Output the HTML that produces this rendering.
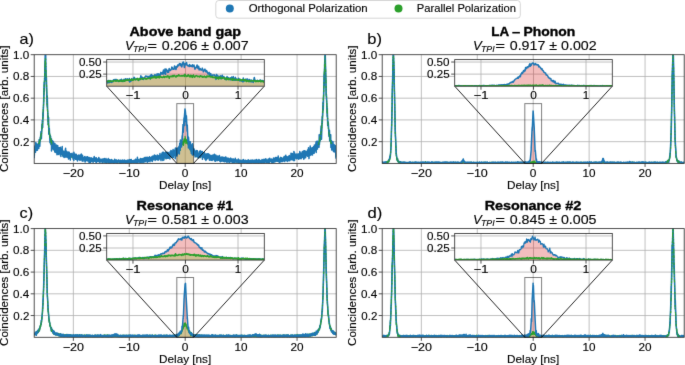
<!DOCTYPE html>
<html><head><meta charset="utf-8"><style>
html,body{margin:0;padding:0;background:#fff;}
svg{display:block;will-change:transform;font-family:"Liberation Sans", sans-serif;}
text{fill:#000;stroke:#000;stroke-width:0.12px;}
text[font-weight=bold]{stroke-width:0.35px;}
</style></head><body>
<svg width="685" height="365" viewBox="0 0 685 365">
<defs><filter id="bl" x="0" y="0" width="685" height="365" filterUnits="userSpaceOnUse" color-interpolation-filters="sRGB"><feConvolveMatrix order="3" kernelMatrix="0.0064 0.0672 0.0064 0.0672 0.7056 0.0672 0.0064 0.0672 0.0064" edgeMode="duplicate"/></filter></defs><g filter="url(#bl)"><rect width="685" height="365" fill="#fff"/>
<clipPath id="clipa"><rect x="34.2" y="54.7" width="302.0" height="108.7"/></clipPath>
<path d="M73.35,54.7V163.4M129.27,54.7V163.4M185.2,54.7V163.4M241.13,54.7V163.4M297.05,54.7V163.4M34.2,141.66H336.2M34.2,119.92H336.2M34.2,98.18H336.2M34.2,76.44H336.2" stroke="#b0b0b0" stroke-width="0.8" fill="none"/>
<g clip-path="url(#clipa)">
<path d="M176.81,150.88 L176.87,156.06 L176.92,154.57 L176.98,150.52 L177.03,155.43 L177.09,152.26 L177.15,154.81 L177.2,150.88 L177.26,151.74 L177.31,154.78 L177.37,152.05 L177.43,153.67 L177.48,152.56 L177.54,148.75 L177.59,150.7 L177.65,150.51 L177.71,147.94 L177.76,150.85 L177.82,148.25 L177.87,150.1 L177.93,150.29 L177.99,151.55 L178.04,152.47 L178.1,152.82 L178.15,152.53 L178.21,149.35 L178.27,149.51 L178.32,152.1 L178.38,147.57 L178.43,151.51 L178.49,150.89 L178.54,152.94 L178.6,151.69 L178.66,147.87 L178.71,148.72 L178.77,150.98 L178.82,146.77 L178.88,149.54 L178.94,149.13 L178.99,146.85 L179.05,148.07 L179.1,149.74 L179.16,151.27 L179.22,145.89 L179.27,154.02 L179.33,150 L179.38,152.46 L179.44,149.71 L179.5,146.32 L179.55,148.92 L179.61,149.02 L179.66,148.04 L179.72,143.25 L179.78,144.48 L179.83,147.04 L179.89,148.96 L179.94,148.27 L180,146.4 L180.05,147.64 L180.11,147.24 L180.17,149.31 L180.22,149.96 L180.28,149.2 L180.33,145.84 L180.39,148.51 L180.45,139.93 L180.5,144.6 L180.56,144.2 L180.61,143.18 L180.67,148.07 L180.73,148.24 L180.78,145.72 L180.84,143.48 L180.89,143.4 L180.95,140.43 L181.01,140.84 L181.06,141.51 L181.12,141.07 L181.17,143.07 L181.23,141.32 L181.29,144.04 L181.34,144.18 L181.4,140.37 L181.45,146.97 L181.51,138.62 L181.56,137.11 L181.62,143.11 L181.68,139.49 L181.73,140.77 L181.79,143.62 L181.84,139.62 L181.9,138.85 L181.96,137.16 L182.01,140.59 L182.07,138.92 L182.12,140.71 L182.18,135.71 L182.24,138.52 L182.29,135.32 L182.35,139.43 L182.4,136.67 L182.46,139.29 L182.52,138.4 L182.57,132.34 L182.63,135.82 L182.68,135.04 L182.74,132.01 L182.8,136.33 L182.85,127.12 L182.91,135.22 L182.96,133.47 L183.02,124.58 L183.07,136.73 L183.13,124.7 L183.19,128.66 L183.24,127.64 L183.3,132.35 L183.35,127.6 L183.41,131.95 L183.47,123.51 L183.52,127.25 L183.58,128.08 L183.63,126.91 L183.69,125.13 L183.75,120.44 L183.8,122.04 L183.86,125.6 L183.91,125.43 L183.97,125.47 L184.03,118.08 L184.08,118.7 L184.14,124.2 L184.19,125.67 L184.25,119.18 L184.31,120.7 L184.36,115.97 L184.42,118.04 L184.47,115.69 L184.53,113.58 L184.58,112.27 L184.64,116.91 L184.7,112.9 L184.75,117.75 L184.81,120.05 L184.86,114.1 L184.92,109.99 L184.98,108.96 L185.03,114.81 L185.09,121.41 L185.14,113.12 L185.2,115.28 L185.26,111.93 L185.31,110.17 L185.37,116.35 L185.42,117.58 L185.48,116.44 L185.54,117.81 L185.59,119.28 L185.65,114.71 L185.7,118.78 L185.76,117.3 L185.82,117.84 L185.87,119.31 L185.93,114.96 L185.98,119.55 L186.04,118.53 L186.09,115.61 L186.15,119.73 L186.21,125.22 L186.26,122.01 L186.32,122.55 L186.37,118.98 L186.43,115.76 L186.49,121.75 L186.54,123.56 L186.6,118.39 L186.65,126.77 L186.71,123.82 L186.77,123.81 L186.82,126.28 L186.88,127.36 L186.93,126.71 L186.99,122.76 L187.05,126.6 L187.1,131.12 L187.16,128.76 L187.21,127.13 L187.27,125.07 L187.33,128.84 L187.38,131.38 L187.44,128.15 L187.49,130.29 L187.55,133.15 L187.6,136.17 L187.66,134.36 L187.72,132.22 L187.77,138.81 L187.83,140.82 L187.88,134.97 L187.94,141.44 L188,141.15 L188.05,138.37 L188.11,138.86 L188.16,138.4 L188.22,138.47 L188.28,137.81 L188.33,139.93 L188.39,142.28 L188.44,148.08 L188.5,137.24 L188.56,138.81 L188.61,139.55 L188.67,141.58 L188.72,144.14 L188.78,140.79 L188.84,142.5 L188.89,146.11 L188.95,140.13 L189,146.71 L189.06,144.37 L189.11,138.97 L189.17,145.74 L189.23,143.43 L189.28,141.42 L189.34,144.26 L189.39,147.97 L189.45,145.86 L189.51,144.94 L189.56,148.68 L189.62,141.65 L189.67,144.55 L189.73,143.76 L189.79,144.99 L189.84,144.88 L189.9,146.8 L189.95,149.61 L190.01,144.64 L190.07,146.29 L190.12,142.81 L190.18,149.38 L190.23,146.4 L190.29,141.84 L190.35,150.16 L190.4,149.92 L190.46,146.78 L190.51,143.53 L190.57,150.27 L190.62,147.53 L190.68,148.2 L190.74,149.17 L190.79,148.59 L190.85,145.39 L190.9,147.94 L190.96,151.3 L191.02,149.85 L191.07,148.37 L191.13,151.79 L191.18,150.33 L191.24,149.79 L191.3,153.61 L191.35,145.07 L191.41,152.73 L191.46,149.18 L191.52,149.79 L191.58,150.81 L191.63,147 L191.69,149.56 L191.74,151.57 L191.8,147.39 L191.86,148.8 L191.91,152.24 L191.97,153.35 L192.02,148.37 L192.08,150.59 L192.13,153.44 L192.19,149.33 L192.25,153.53 L192.3,152.06 L192.36,152.4 L192.41,154.86 L192.47,149.45 L192.53,143.77 L192.58,149.69 L192.64,150.24 L192.69,151.66 L192.75,151.35 L192.81,150.71 L192.86,150.08 L192.92,152.41 L192.97,151.38 L193.03,151.94 L193.09,150.46 L193.14,149.76 L193.2,149.5 L193.25,152.61 L193.31,152.73 L193.37,150.47 L193.42,152.38 L193.48,152.34 L193.53,151.07 L193.59,151.27 L193.59,163.4 L176.81,163.4 Z" fill="#d62728" fill-opacity="0.3"/>
<path d="M176.81,153.13 L176.87,152.66 L176.92,153.42 L176.98,152.05 L177.03,152.13 L177.09,152.99 L177.15,150.87 L177.2,152.46 L177.26,152.56 L177.31,152.62 L177.37,151.87 L177.43,152 L177.48,152.6 L177.54,151.58 L177.59,151.03 L177.65,150.6 L177.71,151.29 L177.76,151.95 L177.82,152.25 L177.87,151.05 L177.93,150.35 L177.99,149.43 L178.04,151.55 L178.1,152.15 L178.15,151.99 L178.21,150.74 L178.27,150.39 L178.32,151.55 L178.38,151.87 L178.43,152.47 L178.49,150.03 L178.54,152 L178.6,150.03 L178.66,150.63 L178.71,152.18 L178.77,151.37 L178.82,149.33 L178.88,150.15 L178.94,150.28 L178.99,148.84 L179.05,149.92 L179.1,149.69 L179.16,149.58 L179.22,149.51 L179.27,148.47 L179.33,149.89 L179.38,148.25 L179.44,147.73 L179.5,149.57 L179.55,148.52 L179.61,149.99 L179.66,148.69 L179.72,147.46 L179.78,147.63 L179.83,148.83 L179.89,147.76 L179.94,147.72 L180,147.98 L180.05,147.83 L180.11,145.92 L180.17,150.37 L180.22,148.24 L180.28,146.63 L180.33,147.52 L180.39,146.94 L180.45,146.86 L180.5,147.28 L180.56,146.91 L180.61,147.59 L180.67,146.7 L180.73,145.78 L180.78,145.4 L180.84,145.78 L180.89,146.47 L180.95,146.49 L181.01,147.75 L181.06,146.04 L181.12,146.73 L181.17,146.34 L181.23,145.85 L181.29,145.29 L181.34,145.09 L181.4,145.1 L181.45,146.2 L181.51,145.36 L181.56,144.01 L181.62,144.75 L181.68,144.06 L181.73,144.32 L181.79,142.61 L181.84,142.3 L181.9,141.16 L181.96,144.29 L182.01,142.86 L182.07,145.08 L182.12,142.71 L182.18,142.87 L182.24,143.71 L182.29,141.51 L182.35,142.86 L182.4,144.68 L182.46,141.12 L182.52,142.59 L182.57,141.67 L182.63,143.22 L182.68,143.25 L182.74,143.67 L182.8,143.41 L182.85,141.23 L182.91,141.33 L182.96,143.78 L183.02,141.78 L183.07,141.66 L183.13,142.5 L183.19,141.18 L183.24,142.37 L183.3,140.22 L183.35,141.63 L183.41,141.02 L183.47,145.26 L183.52,141.66 L183.58,141.02 L183.63,141.74 L183.69,141.19 L183.75,141.99 L183.8,139.77 L183.86,141.98 L183.91,141.07 L183.97,138.92 L184.03,139.19 L184.08,140.57 L184.14,142.02 L184.19,142.75 L184.25,139.89 L184.31,140.09 L184.36,140.67 L184.42,140.63 L184.47,137.67 L184.53,139.11 L184.58,140.14 L184.64,140.37 L184.7,140.51 L184.75,139.66 L184.81,140.35 L184.86,139.89 L184.92,140.53 L184.98,139.07 L185.03,139.67 L185.09,141.35 L185.14,136.41 L185.2,139.6 L185.26,140.51 L185.31,141.44 L185.37,139.85 L185.42,140.71 L185.48,137.89 L185.54,139.34 L185.59,140.73 L185.65,142.18 L185.7,139.06 L185.76,142.11 L185.82,139.5 L185.87,139.97 L185.93,143.52 L185.98,140.52 L186.04,138.24 L186.09,141.38 L186.15,143.08 L186.21,142.47 L186.26,140.55 L186.32,140.15 L186.37,139.55 L186.43,140.29 L186.49,141.83 L186.54,141.28 L186.6,141.09 L186.65,141.07 L186.71,142.46 L186.77,140.25 L186.82,139.79 L186.88,141.33 L186.93,141.07 L186.99,142.84 L187.05,141.16 L187.1,142.45 L187.16,142.64 L187.21,140.72 L187.27,141.6 L187.33,142.41 L187.38,143.9 L187.44,142.02 L187.49,140.2 L187.55,141.85 L187.6,142.05 L187.66,141 L187.72,140.05 L187.77,141.94 L187.83,141.52 L187.88,142.57 L187.94,142.34 L188,142.5 L188.05,141.85 L188.11,143.77 L188.16,142.97 L188.22,143.1 L188.28,143.66 L188.33,144.36 L188.39,142.87 L188.44,144.34 L188.5,145.77 L188.56,143.34 L188.61,145.87 L188.67,143.51 L188.72,147.3 L188.78,144.61 L188.84,142.75 L188.89,145.09 L188.95,143.7 L189,145.53 L189.06,146.06 L189.11,145.65 L189.17,144.43 L189.23,144.2 L189.28,144.18 L189.34,144.88 L189.39,145.99 L189.45,148.22 L189.51,147.01 L189.56,144.74 L189.62,148.16 L189.67,146.08 L189.73,146.26 L189.79,148.59 L189.84,146.6 L189.9,147.49 L189.95,147 L190.01,147.44 L190.07,147.67 L190.12,148.52 L190.18,149.73 L190.23,146.01 L190.29,148.8 L190.35,148.31 L190.4,148.54 L190.46,148.57 L190.51,149.13 L190.57,147.94 L190.62,148.61 L190.68,149.19 L190.74,149.41 L190.79,148.43 L190.85,149.93 L190.9,148.61 L190.96,147.94 L191.02,148.3 L191.07,148.89 L191.13,151.13 L191.18,148.92 L191.24,149.46 L191.3,148.5 L191.35,150.42 L191.41,150.42 L191.46,148.71 L191.52,150.92 L191.58,149.18 L191.63,150.03 L191.69,152.73 L191.74,150.95 L191.8,151.05 L191.86,151.94 L191.91,152.54 L191.97,150.82 L192.02,151.91 L192.08,151.67 L192.13,152 L192.19,151.44 L192.25,150.85 L192.3,150.65 L192.36,150.99 L192.41,151.85 L192.47,151.75 L192.53,151.16 L192.58,150.64 L192.64,151.89 L192.69,153.01 L192.75,151.69 L192.81,151.46 L192.86,152.48 L192.92,151.11 L192.97,152.62 L193.03,152.26 L193.09,152 L193.14,151 L193.2,153.46 L193.25,152.04 L193.31,151.88 L193.37,152.71 L193.42,151.79 L193.48,153.27 L193.53,153.76 L193.59,153.87 L193.59,163.4 L176.81,163.4 Z" fill="#7dc832" fill-opacity="0.3"/>
<path d="M34.2,155.8 L34.9,147.3 L35.2,147.5 L35.2,148.7 L35.6,150.5 L36.1,147.4 L36.2,147.7 L36.2,146.4 L36.5,145.9 L36.7,149.3 L37.2,146.8 L37.2,146.9 L37.4,148.6 L38.2,145.1 L38.2,145.2 L38.6,147.0 L39.1,143.0 L39.2,143.3 L39.2,142.7 L39.4,143.6 L40.1,139.7 L40.2,139.7 L40.2,140.2 L40.3,140.3 L41.2,134.6 L41.2,136.4 L42.2,125.5 L42.3,124.8 L42.4,125.7 L43.1,112.2 L43.2,111.2 L43.3,111.5 L44.1,90.7 L44.2,92.0 L44.2,87.7 L45.1,62.6 L45.2,66.9 L45.2,61.1 L45.3,60.3 L46.2,76.9 L46.2,77.2 L47.1,104.1 L47.2,103.5 L47.2,106.0 L48.2,120.8 L48.2,124.4 L48.3,122.2 L49.2,133.1 L49.2,131.7 L50.1,137.9 L50.2,137.7 L50.3,138.0 L50.8,142.5 L51.1,141.6 L51.2,142.5 L51.3,141.9 L51.7,145.6 L52.2,145.4 L52.2,144.5 L53.1,147.5 L53.2,146.3 L53.2,146.3 L53.8,149.1 L54.2,148.2 L54.2,150.0 L54.3,146.1 L55.2,148.1 L55.2,148.3 L55.3,151.9 L55.8,147.7 L56.2,148.2 L56.2,150.0 L56.7,151.2 L57.0,148.0 L57.2,148.5 L57.2,149.9 L57.6,149.1 L58.1,151.6 L58.2,150.5 L58.2,150.7 L58.8,149.4 L58.9,153.1 L59.2,152.8 L59.3,151.2 L60.0,153.0 L60.1,150.5 L60.1,152.4 L60.2,151.9 L60.5,150.3 L60.9,154.1 L61.2,153.2 L61.2,152.2 L61.3,151.3 L61.4,154.1 L62.2,153.7 L62.2,152.7 L62.8,155.6 L62.9,151.2 L63.2,153.7 L63.2,152.9 L63.8,154.8 L64.0,151.9 L64.2,154.1 L64.2,154.7 L64.5,152.5 L64.7,155.4 L65.2,154.5 L65.2,152.7 L65.7,152.0 L66.1,155.1 L66.2,152.3 L66.2,153.5 L66.4,152.5 L66.9,156.1 L67.2,153.9 L67.3,155.1 L67.5,154.1 L67.6,155.5 L68.1,155.2 L68.2,155.1 L68.3,153.1 L69.2,156.8 L69.2,155.3 L69.9,156.8 L70.0,154.4 L70.2,155.8 L70.2,155.2 L70.3,154.3 L71.2,157.1 L71.2,155.6 L71.7,154.9 L72.1,156.7 L72.2,156.0 L72.2,157.4 L72.3,157.6 L72.8,154.7 L73.2,155.4 L73.2,156.1 L73.5,157.8 L73.9,155.2 L74.2,156.1 L74.2,156.9 L74.8,158.5 L75.1,155.7 L75.2,158.0 L75.2,156.4 L75.6,157.4 L76.1,155.7 L76.1,157.3 L76.2,157.8 L76.8,155.8 L77.2,156.4 L77.2,157.4 L77.5,156.2 L78.0,158.5 L78.2,157.4 L78.2,157.5 L78.3,155.8 L78.4,159.0 L79.2,157.2 L79.2,158.0 L79.3,156.1 L79.7,158.6 L80.2,158.3 L80.2,157.8 L80.9,157.4 L81.0,159.2 L81.2,158.7 L81.2,158.8 L81.3,159.4 L81.8,156.6 L82.2,157.9 L82.2,158.2 L82.3,157.6 L83.1,159.1 L83.2,158.6 L83.2,159.5 L83.7,157.7 L84.2,158.3 L84.3,158.6 L84.5,157.4 L84.6,159.5 L85.1,158.4 L85.2,158.0 L86.0,159.6 L86.2,158.8 L86.2,159.4 L86.9,160.4 L87.1,158.2 L87.2,159.1 L87.2,158.6 L87.8,158.0 L88.2,160.4 L88.2,159.8 L89.1,158.8 L89.2,160.1 L89.2,158.9 L89.9,160.5 L90.2,158.5 L90.2,159.2 L90.7,160.3 L91.1,159.0 L91.2,160.2 L91.2,159.7 L91.4,158.8 L91.6,161.3 L92.2,160.1 L92.3,159.8 L92.5,161.0 L92.9,158.6 L93.1,159.6 L93.2,160.3 L93.7,160.7 L94.0,159.2 L94.2,160.5 L94.2,160.5 L94.5,159.2 L95.1,160.9 L95.2,160.7 L95.2,161.2 L95.7,159.4 L96.0,161.2 L96.2,160.1 L96.2,160.8 L96.4,159.9 L97.1,161.0 L97.2,160.8 L97.2,160.4 L97.7,161.3 L98.1,159.4 L98.2,161.2 L98.2,161.0 L98.6,161.2 L98.6,160.0 L99.2,160.7 L99.2,160.3 L99.7,160.1 L99.9,161.7 L100.2,160.8 L100.2,160.5 L100.3,161.1 L100.4,159.9 L101.2,161.0 L101.3,160.2 L101.5,159.8 L102.2,161.5 L102.2,160.6 L102.7,161.6 L103.0,160.5 L103.2,161.1 L103.2,161.1 L103.4,161.7 L103.9,160.1 L104.2,161.6 L104.2,160.2 L104.6,162.0 L105.2,160.5 L105.2,160.8 L106.1,161.7 L106.1,160.7 L106.2,161.1 L106.2,162.1 L106.3,160.7 L106.8,162.2 L107.2,160.9 L107.2,160.7 L107.4,160.4 L108.2,162.2 L108.2,161.6 L108.5,160.6 L108.9,161.9 L109.2,160.9 L109.3,161.2 L109.9,160.7 L110.0,161.9 L110.1,161.7 L110.2,161.9 L110.8,160.6 L110.9,162.0 L111.2,160.9 L111.2,161.1 L111.3,160.7 L111.4,162.1 L112.2,161.2 L112.2,161.7 L112.3,160.4 L112.8,162.2 L113.2,161.8 L113.2,161.3 L113.8,162.0 L114.1,161.1 L114.2,161.8 L114.2,161.6 L114.7,161.8 L114.8,160.9 L115.2,161.5 L115.2,160.9 L116.1,162.2 L116.2,161.5 L116.2,161.4 L116.5,160.4 L117.0,161.9 L117.2,161.1 L117.3,161.7 L117.3,160.7 L118.0,162.0 L118.1,161.4 L118.2,161.6 L118.9,161.0 L119.1,162.2 L119.2,161.7 L119.2,161.6 L119.7,162.3 L119.8,160.9 L120.2,161.5 L120.2,161.4 L120.3,160.8 L120.9,162.1 L121.2,162.1 L121.2,162.0 L121.6,161.1 L122.1,162.2 L122.2,161.7 L122.2,161.7 L123.1,161.1 L123.2,162.2 L123.2,161.7 L123.6,160.7 L123.8,162.0 L124.2,162.0 L124.2,161.7 L124.6,161.9 L124.7,161.3 L125.2,161.7 L125.2,161.6 L125.5,161.0 L126.2,162.1 L126.3,161.1 L127.0,161.7 L127.1,160.8 L127.1,161.2 L127.2,161.4 L127.3,161.9 L127.4,160.9 L128.2,161.7 L128.2,161.6 L129.0,160.9 L129.1,162.1 L129.2,161.3 L129.2,161.4 L129.4,160.5 L129.6,162.0 L130.2,161.5 L130.2,162.1 L131.0,160.6 L131.2,161.0 L131.2,160.0 L131.6,162.0 L132.2,161.3 L132.2,161.2 L132.9,160.7 L133.1,161.6 L133.2,161.3 L133.2,161.1 L133.9,161.9 L134.0,160.6 L134.2,161.3 L134.3,160.8 L134.4,160.5 L134.7,161.4 L135.1,160.7 L135.2,161.1 L135.5,161.5 L135.8,160.2 L136.2,160.6 L136.2,160.9 L136.4,161.6 L136.8,160.2 L137.2,160.9 L137.2,160.5 L137.4,161.5 L137.8,159.8 L138.2,160.0 L138.2,160.6 L138.3,159.9 L138.5,161.4 L139.2,160.9 L139.2,160.5 L139.5,159.9 L140.0,161.6 L140.2,160.5 L140.2,159.6 L140.6,161.9 L141.2,160.1 L141.2,160.3 L141.4,161.1 L141.5,159.6 L142.2,160.4 L142.2,159.4 L143.0,158.9 L143.1,161.0 L143.2,159.7 L143.3,160.1 L143.3,160.5 L143.6,158.3 L144.2,159.8 L144.2,160.1 L144.8,159.2 L145.0,160.7 L145.2,160.0 L145.2,159.2 L145.3,160.8 L145.6,158.9 L146.2,160.4 L146.2,160.3 L146.5,159.0 L146.6,160.5 L147.2,160.0 L147.2,159.1 L147.3,158.6 L147.5,160.4 L148.2,159.1 L148.2,159.0 L148.5,159.8 L148.6,158.7 L149.2,158.9 L149.2,159.1 L149.5,160.4 L149.9,158.4 L150.2,159.3 L150.2,158.7 L150.6,159.8 L150.9,158.1 L151.2,158.9 L151.3,158.7 L151.4,159.4 L151.9,157.6 L152.1,158.5 L152.2,158.1 L152.3,157.9 L153.1,159.2 L153.2,158.2 L153.2,157.8 L153.8,159.3 L153.9,157.1 L154.2,158.5 L154.2,157.9 L154.7,157.5 L155.1,159.0 L155.2,158.0 L155.2,158.7 L155.4,158.9 L156.0,156.9 L156.2,157.1 L156.2,157.8 L156.8,156.7 L156.9,159.1 L157.2,157.2 L157.2,159.2 L157.3,156.3 L158.2,157.2 L158.2,158.2 L158.7,156.0 L158.7,159.1 L159.2,157.8 L159.3,157.2 L159.4,158.7 L160.0,155.7 L160.1,157.6 L160.2,157.2 L160.6,158.8 L161.0,155.3 L161.2,156.3 L161.2,157.9 L161.5,158.4 L162.2,155.0 L162.2,155.9 L162.6,157.6 L162.7,154.8 L163.2,156.4 L163.2,155.7 L163.7,157.5 L163.8,155.5 L164.2,156.1 L164.2,156.0 L164.7,154.5 L165.1,158.5 L165.2,156.6 L165.2,156.2 L165.7,157.3 L166.1,155.0 L166.2,155.9 L166.2,156.9 L166.6,157.9 L166.9,154.1 L167.2,155.5 L167.2,155.5 L168.1,156.6 L168.2,154.0 L168.3,155.2 L168.5,157.2 L168.9,154.0 L169.1,155.1 L169.2,155.9 L169.4,156.4 L169.7,153.7 L170.2,155.4 L170.2,155.0 L170.8,156.2 L171.0,154.2 L171.2,154.3 L171.2,154.8 L171.7,156.9 L171.8,154.0 L172.2,155.6 L172.2,154.8 L172.9,156.4 L173.2,153.2 L173.2,153.8 L173.6,153.4 L173.7,155.9 L174.2,154.4 L174.2,154.4 L174.9,155.7 L175.0,152.7 L175.2,153.7 L175.2,154.9 L175.5,155.2 L176.1,152.5 L176.2,154.2 L176.3,154.1 L177.1,150.9 L177.2,152.5 L177.3,152.6 L178.0,149.4 L178.2,152.0 L178.2,150.7 L178.4,152.5 L179.0,148.8 L179.2,149.6 L179.2,149.5 L180.1,145.9 L180.2,150.4 L180.2,148.2 L180.8,145.4 L181.2,146.3 L181.2,145.8 L181.5,146.2 L181.9,141.2 L182.2,142.9 L182.2,143.7 L182.4,144.7 L182.5,141.1 L183.2,141.2 L183.2,142.4 L183.5,145.3 L184.0,138.9 L184.2,142.7 L184.2,139.9 L185.1,141.3 L185.1,136.4 L185.2,139.6 L185.5,137.9 L185.9,143.5 L186.2,143.1 L186.2,142.5 L186.4,139.5 L187.0,142.8 L187.2,142.6 L187.2,140.7 L187.4,143.9 L187.7,140.1 L188.2,143.0 L188.2,143.1 L188.7,147.3 L188.8,142.7 L189.2,144.4 L189.2,144.2 L189.3,144.2 L190.2,149.7 L190.2,146.0 L191.1,151.1 L191.2,148.9 L191.2,149.5 L191.3,148.5 L191.7,152.7 L192.2,151.4 L192.2,150.9 L192.6,150.6 L193.2,153.5 L193.3,152.0 L193.9,151.8 L194.1,154.8 L194.1,153.2 L194.2,152.2 L194.4,152.1 L194.5,154.6 L195.2,153.6 L195.2,154.8 L195.5,155.3 L195.9,152.1 L196.2,153.4 L196.2,154.3 L196.3,152.2 L196.8,156.8 L197.2,154.5 L197.2,155.4 L197.6,152.6 L197.8,155.4 L198.2,155.4 L198.2,154.8 L198.5,156.0 L198.8,153.6 L199.2,155.7 L199.2,154.5 L199.5,153.6 L200.2,157.1 L200.2,155.2 L200.5,154.2 L200.6,157.4 L201.2,155.1 L201.3,156.6 L202.0,153.8 L202.1,155.7 L202.2,155.6 L202.3,154.1 L203.1,156.8 L203.2,155.7 L203.2,155.5 L203.8,154.1 L204.0,156.9 L204.2,156.1 L204.2,155.4 L204.6,157.2 L205.2,154.8 L205.2,156.3 L205.5,157.0 L205.9,154.4 L206.2,156.2 L206.2,156.8 L207.0,155.7 L207.1,158.1 L207.2,156.0 L207.2,155.8 L207.5,158.3 L208.0,154.9 L208.2,156.8 L208.2,155.8 L208.7,157.7 L209.2,157.2 L209.2,157.6 L209.3,156.0 L209.5,157.9 L210.2,156.7 L210.3,157.2 L210.7,156.4 L210.8,158.1 L211.1,156.5 L211.2,157.8 L211.8,156.3 L212.1,158.8 L212.2,157.5 L212.2,157.9 L212.4,158.4 L212.6,156.5 L213.2,157.9 L213.2,157.8 L213.7,158.8 L214.2,156.6 L214.2,158.5 L214.3,156.6 L215.2,158.5 L215.2,158.4 L215.9,157.1 L216.2,160.1 L216.2,158.1 L216.6,159.2 L217.0,157.2 L217.2,157.8 L217.2,157.7 L217.4,159.7 L217.6,157.3 L218.2,158.2 L218.3,160.1 L218.6,157.7 L219.1,158.3 L219.2,159.0 L219.4,159.6 L220.0,158.1 L220.2,158.3 L220.2,159.4 L220.9,158.3 L221.1,160.0 L221.2,159.2 L221.2,158.1 L221.6,160.4 L222.2,159.3 L222.2,159.1 L223.1,158.4 L223.2,160.4 L223.2,160.0 L224.0,160.6 L224.1,159.0 L224.2,160.1 L224.2,159.1 L224.3,160.8 L225.2,159.9 L225.2,160.7 L225.4,160.8 L225.5,159.1 L226.2,159.9 L226.2,160.1 L227.0,159.4 L227.1,160.6 L227.1,160.0 L227.2,160.9 L227.5,159.6 L228.0,160.9 L228.2,160.6 L228.2,160.0 L228.7,161.1 L229.1,159.0 L229.2,160.1 L229.2,160.2 L229.4,161.3 L229.4,159.7 L230.2,160.5 L230.2,161.3 L230.3,159.8 L230.6,161.5 L231.2,160.9 L231.2,160.6 L231.7,161.2 L231.9,159.9 L232.2,160.5 L232.2,160.4 L232.6,160.0 L232.9,161.6 L233.2,160.3 L233.2,160.4 L233.4,161.9 L234.2,160.4 L234.2,160.4 L235.0,161.7 L235.2,160.1 L235.3,160.5 L235.5,160.3 L235.8,161.9 L236.1,160.7 L236.2,161.8 L236.3,160.4 L237.2,161.2 L237.2,161.1 L237.8,160.8 L237.9,162.1 L238.2,162.0 L238.2,160.4 L238.3,160.3 L238.8,162.0 L239.2,161.0 L239.2,161.7 L239.3,160.5 L239.9,161.7 L240.2,161.1 L240.2,161.4 L240.6,160.4 L240.8,161.8 L241.2,161.3 L241.2,161.4 L242.0,161.8 L242.1,161.0 L242.2,161.3 L242.2,161.2 L243.0,161.1 L243.2,162.3 L243.3,161.6 L243.3,162.1 L243.6,160.7 L244.1,161.8 L244.2,161.4 L244.4,160.9 L244.8,162.3 L245.2,162.2 L245.2,161.5 L245.7,161.0 L245.9,162.1 L246.2,161.4 L246.2,161.8 L246.8,162.0 L246.9,160.6 L247.2,161.5 L247.2,161.2 L248.0,162.4 L248.2,161.1 L248.2,162.0 L248.3,162.0 L248.7,160.7 L249.2,161.0 L249.2,161.3 L249.7,161.1 L249.8,162.3 L250.2,161.5 L250.2,161.2 L250.4,161.2 L251.1,162.2 L251.2,161.7 L251.2,161.1 L251.4,160.9 L252.2,162.4 L252.3,162.0 L252.5,160.9 L253.2,161.2 L253.2,162.2 L253.4,160.7 L253.7,162.3 L254.2,161.9 L254.2,161.1 L254.7,161.9 L255.1,160.9 L255.2,161.3 L255.2,161.6 L255.4,162.1 L255.9,160.8 L256.2,161.6 L256.2,161.5 L256.7,162.0 L256.7,160.8 L257.2,161.4 L257.2,161.6 L257.7,162.1 L258.0,160.7 L258.2,161.1 L258.2,161.8 L258.4,160.4 L258.9,161.9 L259.2,161.4 L259.2,161.1 L259.4,160.7 L260.2,162.2 L260.3,160.6 L260.6,162.0 L261.1,161.3 L261.2,160.7 L261.7,162.0 L261.8,160.5 L262.2,161.0 L262.2,161.8 L262.7,160.6 L263.2,161.0 L263.2,160.8 L263.4,160.5 L263.8,162.2 L264.2,161.5 L264.2,160.9 L264.8,160.3 L265.1,161.5 L265.2,161.2 L265.2,161.2 L265.8,161.5 L266.1,160.3 L266.2,160.7 L266.2,160.7 L266.4,160.3 L266.6,161.8 L267.2,161.5 L267.2,160.9 L267.6,161.5 L267.8,160.2 L268.2,160.2 L268.3,160.8 L268.5,161.4 L268.5,159.9 L269.1,161.2 L269.2,160.4 L269.3,159.8 L269.7,161.7 L270.2,159.8 L270.2,159.6 L270.9,161.5 L271.2,160.5 L271.2,160.5 L271.4,159.7 L271.9,161.5 L272.2,160.6 L272.2,160.2 L272.6,161.2 L272.9,159.5 L273.2,160.9 L273.2,159.6 L273.3,161.0 L274.1,159.5 L274.2,159.7 L274.2,160.3 L274.3,161.7 L274.7,159.4 L275.2,159.6 L275.2,160.4 L275.4,161.3 L276.1,159.5 L276.2,159.9 L276.2,161.1 L276.3,159.1 L277.2,159.6 L277.3,159.7 L277.4,160.6 L277.4,158.8 L278.1,159.9 L278.2,159.2 L278.4,159.1 L278.7,160.8 L279.2,159.8 L279.2,159.9 L279.4,160.7 L279.8,158.6 L280.2,159.8 L280.2,158.6 L280.4,160.9 L281.2,158.1 L281.2,158.2 L281.3,157.9 L282.1,159.9 L282.2,159.0 L282.2,158.6 L282.7,160.4 L283.1,158.0 L283.2,158.9 L283.2,159.1 L283.6,159.5 L283.9,157.9 L284.2,159.5 L284.2,158.2 L284.6,157.5 L284.9,159.4 L285.2,158.9 L285.3,158.5 L285.3,159.0 L286.0,157.7 L286.1,159.0 L286.2,158.7 L286.6,158.0 L287.0,159.9 L287.2,158.4 L287.2,158.7 L287.3,159.9 L287.4,157.6 L288.2,158.0 L288.2,159.0 L288.4,157.4 L289.0,159.3 L289.2,157.5 L289.2,158.3 L289.3,159.0 L290.1,157.1 L290.2,158.6 L290.2,157.7 L290.3,157.0 L291.1,158.7 L291.2,157.2 L291.2,157.6 L292.0,156.0 L292.1,158.3 L292.2,157.8 L292.2,157.2 L292.6,158.7 L292.7,156.2 L293.2,157.6 L293.2,157.0 L293.8,157.8 L293.9,155.8 L294.2,156.0 L294.3,157.1 L294.3,157.6 L294.4,154.4 L295.2,156.6 L295.2,157.6 L295.8,157.7 L296.2,155.5 L296.2,156.0 L296.4,158.1 L296.5,155.1 L297.2,156.3 L297.2,156.5 L297.3,155.1 L298.0,157.3 L298.2,156.4 L298.2,156.1 L298.5,156.8 L299.2,154.9 L299.2,155.4 L299.6,154.1 L300.2,157.0 L300.2,155.9 L300.6,154.5 L300.7,156.9 L301.2,154.8 L301.2,155.9 L301.4,156.7 L301.9,153.6 L302.2,156.2 L302.3,155.2 L302.5,153.3 L302.7,156.1 L303.1,153.6 L303.2,153.9 L303.8,153.1 L304.2,155.7 L304.2,154.1 L304.8,152.3 L304.9,155.4 L305.2,153.9 L305.2,153.1 L305.5,155.5 L306.2,152.0 L306.2,153.6 L307.0,151.3 L307.1,154.5 L307.2,152.4 L307.2,153.4 L307.9,154.2 L308.1,151.8 L308.2,153.5 L308.2,153.1 L308.6,150.8 L308.7,153.4 L309.2,152.4 L309.2,151.8 L309.7,150.6 L309.9,153.5 L310.2,152.5 L310.3,152.3 L310.7,152.7 L311.0,150.1 L311.1,151.1 L311.2,153.6 L311.4,150.0 L312.2,150.5 L312.2,150.9 L312.3,151.5 L312.9,149.1 L313.2,149.5 L313.2,149.5 L313.7,151.6 L314.2,147.6 L314.2,150.0 L314.4,150.7 L314.8,147.0 L315.2,147.6 L315.2,148.7 L315.9,146.3 L316.0,150.8 L316.2,148.4 L316.2,148.3 L316.3,146.0 L316.5,149.3 L317.2,148.4 L317.2,146.7 L318.2,144.4 L318.2,144.3 L318.3,145.1 L319.2,141.8 L319.3,141.6 L319.5,142.3 L320.1,138.0 L320.2,137.7 L320.3,138.7 L321.2,131.7 L321.2,131.7 L321.3,133.4 L322.1,122.2 L322.2,124.1 L322.2,120.8 L322.3,121.9 L323.2,104.7 L323.2,103.9 L324.2,78.5 L324.2,75.5 L325.0,60.2 L325.2,61.5 L325.2,63.0 L325.3,62.6 L326.2,88.8 L326.2,91.7 L327.1,112.6 L327.2,111.2 L327.3,112.2 L327.9,125.5 L328.1,124.8 L328.2,125.5 L329.0,133.9 L329.2,133.7 L329.2,135.2 L329.3,134.9 L330.0,140.5 L330.2,139.2 L330.2,139.7 L331.1,143.9 L331.2,143.3 L331.2,143.5 L331.3,143.0 L332.2,146.5 L332.2,145.7 L332.3,145.2 L332.7,147.6 L333.2,147.1 L333.2,146.7 L333.6,145.5 L333.7,149.5 L334.2,147.1 L334.2,148.1 L334.3,145.9 L335.0,151.2 L335.2,148.4 L335.2,148.7 L335.5,147.5 L336.1,156.7 L336.2,156.1" fill="none" stroke="#2ca02c" stroke-width="1.2" stroke-linejoin="round"/>
<path d="M34.2,158.2 L34.8,146.0 L35.2,151.9 L35.2,147.8 L35.5,152.2 L35.8,142.4 L36.2,146.7 L36.2,146.2 L36.3,150.5 L36.8,144.1 L37.2,145.5 L37.2,145.2 L37.4,150.2 L38.0,143.9 L38.2,147.8 L38.2,145.0 L38.8,148.4 L39.1,139.8 L39.2,140.3 L39.2,143.0 L39.8,146.2 L40.2,137.2 L40.2,138.6 L40.3,140.2 L41.0,131.6 L41.2,133.3 L41.2,133.6 L41.4,138.8 L41.9,124.5 L42.2,127.8 L42.3,120.4 L42.7,127.5 L42.9,113.1 L43.1,117.2 L43.2,114.9 L44.2,82.2 L44.2,86.0 L44.4,91.4 L45.2,54.7 L45.2,59.8 L45.7,54.5 L46.1,80.3 L46.2,77.8 L46.2,81.1 L46.4,77.3 L47.1,104.9 L47.2,95.9 L47.2,106.2 L47.3,96.9 L48.0,122.0 L48.2,116.6 L48.2,125.0 L48.6,117.4 L48.8,134.3 L49.2,130.6 L49.2,130.1 L49.3,128.2 L50.0,142.7 L50.2,135.3 L50.3,139.5 L50.6,136.3 L50.9,144.6 L51.1,144.5 L51.2,141.1 L51.5,139.1 L51.5,150.9 L52.2,143.4 L52.2,143.6 L52.3,149.1 L52.4,140.8 L53.2,141.5 L53.2,147.5 L53.6,142.3 L53.7,149.8 L54.2,149.4 L54.2,144.9 L54.8,151.9 L54.9,143.4 L55.2,146.4 L55.2,149.6 L55.8,152.4 L55.9,145.4 L56.2,148.2 L56.2,148.3 L56.3,144.9 L57.0,154.7 L57.2,148.6 L57.2,148.2 L57.5,153.6 L57.7,145.5 L58.2,150.7 L58.2,149.7 L58.5,154.5 L58.7,147.9 L59.2,153.4 L59.3,149.4 L59.4,147.7 L60.0,154.0 L60.1,149.5 L60.2,155.0 L60.4,147.3 L60.9,156.4 L61.2,152.9 L61.2,150.5 L61.3,154.5 L62.2,146.6 L62.2,148.6 L63.0,156.5 L63.2,155.1 L63.2,153.4 L63.6,151.2 L64.1,157.4 L64.2,154.8 L64.2,153.6 L64.6,151.8 L65.0,156.9 L65.2,154.6 L65.2,150.5 L65.6,148.3 L65.7,157.1 L66.2,156.1 L66.2,154.9 L66.6,151.3 L66.9,156.9 L67.2,153.6 L67.3,154.3 L67.8,157.5 L68.1,151.9 L68.2,152.0 L68.5,159.0 L69.2,156.0 L69.2,155.1 L69.3,152.3 L70.2,159.0 L70.2,154.9 L70.3,160.1 L70.7,153.7 L71.2,154.5 L71.2,154.2 L72.1,153.3 L72.2,156.7 L72.2,157.0 L72.8,154.6 L73.1,159.1 L73.2,156.8 L73.2,156.9 L73.8,160.4 L73.9,152.3 L74.2,155.8 L74.2,155.4 L74.3,158.8 L74.7,153.9 L75.2,156.3 L75.2,155.6 L75.7,159.3 L75.8,154.2 L76.1,156.5 L76.2,156.2 L76.5,154.6 L77.0,160.0 L77.2,157.4 L77.2,155.5 L77.5,160.9 L78.2,157.8 L78.2,157.7 L78.4,159.5 L78.8,154.9 L79.2,158.1 L79.2,158.1 L79.9,160.4 L80.1,156.0 L80.2,158.0 L80.2,159.4 L80.3,154.9 L80.7,159.8 L81.2,158.3 L81.2,157.6 L81.3,154.0 L82.0,160.6 L82.2,159.2 L82.2,161.0 L82.5,155.2 L83.0,161.2 L83.2,158.7 L83.2,160.3 L84.2,157.2 L84.3,157.1 L85.0,161.8 L85.0,156.6 L85.1,157.3 L85.2,162.0 L85.4,157.6 L86.2,159.6 L86.2,159.6 L86.7,160.7 L86.9,156.8 L87.2,160.2 L87.2,158.7 L87.7,156.8 L87.8,161.1 L88.2,158.9 L88.2,158.7 L88.5,157.8 L89.1,162.6 L89.2,158.7 L89.2,162.3 L89.5,162.4 L89.8,157.6 L90.2,158.2 L90.2,158.7 L90.3,162.6 L91.1,158.0 L91.2,160.2 L91.2,159.5 L91.4,158.0 L91.5,161.5 L92.2,159.3 L92.3,160.0 L92.7,158.6 L93.1,162.4 L93.1,160.8 L93.2,158.3 L93.3,158.2 L93.7,160.8 L94.2,159.1 L94.2,156.4 L94.5,161.2 L95.2,159.2 L95.2,160.0 L95.5,157.9 L95.7,162.0 L96.2,159.0 L96.2,160.4 L96.3,157.7 L96.4,162.6 L97.2,159.3 L97.2,161.0 L97.6,159.1 L98.0,161.5 L98.2,159.6 L98.2,160.5 L98.8,157.4 L99.2,161.3 L99.2,160.5 L99.4,162.2 L99.5,158.8 L100.2,160.6 L100.2,160.3 L100.4,159.3 L100.5,162.1 L101.2,160.0 L101.3,161.0 L101.5,161.6 L102.0,159.1 L102.2,161.5 L102.2,162.2 L102.3,163.0 L103.2,158.9 L103.2,161.2 L103.5,159.6 L103.6,162.1 L104.2,160.8 L104.2,160.8 L104.4,158.4 L105.1,162.5 L105.2,160.9 L105.2,162.3 L105.5,162.5 L106.0,158.5 L106.2,160.8 L106.2,160.6 L106.6,163.4 L106.9,159.7 L107.2,162.1 L107.2,160.3 L107.4,161.9 L108.2,158.6 L108.2,161.9 L108.7,159.7 L108.9,163.3 L109.2,161.9 L109.3,160.7 L109.6,159.5 L110.1,163.2 L110.2,161.6 L110.4,159.9 L110.7,162.6 L111.2,161.0 L111.2,160.0 L111.5,162.7 L111.7,159.6 L112.2,160.8 L112.2,160.5 L112.8,162.6 L113.2,161.6 L113.2,161.1 L113.6,163.4 L114.0,160.3 L114.2,162.3 L114.2,163.1 L114.7,159.2 L115.2,161.8 L115.2,161.6 L115.5,162.6 L116.0,160.0 L116.2,162.1 L116.2,161.4 L116.6,162.8 L116.8,160.0 L117.2,161.0 L117.3,163.4 L117.3,160.5 L118.1,161.3 L118.2,161.3 L118.8,159.9 L119.2,163.4 L119.2,160.7 L119.3,160.6 L120.0,163.4 L120.2,160.9 L120.2,161.6 L120.9,160.1 L121.0,163.4 L121.2,162.2 L121.2,161.4 L121.4,160.4 L122.2,162.7 L122.2,161.8 L122.6,162.6 L122.7,160.1 L123.2,161.5 L123.2,160.6 L123.3,163.0 L124.2,161.6 L124.2,162.1 L124.4,159.9 L124.9,162.5 L125.2,161.4 L125.2,160.8 L125.4,163.4 L125.6,160.5 L126.2,161.6 L126.3,162.3 L126.4,162.8 L127.1,160.3 L127.2,162.9 L127.4,163.2 L127.4,160.3 L128.2,161.2 L128.2,161.9 L128.7,160.0 L129.2,163.1 L129.2,161.1 L129.8,163.0 L129.8,159.4 L130.2,160.4 L130.2,160.3 L130.9,162.8 L131.2,159.8 L131.2,161.3 L131.3,159.5 L131.7,162.7 L132.2,161.4 L132.2,161.0 L132.4,160.7 L132.7,162.3 L133.2,160.8 L133.2,161.9 L133.6,162.7 L134.2,160.1 L134.3,160.3 L134.4,160.1 L134.8,162.6 L135.1,161.3 L135.2,161.3 L135.8,159.1 L136.2,162.6 L136.2,162.2 L136.3,163.0 L136.7,159.9 L137.2,161.8 L137.2,162.3 L137.4,157.3 L137.6,162.9 L138.2,160.6 L138.2,160.4 L138.3,159.4 L138.9,161.9 L139.2,160.6 L139.2,160.8 L140.0,162.6 L140.2,158.8 L140.2,160.0 L140.7,158.5 L141.1,162.6 L141.2,160.3 L141.2,160.5 L141.3,158.7 L142.1,162.1 L142.2,159.0 L142.2,159.8 L142.9,158.8 L143.0,162.7 L143.2,158.8 L143.3,158.4 L143.3,158.3 L144.2,162.1 L144.2,160.9 L144.8,157.5 L144.9,161.1 L145.2,159.8 L145.2,159.6 L145.3,161.7 L146.0,157.3 L146.2,159.3 L146.2,161.0 L147.0,157.6 L147.1,161.2 L147.2,159.0 L147.2,162.4 L147.6,157.3 L148.2,158.3 L148.2,160.1 L148.4,161.6 L149.1,157.2 L149.2,159.6 L149.2,159.3 L149.6,156.7 L150.0,161.7 L150.2,159.5 L150.2,160.7 L151.1,157.4 L151.2,159.3 L151.3,158.8 L151.8,160.9 L152.0,156.4 L152.1,158.0 L152.2,157.3 L152.3,161.4 L153.0,155.9 L153.2,159.7 L153.2,159.3 L153.3,159.8 L154.0,156.3 L154.2,158.6 L154.2,158.7 L154.4,155.1 L155.1,160.4 L155.2,158.7 L155.2,158.2 L155.3,159.9 L155.5,155.4 L156.2,159.4 L156.2,156.0 L157.1,159.6 L157.2,157.5 L157.2,159.4 L157.3,154.9 L157.9,160.1 L158.2,156.8 L158.2,158.7 L158.6,160.0 L158.9,155.6 L159.2,156.1 L159.3,158.2 L159.5,158.9 L160.0,153.4 L160.1,157.8 L160.2,156.6 L160.5,154.9 L161.0,160.6 L161.2,155.5 L161.2,158.1 L162.0,153.0 L162.2,157.4 L162.2,157.8 L162.8,160.4 L162.8,152.3 L163.2,156.1 L163.2,156.2 L163.6,152.3 L163.9,160.0 L164.2,155.8 L164.2,155.0 L164.6,157.4 L165.2,152.5 L165.2,155.4 L165.7,152.1 L166.0,158.8 L166.2,158.6 L166.2,158.0 L166.5,152.8 L167.2,156.6 L167.2,155.1 L167.5,158.2 L167.8,152.3 L168.2,155.8 L168.3,155.1 L168.4,158.3 L168.6,152.8 L169.1,155.1 L169.2,154.5 L169.9,159.0 L170.2,151.4 L170.2,152.9 L170.8,155.8 L170.9,150.6 L171.2,151.9 L171.2,156.2 L171.8,151.0 L172.2,156.3 L172.2,157.2 L173.1,149.6 L173.2,155.3 L173.2,151.7 L173.3,157.6 L173.8,150.4 L174.2,153.7 L174.2,150.4 L174.6,155.3 L175.2,148.8 L175.2,158.7 L175.5,148.0 L176.2,155.1 L176.3,154.0 L176.4,148.3 L176.9,156.1 L177.1,154.8 L177.2,150.9 L177.3,154.8 L177.7,147.9 L178.2,152.5 L178.2,149.4 L178.5,152.9 L178.8,146.8 L179.2,151.3 L179.2,145.9 L179.3,154.0 L179.7,143.2 L180.2,149.3 L180.2,150.0 L180.4,139.9 L181.2,143.1 L181.2,141.3 L181.5,147.0 L182.2,135.7 L182.2,138.5 L182.3,139.4 L183.0,124.6 L183.2,128.7 L183.2,127.6 L183.3,132.3 L184.0,118.1 L184.2,125.7 L184.2,119.2 L185.0,109.0 L185.1,121.4 L185.1,113.1 L185.2,115.3 L185.3,110.2 L186.2,119.7 L186.2,125.2 L186.4,115.8 L187.1,131.1 L187.2,128.8 L187.2,127.1 L187.3,125.1 L187.9,141.4 L188.2,138.4 L188.2,138.5 L188.4,148.1 L188.5,137.2 L189.2,145.7 L189.2,143.4 L189.3,141.4 L190.0,149.6 L190.2,149.4 L190.2,146.4 L190.3,141.8 L191.1,151.8 L191.2,150.3 L191.2,149.8 L191.3,153.6 L191.4,145.1 L192.2,149.3 L192.2,153.5 L192.4,154.9 L192.5,143.8 L193.2,149.5 L193.3,152.6 L193.9,154.8 L194.1,149.0 L194.1,154.3 L194.2,150.3 L194.7,150.2 L195.1,157.0 L195.2,151.7 L195.2,152.0 L195.5,151.2 L195.9,155.3 L196.2,154.3 L196.2,153.2 L196.3,156.3 L196.7,150.5 L197.2,151.5 L197.2,153.9 L197.3,150.7 L197.5,157.0 L198.2,154.9 L198.2,155.0 L198.3,157.9 L199.2,151.9 L199.2,152.1 L199.5,151.2 L200.0,157.7 L200.2,154.5 L200.2,151.5 L200.6,150.9 L201.0,156.5 L201.2,151.5 L201.3,153.5 L201.4,151.9 L201.9,156.5 L202.1,155.4 L202.2,155.1 L202.3,151.6 L202.4,159.3 L203.2,154.4 L203.2,155.8 L203.9,157.5 L204.0,152.4 L204.2,155.2 L204.2,155.0 L204.5,152.8 L204.9,159.1 L205.2,155.4 L205.2,157.0 L205.4,154.4 L205.9,160.5 L206.2,156.2 L206.2,154.0 L206.8,159.3 L207.2,154.9 L207.2,153.8 L207.5,158.2 L208.2,153.7 L208.2,156.1 L208.9,154.3 L209.1,159.3 L209.2,155.8 L209.2,155.1 L209.5,160.2 L209.7,154.9 L210.2,156.5 L210.3,157.0 L210.5,155.4 L210.9,160.2 L211.1,155.9 L211.2,156.6 L212.0,155.4 L212.1,160.6 L212.2,157.5 L212.2,155.8 L212.9,159.2 L213.1,155.1 L213.2,158.3 L213.2,156.7 L213.4,159.7 L213.9,155.7 L214.2,158.4 L214.2,155.4 L214.4,154.2 L214.8,161.0 L215.2,158.0 L215.2,158.3 L215.4,161.2 L215.8,155.1 L216.2,157.3 L216.2,158.4 L216.5,156.1 L217.0,160.7 L217.2,159.1 L217.2,157.7 L217.3,160.6 L217.6,156.0 L218.2,158.7 L218.3,157.3 L218.6,160.3 L218.6,156.5 L219.1,160.1 L219.2,157.6 L219.4,155.6 L219.6,161.0 L220.2,159.7 L220.2,159.4 L220.4,161.8 L220.6,157.4 L221.2,159.5 L221.2,158.6 L221.3,157.1 L221.8,161.2 L222.2,160.9 L222.2,159.8 L222.6,161.1 L222.7,156.9 L223.2,158.5 L223.2,161.2 L223.7,157.5 L224.2,158.5 L224.2,161.8 L225.1,157.2 L225.2,158.3 L225.2,159.1 L225.4,161.6 L225.8,156.9 L226.2,159.9 L226.2,160.5 L226.3,157.8 L226.9,162.3 L227.1,160.4 L227.2,159.9 L227.7,158.1 L227.8,161.8 L228.2,160.5 L228.2,160.7 L228.4,161.8 L228.7,158.3 L229.2,159.9 L229.2,160.6 L229.3,162.6 L229.7,159.4 L230.2,159.8 L230.2,159.6 L230.7,158.1 L230.9,162.0 L231.2,161.3 L231.2,160.2 L231.3,161.9 L231.3,158.8 L232.2,159.8 L232.2,161.7 L232.6,158.9 L232.7,162.8 L233.2,160.8 L233.2,160.0 L233.5,159.0 L234.2,162.6 L234.2,161.0 L234.5,162.2 L235.0,159.5 L235.2,160.9 L235.3,158.2 L235.6,162.0 L236.1,160.1 L236.2,162.1 L236.4,160.0 L236.9,162.4 L237.2,161.5 L237.2,161.7 L237.8,159.7 L238.0,161.9 L238.2,160.6 L238.2,160.9 L238.3,159.0 L238.6,163.4 L239.2,161.0 L239.2,163.4 L239.6,160.1 L240.2,160.3 L240.2,161.6 L240.3,160.2 L241.1,163.1 L241.2,162.1 L241.2,161.5 L241.9,162.2 L241.9,160.2 L242.2,160.9 L242.2,162.2 L242.4,162.4 L242.9,160.0 L243.2,161.1 L243.3,162.6 L243.3,159.5 L244.1,162.8 L244.2,160.4 L244.9,162.7 L245.2,160.3 L245.2,161.2 L245.8,160.6 L246.0,162.3 L246.2,161.8 L246.2,160.9 L246.8,160.6 L247.0,163.4 L247.2,163.2 L247.2,160.7 L247.3,163.0 L248.2,159.7 L248.2,162.9 L248.3,161.1 L249.2,163.4 L249.2,161.2 L249.5,163.0 L249.7,160.4 L250.2,161.9 L250.2,161.5 L250.5,160.2 L251.0,163.4 L251.2,162.9 L251.2,162.4 L251.4,160.3 L251.8,162.6 L252.2,161.5 L252.3,162.1 L252.3,160.1 L252.6,162.6 L253.2,160.3 L253.2,161.1 L253.7,163.0 L253.8,160.7 L254.2,161.2 L254.2,160.6 L254.7,162.9 L254.9,159.9 L255.2,161.2 L255.2,161.9 L255.3,163.1 L255.4,160.1 L256.2,162.9 L256.2,162.5 L256.7,159.6 L256.9,162.7 L257.2,161.9 L257.2,162.9 L257.6,160.6 L258.2,160.8 L258.2,162.7 L258.7,163.4 L258.9,159.4 L259.2,161.5 L259.2,161.2 L259.8,160.4 L259.9,162.6 L260.2,160.5 L260.3,161.5 L261.0,163.1 L261.1,160.7 L261.1,161.0 L261.2,162.9 L261.9,163.0 L262.0,159.4 L262.2,161.6 L262.2,162.0 L262.4,162.6 L263.0,160.0 L263.2,161.9 L263.2,161.7 L263.6,162.9 L263.9,159.2 L264.2,160.8 L264.2,162.1 L264.4,162.8 L264.8,159.6 L265.2,161.2 L265.2,160.5 L265.8,158.8 L266.1,162.6 L266.2,160.6 L266.2,160.7 L266.4,162.6 L266.5,159.9 L267.2,160.5 L267.2,161.0 L267.7,162.6 L268.2,159.4 L268.3,159.0 L269.1,163.4 L269.2,161.3 L269.3,163.3 L269.7,158.2 L270.2,160.9 L270.2,161.7 L270.5,159.2 L271.2,160.8 L271.2,160.5 L271.7,159.0 L271.9,163.2 L272.2,160.9 L272.2,159.5 L272.9,161.7 L273.0,159.4 L273.2,161.2 L273.2,162.8 L273.5,158.0 L274.2,160.0 L274.2,160.0 L274.6,161.9 L275.1,157.8 L275.2,159.2 L275.2,159.0 L275.5,157.5 L275.6,161.4 L276.2,160.7 L276.2,160.0 L276.6,157.4 L277.0,161.1 L277.2,158.6 L277.3,159.1 L277.4,161.3 L278.0,157.2 L278.1,159.4 L278.2,156.1 L278.5,161.7 L279.2,161.1 L279.2,160.6 L279.8,162.5 L280.2,157.8 L280.2,158.8 L280.8,157.4 L280.9,161.4 L281.2,159.4 L281.2,159.0 L281.3,161.4 L281.6,158.1 L282.2,158.6 L282.2,160.6 L282.3,161.6 L283.2,158.1 L283.2,158.8 L283.6,161.0 L284.1,156.5 L284.2,160.1 L284.2,159.6 L284.8,161.5 L285.0,156.2 L285.2,158.0 L285.3,157.5 L285.8,155.2 L285.9,160.2 L286.1,157.6 L286.2,157.2 L286.5,156.6 L287.2,161.4 L287.2,159.3 L287.4,161.2 L287.4,156.9 L288.2,157.4 L288.2,158.0 L288.3,156.4 L288.4,160.7 L289.2,157.0 L289.2,157.0 L289.3,155.6 L289.6,160.8 L290.2,157.5 L290.2,159.3 L290.6,159.7 L291.0,153.3 L291.2,158.0 L291.2,156.9 L291.5,153.5 L291.9,159.7 L292.2,156.7 L292.2,160.1 L292.3,153.6 L293.2,156.4 L293.2,159.3 L293.9,160.8 L293.9,151.4 L294.2,155.8 L294.3,155.6 L294.6,160.3 L294.8,153.2 L295.2,156.2 L295.2,157.4 L295.4,158.1 L295.8,154.9 L296.2,155.6 L296.2,157.1 L296.7,158.7 L297.0,153.8 L297.2,155.1 L297.2,154.8 L297.4,158.4 L297.6,154.7 L298.2,155.5 L298.2,154.6 L298.7,159.2 L298.8,153.7 L299.2,155.8 L299.2,158.4 L299.5,158.5 L299.8,151.5 L300.2,156.5 L300.2,156.1 L300.3,152.8 L300.7,158.6 L301.2,155.2 L301.2,158.7 L302.0,152.3 L302.2,154.2 L302.3,157.2 L302.4,151.4 L303.0,157.7 L303.1,155.6 L303.2,156.0 L303.6,150.9 L303.8,159.2 L304.2,152.8 L304.2,154.1 L304.3,158.3 L304.3,150.8 L305.2,150.9 L305.2,153.8 L305.6,157.7 L305.9,152.1 L306.2,153.8 L306.2,151.8 L306.5,155.5 L307.2,151.0 L307.2,153.1 L307.5,156.2 L307.6,149.9 L308.2,154.7 L308.2,153.6 L308.5,147.8 L309.0,158.6 L309.2,151.0 L309.2,152.3 L309.9,155.6 L310.2,146.1 L310.3,152.9 L310.9,155.0 L311.0,148.7 L311.1,150.4 L311.2,153.9 L311.3,154.6 L311.5,147.9 L312.2,149.0 L312.2,152.0 L312.5,154.9 L312.6,147.4 L313.2,153.0 L313.2,153.4 L313.7,146.6 L314.2,148.7 L314.2,153.3 L314.4,144.9 L315.2,150.7 L315.2,149.0 L316.1,141.8 L316.2,152.4 L316.2,146.7 L316.3,149.9 L317.1,141.0 L317.2,146.4 L317.2,144.6 L317.5,148.9 L317.6,141.4 L318.2,143.4 L318.2,143.3 L319.0,147.3 L319.2,134.7 L319.3,144.1 L319.4,144.7 L320.0,137.2 L320.1,137.2 L320.2,140.8 L321.1,126.1 L321.2,132.9 L321.2,127.9 L321.5,139.2 L322.2,116.2 L322.2,116.3 L322.3,123.0 L323.0,102.2 L323.2,106.3 L323.2,104.1 L323.3,109.5 L324.1,74.5 L324.2,85.6 L324.2,75.9 L324.3,76.9 L325.0,52.2 L325.2,69.6 L325.2,66.5 L325.3,55.2 L326.2,95.9 L326.2,96.1 L326.4,94.4 L327.2,116.7 L327.3,110.2 L327.3,107.9 L327.7,125.5 L328.1,121.8 L328.2,124.7 L328.3,122.7 L329.0,136.4 L329.2,134.6 L329.2,135.6 L329.5,130.4 L329.7,141.0 L330.2,139.5 L330.2,139.9 L330.7,134.7 L330.9,147.5 L331.2,142.3 L331.2,141.2 L331.6,140.9 L331.7,150.0 L332.2,144.8 L332.2,147.8 L333.0,141.8 L333.1,150.5 L333.2,144.4 L333.2,150.9 L333.7,144.3 L333.8,151.7 L334.2,148.6 L334.2,148.6 L334.5,144.9 L334.7,151.6 L335.2,149.0 L335.2,152.4 L335.3,145.8 L336.0,158.1 L336.1,153.6 L336.2,156.9" fill="none" stroke="#1f77b4" stroke-width="1.5" stroke-linejoin="round"/>
<path d="M38.67,143.78 L38.73,143.36 L38.79,144.94 L38.84,143.39 L38.9,142.7 L38.95,144.16 L39.01,143.4 L39.07,142.71 L39.12,142.28 L39.18,143.29 L39.23,142.63 L39.29,140.33 L39.35,140.12 L39.4,143.63 L39.46,139.58 L39.51,142.49 L39.57,140.57 L39.62,143.18 L39.68,141.73 L39.74,142.11 L39.79,140.1 L39.85,140.66 L39.9,140.17 L39.96,140.01 L40.02,140.04 L40.07,138.91 L40.13,139.7 L40.18,139.73 L40.24,140.2 L40.3,140.31 L40.35,139.59 L40.41,138.17 L40.46,137.05 L40.52,138.28 L40.58,135.21 L40.63,135.91 L40.69,137.22 L40.74,136.5 L40.8,136.7 L40.86,138.85 L40.91,134.92 L40.97,135.41 L41.02,137.69 L41.08,133.8 L41.13,135.45 L41.19,134.63 L41.25,136.36 L41.3,133.6 L41.36,132.53 L41.41,133.35 L41.47,132.34 L41.53,134.67 L41.58,130.68 L41.64,131.08 L41.69,130.61 L41.75,129.05 L41.81,128 L41.86,129.19 L41.92,127.15 L41.97,125.16 L42.03,129.17 L42.09,126.76 L42.14,128.91 L42.2,125.17 L42.25,122.89 L42.31,124.71 L42.37,125.72 L42.42,124.06 L42.48,121.79 L42.53,124.31 L42.59,123.45 L42.64,119.51 L42.7,121.89 L42.76,118.62 L42.81,119.81 L42.87,119.94 L42.92,114.77 L42.98,113.29 L43.04,115.86 L43.09,109.21 L43.15,112.21 L43.2,110.5 L43.26,110.12 L43.32,111.49 L43.37,106.3 L43.43,106.9 L43.48,105.02 L43.54,104.54 L43.6,104.41 L43.65,97.54 L43.71,100.15 L43.76,100.21 L43.82,96.96 L43.88,99.56 L43.93,94.73 L43.99,88.13 L44.04,94.02 L44.1,89.87 L44.15,92.04 L44.21,87.68 L44.27,83.52 L44.32,86.78 L44.38,84.9 L44.43,78.2 L44.49,78.6 L44.55,75.88 L44.6,74.46 L44.66,77.26 L44.71,76.67 L44.77,75.54 L44.83,67.94 L44.88,71.37 L44.94,70.94 L44.99,66.52 L45.05,64.32 L45.11,62.24 L45.16,66.91 L45.22,57.92 L45.27,63.47 L45.33,60.28 L45.39,60.69 L45.44,63.32 L45.5,59.89 L45.55,60.53 L45.61,59.1 L45.66,57.86 L45.72,58.29 L45.78,62.57 L45.83,64.55 L45.89,68.63 L45.94,73.03 L46,69.67 L46.06,73.83 L46.11,74.71 L46.17,76.94 L46.22,76.45 L46.28,80.2 L46.34,75.23 L46.39,80.6 L46.45,85.57 L46.5,85.2 L46.56,84.48 L46.62,92.05 L46.67,90.44 L46.73,93.66 L46.78,93.86 L46.84,96.54 L46.9,96.52 L46.95,97.33 L47.01,98.34 L47.06,104.1 L47.12,100.82 L47.17,103.47 L47.23,106.03 L47.29,106.04 L47.34,103.88 L47.4,108.5 L47.45,110.97 L47.51,108.96 L47.57,111.73 L47.62,111 L47.68,112.79 L47.73,111.69 L47.79,116.26 L47.85,116.72 L47.9,114.92 L47.96,114.68 L48.01,118.16 L48.07,117.2 L48.13,119.27 L48.18,120.83 L48.24,124.42 L48.29,118.71 L48.35,121 L48.41,127.44 L48.46,122.99 L48.52,125.91 L48.57,127.21 L48.63,127.08 L48.68,125.56 L48.74,127.4 L48.8,128.2 L48.85,128.67 L48.91,129.53 L48.96,128.62 L49.02,133.07 L49.08,132.44 L49.13,131.14 L49.19,133.11 L49.24,131.55 L49.3,132.78 L49.36,132.07 L49.41,133.3 L49.47,132.57 L49.52,133.83 L49.58,133.15 L49.64,135.06 L49.69,137.4 L49.75,135.24 L49.8,135.55 L49.86,136.6 L49.92,134.84 L49.97,135.81 L50.03,134.72 L50.08,137.63 L50.14,137.93 L50.19,137 L50.25,135.96 L50.31,139.14 L50.36,137.83 L50.42,138.77 L50.47,139.37 L50.53,138.03 L50.59,138.32 L50.64,138.77 L50.7,140.74 L50.75,140.13 L50.81,142.46 L50.87,139.87 L50.92,142.37 L50.98,141.29 L51.03,140.09 L51.09,141.63 L51.15,141.34 L51.2,142.52 L51.26,138.69 L51.31,143.53 L51.37,142.92 L51.43,142.54 L51.48,139.37 L51.54,143.36 L51.59,142.76 L51.65,142.02 L51.7,145.63 L51.76,142.19 L51.82,142.96 L51.87,141.73 L51.93,141.85 L51.98,143.18 L52.04,142.6" fill="none" stroke="#2ca02c" stroke-width="1.1" stroke-dasharray="1.4,1.8,0.8,2.6,2,1.5,1,3" stroke-opacity="0.9"/>
<path d="M318.3,145.07 L318.36,144.45 L318.42,144.87 L318.47,142.55 L318.53,143.51 L318.58,143.26 L318.64,143.74 L318.7,143.2 L318.75,144.24 L318.81,142.62 L318.86,143.87 L318.92,142.13 L318.97,142.59 L319.03,141.6 L319.09,140.68 L319.14,141.23 L319.2,141.41 L319.25,140.39 L319.31,141.87 L319.37,141.08 L319.42,140.33 L319.48,142.34 L319.53,141.23 L319.59,137.67 L319.65,139.71 L319.7,139.52 L319.76,138.81 L319.81,139.51 L319.87,139.59 L319.93,139.18 L319.98,137.24 L320.04,136.23 L320.09,138.74 L320.15,137.91 L320.21,136.9 L320.26,138.67 L320.32,136.8 L320.37,135.21 L320.43,134.79 L320.48,132.75 L320.54,136.06 L320.6,135.27 L320.65,133.74 L320.71,134.15 L320.76,132.65 L320.82,133.82 L320.88,135.84 L320.93,134.22 L320.99,135.05 L321.04,132.06 L321.1,130.05 L321.16,130.62 L321.21,131.68 L321.27,133.45 L321.32,130.1 L321.38,130.6 L321.44,130.08 L321.49,128.6 L321.55,124.54 L321.6,128.22 L321.66,128.15 L321.72,128.69 L321.77,124.44 L321.83,126.78 L321.88,127.66 L321.94,124.84 L321.99,122.95 L322.05,124.77 L322.11,122.17 L322.16,124.11 L322.22,118.59 L322.27,121.9 L322.33,119.23 L322.39,119.98 L322.44,118.47 L322.5,116.13 L322.55,116.85 L322.61,115.1 L322.67,111.86 L322.72,108.39 L322.78,110.54 L322.83,110.99 L322.89,109.61 L322.95,111.33 L323,109.96 L323.06,108.89 L323.11,104.79 L323.17,104.66 L323.23,103.91 L323.28,97.21 L323.34,100.69 L323.39,97.62 L323.45,97.01 L323.5,96.47 L323.56,94.06 L323.62,96.87 L323.67,91.88 L323.73,88.31 L323.78,85.26 L323.84,87.8 L323.9,82.47 L323.95,82.07 L324.01,83.1 L324.06,84.23 L324.12,78.04 L324.18,78.55 L324.23,72.48 L324.29,72.61 L324.34,75.48 L324.4,71.39 L324.46,67.73 L324.51,63.94 L324.57,72.26 L324.62,63.24 L324.68,66.73 L324.74,63.01 L324.79,63.84 L324.85,58.48 L324.9,59.53 L324.96,55.51 L325.01,56.65 L325.07,62.01 L325.13,66.18 L325.18,61.54 L325.24,63 L325.29,62.13 L325.35,65.3 L325.41,66.22 L325.46,63.92 L325.52,66.62 L325.57,70.45 L325.63,69.27 L325.69,74.12 L325.74,73.55 L325.8,73.02 L325.85,78.23 L325.91,82 L325.97,80.2 L326.02,83.2 L326.08,79.93 L326.13,85.97 L326.19,88.81 L326.25,91.66 L326.3,95.58 L326.36,94.01 L326.41,93.6 L326.47,97.17 L326.52,95.58 L326.58,96.16 L326.64,97.99 L326.69,102.09 L326.75,103.62 L326.8,101.61 L326.86,105.79 L326.92,106.91 L326.97,107.92 L327.03,105.39 L327.08,112.62 L327.14,108 L327.2,109.46 L327.25,109.19 L327.31,112.24 L327.36,109.96 L327.42,113.57 L327.48,117.39 L327.53,119.22 L327.59,117.48 L327.64,117.56 L327.7,118.63 L327.76,118.22 L327.81,118.76 L327.87,125.52 L327.92,122.17 L327.98,122.84 L328.03,122.53 L328.09,125.45 L328.15,122.91 L328.2,125.3 L328.26,123.91 L328.31,127.58 L328.37,127.35 L328.43,129.74 L328.48,129.7 L328.54,129.25 L328.59,130.12 L328.65,129.31 L328.71,129.61 L328.76,130.74 L328.82,131.17 L328.87,133.26 L328.93,132.69 L328.99,132.82 L329.04,133.95 L329.1,132.23 L329.15,132.91 L329.21,135.22 L329.27,135.09 L329.32,134.91 L329.38,135.05 L329.43,133.49 L329.49,136.13 L329.54,137 L329.6,136.03 L329.66,135.97 L329.71,135.52 L329.77,138.69 L329.82,138.04 L329.88,137.71 L329.94,138.03 L329.99,140.5 L330.05,138.26 L330.1,137.19 L330.16,138.49 L330.22,139.69 L330.27,141.04 L330.33,141.2 L330.38,140.23 L330.44,141.34 L330.5,141.54 L330.55,142.83 L330.61,140.49 L330.66,140.21 L330.72,141.51 L330.78,140.88 L330.83,141.65 L330.89,140.01 L330.94,142.25 L331,142.33 L331.05,143.89 L331.11,142.7 L331.17,143.27 L331.22,143.52 L331.28,141.36 L331.33,142.36 L331.39,142.22 L331.45,143.17 L331.5,144.72 L331.56,143.76 L331.61,142.76 L331.67,145.02" fill="none" stroke="#2ca02c" stroke-width="1.1" stroke-dasharray="1.4,1.8,0.8,2.6,2,1.5,1,3" stroke-opacity="0.9"/>
</g>
<rect x="34.2" y="54.7" width="302.0" height="108.7" fill="none" stroke="#333" stroke-width="0.85"/>
<path d="M73.35,163.4v3.5M129.27,163.4v3.5M185.2,163.4v3.5M241.13,163.4v3.5M297.05,163.4v3.5M34.2,141.66h-3.5M34.2,119.92h-3.5M34.2,98.18h-3.5M34.2,76.44h-3.5M34.2,54.7h-3.5" stroke="#333" stroke-width="0.85" fill="none"/>
<text x="62.65" y="176.80" font-size="10.4" font-weight="normal" font-style="normal" textLength="21.28" lengthAdjust="spacingAndGlyphs" >−20</text>
<text x="118.57" y="176.80" font-size="10.4" font-weight="normal" font-style="normal" textLength="21.28" lengthAdjust="spacingAndGlyphs" >−10</text>
<text x="181.89" y="176.80" font-size="10.4" font-weight="normal" font-style="normal" textLength="6.62" lengthAdjust="spacingAndGlyphs" >0</text>
<text x="234.40" y="176.80" font-size="10.4" font-weight="normal" font-style="normal" textLength="13.02" lengthAdjust="spacingAndGlyphs" >10</text>
<text x="290.44" y="176.80" font-size="10.4" font-weight="normal" font-style="normal" textLength="13.09" lengthAdjust="spacingAndGlyphs" >20</text>
<text x="13.37" y="145.71" font-size="10.4" font-weight="normal" font-style="normal" textLength="16.01" lengthAdjust="spacingAndGlyphs" >0.2</text>
<text x="12.92" y="123.97" font-size="10.4" font-weight="normal" font-style="normal" textLength="16.22" lengthAdjust="spacingAndGlyphs" >0.4</text>
<text x="12.99" y="102.23" font-size="10.4" font-weight="normal" font-style="normal" textLength="16.33" lengthAdjust="spacingAndGlyphs" >0.6</text>
<text x="13.04" y="80.49" font-size="10.4" font-weight="normal" font-style="normal" textLength="16.27" lengthAdjust="spacingAndGlyphs" >0.8</text>
<text x="13.03" y="58.75" font-size="10.4" font-weight="normal" font-style="normal" textLength="16.23" lengthAdjust="spacingAndGlyphs" >1.0</text>
<text x="159.01" y="188.90" font-size="10.4" font-weight="normal" font-style="normal" textLength="52.26" lengthAdjust="spacingAndGlyphs" >Delay [ns]</text>
<g transform="translate(7.9,0) rotate(-90)">
<text x="-172.08" y="0.00" font-size="10.4" font-weight="normal" font-style="normal" textLength="126.53" lengthAdjust="spacingAndGlyphs" >Coincidences [arb. units]</text>
</g>
<text x="129.53" y="35.80" font-size="12.4" font-weight="bold" font-style="normal" textLength="111.56" lengthAdjust="spacingAndGlyphs" >Above band gap</text>
<text x="124.95" y="49.90" font-size="12.4" font-weight="normal" font-style="italic" textLength="8.78" lengthAdjust="spacingAndGlyphs" >V</text>
<text x="132.91" y="51.70" font-size="8.7" font-weight="normal" font-style="italic" textLength="13.69" lengthAdjust="spacingAndGlyphs" >TPI</text>
<text x="147.17" y="49.90" font-size="12.4" font-weight="normal" font-style="normal" textLength="9.84" lengthAdjust="spacingAndGlyphs" >=</text>
<text x="161.75" y="49.90" font-size="12.4" font-weight="normal" font-style="normal" textLength="86.87" lengthAdjust="spacingAndGlyphs" >0.206 ± 0.007</text>
<text x="19.62" y="43.60" font-size="14.5" font-weight="normal" font-style="normal" textLength="14.41" lengthAdjust="spacingAndGlyphs" >a)</text>
<rect x="176.81" y="103.62" width="16.78" height="59.78" fill="none" stroke="#000" stroke-opacity="0.5" stroke-width="1"/>
<path d="M176.81,163.4L106.7,86.2M193.59,163.4L264.3,86.2" stroke="#000" stroke-opacity="0.85" stroke-width="1" fill="none"/>
<clipPath id="iclipa"><rect x="106.7" y="59.6" width="157.6" height="26.6"/></clipPath>
<rect x="106.7" y="59.6" width="157.6" height="26.6" fill="#fff"/>
<path d="M132.97,59.6V86.2M185.5,59.6V86.2M238.03,59.6V86.2M106.7,74.11H264.3M106.7,62.02H264.3" stroke="#b0b0b0" stroke-width="0.8" fill="none"/>
<g clip-path="url(#iclipa)">
<path d="M106.7,80.63 L107.23,82.93 L107.75,82.27 L108.28,80.47 L108.8,82.65 L109.33,81.24 L109.85,82.38 L110.38,80.63 L110.9,81.01 L111.43,82.36 L111.95,81.15 L112.48,81.87 L113,81.38 L113.53,79.68 L114.05,80.55 L114.58,80.47 L115.11,79.32 L115.63,80.62 L116.16,79.46 L116.68,80.28 L117.21,80.37 L117.73,80.93 L118.26,81.34 L118.78,81.49 L119.31,81.36 L119.83,79.95 L120.36,80.02 L120.88,81.17 L121.41,79.16 L121.93,80.91 L122.46,80.63 L122.99,81.55 L123.51,80.99 L124.04,79.29 L124.56,79.67 L125.09,80.67 L125.61,78.8 L126.14,80.03 L126.66,79.85 L127.19,78.84 L127.71,79.38 L128.24,80.12 L128.76,80.8 L129.29,78.41 L129.81,82.03 L130.34,80.24 L130.87,81.33 L131.39,80.11 L131.92,78.6 L132.44,79.76 L132.97,79.8 L133.49,79.37 L134.02,77.23 L134.54,77.78 L135.07,78.92 L135.59,79.78 L136.12,79.47 L136.64,78.63 L137.17,79.19 L137.69,79.01 L138.22,79.93 L138.75,80.22 L139.27,79.88 L139.8,78.39 L140.32,79.58 L140.85,75.76 L141.37,77.83 L141.9,77.66 L142.42,77.2 L142.95,79.38 L143.47,79.45 L144,78.33 L144.52,77.34 L145.05,77.3 L145.57,75.98 L146.1,76.16 L146.63,76.46 L147.15,76.27 L147.68,77.16 L148.2,76.38 L148.73,77.59 L149.25,77.65 L149.78,75.95 L150.3,78.89 L150.83,75.18 L151.35,74.5 L151.88,77.17 L152.4,75.56 L152.93,76.13 L153.45,77.4 L153.98,75.62 L154.51,75.27 L155.03,74.53 L155.56,76.05 L156.08,75.31 L156.61,76.1 L157.13,73.88 L157.66,75.13 L158.18,73.71 L158.71,75.53 L159.23,74.31 L159.76,75.47 L160.28,75.08 L160.81,72.38 L161.33,73.93 L161.86,73.58 L162.39,72.23 L162.91,74.15 L163.44,70.06 L163.96,73.66 L164.49,72.88 L165.01,68.93 L165.54,74.33 L166.06,68.98 L166.59,70.74 L167.11,70.29 L167.64,72.38 L168.16,70.27 L168.69,72.21 L169.21,68.45 L169.74,70.11 L170.27,70.49 L170.79,69.96 L171.32,69.17 L171.84,67.08 L172.37,67.8 L172.89,69.38 L173.42,69.31 L173.94,69.32 L174.47,66.04 L174.99,66.31 L175.52,68.76 L176.04,69.41 L176.57,66.53 L177.09,67.2 L177.62,65.1 L178.15,66.02 L178.67,64.97 L179.2,64.04 L179.72,63.45 L180.25,65.52 L180.77,63.73 L181.3,65.89 L181.82,66.91 L182.35,64.26 L182.87,62.44 L183.4,61.98 L183.92,64.58 L184.45,67.52 L184.97,63.83 L185.5,64.79 L186.03,63.3 L186.55,62.52 L187.08,65.26 L187.6,65.81 L188.13,65.31 L188.65,65.91 L189.18,66.57 L189.7,64.54 L190.23,66.35 L190.75,65.69 L191.28,65.93 L191.8,66.58 L192.33,64.65 L192.85,66.69 L193.38,66.23 L193.91,64.94 L194.43,66.77 L194.96,69.21 L195.48,67.78 L196.01,68.02 L196.53,66.44 L197.06,65 L197.58,67.67 L198.11,68.47 L198.63,66.17 L199.16,69.9 L199.68,68.59 L200.21,68.59 L200.73,69.69 L201.26,70.17 L201.79,69.88 L202.31,68.12 L202.84,69.83 L203.36,71.84 L203.89,70.79 L204.41,70.06 L204.94,69.14 L205.46,70.82 L205.99,71.95 L206.51,70.52 L207.04,71.47 L207.56,72.74 L208.09,74.09 L208.61,73.28 L209.14,72.33 L209.67,75.26 L210.19,76.15 L210.72,73.55 L211.24,76.43 L211.77,76.3 L212.29,75.06 L212.82,75.28 L213.34,75.08 L213.87,75.11 L214.39,74.82 L214.92,75.76 L215.44,76.8 L215.97,79.39 L216.49,74.56 L217.02,75.26 L217.55,75.59 L218.07,76.49 L218.6,77.63 L219.12,76.14 L219.65,76.9 L220.17,78.51 L220.7,75.85 L221.22,78.77 L221.75,77.73 L222.27,75.33 L222.8,78.34 L223.32,77.31 L223.85,76.42 L224.37,77.68 L224.9,79.34 L225.43,78.4 L225.95,77.99 L226.48,79.65 L227,76.52 L227.53,77.81 L228.05,77.46 L228.58,78.01 L229.1,77.96 L229.63,78.82 L230.15,80.06 L230.68,77.85 L231.2,78.59 L231.73,77.04 L232.25,79.96 L232.78,78.64 L233.31,76.61 L233.83,80.31 L234.36,80.2 L234.88,78.8 L235.41,77.36 L235.93,80.36 L236.46,79.14 L236.98,79.44 L237.51,79.87 L238.03,79.61 L238.56,78.19 L239.08,79.32 L239.61,80.82 L240.13,80.17 L240.66,79.51 L241.19,81.04 L241.71,80.38 L242.24,80.15 L242.76,81.84 L243.29,78.04 L243.81,81.45 L244.34,79.87 L244.86,80.14 L245.39,80.6 L245.91,78.9 L246.44,80.04 L246.96,80.93 L247.49,79.08 L248.01,79.7 L248.54,81.23 L249.07,81.73 L249.59,79.51 L250.12,80.5 L250.64,81.77 L251.17,79.94 L251.69,81.81 L252.22,81.15 L252.74,81.3 L253.27,82.4 L253.79,79.99 L254.32,77.46 L254.84,80.1 L255.37,80.35 L255.89,80.98 L256.42,80.84 L256.95,80.56 L257.47,80.28 L258,81.31 L258.52,80.85 L259.05,81.1 L259.57,80.44 L260.1,80.13 L260.62,80.02 L261.15,81.4 L261.67,81.45 L262.2,80.45 L262.72,81.3 L263.25,81.28 L263.77,80.71 L264.3,80.8 L264.3,86.2 L106.7,86.2 Z" fill="#d62728" fill-opacity="0.3"/>
<path d="M106.7,81.63 L107.23,81.42 L107.75,81.76 L108.28,81.15 L108.8,81.19 L109.33,81.57 L109.85,80.62 L110.38,81.33 L110.9,81.38 L111.43,81.4 L111.95,81.07 L112.48,81.13 L113,81.39 L113.53,80.94 L114.05,80.7 L114.58,80.5 L115.11,80.81 L115.63,81.1 L116.16,81.24 L116.68,80.71 L117.21,80.39 L117.73,79.98 L118.26,80.93 L118.78,81.2 L119.31,81.12 L119.83,80.57 L120.36,80.41 L120.88,80.93 L121.41,81.07 L121.93,81.34 L122.46,80.25 L122.99,81.13 L123.51,80.25 L124.04,80.52 L124.56,81.21 L125.09,80.85 L125.61,79.94 L126.14,80.31 L126.66,80.36 L127.19,79.72 L127.71,80.2 L128.24,80.1 L128.76,80.05 L129.29,80.02 L129.81,79.56 L130.34,80.19 L130.87,79.46 L131.39,79.23 L131.92,80.05 L132.44,79.58 L132.97,80.23 L133.49,79.65 L134.02,79.11 L134.54,79.18 L135.07,79.72 L135.59,79.24 L136.12,79.22 L136.64,79.34 L137.17,79.27 L137.69,78.42 L138.22,80.4 L138.75,79.45 L139.27,78.74 L139.8,79.14 L140.32,78.88 L140.85,78.84 L141.37,79.03 L141.9,78.86 L142.42,79.16 L142.95,78.77 L143.47,78.36 L144,78.19 L144.52,78.36 L145.05,78.67 L145.57,78.68 L146.1,79.24 L146.63,78.48 L147.15,78.78 L147.68,78.61 L148.2,78.39 L148.73,78.14 L149.25,78.05 L149.78,78.06 L150.3,78.55 L150.83,78.17 L151.35,77.57 L151.88,77.9 L152.4,77.6 L152.93,77.71 L153.45,76.95 L153.98,76.81 L154.51,76.3 L155.03,77.7 L155.56,77.06 L156.08,78.05 L156.61,76.99 L157.13,77.07 L157.66,77.44 L158.18,76.46 L158.71,77.06 L159.23,77.87 L159.76,76.29 L160.28,76.94 L160.81,76.53 L161.33,77.22 L161.86,77.23 L162.39,77.42 L162.91,77.3 L163.44,76.34 L163.96,76.38 L164.49,77.47 L165.01,76.58 L165.54,76.53 L166.06,76.9 L166.59,76.31 L167.11,76.84 L167.64,75.89 L168.16,76.51 L168.69,76.24 L169.21,78.13 L169.74,76.53 L170.27,76.24 L170.79,76.56 L171.32,76.32 L171.84,76.67 L172.37,75.69 L172.89,76.67 L173.42,76.27 L173.94,75.31 L174.47,75.43 L174.99,76.04 L175.52,76.69 L176.04,77.01 L176.57,75.74 L177.09,75.83 L177.62,76.09 L178.15,76.07 L178.67,74.75 L179.2,75.39 L179.72,75.85 L180.25,75.96 L180.77,76.01 L181.3,75.64 L181.82,75.95 L182.35,75.74 L182.87,76.03 L183.4,75.37 L183.92,75.64 L184.45,76.39 L184.97,74.19 L185.5,75.61 L186.03,76.01 L186.55,76.43 L187.08,75.72 L187.6,76.1 L188.13,74.85 L188.65,75.5 L189.18,76.11 L189.7,76.76 L190.23,75.37 L190.75,76.73 L191.28,75.57 L191.8,75.77 L192.33,77.36 L192.85,76.02 L193.38,75 L193.91,76.4 L194.43,77.16 L194.96,76.89 L195.48,76.03 L196.01,75.86 L196.53,75.59 L197.06,75.92 L197.58,76.6 L198.11,76.36 L198.63,76.27 L199.16,76.27 L199.68,76.88 L200.21,75.9 L200.73,75.69 L201.26,76.38 L201.79,76.26 L202.31,77.05 L202.84,76.31 L203.36,76.88 L203.89,76.96 L204.41,76.11 L204.94,76.5 L205.46,76.86 L205.99,77.52 L206.51,76.69 L207.04,75.88 L207.56,76.61 L208.09,76.7 L208.61,76.23 L209.14,75.81 L209.67,76.65 L210.19,76.46 L210.72,76.93 L211.24,76.83 L211.77,76.9 L212.29,76.61 L212.82,77.47 L213.34,77.11 L213.87,77.17 L214.39,77.42 L214.92,77.73 L215.44,77.07 L215.97,77.72 L216.49,78.36 L217.02,77.27 L217.55,78.4 L218.07,77.35 L218.6,79.04 L219.12,77.84 L219.65,77.01 L220.17,78.05 L220.7,77.43 L221.22,78.25 L221.75,78.48 L222.27,78.3 L222.8,77.76 L223.32,77.66 L223.85,77.65 L224.37,77.96 L224.9,78.45 L225.43,79.45 L225.95,78.91 L226.48,77.9 L227,79.42 L227.53,78.49 L228.05,78.57 L228.58,79.61 L229.1,78.73 L229.63,79.12 L230.15,78.9 L230.68,79.1 L231.2,79.2 L231.73,79.58 L232.25,80.12 L232.78,78.46 L233.31,79.71 L233.83,79.48 L234.36,79.59 L234.88,79.6 L235.41,79.85 L235.93,79.32 L236.46,79.62 L236.98,79.88 L237.51,79.97 L238.03,79.54 L238.56,80.21 L239.08,79.62 L239.61,79.32 L240.13,79.48 L240.66,79.74 L241.19,80.74 L241.71,79.76 L242.24,80 L242.76,79.57 L243.29,80.43 L243.81,80.42 L244.34,79.66 L244.86,80.65 L245.39,79.87 L245.91,80.25 L246.44,81.45 L246.96,80.66 L247.49,80.71 L248.01,81.1 L248.54,81.37 L249.07,80.6 L249.59,81.09 L250.12,80.98 L250.64,81.13 L251.17,80.88 L251.69,80.62 L252.22,80.53 L252.74,80.68 L253.27,81.06 L253.79,81.02 L254.32,80.75 L254.84,80.52 L255.37,81.08 L255.89,81.58 L256.42,80.99 L256.95,80.89 L257.47,81.34 L258,80.73 L258.52,81.4 L259.05,81.24 L259.57,81.13 L260.1,80.68 L260.62,81.78 L261.15,81.14 L261.67,81.08 L262.2,81.44 L262.72,81.03 L263.25,81.69 L263.77,81.91 L264.3,81.96 L264.3,86.2 L106.7,86.2 Z" fill="#7dc832" fill-opacity="0.3"/>
<path d="M106.7,80.63 L107.23,82.93 L107.75,82.27 L108.28,80.47 L108.8,82.65 L109.33,81.24 L109.85,82.38 L110.38,80.63 L110.9,81.01 L111.43,82.36 L111.95,81.15 L112.48,81.87 L113,81.38 L113.53,79.68 L114.05,80.55 L114.58,80.47 L115.11,79.32 L115.63,80.62 L116.16,79.46 L116.68,80.28 L117.21,80.37 L117.73,80.93 L118.26,81.34 L118.78,81.49 L119.31,81.36 L119.83,79.95 L120.36,80.02 L120.88,81.17 L121.41,79.16 L121.93,80.91 L122.46,80.63 L122.99,81.55 L123.51,80.99 L124.04,79.29 L124.56,79.67 L125.09,80.67 L125.61,78.8 L126.14,80.03 L126.66,79.85 L127.19,78.84 L127.71,79.38 L128.24,80.12 L128.76,80.8 L129.29,78.41 L129.81,82.03 L130.34,80.24 L130.87,81.33 L131.39,80.11 L131.92,78.6 L132.44,79.76 L132.97,79.8 L133.49,79.37 L134.02,77.23 L134.54,77.78 L135.07,78.92 L135.59,79.78 L136.12,79.47 L136.64,78.63 L137.17,79.19 L137.69,79.01 L138.22,79.93 L138.75,80.22 L139.27,79.88 L139.8,78.39 L140.32,79.58 L140.85,75.76 L141.37,77.83 L141.9,77.66 L142.42,77.2 L142.95,79.38 L143.47,79.45 L144,78.33 L144.52,77.34 L145.05,77.3 L145.57,75.98 L146.1,76.16 L146.63,76.46 L147.15,76.27 L147.68,77.16 L148.2,76.38 L148.73,77.59 L149.25,77.65 L149.78,75.95 L150.3,78.89 L150.83,75.18 L151.35,74.5 L151.88,77.17 L152.4,75.56 L152.93,76.13 L153.45,77.4 L153.98,75.62 L154.51,75.27 L155.03,74.53 L155.56,76.05 L156.08,75.31 L156.61,76.1 L157.13,73.88 L157.66,75.13 L158.18,73.71 L158.71,75.53 L159.23,74.31 L159.76,75.47 L160.28,75.08 L160.81,72.38 L161.33,73.93 L161.86,73.58 L162.39,72.23 L162.91,74.15 L163.44,70.06 L163.96,73.66 L164.49,72.88 L165.01,68.93 L165.54,74.33 L166.06,68.98 L166.59,70.74 L167.11,70.29 L167.64,72.38 L168.16,70.27 L168.69,72.21 L169.21,68.45 L169.74,70.11 L170.27,70.49 L170.79,69.96 L171.32,69.17 L171.84,67.08 L172.37,67.8 L172.89,69.38 L173.42,69.31 L173.94,69.32 L174.47,66.04 L174.99,66.31 L175.52,68.76 L176.04,69.41 L176.57,66.53 L177.09,67.2 L177.62,65.1 L178.15,66.02 L178.67,64.97 L179.2,64.04 L179.72,63.45 L180.25,65.52 L180.77,63.73 L181.3,65.89 L181.82,66.91 L182.35,64.26 L182.87,62.44 L183.4,61.98 L183.92,64.58 L184.45,67.52 L184.97,63.83 L185.5,64.79 L186.03,63.3 L186.55,62.52 L187.08,65.26 L187.6,65.81 L188.13,65.31 L188.65,65.91 L189.18,66.57 L189.7,64.54 L190.23,66.35 L190.75,65.69 L191.28,65.93 L191.8,66.58 L192.33,64.65 L192.85,66.69 L193.38,66.23 L193.91,64.94 L194.43,66.77 L194.96,69.21 L195.48,67.78 L196.01,68.02 L196.53,66.44 L197.06,65 L197.58,67.67 L198.11,68.47 L198.63,66.17 L199.16,69.9 L199.68,68.59 L200.21,68.59 L200.73,69.69 L201.26,70.17 L201.79,69.88 L202.31,68.12 L202.84,69.83 L203.36,71.84 L203.89,70.79 L204.41,70.06 L204.94,69.14 L205.46,70.82 L205.99,71.95 L206.51,70.52 L207.04,71.47 L207.56,72.74 L208.09,74.09 L208.61,73.28 L209.14,72.33 L209.67,75.26 L210.19,76.15 L210.72,73.55 L211.24,76.43 L211.77,76.3 L212.29,75.06 L212.82,75.28 L213.34,75.08 L213.87,75.11 L214.39,74.82 L214.92,75.76 L215.44,76.8 L215.97,79.39 L216.49,74.56 L217.02,75.26 L217.55,75.59 L218.07,76.49 L218.6,77.63 L219.12,76.14 L219.65,76.9 L220.17,78.51 L220.7,75.85 L221.22,78.77 L221.75,77.73 L222.27,75.33 L222.8,78.34 L223.32,77.31 L223.85,76.42 L224.37,77.68 L224.9,79.34 L225.43,78.4 L225.95,77.99 L226.48,79.65 L227,76.52 L227.53,77.81 L228.05,77.46 L228.58,78.01 L229.1,77.96 L229.63,78.82 L230.15,80.06 L230.68,77.85 L231.2,78.59 L231.73,77.04 L232.25,79.96 L232.78,78.64 L233.31,76.61 L233.83,80.31 L234.36,80.2 L234.88,78.8 L235.41,77.36 L235.93,80.36 L236.46,79.14 L236.98,79.44 L237.51,79.87 L238.03,79.61 L238.56,78.19 L239.08,79.32 L239.61,80.82 L240.13,80.17 L240.66,79.51 L241.19,81.04 L241.71,80.38 L242.24,80.15 L242.76,81.84 L243.29,78.04 L243.81,81.45 L244.34,79.87 L244.86,80.14 L245.39,80.6 L245.91,78.9 L246.44,80.04 L246.96,80.93 L247.49,79.08 L248.01,79.7 L248.54,81.23 L249.07,81.73 L249.59,79.51 L250.12,80.5 L250.64,81.77 L251.17,79.94 L251.69,81.81 L252.22,81.15 L252.74,81.3 L253.27,82.4 L253.79,79.99 L254.32,77.46 L254.84,80.1 L255.37,80.35 L255.89,80.98 L256.42,80.84 L256.95,80.56 L257.47,80.28 L258,81.31 L258.52,80.85 L259.05,81.1 L259.57,80.44 L260.1,80.13 L260.62,80.02 L261.15,81.4 L261.67,81.45 L262.2,80.45 L262.72,81.3 L263.25,81.28 L263.77,80.71 L264.3,80.8" fill="none" stroke="#1f77b4" stroke-width="1.5" stroke-linejoin="round"/>
<path d="M106.7,81.63 L107.23,81.42 L107.75,81.76 L108.28,81.15 L108.8,81.19 L109.33,81.57 L109.85,80.62 L110.38,81.33 L110.9,81.38 L111.43,81.4 L111.95,81.07 L112.48,81.13 L113,81.39 L113.53,80.94 L114.05,80.7 L114.58,80.5 L115.11,80.81 L115.63,81.1 L116.16,81.24 L116.68,80.71 L117.21,80.39 L117.73,79.98 L118.26,80.93 L118.78,81.2 L119.31,81.12 L119.83,80.57 L120.36,80.41 L120.88,80.93 L121.41,81.07 L121.93,81.34 L122.46,80.25 L122.99,81.13 L123.51,80.25 L124.04,80.52 L124.56,81.21 L125.09,80.85 L125.61,79.94 L126.14,80.31 L126.66,80.36 L127.19,79.72 L127.71,80.2 L128.24,80.1 L128.76,80.05 L129.29,80.02 L129.81,79.56 L130.34,80.19 L130.87,79.46 L131.39,79.23 L131.92,80.05 L132.44,79.58 L132.97,80.23 L133.49,79.65 L134.02,79.11 L134.54,79.18 L135.07,79.72 L135.59,79.24 L136.12,79.22 L136.64,79.34 L137.17,79.27 L137.69,78.42 L138.22,80.4 L138.75,79.45 L139.27,78.74 L139.8,79.14 L140.32,78.88 L140.85,78.84 L141.37,79.03 L141.9,78.86 L142.42,79.16 L142.95,78.77 L143.47,78.36 L144,78.19 L144.52,78.36 L145.05,78.67 L145.57,78.68 L146.1,79.24 L146.63,78.48 L147.15,78.78 L147.68,78.61 L148.2,78.39 L148.73,78.14 L149.25,78.05 L149.78,78.06 L150.3,78.55 L150.83,78.17 L151.35,77.57 L151.88,77.9 L152.4,77.6 L152.93,77.71 L153.45,76.95 L153.98,76.81 L154.51,76.3 L155.03,77.7 L155.56,77.06 L156.08,78.05 L156.61,76.99 L157.13,77.07 L157.66,77.44 L158.18,76.46 L158.71,77.06 L159.23,77.87 L159.76,76.29 L160.28,76.94 L160.81,76.53 L161.33,77.22 L161.86,77.23 L162.39,77.42 L162.91,77.3 L163.44,76.34 L163.96,76.38 L164.49,77.47 L165.01,76.58 L165.54,76.53 L166.06,76.9 L166.59,76.31 L167.11,76.84 L167.64,75.89 L168.16,76.51 L168.69,76.24 L169.21,78.13 L169.74,76.53 L170.27,76.24 L170.79,76.56 L171.32,76.32 L171.84,76.67 L172.37,75.69 L172.89,76.67 L173.42,76.27 L173.94,75.31 L174.47,75.43 L174.99,76.04 L175.52,76.69 L176.04,77.01 L176.57,75.74 L177.09,75.83 L177.62,76.09 L178.15,76.07 L178.67,74.75 L179.2,75.39 L179.72,75.85 L180.25,75.96 L180.77,76.01 L181.3,75.64 L181.82,75.95 L182.35,75.74 L182.87,76.03 L183.4,75.37 L183.92,75.64 L184.45,76.39 L184.97,74.19 L185.5,75.61 L186.03,76.01 L186.55,76.43 L187.08,75.72 L187.6,76.1 L188.13,74.85 L188.65,75.5 L189.18,76.11 L189.7,76.76 L190.23,75.37 L190.75,76.73 L191.28,75.57 L191.8,75.77 L192.33,77.36 L192.85,76.02 L193.38,75 L193.91,76.4 L194.43,77.16 L194.96,76.89 L195.48,76.03 L196.01,75.86 L196.53,75.59 L197.06,75.92 L197.58,76.6 L198.11,76.36 L198.63,76.27 L199.16,76.27 L199.68,76.88 L200.21,75.9 L200.73,75.69 L201.26,76.38 L201.79,76.26 L202.31,77.05 L202.84,76.31 L203.36,76.88 L203.89,76.96 L204.41,76.11 L204.94,76.5 L205.46,76.86 L205.99,77.52 L206.51,76.69 L207.04,75.88 L207.56,76.61 L208.09,76.7 L208.61,76.23 L209.14,75.81 L209.67,76.65 L210.19,76.46 L210.72,76.93 L211.24,76.83 L211.77,76.9 L212.29,76.61 L212.82,77.47 L213.34,77.11 L213.87,77.17 L214.39,77.42 L214.92,77.73 L215.44,77.07 L215.97,77.72 L216.49,78.36 L217.02,77.27 L217.55,78.4 L218.07,77.35 L218.6,79.04 L219.12,77.84 L219.65,77.01 L220.17,78.05 L220.7,77.43 L221.22,78.25 L221.75,78.48 L222.27,78.3 L222.8,77.76 L223.32,77.66 L223.85,77.65 L224.37,77.96 L224.9,78.45 L225.43,79.45 L225.95,78.91 L226.48,77.9 L227,79.42 L227.53,78.49 L228.05,78.57 L228.58,79.61 L229.1,78.73 L229.63,79.12 L230.15,78.9 L230.68,79.1 L231.2,79.2 L231.73,79.58 L232.25,80.12 L232.78,78.46 L233.31,79.71 L233.83,79.48 L234.36,79.59 L234.88,79.6 L235.41,79.85 L235.93,79.32 L236.46,79.62 L236.98,79.88 L237.51,79.97 L238.03,79.54 L238.56,80.21 L239.08,79.62 L239.61,79.32 L240.13,79.48 L240.66,79.74 L241.19,80.74 L241.71,79.76 L242.24,80 L242.76,79.57 L243.29,80.43 L243.81,80.42 L244.34,79.66 L244.86,80.65 L245.39,79.87 L245.91,80.25 L246.44,81.45 L246.96,80.66 L247.49,80.71 L248.01,81.1 L248.54,81.37 L249.07,80.6 L249.59,81.09 L250.12,80.98 L250.64,81.13 L251.17,80.88 L251.69,80.62 L252.22,80.53 L252.74,80.68 L253.27,81.06 L253.79,81.02 L254.32,80.75 L254.84,80.52 L255.37,81.08 L255.89,81.58 L256.42,80.99 L256.95,80.89 L257.47,81.34 L258,80.73 L258.52,81.4 L259.05,81.24 L259.57,81.13 L260.1,80.68 L260.62,81.78 L261.15,81.14 L261.67,81.08 L262.2,81.44 L262.72,81.03 L263.25,81.69 L263.77,81.91 L264.3,81.96" fill="none" stroke="#2ca02c" stroke-width="1.6" stroke-linejoin="round"/>
</g>
<rect x="106.7" y="59.6" width="157.6" height="26.6" fill="none" stroke="#333" stroke-width="0.85"/>
<path d="M132.97,86.2v3.5M185.5,86.2v3.5M238.03,86.2v3.5M106.7,74.11h-3.5M106.7,62.02h-3.5" stroke="#333" stroke-width="0.85" fill="none"/>
<text x="125.59" y="98.80" font-size="10.4" font-weight="normal" font-style="normal" textLength="14.76" lengthAdjust="spacingAndGlyphs" >−1</text>
<text x="182.19" y="98.80" font-size="10.4" font-weight="normal" font-style="normal" textLength="6.62" lengthAdjust="spacingAndGlyphs" >0</text>
<text x="234.66" y="98.80" font-size="10.4" font-weight="normal" font-style="normal" textLength="6.43" lengthAdjust="spacingAndGlyphs" >1</text>
<text x="79.11" y="78.16" font-size="10.4" font-weight="normal" font-style="normal" textLength="22.48" lengthAdjust="spacingAndGlyphs" >0.25</text>
<text x="78.90" y="66.07" font-size="10.4" font-weight="normal" font-style="normal" textLength="22.66" lengthAdjust="spacingAndGlyphs" >0.50</text>
<clipPath id="clipb"><rect x="382.2" y="54.7" width="302.0" height="108.7"/></clipPath>
<path d="M421.35,54.7V163.4M477.27,54.7V163.4M533.2,54.7V163.4M589.13,54.7V163.4M645.05,54.7V163.4M382.2,141.66H684.2M382.2,119.92H684.2M382.2,98.18H684.2M382.2,76.44H684.2" stroke="#b0b0b0" stroke-width="0.8" fill="none"/>
<g clip-path="url(#clipb)">
<path d="M524.81,163.1 L524.87,162.65 L524.92,162.61 L524.98,162.4 L525.03,163.23 L525.09,162.77 L525.15,162.97 L525.2,162.6 L525.26,161.67 L525.31,162.51 L525.37,162.18 L525.43,162.54 L525.48,162.91 L525.54,162.66 L525.59,162.77 L525.65,162.81 L525.71,162.44 L525.76,162.54 L525.82,163.08 L525.87,163.4 L525.93,162.95 L525.99,162.58 L526.04,162.19 L526.1,162.65 L526.15,162.51 L526.21,162.31 L526.27,162.25 L526.32,162.99 L526.38,162.77 L526.43,162.42 L526.49,162.89 L526.54,163.02 L526.6,162.76 L526.66,162.64 L526.71,162.21 L526.77,162.82 L526.82,162.95 L526.88,162.76 L526.94,162.25 L526.99,163.3 L527.05,162.43 L527.1,162.14 L527.16,162.7 L527.22,162.76 L527.27,162.99 L527.33,162.87 L527.38,162.55 L527.44,161.95 L527.5,162.23 L527.55,162.61 L527.61,163.04 L527.66,162.92 L527.72,161.94 L527.78,162.99 L527.83,161.94 L527.89,162.29 L527.94,161.9 L528,162.15 L528.05,162.54 L528.11,162.29 L528.17,162.44 L528.22,162.79 L528.28,162.32 L528.33,162.24 L528.39,162.68 L528.45,162.29 L528.5,161.81 L528.56,162.11 L528.61,162.6 L528.67,161.35 L528.73,162.36 L528.78,161.46 L528.84,161.8 L528.89,161.41 L528.95,161.77 L529.01,162.39 L529.06,161.23 L529.12,162.12 L529.17,162.44 L529.23,162.42 L529.29,161.44 L529.34,161.84 L529.4,161.77 L529.45,162.22 L529.51,160.43 L529.56,160.96 L529.62,160.7 L529.68,161.05 L529.73,160.42 L529.79,161.22 L529.84,160.09 L529.9,160.73 L529.96,160.82 L530.01,159.96 L530.07,159.99 L530.12,159.84 L530.18,160.82 L530.24,160.23 L530.29,160.22 L530.35,159.64 L530.4,158.77 L530.46,159.19 L530.52,158.17 L530.57,158.54 L530.63,157.62 L530.68,156.51 L530.74,155.56 L530.8,154.42 L530.85,155.15 L530.91,154.45 L530.96,152.76 L531.02,154.72 L531.07,153.53 L531.13,150.9 L531.19,149.9 L531.24,148.12 L531.3,147.24 L531.35,146.33 L531.41,146.03 L531.47,145.73 L531.52,143.28 L531.58,145.53 L531.63,142.39 L531.69,142.72 L531.75,139.86 L531.8,141.81 L531.86,136.28 L531.91,135.52 L531.97,132.54 L532.03,134.77 L532.08,131.64 L532.14,128.43 L532.19,130.81 L532.25,127.14 L532.31,128.77 L532.36,121.24 L532.42,124.29 L532.47,121.49 L532.53,119.84 L532.58,122.13 L532.64,119.1 L532.7,119.87 L532.75,115.32 L532.81,112.98 L532.86,118.54 L532.92,114.15 L532.98,115.99 L533.03,112.49 L533.09,111.86 L533.14,111.07 L533.2,111.51 L533.26,115.45 L533.31,115.09 L533.37,113.28 L533.42,112.41 L533.48,115.44 L533.54,115.4 L533.59,114.67 L533.65,116.04 L533.7,115.41 L533.76,119.99 L533.82,118.45 L533.87,120.24 L533.93,121.47 L533.98,123.16 L534.04,125.05 L534.09,123.56 L534.15,127.9 L534.21,127.81 L534.26,129.68 L534.32,132.21 L534.37,132.33 L534.43,133.72 L534.49,133.49 L534.54,137.99 L534.6,137.61 L534.65,139.06 L534.71,139.92 L534.77,143.15 L534.82,143.26 L534.88,146.2 L534.93,145.61 L534.99,145.88 L535.05,146.57 L535.1,151.36 L535.16,150.49 L535.21,150.64 L535.27,153.52 L535.33,150.41 L535.38,153.13 L535.44,155.58 L535.49,152.18 L535.55,155.02 L535.6,157.49 L535.66,157.17 L535.72,157.52 L535.77,157.49 L535.83,156.65 L535.88,158.68 L535.94,158.91 L536,158.86 L536.05,158.8 L536.11,159.25 L536.16,160.5 L536.22,159.37 L536.28,160.61 L536.33,160.75 L536.39,159.03 L536.44,161.6 L536.5,160.75 L536.56,161.43 L536.61,160.58 L536.67,160.85 L536.72,161.65 L536.78,161.49 L536.84,161.6 L536.89,161.13 L536.95,162.34 L537,161.36 L537.06,161.44 L537.11,161.63 L537.17,161.9 L537.23,161.39 L537.28,161.49 L537.34,161.7 L537.39,161.81 L537.45,161.56 L537.51,161.6 L537.56,162.47 L537.62,162.56 L537.67,162.2 L537.73,162.38 L537.79,162.34 L537.84,162.19 L537.9,161.5 L537.95,162.11 L538.01,162.08 L538.07,161.82 L538.12,162.5 L538.18,162.38 L538.23,163.08 L538.29,162.66 L538.35,162.04 L538.4,162.5 L538.46,162.49 L538.51,161.7 L538.57,161.65 L538.62,162.33 L538.68,162.77 L538.74,162.96 L538.79,162.45 L538.85,162.93 L538.9,162.5 L538.96,162.72 L539.02,162.58 L539.07,162.69 L539.13,162.05 L539.18,162.63 L539.24,161.9 L539.3,162.75 L539.35,161.94 L539.41,163 L539.46,162.5 L539.52,162.76 L539.58,163.05 L539.63,161.82 L539.69,162.59 L539.74,163.04 L539.8,163.28 L539.86,162.46 L539.91,162.42 L539.97,162.64 L540.02,162.96 L540.08,162.9 L540.13,163.22 L540.19,162.95 L540.25,162.89 L540.3,162.5 L540.36,162.45 L540.41,163.19 L540.47,163.4 L540.53,162.08 L540.58,162.75 L540.64,163.09 L540.69,162.71 L540.75,163.12 L540.81,163 L540.86,163.4 L540.92,162.99 L540.97,162.23 L541.03,162.54 L541.09,162.94 L541.14,162.82 L541.2,162.59 L541.25,162.46 L541.31,163.17 L541.37,162.96 L541.42,162.8 L541.48,162.53 L541.53,163 L541.59,162.69 L541.59,163.4 L524.81,163.4 Z" fill="#d62728" fill-opacity="0.3"/>
<path d="M524.81,162.89 L524.87,163.04 L524.92,162.9 L524.98,163.4 L525.03,162.84 L525.09,163.36 L525.15,162.67 L525.2,163 L525.26,163.4 L525.31,163.12 L525.37,162.76 L525.43,163.23 L525.48,163.4 L525.54,163.05 L525.59,162.98 L525.65,163.01 L525.71,162.91 L525.76,162.61 L525.82,162.67 L525.87,162.62 L525.93,163.03 L525.99,162.43 L526.04,163.4 L526.1,163.39 L526.15,163.3 L526.21,163.03 L526.27,162.91 L526.32,163.27 L526.38,162.97 L526.43,162.7 L526.49,162.83 L526.54,162.85 L526.6,162.65 L526.66,162.54 L526.71,163.2 L526.77,163.02 L526.82,163.4 L526.88,163.21 L526.94,163.22 L526.99,163.09 L527.05,163.4 L527.1,163.03 L527.16,162.95 L527.22,163.31 L527.27,163.12 L527.33,162.72 L527.38,162.75 L527.44,163.22 L527.5,163.1 L527.55,163 L527.61,162.76 L527.66,162.65 L527.72,163.07 L527.78,163.05 L527.83,162.85 L527.89,163.09 L527.94,162.81 L528,163.34 L528.05,163.14 L528.11,162.39 L528.17,162.87 L528.22,163.21 L528.28,162.58 L528.33,162.86 L528.39,162.88 L528.45,162.83 L528.5,162.23 L528.56,162.99 L528.61,163.14 L528.67,162.65 L528.73,162.61 L528.78,163.12 L528.84,162.94 L528.89,162.3 L528.95,162.57 L529.01,162.33 L529.06,162.87 L529.12,162.76 L529.17,163.12 L529.23,163.4 L529.29,162.46 L529.34,163.11 L529.4,162.76 L529.45,163.01 L529.51,162.75 L529.56,162.92 L529.62,162.13 L529.68,162.69 L529.73,162.89 L529.79,162.69 L529.84,163.4 L529.9,162.48 L529.96,162.91 L530.01,162.28 L530.07,163.02 L530.12,162.16 L530.18,163.4 L530.24,162.84 L530.29,162.23 L530.35,162.36 L530.4,162.72 L530.46,162.23 L530.52,162.82 L530.57,162.17 L530.63,161.97 L530.68,161.91 L530.74,162.8 L530.8,161.93 L530.85,161.93 L530.91,162.3 L530.96,162.27 L531.02,162.2 L531.07,162.5 L531.13,162.42 L531.19,162.11 L531.24,161.96 L531.3,162.26 L531.35,162.87 L531.41,162.02 L531.47,162.93 L531.52,161.74 L531.58,161.91 L531.63,162.5 L531.69,161.81 L531.75,161.8 L531.8,162.26 L531.86,162.62 L531.91,161.65 L531.97,161.97 L532.03,162.19 L532.08,161.68 L532.14,162.23 L532.19,161.55 L532.25,161.32 L532.31,162.17 L532.36,162.11 L532.42,161.59 L532.47,161.84 L532.53,162.55 L532.58,161.41 L532.64,161.99 L532.7,161.34 L532.75,162.3 L532.81,161.63 L532.86,161.57 L532.92,161.53 L532.98,162.07 L533.03,162.3 L533.09,161.44 L533.14,161.29 L533.2,161.63 L533.26,161.5 L533.31,161.97 L533.37,162.11 L533.42,161.24 L533.48,161.13 L533.54,161 L533.59,161.59 L533.65,162.11 L533.7,162.8 L533.76,161.66 L533.82,161.37 L533.87,161.56 L533.93,161.57 L533.98,162.27 L534.04,161.41 L534.09,161.34 L534.15,160.91 L534.21,161.41 L534.26,161.32 L534.32,162.63 L534.37,162.5 L534.43,162.49 L534.49,161.68 L534.54,162.01 L534.6,162.42 L534.65,162.4 L534.71,161.87 L534.77,162.71 L534.82,161.96 L534.88,161.97 L534.93,161.39 L534.99,162.15 L535.05,162.85 L535.1,161.7 L535.16,162.15 L535.21,162.27 L535.27,162.5 L535.33,162.19 L535.38,162.55 L535.44,162.47 L535.49,162.51 L535.55,161.93 L535.6,162.1 L535.66,162.82 L535.72,162.38 L535.77,162.59 L535.83,162.35 L535.88,162.26 L535.94,162.54 L536,162.04 L536.05,162.07 L536.11,162.83 L536.16,162.51 L536.22,162.89 L536.28,163.07 L536.33,163.03 L536.39,162.97 L536.44,162.95 L536.5,162.45 L536.56,162.51 L536.61,162.86 L536.67,162.96 L536.72,162.58 L536.78,162.49 L536.84,162.23 L536.89,162.61 L536.95,162.54 L537,163.21 L537.06,162.83 L537.11,162.57 L537.17,162.97 L537.23,163 L537.28,162.02 L537.34,162.44 L537.39,162.77 L537.45,162.46 L537.51,162.69 L537.56,163 L537.62,162.84 L537.67,162.87 L537.73,162.5 L537.79,162.89 L537.84,162.85 L537.9,163.22 L537.95,163.21 L538.01,162.91 L538.07,162.9 L538.12,162.68 L538.18,162.69 L538.23,162.8 L538.29,163.2 L538.35,162.72 L538.4,163.35 L538.46,162.83 L538.51,162.72 L538.57,162.44 L538.62,163.03 L538.68,162.85 L538.74,162.9 L538.79,163.38 L538.85,162.63 L538.9,163.06 L538.96,162.7 L539.02,163.3 L539.07,162.77 L539.13,162.71 L539.18,162.92 L539.24,162.27 L539.3,162.84 L539.35,162.67 L539.41,163.4 L539.46,162.68 L539.52,163.4 L539.58,163.28 L539.63,163.21 L539.69,163.09 L539.74,162.4 L539.8,163.02 L539.86,162.93 L539.91,163.15 L539.97,162.99 L540.02,163.4 L540.08,162.87 L540.13,162.88 L540.19,163.4 L540.25,163.4 L540.3,163.21 L540.36,162.95 L540.41,163.29 L540.47,163.4 L540.53,162.86 L540.58,163.4 L540.64,162.77 L540.69,162.62 L540.75,163.4 L540.81,162.8 L540.86,162.8 L540.92,162.8 L540.97,162.53 L541.03,162.46 L541.09,162.86 L541.14,162.85 L541.2,162.96 L541.25,163.02 L541.31,162.57 L541.37,162.67 L541.42,162.88 L541.48,162.42 L541.53,162.45 L541.59,162.53 L541.59,163.4 L524.81,163.4 Z" fill="#7dc832" fill-opacity="0.3"/>
<path d="M382.2,163.1 L382.5,163.4 L382.9,162.3 L383.2,163.4 L383.2,163.1 L383.4,163.4 L384.2,162.4 L384.2,163.1 L384.4,162.5 L384.7,163.4 L385.2,162.8 L385.2,162.8 L385.3,163.4 L386.1,162.6 L386.2,162.6 L386.2,162.7 L386.6,163.0 L387.1,162.3 L387.2,162.5 L387.2,162.2 L387.6,162.5 L388.2,161.7 L388.2,161.6 L388.4,161.9 L389.0,160.5 L389.2,160.6 L389.2,160.2 L389.3,160.4 L390.2,157.2 L390.3,157.0 L391.1,144.7 L391.2,142.3 L392.2,100.4 L392.2,97.3 L393.2,57.2 L393.2,56.0 L393.4,55.1 L394.2,76.2 L394.2,79.1 L395.2,128.9 L395.2,130.5 L396.2,153.7 L396.2,155.0 L397.1,160.2 L397.2,159.5 L397.2,160.2 L397.4,160.1 L397.9,161.7 L398.2,161.5 L398.3,161.6 L398.4,161.3 L399.1,162.4 L399.2,162.0 L399.9,163.2 L400.2,162.8 L400.2,162.5 L400.6,163.4 L401.2,162.8 L401.2,163.0 L401.7,163.4 L401.8,162.1 L402.2,163.4 L402.2,163.3 L402.3,163.4 L403.2,162.0 L403.2,163.3 L403.3,162.7 L404.2,163.4 L404.2,163.0 L404.8,162.4 L404.9,163.3 L405.2,163.2 L405.2,162.5 L406.1,163.2 L406.2,163.1 L406.2,162.7 L406.6,163.2 L407.2,162.3 L407.3,162.7 L407.5,163.4 L407.9,162.6 L408.1,163.0 L408.2,162.5 L408.5,162.5 L408.8,163.4 L409.2,162.7 L409.2,162.9 L409.7,162.4 L410.2,163.4 L410.2,163.2 L410.6,162.4 L411.2,162.6 L411.2,163.0 L411.3,163.4 L411.7,162.5 L412.2,162.9 L412.2,162.7 L412.4,162.1 L412.7,163.4 L413.2,163.0 L413.2,162.5 L413.3,163.2 L414.0,162.5 L414.2,163.1 L414.2,162.9 L414.4,163.4 L415.1,162.8 L415.2,163.2 L415.3,162.1 L415.3,163.4 L416.1,163.2 L416.2,163.3 L416.9,162.6 L417.2,162.9 L417.2,163.2 L417.5,163.4 L417.7,162.6 L418.2,163.0 L418.2,162.8 L418.3,162.4 L419.2,163.1 L419.2,162.7 L419.8,163.4 L420.0,162.4 L420.2,163.1 L420.2,162.9 L420.5,163.4 L420.7,162.5 L421.2,162.8 L421.2,162.8 L421.4,163.4 L421.5,162.4 L422.2,162.8 L422.2,162.5 L422.3,162.4 L423.2,163.2 L423.2,162.8 L423.7,163.4 L424.0,162.5 L424.1,162.9 L424.2,162.9 L424.8,163.1 L424.9,162.4 L425.2,163.0 L425.2,162.8 L425.5,161.6 L426.0,163.3 L426.2,162.9 L426.2,162.9 L426.8,162.5 L426.9,163.4 L427.2,163.0 L427.2,162.9 L427.5,163.4 L427.8,162.6 L428.2,162.7 L428.2,162.5 L428.8,163.4 L429.2,163.3 L429.2,163.2 L429.5,163.3 L429.8,162.6 L430.2,163.2 L430.2,163.2 L431.0,163.4 L431.0,162.6 L431.2,162.9 L431.2,163.4 L431.3,162.7 L432.2,162.8 L432.3,163.0 L432.4,163.2 L432.7,162.3 L433.1,163.0 L433.2,162.5 L433.5,162.3 L433.6,163.4 L434.2,162.6 L434.2,163.0 L434.5,162.3 L434.5,163.4 L435.2,163.2 L435.2,163.1 L436.0,163.4 L436.1,162.5 L436.2,162.9 L436.2,163.2 L436.3,162.3 L436.6,163.4 L437.2,162.4 L437.2,163.0 L437.4,162.5 L438.2,163.4 L438.2,162.9 L438.5,163.4 L438.7,162.8 L439.2,163.2 L439.2,163.0 L439.5,162.4 L439.9,163.4 L440.2,163.2 L440.3,162.9 L440.8,163.4 L441.1,162.4 L441.1,162.9 L441.2,162.8 L441.4,163.4 L442.0,162.6 L442.2,163.0 L442.2,162.9 L442.7,162.5 L442.8,163.4 L443.2,162.9 L443.2,162.8 L443.3,163.4 L443.9,162.5 L444.2,163.0 L444.2,163.0 L444.5,162.6 L444.7,163.4 L445.2,163.1 L445.2,163.4 L446.1,162.5 L446.2,163.1 L446.2,162.6 L446.5,163.4 L446.7,162.4 L447.2,162.7 L447.2,163.2 L447.6,162.1 L447.8,163.4 L448.2,163.2 L448.2,162.7 L448.6,163.4 L448.8,162.5 L449.2,162.8 L449.3,162.8 L449.4,163.4 L450.1,162.4 L450.2,162.5 L450.2,162.7 L450.7,162.4 L451.1,163.3 L451.2,163.1 L451.2,163.4 L452.1,162.6 L452.2,163.2 L452.2,162.8 L452.8,163.3 L453.0,162.5 L453.2,162.8 L453.2,163.0 L453.8,162.2 L454.2,163.3 L454.2,163.4 L454.7,162.3 L455.2,162.7 L455.2,162.8 L455.9,163.4 L456.1,162.3 L456.2,163.3 L456.2,163.2 L456.6,163.4 L456.7,162.6 L457.2,162.9 L457.3,162.7 L457.4,163.4 L457.4,162.4 L458.1,162.8 L458.2,162.9 L458.4,162.5 L458.5,163.4 L459.2,163.4 L459.2,163.2 L459.7,163.4 L459.8,162.5 L460.2,163.3 L460.2,162.9 L460.4,163.2 L460.8,162.3 L461.2,162.6 L461.2,162.9 L461.7,162.2 L462.2,163.4 L462.2,162.0 L462.3,162.9 L462.7,161.6 L463.2,162.0 L463.2,161.6 L463.3,161.2 L463.6,162.4 L464.2,162.3 L464.2,161.9 L464.8,163.4 L465.2,163.0 L465.3,162.6 L465.5,163.4 L466.1,162.8 L466.2,163.1 L466.6,162.3 L467.0,163.4 L467.2,163.2 L467.2,163.4 L467.9,162.6 L468.2,163.0 L468.2,163.2 L468.9,163.4 L469.1,162.6 L469.2,163.0 L469.2,163.2 L469.4,162.4 L469.7,163.4 L470.2,162.9 L470.2,162.9 L470.8,162.1 L471.2,163.4 L471.2,162.4 L471.4,162.4 L472.1,163.4 L472.2,162.9 L472.2,163.4 L473.0,162.4 L473.2,162.6 L473.2,163.2 L473.6,162.4 L474.0,163.4 L474.2,162.9 L474.3,163.2 L474.9,162.4 L475.1,163.4 L475.2,163.1 L476.0,162.4 L476.2,163.2 L476.2,162.8 L476.5,163.4 L477.2,162.5 L477.2,162.7 L477.3,162.5 L477.4,163.4 L478.2,163.1 L478.2,162.9 L478.4,162.4 L479.0,163.4 L479.2,162.8 L479.2,163.2 L479.6,162.2 L480.1,163.4 L480.2,163.4 L480.2,163.4 L481.2,162.4 L481.2,162.7 L481.3,163.4 L482.0,162.6 L482.2,163.2 L482.3,162.7 L482.7,162.3 L483.0,163.3 L483.1,162.6 L483.2,162.3 L483.9,163.4 L484.2,162.9 L484.2,163.1 L484.4,162.1 L484.7,163.4 L485.2,162.6 L485.2,162.8 L485.7,162.3 L485.9,163.4 L486.2,162.4 L486.2,163.3 L486.4,162.3 L486.7,163.4 L487.2,162.9 L487.2,163.4 L487.8,162.7 L488.2,163.1 L488.2,163.2 L488.5,162.6 L489.0,163.3 L489.2,163.2 L489.2,163.2 L489.4,162.4 L489.7,163.4 L490.2,162.8 L490.2,162.9 L490.4,163.4 L491.2,162.2 L491.3,162.8 L491.6,162.4 L491.7,163.4 L492.2,162.8 L492.2,163.3 L492.3,163.4 L492.8,162.5 L493.2,163.4 L493.2,162.7 L493.3,163.3 L493.6,162.4 L494.2,162.9 L494.2,163.1 L494.8,163.3 L495.1,162.6 L495.2,163.2 L495.2,163.0 L495.5,163.3 L495.9,162.3 L496.2,162.9 L496.2,163.4 L497.0,162.3 L497.2,162.8 L497.2,162.9 L497.5,162.7 L497.6,163.4 L498.2,163.0 L498.2,162.8 L498.6,163.4 L498.7,162.7 L499.2,163.4 L499.3,162.9 L499.3,163.4 L500.1,162.5 L500.1,163.2 L500.2,162.6 L500.4,162.4 L500.9,163.4 L501.2,163.0 L501.2,162.8 L501.4,163.4 L501.7,162.3 L502.2,162.5 L502.2,163.0 L502.3,162.3 L503.1,163.2 L503.2,163.0 L503.2,162.9 L503.7,163.4 L504.2,162.7 L504.2,163.2 L504.6,163.4 L505.2,162.5 L505.2,163.0 L505.7,163.4 L506.2,162.4 L506.2,162.8 L506.4,162.6 L506.5,163.4 L507.2,162.9 L507.3,162.8 L507.7,163.4 L507.8,162.5 L508.1,162.8 L508.2,162.8 L508.3,162.5 L509.0,163.4 L509.2,163.0 L509.2,162.9 L509.3,163.4 L509.9,162.4 L510.2,163.0 L510.2,162.6 L510.4,163.4 L510.9,162.3 L511.2,163.0 L511.2,162.6 L511.6,163.4 L511.8,162.6 L512.2,162.8 L512.2,163.4 L512.6,162.5 L513.2,162.9 L513.2,163.4 L513.5,162.3 L514.2,162.7 L514.2,162.8 L514.3,163.4 L514.5,162.6 L515.2,163.2 L515.2,163.3 L515.6,162.4 L516.0,163.3 L516.2,162.8 L516.3,162.9 L516.4,162.6 L516.7,163.3 L517.1,162.9 L517.2,162.6 L517.4,163.4 L517.5,162.4 L518.2,163.0 L518.2,163.1 L518.3,163.4 L518.4,162.2 L519.2,163.0 L519.2,163.4 L519.3,163.4 L520.0,162.4 L520.2,163.0 L520.2,163.0 L520.7,163.4 L521.2,162.2 L521.2,163.1 L521.8,162.6 L522.2,163.4 L522.2,163.4 L523.1,162.4 L523.2,162.6 L523.2,162.7 L524.0,163.4 L524.2,162.5 L524.3,163.2 L524.3,163.4 L524.6,162.4 L525.1,162.7 L525.2,163.0 L525.3,163.4 L526.0,162.4 L526.2,163.3 L526.2,163.0 L526.7,162.5 L526.8,163.4 L527.2,163.0 L527.2,163.3 L528.0,163.3 L528.1,162.4 L528.2,162.9 L528.2,163.2 L528.5,162.2 L529.2,163.1 L529.2,163.4 L529.6,162.1 L530.2,163.4 L530.2,162.8 L530.7,161.9 L531.2,162.1 L531.2,162.0 L531.5,162.9 L532.2,161.5 L532.2,161.3 L532.5,162.5 L533.1,161.3 L533.2,161.6 L533.7,162.8 L534.2,160.9 L534.2,161.4 L534.3,161.3 L535.0,162.8 L535.2,162.2 L535.2,162.3 L535.5,161.9 L536.1,162.8 L536.2,162.5 L536.2,162.9 L536.8,162.2 L537.0,163.2 L537.2,163.0 L537.2,163.0 L537.3,162.0 L537.9,163.2 L538.2,162.7 L538.2,162.8 L538.6,162.4 L538.8,163.4 L539.2,162.9 L539.2,162.3 L539.4,163.4 L540.2,163.4 L540.2,163.4 L541.0,162.5 L541.2,163.0 L541.3,163.0 L541.8,162.3 L541.9,163.1 L542.1,162.6 L542.2,162.6 L542.3,163.4 L542.7,162.5 L543.2,162.6 L543.2,163.3 L543.6,163.4 L543.8,162.8 L544.2,162.8 L544.2,163.0 L544.3,163.4 L544.4,162.5 L545.2,163.1 L545.2,163.4 L545.4,162.4 L545.4,163.4 L546.2,162.5 L546.2,163.4 L546.7,162.4 L547.2,163.3 L547.2,162.7 L547.5,163.4 L547.9,162.6 L548.2,162.7 L548.2,163.0 L548.7,163.4 L549.1,162.5 L549.2,163.2 L549.3,163.1 L549.5,163.4 L550.0,162.6 L550.1,163.1 L550.2,163.1 L550.4,162.5 L550.6,163.4 L551.2,163.3 L551.2,162.6 L551.3,163.4 L551.8,162.4 L552.2,163.2 L552.2,162.7 L552.3,162.4 L553.2,163.4 L553.2,163.3 L553.8,162.6 L554.0,163.4 L554.2,163.1 L554.2,163.4 L554.6,162.5 L555.2,163.0 L555.2,162.7 L555.6,162.5 L555.9,163.3 L556.2,163.2 L556.2,163.1 L556.5,163.4 L557.0,162.1 L557.2,163.0 L557.2,163.2 L557.3,163.4 L558.0,162.6 L558.2,162.8 L558.3,163.1 L558.4,163.4 L558.7,162.7 L559.1,162.8 L559.2,162.9 L559.3,162.5 L559.7,163.4 L560.2,162.8 L560.2,163.4 L560.3,162.6 L561.2,163.0 L561.2,162.6 L561.3,163.4 L561.4,162.4 L562.2,162.9 L562.2,162.9 L562.6,162.2 L563.1,163.4 L563.2,162.6 L563.2,163.0 L563.5,162.6 L563.9,163.4 L564.2,162.8 L564.2,163.2 L564.9,162.6 L565.2,163.3 L565.2,162.4 L565.7,162.3 L565.9,163.4 L566.2,163.2 L566.3,162.9 L566.5,163.4 L567.0,162.5 L567.1,162.9 L567.2,163.0 L567.3,162.5 L567.9,163.4 L568.2,163.3 L568.2,162.8 L568.3,163.4 L568.8,162.1 L569.2,162.8 L569.2,162.5 L569.6,162.5 L569.7,163.1 L570.2,163.0 L570.2,163.0 L570.3,163.4 L570.6,162.2 L571.2,163.3 L571.2,163.2 L571.7,163.4 L571.9,162.5 L572.2,162.7 L572.2,163.3 L572.6,162.5 L573.2,163.0 L573.2,163.1 L573.4,163.4 L573.4,162.6 L574.2,163.2 L574.2,162.6 L574.6,162.3 L574.9,163.4 L575.1,162.7 L575.2,163.0 L575.4,163.4 L576.2,162.4 L576.2,162.8 L576.3,162.4 L577.2,163.4 L577.2,163.0 L577.8,162.6 L577.9,163.4 L578.2,162.9 L578.2,163.2 L578.7,163.4 L579.0,162.4 L579.2,162.9 L579.2,162.5 L579.3,163.4 L580.2,162.5 L580.2,163.1 L580.6,163.4 L580.7,162.5 L581.2,162.9 L581.2,163.4 L581.7,162.2 L582.2,163.1 L582.2,163.2 L582.5,162.2 L582.5,163.4 L583.2,162.7 L583.3,163.3 L583.5,162.5 L584.0,163.4 L584.1,162.8 L584.2,162.8 L584.3,162.7 L584.4,163.4 L585.2,162.8 L585.2,162.9 L585.5,162.5 L585.5,163.4 L586.2,163.0 L586.2,163.2 L586.8,163.4 L587.0,162.4 L587.2,162.7 L587.2,162.7 L587.5,163.4 L588.2,163.2 L588.2,163.0 L588.5,163.4 L589.1,162.7 L589.2,162.9 L589.2,162.9 L589.5,162.3 L590.1,163.4 L590.2,162.9 L590.2,162.6 L590.7,163.2 L590.9,162.2 L591.2,162.8 L591.3,163.1 L591.3,163.4 L591.4,162.3 L592.1,162.6 L592.2,163.1 L592.4,163.4 L592.5,162.6 L593.2,162.8 L593.2,162.9 L594.0,162.3 L594.2,163.3 L594.2,162.7 L594.6,163.2 L595.2,162.1 L595.2,162.9 L595.3,163.4 L596.1,162.2 L596.2,163.1 L596.2,163.1 L596.3,162.5 L596.6,163.4 L597.2,163.1 L597.2,163.3 L597.3,163.4 L598.0,162.3 L598.2,163.4 L598.2,162.8 L598.6,163.4 L599.2,162.4 L599.2,163.3 L599.4,163.4 L599.6,162.4 L600.2,162.8 L600.3,163.0 L600.6,163.4 L601.0,162.4 L601.2,162.8 L601.2,162.7 L601.8,162.0 L601.9,163.1 L602.2,162.1 L602.2,162.9 L603.1,160.8 L603.2,161.4 L603.2,162.4 L603.9,161.4 L604.1,162.9 L604.2,162.8 L604.2,162.4 L604.8,163.4 L605.2,163.1 L605.2,163.3 L605.7,162.5 L605.8,163.4 L606.2,162.7 L606.2,162.7 L606.3,162.4 L606.5,163.4 L607.2,162.8 L607.2,163.4 L607.4,162.3 L608.2,162.7 L608.3,162.8 L608.8,163.4 L609.1,162.4 L609.1,162.8 L609.2,162.6 L609.6,163.4 L609.8,162.4 L610.2,162.9 L610.2,163.1 L610.4,162.3 L610.5,163.4 L611.2,163.3 L611.2,163.3 L611.5,163.4 L611.6,162.5 L612.2,162.8 L612.2,162.7 L612.5,162.2 L612.6,163.4 L613.2,163.1 L613.2,162.9 L613.6,162.3 L613.7,163.4 L614.2,162.9 L614.2,163.1 L614.6,162.6 L614.8,163.4 L615.2,162.8 L615.2,163.1 L615.4,163.4 L615.6,162.4 L616.2,162.5 L616.3,163.0 L616.5,163.4 L616.6,162.7 L617.1,163.0 L617.2,163.0 L617.5,163.4 L618.1,162.2 L618.2,162.8 L618.2,163.0 L618.4,163.4 L619.0,162.5 L619.2,163.1 L619.2,163.4 L619.5,162.5 L620.2,162.7 L620.2,163.4 L620.7,162.4 L621.2,163.0 L621.2,163.0 L621.3,162.5 L621.8,163.3 L622.2,163.1 L622.2,162.8 L622.7,163.3 L623.0,162.6 L623.2,162.9 L623.2,162.7 L623.7,162.4 L624.1,163.4 L624.2,162.7 L624.2,162.6 L624.3,163.4 L624.6,162.6 L625.2,163.2 L625.3,163.2 L625.6,163.4 L626.1,162.6 L626.2,162.5 L626.3,163.4 L627.2,163.0 L627.2,162.8 L627.3,163.4 L627.8,162.5 L628.2,163.4 L628.2,163.0 L628.3,163.4 L629.1,162.4 L629.2,163.3 L629.2,162.5 L629.7,163.4 L630.0,162.5 L630.2,162.5 L630.2,163.3 L630.8,163.4 L631.0,162.0 L631.2,162.9 L631.2,162.8 L631.6,163.4 L631.7,162.3 L632.2,163.1 L632.2,163.0 L632.5,162.0 L632.7,163.4 L633.2,163.1 L633.3,163.1 L633.5,162.1 L633.8,163.4 L634.1,162.9 L634.2,163.4 L634.4,163.4 L634.7,162.4 L635.2,163.0 L635.2,163.2 L635.4,163.4 L636.1,162.5 L636.2,163.1 L636.2,163.0 L636.3,162.3 L637.0,163.4 L637.2,163.0 L637.2,162.8 L637.9,162.5 L638.0,163.4 L638.2,163.1 L638.2,163.0 L638.5,163.3 L639.2,162.2 L639.2,162.6 L640.0,163.4 L640.1,162.4 L640.2,163.0 L640.2,163.4 L640.6,162.6 L641.2,163.1 L641.2,163.0 L641.5,162.4 L642.0,163.4 L642.2,162.8 L642.3,163.0 L642.6,163.4 L642.9,162.3 L643.2,163.2 L643.2,163.4 L643.6,162.6 L643.7,163.4 L644.2,163.0 L644.2,163.4 L644.9,162.3 L645.2,162.4 L645.2,162.8 L645.4,162.3 L645.7,163.4 L646.2,163.2 L646.2,163.4 L646.3,162.3 L647.2,162.5 L647.2,162.5 L647.9,163.4 L648.2,162.7 L648.2,163.0 L648.3,162.7 L648.5,163.4 L649.2,162.9 L649.2,163.2 L649.6,163.4 L650.0,162.6 L650.2,163.1 L650.3,163.0 L650.3,163.4 L651.1,162.2 L651.2,162.4 L651.8,163.3 L652.2,163.1 L652.2,162.8 L652.3,162.5 L652.7,163.4 L653.2,163.4 L653.2,162.9 L653.3,162.2 L653.3,163.4 L654.2,162.5 L654.2,163.4 L654.7,162.3 L655.2,163.3 L655.2,163.2 L655.5,163.4 L655.9,162.3 L656.2,162.9 L656.2,163.0 L656.6,163.4 L657.0,162.4 L657.2,163.0 L657.2,162.7 L657.3,163.4 L658.1,162.5 L658.2,163.0 L658.3,163.3 L658.8,163.3 L658.8,162.6 L659.1,163.0 L659.2,162.9 L659.4,162.5 L659.7,163.4 L660.2,163.1 L660.2,162.7 L660.3,162.5 L661.0,163.4 L661.2,163.1 L661.2,163.1 L661.4,163.4 L662.2,162.5 L662.2,162.8 L662.8,163.3 L663.2,162.6 L663.2,163.2 L663.4,163.3 L663.7,162.3 L664.2,162.8 L664.2,163.1 L664.3,162.3 L664.7,163.4 L665.2,162.7 L665.2,162.7 L666.0,163.4 L666.2,162.5 L666.2,162.4 L666.4,162.8 L667.1,162.1 L667.2,162.4 L667.3,162.0 L667.5,162.4 L668.1,161.2 L668.1,161.4 L668.2,161.1 L668.4,161.3 L669.1,159.8 L669.2,160.2 L669.2,159.5 L669.3,160.5 L670.1,155.0 L670.2,155.2 L670.2,153.7 L670.3,154.2 L671.2,130.8 L671.2,129.7 L672.2,79.6 L672.2,77.3 L673.0,54.3 L673.2,55.3 L673.2,59.3 L673.3,57.3 L674.2,97.3 L674.2,101.7 L675.2,141.9 L675.3,143.4 L676.1,156.8 L676.2,157.1 L677.0,160.8 L677.2,160.6 L677.2,160.3 L677.8,161.9 L678.2,161.6 L678.2,161.5 L679.2,162.5 L679.2,162.3 L679.7,162.7 L680.2,162.7 L680.2,162.7 L680.3,162.6 L681.1,163.4 L681.2,163.1 L681.2,162.8 L681.5,163.4 L681.7,162.2 L682.2,162.9 L682.2,163.0 L682.7,162.7 L683.0,163.4 L683.2,163.1 L683.2,162.5 L684.0,163.3 L684.1,162.6 L684.2,163.4" fill="none" stroke="#2ca02c" stroke-width="1.2" stroke-linejoin="round"/>
<path d="M382.2,162.9 L382.4,163.4 L382.6,161.8 L383.2,163.0 L383.2,162.6 L383.5,163.3 L383.5,162.5 L384.2,162.9 L384.2,162.9 L384.4,162.1 L384.8,163.4 L385.2,162.2 L385.2,163.1 L385.3,163.3 L385.7,161.8 L386.2,162.4 L386.2,162.6 L386.5,163.2 L386.6,161.8 L387.2,162.2 L387.2,162.6 L387.6,163.2 L388.0,161.3 L388.2,161.4 L388.2,161.7 L389.0,159.2 L389.2,159.6 L389.2,160.2 L389.3,160.6 L389.9,156.1 L390.2,157.1 L390.3,156.4 L390.3,157.3 L391.1,145.2 L391.2,141.8 L392.2,103.4 L392.2,95.4 L393.2,54.1 L393.2,56.0 L393.4,49.9 L394.2,74.9 L394.2,79.6 L395.2,128.5 L395.2,128.9 L396.2,153.5 L396.2,153.9 L396.3,153.6 L397.1,160.0 L397.2,159.4 L397.2,159.1 L397.5,158.7 L398.1,161.5 L398.2,160.9 L398.3,161.6 L398.3,160.8 L398.7,162.7 L399.1,161.8 L399.2,163.3 L399.5,161.4 L400.2,162.9 L400.2,162.3 L400.6,161.7 L400.7,163.4 L401.2,162.5 L401.2,162.5 L401.4,163.4 L401.9,162.2 L402.2,163.3 L402.2,163.2 L402.5,163.4 L402.7,162.2 L403.2,163.2 L403.2,163.0 L403.8,163.4 L404.0,161.9 L404.2,163.3 L404.2,162.6 L404.9,162.1 L405.0,163.3 L405.2,162.9 L405.2,163.1 L405.5,163.4 L405.9,162.4 L406.2,163.0 L406.2,163.4 L406.5,162.4 L407.2,163.3 L407.3,162.8 L407.5,163.4 L407.9,162.5 L408.1,162.6 L408.2,162.7 L408.4,162.4 L409.2,163.4 L409.2,162.3 L409.3,163.4 L409.7,162.0 L410.2,162.7 L410.2,163.0 L410.7,162.0 L411.1,163.4 L411.2,162.9 L411.2,162.3 L411.4,163.4 L412.2,163.2 L412.2,162.9 L412.3,163.4 L412.4,162.4 L413.2,163.0 L413.2,162.9 L413.5,163.2 L413.5,162.3 L414.2,162.7 L414.2,163.1 L414.7,163.4 L414.9,162.0 L415.2,162.4 L415.3,162.5 L415.6,162.1 L415.8,163.3 L416.1,162.8 L416.2,162.8 L416.5,163.3 L416.8,161.9 L417.2,163.0 L417.2,162.8 L417.4,163.4 L417.6,162.4 L418.2,162.8 L418.2,162.6 L418.3,163.4 L418.4,162.3 L419.2,162.8 L419.2,162.2 L419.5,163.4 L420.2,162.5 L420.2,163.1 L420.6,163.3 L421.0,162.1 L421.2,162.9 L421.2,162.4 L421.6,163.4 L422.2,162.0 L422.2,162.8 L422.6,162.3 L423.0,163.4 L423.2,162.8 L423.2,162.8 L423.5,161.9 L424.1,163.2 L424.1,162.9 L424.2,162.7 L424.4,162.1 L424.9,163.2 L425.2,162.6 L425.2,162.4 L425.5,163.3 L425.6,162.2 L426.2,162.9 L426.2,163.3 L426.5,162.3 L427.2,162.8 L427.2,163.4 L427.4,163.4 L427.6,162.0 L428.2,162.2 L428.2,162.9 L428.8,163.4 L428.9,162.0 L429.2,162.6 L429.2,162.7 L429.3,163.4 L429.6,162.3 L430.2,162.4 L430.2,162.7 L430.5,163.4 L430.7,162.4 L431.2,162.4 L431.2,163.1 L431.7,163.4 L431.8,161.7 L432.2,162.8 L432.3,162.4 L432.4,163.4 L432.6,162.3 L433.1,162.8 L433.2,162.2 L433.7,163.4 L434.2,163.4 L434.2,162.8 L434.7,163.4 L434.9,162.1 L435.2,162.5 L435.2,162.9 L435.4,162.1 L435.6,163.4 L436.2,162.7 L436.2,162.7 L436.4,161.9 L436.6,163.4 L437.2,162.9 L437.2,162.9 L437.5,163.4 L437.6,162.0 L438.2,162.6 L438.2,163.4 L438.3,161.9 L439.2,162.2 L439.2,163.0 L439.4,163.4 L440.0,162.2 L440.2,162.7 L440.3,163.3 L440.5,162.4 L441.1,163.0 L441.2,162.8 L441.4,163.4 L442.0,162.5 L442.2,163.3 L442.2,162.2 L442.3,163.4 L443.2,162.6 L443.2,163.1 L443.3,162.1 L444.2,163.4 L444.2,163.4 L444.9,161.8 L445.2,162.3 L445.2,162.2 L445.4,163.4 L445.9,161.9 L446.2,162.6 L446.2,162.5 L446.9,162.2 L447.1,163.1 L447.2,162.9 L447.2,163.0 L447.3,163.4 L447.6,162.2 L448.2,163.4 L448.2,162.7 L448.5,162.4 L448.8,163.3 L449.2,162.6 L449.3,163.4 L449.9,162.2 L450.2,162.4 L450.2,162.7 L450.5,162.3 L450.9,163.2 L451.2,162.5 L451.2,163.4 L451.3,162.0 L452.2,162.6 L452.2,163.4 L452.9,162.0 L453.2,162.4 L453.2,163.0 L453.3,162.0 L454.2,163.4 L454.2,163.4 L455.0,162.0 L455.2,162.9 L455.2,162.7 L455.6,162.4 L456.2,163.4 L456.2,162.7 L456.5,162.4 L457.0,163.4 L457.2,163.4 L457.3,162.7 L457.8,162.1 L457.9,163.3 L458.1,162.7 L458.2,162.9 L458.7,162.2 L459.0,163.4 L459.2,162.7 L459.2,162.6 L459.4,163.4 L460.1,162.5 L460.2,162.7 L460.2,162.4 L460.8,163.4 L461.2,162.0 L461.2,162.0 L461.5,163.4 L461.7,161.3 L462.2,161.6 L462.2,160.4 L462.3,162.0 L463.2,159.1 L463.2,159.7 L463.3,159.1 L463.9,161.6 L464.2,161.0 L464.2,161.2 L465.1,163.4 L465.2,163.3 L465.3,162.3 L465.5,163.4 L465.9,162.1 L466.1,162.6 L466.2,162.7 L466.3,163.4 L467.1,162.2 L467.2,162.7 L467.2,162.6 L467.8,163.3 L468.0,161.9 L468.2,162.5 L468.2,162.7 L468.4,163.4 L469.2,162.1 L469.2,163.4 L469.8,162.7 L470.2,162.8 L470.2,163.3 L470.6,162.3 L471.1,163.4 L471.2,162.7 L471.2,162.9 L471.5,162.1 L471.6,163.4 L472.2,163.4 L472.2,163.4 L473.2,162.2 L473.2,163.1 L473.6,163.4 L474.2,162.5 L474.3,162.8 L474.5,163.4 L474.7,162.4 L475.1,163.1 L475.2,162.7 L475.3,162.5 L475.3,163.2 L476.2,163.1 L476.2,162.6 L476.9,163.4 L477.1,162.3 L477.2,162.3 L477.2,163.0 L477.8,162.3 L478.0,163.3 L478.2,162.6 L478.2,163.0 L478.3,162.4 L478.7,163.4 L479.2,163.2 L479.2,163.2 L479.6,163.4 L479.7,162.1 L480.2,163.2 L480.2,163.1 L480.3,162.4 L480.6,163.4 L481.2,162.8 L481.2,163.3 L481.4,162.0 L482.2,162.8 L482.3,163.2 L482.5,163.4 L483.0,162.2 L483.1,163.1 L483.2,162.8 L483.3,163.4 L483.8,162.2 L484.2,163.2 L484.2,163.0 L484.7,163.4 L485.2,162.0 L485.2,162.9 L485.6,163.4 L486.2,162.3 L486.2,162.6 L486.3,163.4 L486.4,162.4 L487.2,162.7 L487.2,163.2 L487.4,162.1 L488.1,163.4 L488.2,162.9 L488.2,163.1 L488.8,163.4 L489.2,162.5 L489.2,163.1 L489.5,162.5 L489.7,163.4 L490.2,163.0 L490.2,163.0 L490.3,162.4 L491.1,163.4 L491.2,163.3 L491.3,162.8 L491.4,162.4 L492.2,163.4 L492.2,162.8 L492.3,163.4 L492.8,162.1 L493.2,162.7 L493.2,162.6 L493.4,162.2 L493.9,163.4 L494.2,162.5 L494.2,163.3 L495.0,163.4 L495.1,162.1 L495.2,163.4 L495.2,163.0 L495.5,163.2 L495.6,162.4 L496.2,162.6 L496.2,163.3 L496.3,162.4 L496.7,163.4 L497.2,163.4 L497.2,162.6 L497.8,163.4 L498.0,162.1 L498.2,163.4 L498.2,163.2 L498.5,162.3 L498.7,163.4 L499.2,162.8 L499.3,162.5 L499.9,163.4 L500.1,162.0 L500.2,162.6 L500.4,163.4 L501.0,162.4 L501.2,163.0 L501.2,162.7 L501.6,163.4 L501.9,162.0 L502.2,163.3 L502.2,163.2 L502.6,163.4 L502.7,161.9 L503.2,163.1 L503.2,163.4 L503.6,162.4 L504.2,163.4 L504.2,163.1 L504.9,162.3 L505.1,163.4 L505.2,162.5 L505.2,163.3 L505.6,161.9 L505.7,163.4 L506.2,162.6 L506.2,162.7 L506.4,162.2 L506.9,163.4 L507.2,162.9 L507.3,162.7 L507.4,162.0 L507.6,163.4 L508.1,162.8 L508.2,162.8 L508.3,163.4 L508.6,162.3 L509.2,162.8 L509.2,163.2 L509.5,162.2 L509.6,163.4 L510.2,163.3 L510.2,163.0 L510.3,163.4 L510.6,162.6 L511.2,163.1 L511.2,162.8 L511.6,162.1 L511.8,163.4 L512.2,162.7 L512.2,163.0 L512.3,163.4 L513.0,162.2 L513.2,163.1 L513.2,163.4 L513.9,162.5 L514.2,163.1 L514.2,163.0 L514.4,163.4 L514.4,162.3 L515.2,163.0 L515.2,163.0 L515.3,163.4 L515.4,162.3 L516.2,162.4 L516.3,163.0 L516.5,163.4 L516.8,162.3 L517.1,162.6 L517.2,162.5 L517.7,161.8 L517.9,163.4 L518.2,163.0 L518.2,163.0 L519.1,163.3 L519.1,162.0 L519.2,162.9 L519.2,163.1 L519.6,162.4 L519.9,163.4 L520.2,163.0 L520.2,162.8 L520.6,163.4 L520.8,162.1 L521.2,163.2 L521.2,162.7 L521.6,162.3 L522.0,163.3 L522.2,162.7 L522.2,163.3 L522.4,163.4 L522.6,162.2 L523.2,162.8 L523.2,163.3 L523.4,163.4 L524.0,162.1 L524.2,163.4 L524.3,162.3 L524.8,162.1 L525.0,163.2 L525.1,163.0 L525.2,162.6 L525.3,161.7 L525.9,163.4 L526.2,162.5 L526.2,162.3 L527.0,163.3 L527.1,162.1 L527.2,162.7 L527.2,162.8 L527.6,163.0 L527.9,161.9 L528.2,162.4 L528.2,162.8 L529.1,161.2 L529.2,162.4 L529.2,162.4 L530.1,159.8 L530.2,160.8 L530.2,160.2 L531.2,149.9 L531.2,148.1 L532.1,128.4 L532.2,130.8 L532.2,127.1 L532.3,128.8 L533.1,111.1 L533.2,111.5 L534.2,127.9 L534.2,127.8 L535.1,151.4 L535.2,150.5 L535.2,150.6 L535.3,150.4 L536.2,160.5 L536.2,159.4 L536.4,159.0 L536.9,162.3 L537.2,161.9 L537.2,161.4 L537.6,162.6 L538.2,162.4 L538.2,163.1 L538.6,161.7 L539.2,162.6 L539.2,161.9 L539.6,161.8 L539.8,163.3 L540.2,163.0 L540.2,162.9 L540.5,163.4 L540.5,162.1 L541.2,162.6 L541.3,162.5 L542.0,162.1 L542.1,163.4 L542.1,163.2 L542.2,163.4 L542.6,162.6 L543.2,163.3 L543.2,162.8 L543.6,163.2 L544.2,162.0 L544.2,161.9 L544.7,163.3 L545.2,162.8 L545.2,162.8 L545.4,162.3 L545.4,163.4 L546.2,163.1 L546.2,162.7 L546.3,163.3 L547.2,162.3 L547.2,162.9 L547.3,162.2 L548.2,163.4 L548.2,162.4 L548.5,162.3 L548.9,163.4 L549.2,163.1 L549.3,163.3 L549.8,162.3 L549.9,163.4 L550.1,162.7 L550.2,163.2 L550.3,163.4 L550.4,162.3 L551.2,162.9 L551.2,163.2 L551.9,163.4 L552.2,162.2 L552.2,162.5 L552.8,162.2 L552.8,163.3 L553.2,162.9 L553.2,162.7 L553.7,163.1 L553.8,162.2 L554.2,162.5 L554.2,163.2 L554.5,163.4 L555.1,162.5 L555.2,163.4 L555.2,162.6 L555.5,162.6 L555.6,163.4 L556.2,163.4 L556.2,162.3 L556.6,163.4 L556.6,162.1 L557.2,162.7 L557.2,163.3 L557.4,162.3 L557.8,163.4 L558.2,163.3 L558.3,162.6 L558.4,163.4 L559.1,162.0 L559.1,163.4 L559.2,162.3 L559.9,163.4 L560.2,162.6 L560.2,162.7 L560.4,163.4 L560.7,162.5 L561.2,163.0 L561.2,162.8 L561.6,162.2 L561.7,163.4 L562.2,163.0 L562.2,162.9 L562.4,163.4 L563.0,162.1 L563.2,162.2 L563.2,162.7 L563.3,161.8 L563.5,163.4 L564.2,162.5 L564.2,162.9 L564.3,162.3 L565.0,163.4 L565.2,162.6 L565.2,162.9 L565.3,162.2 L565.9,163.4 L566.2,163.1 L566.3,162.8 L566.7,163.4 L567.1,161.7 L567.1,162.7 L567.2,162.9 L567.6,162.4 L567.7,163.4 L568.2,162.7 L568.2,162.6 L568.8,162.1 L568.9,163.4 L569.2,162.9 L569.2,163.1 L569.4,162.0 L569.8,163.4 L570.2,162.2 L570.2,162.6 L570.8,162.2 L571.0,163.4 L571.2,162.9 L571.2,162.7 L571.5,163.2 L572.0,162.3 L572.2,162.4 L572.2,162.4 L572.6,163.2 L572.7,162.1 L573.2,163.0 L573.2,162.6 L573.3,162.1 L574.1,163.4 L574.2,163.2 L574.2,163.0 L574.7,163.4 L574.8,162.4 L575.1,162.9 L575.2,163.2 L575.9,162.1 L576.2,163.4 L576.2,162.3 L576.8,162.1 L577.1,163.4 L577.2,163.3 L577.2,163.1 L577.4,163.3 L577.6,162.2 L578.2,163.1 L578.2,162.7 L578.6,163.4 L578.8,162.3 L579.2,162.7 L579.2,162.3 L579.7,163.4 L580.2,163.4 L580.2,162.4 L580.8,163.4 L581.0,162.1 L581.2,162.5 L581.2,162.2 L582.0,163.2 L582.2,162.8 L582.2,162.8 L582.4,163.4 L583.2,162.4 L583.3,163.0 L583.5,162.3 L583.9,163.1 L584.1,162.7 L584.2,162.2 L584.3,163.4 L585.2,163.0 L585.2,162.1 L585.8,163.3 L586.2,163.0 L586.2,162.6 L586.3,162.2 L586.5,163.2 L587.2,162.8 L587.2,163.2 L587.3,163.4 L587.4,162.0 L588.2,162.2 L588.2,163.1 L588.8,163.3 L589.0,162.3 L589.2,163.0 L589.2,163.2 L589.5,163.4 L589.7,161.7 L590.2,162.8 L590.2,162.8 L590.4,163.4 L591.0,162.4 L591.2,162.6 L591.3,162.9 L591.4,163.4 L591.5,162.1 L592.1,163.4 L592.2,163.4 L592.7,162.4 L593.2,162.6 L593.2,162.9 L593.3,163.4 L593.7,162.3 L594.2,162.8 L594.2,163.1 L594.8,162.1 L594.9,163.3 L595.2,163.0 L595.2,162.8 L595.3,163.4 L595.4,162.3 L596.2,163.0 L596.2,162.5 L596.3,162.1 L597.0,163.3 L597.2,162.2 L597.2,162.8 L598.0,162.3 L598.0,163.4 L598.2,163.2 L598.2,163.0 L598.5,162.3 L598.6,163.4 L599.2,163.1 L599.2,163.1 L599.4,162.0 L600.1,163.3 L600.2,162.2 L600.3,163.3 L600.9,163.4 L601.1,161.8 L601.2,162.7 L601.2,163.4 L602.1,161.3 L602.2,162.1 L602.2,160.2 L602.5,161.9 L602.8,158.6 L603.2,160.2 L603.2,161.4 L603.3,158.5 L604.1,161.9 L604.2,160.8 L604.2,161.5 L604.3,160.9 L605.0,163.4 L605.2,162.8 L605.2,162.6 L606.1,162.0 L606.2,163.3 L606.2,162.5 L606.5,163.4 L606.6,162.2 L607.2,162.9 L607.2,162.5 L607.5,162.0 L607.7,163.3 L608.2,162.5 L608.3,163.4 L608.7,162.2 L609.1,162.8 L609.2,162.8 L609.6,162.3 L609.7,163.4 L610.2,162.6 L610.2,162.7 L610.3,163.4 L610.5,162.0 L611.2,162.3 L611.2,163.1 L611.6,163.4 L611.9,162.1 L612.2,162.3 L612.2,162.6 L612.3,163.4 L612.8,162.3 L613.2,163.2 L613.2,163.4 L614.0,162.0 L614.2,162.3 L614.2,162.6 L614.5,162.2 L614.7,163.3 L615.2,163.1 L615.2,162.9 L615.5,163.4 L615.8,162.4 L616.2,162.6 L616.3,163.2 L616.6,162.3 L617.0,163.3 L617.1,163.0 L617.2,162.6 L617.6,163.4 L617.7,161.9 L618.2,162.4 L618.2,162.6 L618.3,163.4 L618.4,162.2 L619.2,162.4 L619.2,162.5 L619.5,163.4 L620.2,162.1 L620.2,162.7 L620.8,163.4 L621.0,162.3 L621.2,162.6 L621.2,163.4 L621.3,163.4 L621.3,162.2 L622.2,163.4 L622.2,163.3 L622.5,163.4 L623.2,162.3 L623.2,162.7 L623.9,162.3 L624.0,163.4 L624.2,162.7 L624.2,162.5 L624.7,162.4 L625.1,163.4 L625.2,162.9 L625.3,163.4 L625.7,162.2 L626.1,162.7 L626.2,163.0 L626.5,163.4 L626.9,162.3 L627.2,163.3 L627.2,163.1 L627.4,162.1 L627.8,163.2 L628.2,162.6 L628.2,162.7 L628.7,163.4 L628.9,162.1 L629.2,162.6 L629.2,162.9 L629.6,161.4 L629.8,163.4 L630.2,162.9 L630.2,163.4 L630.5,162.0 L631.2,162.9 L631.2,163.4 L632.0,163.4 L632.2,162.0 L632.2,162.6 L632.4,162.1 L632.6,163.4 L633.2,162.8 L633.3,162.8 L633.3,163.4 L633.8,162.2 L634.1,162.7 L634.2,163.1 L634.4,162.2 L634.8,163.4 L635.2,163.3 L635.2,162.8 L635.4,163.4 L635.7,162.4 L636.2,163.4 L636.2,163.1 L636.4,163.2 L636.8,162.2 L637.2,162.6 L637.2,163.0 L637.6,162.6 L638.1,163.4 L638.2,162.8 L638.2,161.9 L639.0,163.4 L639.2,162.1 L639.2,162.8 L639.6,162.3 L640.0,163.4 L640.2,162.8 L640.2,163.4 L640.3,163.4 L640.7,162.4 L641.2,162.8 L641.2,162.3 L641.9,162.0 L642.0,163.4 L642.2,163.4 L642.3,163.1 L642.8,161.8 L642.9,163.4 L643.2,162.6 L643.2,162.7 L643.5,162.1 L643.9,163.3 L644.2,163.1 L644.2,162.7 L644.3,162.3 L644.4,163.4 L645.2,163.1 L645.2,163.0 L645.3,162.0 L645.9,163.4 L646.2,163.1 L646.2,162.5 L646.6,163.4 L646.7,162.4 L647.2,163.4 L647.2,163.0 L647.8,163.4 L648.1,162.3 L648.2,163.0 L648.2,163.0 L648.6,163.4 L649.0,162.2 L649.2,162.7 L649.2,163.4 L649.4,161.9 L650.2,163.2 L650.3,163.4 L650.6,162.4 L651.1,163.1 L651.2,163.3 L651.5,163.4 L651.5,162.2 L652.2,162.5 L652.2,162.8 L652.3,162.2 L652.8,163.4 L653.2,162.8 L653.2,163.0 L653.8,162.4 L654.1,163.3 L654.2,162.7 L654.2,162.6 L654.7,162.0 L655.0,163.4 L655.2,162.4 L655.2,162.4 L655.3,163.4 L655.5,162.1 L656.2,162.7 L656.2,162.7 L657.1,163.4 L657.2,162.0 L657.2,162.7 L657.3,162.3 L657.5,163.4 L658.2,163.1 L658.3,163.3 L658.8,163.4 L659.0,162.3 L659.1,162.7 L659.2,162.8 L659.3,163.4 L659.8,162.3 L660.2,163.1 L660.2,162.9 L660.3,163.4 L660.8,162.4 L661.2,163.1 L661.2,163.3 L661.4,162.2 L662.2,162.9 L662.2,162.9 L662.5,163.3 L662.8,162.1 L663.2,162.3 L663.2,162.9 L663.6,162.4 L664.0,163.4 L664.2,162.7 L664.2,163.0 L664.7,163.3 L665.1,162.2 L665.2,162.5 L665.2,162.4 L665.3,163.2 L665.5,161.8 L666.2,162.5 L666.2,162.1 L666.8,163.0 L667.0,161.2 L667.2,161.6 L667.3,162.6 L667.3,162.6 L667.5,160.8 L668.1,161.2 L668.2,161.9 L668.8,162.3 L669.0,159.3 L669.2,160.2 L669.2,159.8 L669.3,159.9 L670.2,152.3 L670.2,154.3 L671.2,132.1 L671.2,127.7 L671.3,130.1 L672.2,79.2 L672.2,73.9 L672.3,73.9 L673.1,50.1 L673.2,56.9 L673.2,56.9 L673.4,55.7 L674.2,98.8 L674.2,100.2 L675.1,140.4 L675.2,140.1 L675.3,141.9 L676.1,157.1 L676.2,157.0 L676.3,156.6 L677.2,161.2 L677.2,160.0 L678.2,162.8 L678.2,160.7 L678.7,163.1 L679.2,161.9 L679.2,161.8 L679.5,161.3 L680.1,162.9 L680.2,162.7 L680.2,162.9 L681.0,162.1 L681.1,163.1 L681.2,162.7 L681.2,162.3 L681.3,162.0 L681.5,163.4 L682.2,163.0 L682.2,163.4 L683.1,162.2 L683.2,162.9 L683.2,163.1 L683.4,162.2 L683.6,163.4 L684.1,162.5 L684.2,163.3" fill="none" stroke="#1f77b4" stroke-width="1.5" stroke-linejoin="round"/>
<path d="M386.67,162.78 L386.73,162.82 L386.79,162.8 L386.84,162.67 L386.9,162.8 L386.95,162.43 L387.01,162.38 L387.07,161.39 L387.12,162.96 L387.18,162.47 L387.23,162.04 L387.29,161.77 L387.35,162.24 L387.4,161.89 L387.46,162.32 L387.51,161.87 L387.57,162.3 L387.62,162.54 L387.68,161.99 L387.74,162.09 L387.79,161.97 L387.85,162.1 L387.9,162.43 L387.96,161.99 L388.02,162.02 L388.07,162.21 L388.13,162.03 L388.18,161.7 L388.24,161.61 L388.3,161.91 L388.35,161.94 L388.41,161.73 L388.46,161.71 L388.52,161.44 L388.58,160.63 L388.63,161.37 L388.69,161.92 L388.74,160.5 L388.8,161.05 L388.86,161.14 L388.91,160.69 L388.97,161.02 L389.02,160.04 L389.08,160.67 L389.13,160.58 L389.19,160.65 L389.25,160.21 L389.3,160.4 L389.36,160.36 L389.41,160.15 L389.47,160.34 L389.53,159.48 L389.58,159.1 L389.64,160.03 L389.69,159.6 L389.75,159.03 L389.81,159.67 L389.86,159.23 L389.92,158.42 L389.97,158.38 L390.03,158.03 L390.09,158.87 L390.14,157.02 L390.2,157.2 L390.25,156.97 L390.31,155.5 L390.37,155.54 L390.42,156.44 L390.48,153.98 L390.53,154.84 L390.59,153.95 L390.64,153.9 L390.7,151.46 L390.76,151.6 L390.81,150.33 L390.87,149.03 L390.92,148.61 L390.98,148.94 L391.04,145.1 L391.09,145.19 L391.15,144.68 L391.2,142.29 L391.26,140.64 L391.32,139 L391.37,136.87 L391.43,134.44 L391.48,131.1 L391.54,129.74 L391.6,128.18 L391.65,123.75 L391.71,123.36 L391.76,118.38 L391.82,118.09 L391.88,117.2 L391.93,110.97 L391.99,109.81 L392.04,106.96 L392.1,103.73 L392.15,100.4 L392.21,96.65 L392.27,94.42 L392.32,92.85 L392.38,87.62 L392.43,84.4 L392.49,82.53 L392.55,78.68 L392.6,75.43 L392.66,76.1 L392.71,73.78 L392.77,69.67 L392.83,64.88 L392.88,66.31 L392.94,60.36 L392.99,61.13 L393.05,58.05 L393.11,58.17 L393.16,57.18 L393.22,55.97 L393.27,56.04 L393.33,56.02 L393.39,55.52 L393.44,55.08 L393.5,55.44 L393.55,57.67 L393.61,57.12 L393.66,57.9 L393.72,57.86 L393.78,59.47 L393.83,61.91 L393.89,63.78 L393.94,68 L394,69.29 L394.06,69.94 L394.11,73.09 L394.17,74.28 L394.22,76.28 L394.28,79.64 L394.34,85.93 L394.39,88.99 L394.45,91.69 L394.5,92.66 L394.56,97.03 L394.62,100.9 L394.67,104.97 L394.73,106.74 L394.78,109.94 L394.84,111.14 L394.9,112.67 L394.95,119.66 L395.01,122.47 L395.06,122.58 L395.12,125.23 L395.17,128.88 L395.23,130.27 L395.29,132.41 L395.34,135.8 L395.4,136.13 L395.45,139.06 L395.51,140.15 L395.57,140.89 L395.62,144.26 L395.68,144.24 L395.73,145.64 L395.79,146.29 L395.85,149.17 L395.9,149.37 L395.96,151.63 L396.01,151.51 L396.07,151.43 L396.13,151.87 L396.18,153.34 L396.24,155 L396.29,155.92 L396.35,155.26 L396.41,156.33 L396.46,156.16 L396.52,156.78 L396.57,157.15 L396.63,156.63 L396.68,158.54 L396.74,158.17 L396.8,157.91 L396.85,157.77 L396.91,159.29 L396.96,159.58 L397.02,159.4 L397.08,160.17 L397.13,160.05 L397.19,158.95 L397.24,160.17 L397.3,160.51 L397.36,160.21 L397.41,160.06 L397.47,160.59 L397.52,160.32 L397.58,160.01 L397.64,160.19 L397.69,160.71 L397.75,160.15 L397.8,160.06 L397.86,160.59 L397.92,161.73 L397.97,160.58 L398.03,161.18 L398.08,160.71 L398.14,161.44 L398.19,161.53 L398.25,161.57 L398.31,161.57 L398.36,160.74 L398.42,161.71 L398.47,161.72 L398.53,161.53 L398.59,162.09 L398.64,161.91 L398.7,162.13 L398.75,161.43 L398.81,162.4 L398.87,161.93 L398.92,161.85 L398.98,161.5 L399.03,161.7 L399.09,161.94 L399.15,162.44 L399.2,161.23 L399.26,161.64 L399.31,162.02 L399.37,162.74 L399.43,162.43 L399.48,162.7 L399.54,162.75 L399.59,162.65 L399.65,162.94 L399.7,162.89 L399.76,162.65 L399.82,162.6 L399.87,163.21 L399.93,162.65 L399.98,162.02 L400.04,162.67" fill="none" stroke="#2ca02c" stroke-width="1.1" stroke-dasharray="1.4,1.8,0.8,2.6,2,1.5,1,3" stroke-opacity="0.9"/>
<path d="M666.3,162.68 L666.36,162.25 L666.42,162.76 L666.47,162.52 L666.53,162.29 L666.58,162.39 L666.64,161.98 L666.7,162.4 L666.75,162.5 L666.81,161.96 L666.86,162.14 L666.92,161.99 L666.97,161.27 L667.03,161.85 L667.09,162.11 L667.14,162.08 L667.2,162.41 L667.25,161.98 L667.31,162.3 L667.37,161.61 L667.42,161.96 L667.48,162.35 L667.53,161.71 L667.59,161.33 L667.65,161.47 L667.7,161.5 L667.76,161.04 L667.81,161.84 L667.87,161.42 L667.93,161.54 L667.98,161.21 L668.04,161.83 L668.09,160.9 L668.15,161.41 L668.21,160.87 L668.26,160.64 L668.32,160.95 L668.37,160.14 L668.43,161.28 L668.48,161.12 L668.54,161.1 L668.6,160.84 L668.65,160.31 L668.71,159.99 L668.76,160.4 L668.82,160.58 L668.88,160.47 L668.93,160.91 L668.99,160.04 L669.04,160.67 L669.1,159.38 L669.16,160.23 L669.21,158.7 L669.27,160.5 L669.32,158.9 L669.38,159.96 L669.44,159.13 L669.49,159.03 L669.55,158.31 L669.6,157.55 L669.66,157.48 L669.72,158.58 L669.77,156.89 L669.83,158.04 L669.88,157.19 L669.94,155.6 L669.99,156.69 L670.05,155.89 L670.11,154.97 L670.16,155.17 L670.22,153.46 L670.27,154.15 L670.33,151.62 L670.39,151.34 L670.44,150.67 L670.5,148.8 L670.55,149.39 L670.61,147.11 L670.67,145.96 L670.72,144.97 L670.78,143.35 L670.83,142.36 L670.89,141.52 L670.95,140.28 L671,136.22 L671.06,134.03 L671.11,132.8 L671.17,130.83 L671.23,129.65 L671.28,124.28 L671.34,123.82 L671.39,120.05 L671.45,117.41 L671.5,116.28 L671.56,112.37 L671.62,108.82 L671.67,106.91 L671.73,103.41 L671.78,99.86 L671.84,100.49 L671.9,93.82 L671.95,91.48 L672.01,88.25 L672.06,87.18 L672.12,83.06 L672.18,79.65 L672.23,77.28 L672.29,73.59 L672.34,72.08 L672.4,69.02 L672.46,66.7 L672.51,61.42 L672.57,62.36 L672.62,63.02 L672.68,61.03 L672.74,56.72 L672.79,55.31 L672.85,56.23 L672.9,55.96 L672.96,53.71 L673.01,57.19 L673.07,53.73 L673.13,54.43 L673.18,54.97 L673.24,59.32 L673.29,56.93 L673.35,57.47 L673.41,60.81 L673.46,63.26 L673.52,65.72 L673.57,66.56 L673.63,67.62 L673.69,70.76 L673.74,73.07 L673.8,74.63 L673.85,79.99 L673.91,84.27 L673.97,87.04 L674.02,88.48 L674.08,91.3 L674.13,94.28 L674.19,95.62 L674.25,101.67 L674.3,103.83 L674.36,108.68 L674.41,111.43 L674.47,114.09 L674.52,115.98 L674.58,115.84 L674.64,120.78 L674.69,123.18 L674.75,127.38 L674.8,128.88 L674.86,131.57 L674.92,132.03 L674.97,135.07 L675.03,135.99 L675.08,139.6 L675.14,140.42 L675.2,141.6 L675.25,142.31 L675.31,143.55 L675.36,147 L675.42,146.6 L675.48,148.78 L675.53,149.75 L675.59,150.83 L675.64,151.44 L675.7,153.58 L675.76,152.85 L675.81,154.14 L675.87,154.34 L675.92,156.17 L675.98,155.62 L676.03,156.25 L676.09,156.59 L676.15,156.84 L676.2,156.73 L676.26,157.53 L676.31,157.59 L676.37,158.44 L676.43,158.87 L676.48,158.88 L676.54,159.12 L676.59,158.71 L676.65,158.91 L676.71,158.99 L676.76,159.33 L676.82,159.83 L676.87,160.24 L676.93,159.4 L676.99,159.53 L677.04,160.82 L677.1,159.17 L677.15,160.6 L677.21,159.86 L677.27,160.92 L677.32,160.4 L677.38,160.59 L677.43,160.33 L677.49,160.72 L677.54,161.19 L677.6,160.32 L677.66,161.71 L677.71,161.28 L677.77,161.85 L677.82,160.85 L677.88,161.22 L677.94,161.49 L677.99,160.79 L678.05,161.18 L678.1,161.65 L678.16,161.59 L678.22,161.55 L678.27,161.7 L678.33,161.33 L678.38,161.56 L678.44,161.73 L678.5,161.64 L678.55,162.02 L678.61,161.6 L678.66,161.48 L678.72,161.82 L678.78,162.15 L678.83,162.06 L678.89,162.3 L678.94,161.7 L679,161.75 L679.05,162.34 L679.11,162.14 L679.17,162.46 L679.22,162.25 L679.28,162.51 L679.33,161.87 L679.39,162.62 L679.45,162 L679.5,162.59 L679.56,162.29 L679.61,162.49 L679.67,162.68" fill="none" stroke="#2ca02c" stroke-width="1.1" stroke-dasharray="1.4,1.8,0.8,2.6,2,1.5,1,3" stroke-opacity="0.9"/>
</g>
<rect x="382.2" y="54.7" width="302.0" height="108.7" fill="none" stroke="#333" stroke-width="0.85"/>
<path d="M421.35,163.4v3.5M477.27,163.4v3.5M533.2,163.4v3.5M589.13,163.4v3.5M645.05,163.4v3.5M382.2,141.66h-3.5M382.2,119.92h-3.5M382.2,98.18h-3.5M382.2,76.44h-3.5M382.2,54.7h-3.5" stroke="#333" stroke-width="0.85" fill="none"/>
<text x="410.65" y="176.80" font-size="10.4" font-weight="normal" font-style="normal" textLength="21.28" lengthAdjust="spacingAndGlyphs" >−20</text>
<text x="466.57" y="176.80" font-size="10.4" font-weight="normal" font-style="normal" textLength="21.28" lengthAdjust="spacingAndGlyphs" >−10</text>
<text x="529.89" y="176.80" font-size="10.4" font-weight="normal" font-style="normal" textLength="6.62" lengthAdjust="spacingAndGlyphs" >0</text>
<text x="582.40" y="176.80" font-size="10.4" font-weight="normal" font-style="normal" textLength="13.02" lengthAdjust="spacingAndGlyphs" >10</text>
<text x="638.44" y="176.80" font-size="10.4" font-weight="normal" font-style="normal" textLength="13.09" lengthAdjust="spacingAndGlyphs" >20</text>
<text x="361.37" y="145.71" font-size="10.4" font-weight="normal" font-style="normal" textLength="16.01" lengthAdjust="spacingAndGlyphs" >0.2</text>
<text x="360.92" y="123.97" font-size="10.4" font-weight="normal" font-style="normal" textLength="16.22" lengthAdjust="spacingAndGlyphs" >0.4</text>
<text x="360.99" y="102.23" font-size="10.4" font-weight="normal" font-style="normal" textLength="16.33" lengthAdjust="spacingAndGlyphs" >0.6</text>
<text x="361.04" y="80.49" font-size="10.4" font-weight="normal" font-style="normal" textLength="16.27" lengthAdjust="spacingAndGlyphs" >0.8</text>
<text x="361.03" y="58.75" font-size="10.4" font-weight="normal" font-style="normal" textLength="16.23" lengthAdjust="spacingAndGlyphs" >1.0</text>
<text x="507.01" y="188.90" font-size="10.4" font-weight="normal" font-style="normal" textLength="52.26" lengthAdjust="spacingAndGlyphs" >Delay [ns]</text>
<g transform="translate(355.9,0) rotate(-90)">
<text x="-172.08" y="0.00" font-size="10.4" font-weight="normal" font-style="normal" textLength="126.53" lengthAdjust="spacingAndGlyphs" >Coincidences [arb. units]</text>
</g>
<text x="491.31" y="35.80" font-size="12.4" font-weight="bold" font-style="normal" textLength="17.77" lengthAdjust="spacingAndGlyphs" >LA</text>
<text x="523.50" y="35.80" font-size="12.4" font-weight="bold" font-style="normal" textLength="51.76" lengthAdjust="spacingAndGlyphs" >Phonon</text>
<rect x="512.3" y="31.9" width="7.6" height="1.6" fill="#000"/>
<text x="472.95" y="49.90" font-size="12.4" font-weight="normal" font-style="italic" textLength="8.78" lengthAdjust="spacingAndGlyphs" >V</text>
<text x="480.91" y="51.70" font-size="8.7" font-weight="normal" font-style="italic" textLength="13.69" lengthAdjust="spacingAndGlyphs" >TPI</text>
<text x="495.17" y="49.90" font-size="12.4" font-weight="normal" font-style="normal" textLength="9.84" lengthAdjust="spacingAndGlyphs" >=</text>
<text x="509.75" y="49.90" font-size="12.4" font-weight="normal" font-style="normal" textLength="86.87" lengthAdjust="spacingAndGlyphs" >0.917 ± 0.002</text>
<text x="367.23" y="43.60" font-size="14.5" font-weight="normal" font-style="normal" textLength="14.69" lengthAdjust="spacingAndGlyphs" >b)</text>
<rect x="524.81" y="103.62" width="16.78" height="59.78" fill="none" stroke="#000" stroke-opacity="0.5" stroke-width="1"/>
<path d="M524.81,163.4L454.7,86.2M541.59,163.4L612.3,86.2" stroke="#000" stroke-opacity="0.85" stroke-width="1" fill="none"/>
<clipPath id="iclipb"><rect x="454.7" y="59.6" width="157.6" height="26.6"/></clipPath>
<rect x="454.7" y="59.6" width="157.6" height="26.6" fill="#fff"/>
<path d="M480.97,59.6V86.2M533.5,59.6V86.2M586.03,59.6V86.2M454.7,74.11H612.3M454.7,62.02H612.3" stroke="#b0b0b0" stroke-width="0.8" fill="none"/>
<g clip-path="url(#iclipb)">
<path d="M454.7,86.07 L455.23,85.87 L455.75,85.85 L456.28,85.75 L456.8,86.12 L457.33,85.92 L457.85,86.01 L458.38,85.84 L458.9,85.43 L459.43,85.81 L459.95,85.66 L460.48,85.82 L461,85.98 L461.53,85.87 L462.05,85.92 L462.58,85.94 L463.11,85.77 L463.63,85.82 L464.16,86.06 L464.68,86.2 L465.21,86 L465.73,85.83 L466.26,85.66 L466.78,85.87 L467.31,85.8 L467.83,85.71 L468.36,85.69 L468.88,86.02 L469.41,85.92 L469.93,85.76 L470.46,85.97 L470.99,86.03 L471.51,85.92 L472.04,85.86 L472.56,85.67 L473.09,85.94 L473.61,86 L474.14,85.91 L474.66,85.69 L475.19,86.16 L475.71,85.77 L476.24,85.64 L476.76,85.89 L477.29,85.92 L477.81,86.02 L478.34,85.97 L478.87,85.82 L479.39,85.55 L479.92,85.68 L480.44,85.85 L480.97,86.04 L481.49,85.99 L482.02,85.55 L482.54,86.02 L483.07,85.55 L483.59,85.7 L484.12,85.53 L484.64,85.64 L485.17,85.82 L485.69,85.7 L486.22,85.77 L486.75,85.93 L487.27,85.72 L487.8,85.68 L488.32,85.88 L488.85,85.7 L489.37,85.49 L489.9,85.63 L490.42,85.84 L490.95,85.29 L491.47,85.74 L492,85.34 L492.52,85.49 L493.05,85.31 L493.57,85.48 L494.1,85.75 L494.63,85.24 L495.15,85.63 L495.68,85.77 L496.2,85.76 L496.73,85.33 L497.25,85.51 L497.78,85.47 L498.3,85.68 L498.83,84.88 L499.35,85.12 L499.88,85 L500.4,85.15 L500.93,84.88 L501.45,85.23 L501.98,84.73 L502.51,85.01 L503.03,85.05 L503.56,84.67 L504.08,84.68 L504.61,84.62 L505.13,85.05 L505.66,84.79 L506.18,84.78 L506.71,84.53 L507.23,84.14 L507.76,84.33 L508.28,83.87 L508.81,84.04 L509.33,83.63 L509.86,83.13 L510.39,82.71 L510.91,82.21 L511.44,82.53 L511.96,82.22 L512.49,81.47 L513.01,82.34 L513.54,81.81 L514.06,80.64 L514.59,80.19 L515.11,79.4 L515.64,79.01 L516.16,78.6 L516.69,78.47 L517.21,78.34 L517.74,77.25 L518.27,78.25 L518.79,76.85 L519.32,77 L519.84,75.73 L520.37,76.59 L520.89,74.13 L521.42,73.79 L521.94,72.47 L522.47,73.46 L522.99,72.07 L523.52,70.64 L524.04,71.7 L524.57,70.07 L525.09,70.79 L525.62,67.44 L526.15,68.8 L526.67,67.55 L527.2,66.82 L527.72,67.84 L528.25,66.49 L528.77,66.83 L529.3,64.81 L529.82,63.77 L530.35,66.24 L530.87,64.29 L531.4,65.1 L531.92,63.55 L532.45,63.27 L532.97,62.92 L533.5,63.11 L534.03,64.86 L534.55,64.7 L535.08,63.9 L535.6,63.51 L536.13,64.86 L536.65,64.84 L537.18,64.52 L537.7,65.13 L538.23,64.85 L538.75,66.88 L539.28,66.2 L539.8,67 L540.33,67.54 L540.85,68.3 L541.38,69.14 L541.91,68.47 L542.43,70.41 L542.96,70.37 L543.48,71.2 L544.01,72.32 L544.53,72.38 L545.06,73 L545.58,72.89 L546.11,74.9 L546.63,74.73 L547.16,75.37 L547.68,75.75 L548.21,77.19 L548.73,77.24 L549.26,78.55 L549.79,78.28 L550.31,78.4 L550.84,78.71 L551.36,80.84 L551.89,80.46 L552.41,80.52 L552.94,81.8 L553.46,80.42 L553.99,81.63 L554.51,82.72 L555.04,81.21 L555.56,82.47 L556.09,83.57 L556.61,83.43 L557.14,83.58 L557.67,83.57 L558.19,83.2 L558.72,84.1 L559.24,84.2 L559.77,84.18 L560.29,84.15 L560.82,84.35 L561.34,84.91 L561.87,84.4 L562.39,84.96 L562.92,85.02 L563.44,84.25 L563.97,85.4 L564.49,85.02 L565.02,85.32 L565.55,84.95 L566.07,85.07 L566.6,85.42 L567.12,85.35 L567.65,85.4 L568.17,85.19 L568.7,85.73 L569.22,85.29 L569.75,85.33 L570.27,85.41 L570.8,85.53 L571.32,85.31 L571.85,85.35 L572.37,85.44 L572.9,85.49 L573.43,85.38 L573.95,85.4 L574.48,85.79 L575,85.82 L575.53,85.67 L576.05,85.75 L576.58,85.73 L577.1,85.66 L577.63,85.35 L578.15,85.63 L578.68,85.61 L579.2,85.5 L579.73,85.8 L580.25,85.75 L580.78,86.06 L581.31,85.87 L581.83,85.59 L582.36,85.8 L582.88,85.8 L583.41,85.44 L583.93,85.42 L584.46,85.72 L584.98,85.92 L585.51,86 L586.03,85.78 L586.56,85.99 L587.08,85.8 L587.61,85.9 L588.13,85.84 L588.66,85.88 L589.19,85.6 L589.71,85.86 L590.24,85.53 L590.76,85.91 L591.29,85.55 L591.81,86.02 L592.34,85.8 L592.86,85.91 L593.39,86.04 L593.91,85.5 L594.44,85.84 L594.96,86.04 L595.49,86.15 L596.01,85.78 L596.54,85.76 L597.07,85.86 L597.59,86 L598.12,85.98 L598.64,86.12 L599.17,86 L599.69,85.97 L600.22,85.8 L600.74,85.78 L601.27,86.11 L601.79,86.2 L602.32,85.61 L602.84,85.91 L603.37,86.06 L603.89,85.89 L604.42,86.07 L604.95,86.02 L605.47,86.2 L606,86.02 L606.52,85.68 L607.05,85.82 L607.57,86 L608.1,85.94 L608.62,85.84 L609.15,85.78 L609.67,86.1 L610.2,86 L610.72,85.93 L611.25,85.81 L611.77,86.02 L612.3,85.88 L612.3,86.2 L454.7,86.2 Z" fill="#d62728" fill-opacity="0.3"/>
<path d="M454.7,85.97 L455.23,86.04 L455.75,85.98 L456.28,86.2 L456.8,85.95 L457.33,86.18 L457.85,85.88 L458.38,86.02 L458.9,86.2 L459.43,86.07 L459.95,85.92 L460.48,86.12 L461,86.2 L461.53,86.04 L462.05,86.01 L462.58,86.02 L463.11,85.98 L463.63,85.85 L464.16,85.87 L464.68,85.85 L465.21,86.03 L465.73,85.77 L466.26,86.2 L466.78,86.19 L467.31,86.16 L467.83,86.04 L468.36,85.98 L468.88,86.14 L469.41,86.01 L469.93,85.89 L470.46,85.95 L470.99,85.96 L471.51,85.87 L472.04,85.82 L472.56,86.11 L473.09,86.03 L473.61,86.2 L474.14,86.12 L474.66,86.12 L475.19,86.06 L475.71,86.2 L476.24,86.04 L476.76,86 L477.29,86.16 L477.81,86.08 L478.34,85.9 L478.87,85.91 L479.39,86.12 L479.92,86.07 L480.44,86.02 L480.97,85.92 L481.49,85.87 L482.02,86.05 L482.54,86.05 L483.07,85.96 L483.59,86.06 L484.12,85.94 L484.64,86.17 L485.17,86.09 L485.69,85.75 L486.22,85.96 L486.75,86.12 L487.27,85.83 L487.8,85.96 L488.32,85.97 L488.85,85.94 L489.37,85.68 L489.9,86.02 L490.42,86.09 L490.95,85.87 L491.47,85.85 L492,86.07 L492.52,86 L493.05,85.71 L493.57,85.83 L494.1,85.72 L494.63,85.97 L495.15,85.91 L495.68,86.08 L496.2,86.2 L496.73,85.78 L497.25,86.07 L497.78,85.92 L498.3,86.03 L498.83,85.91 L499.35,85.99 L499.88,85.64 L500.4,85.88 L500.93,85.97 L501.45,85.88 L501.98,86.2 L502.51,85.79 L503.03,85.98 L503.56,85.7 L504.08,86.03 L504.61,85.65 L505.13,86.2 L505.66,85.95 L506.18,85.68 L506.71,85.74 L507.23,85.9 L507.76,85.68 L508.28,85.94 L508.81,85.65 L509.33,85.56 L509.86,85.53 L510.39,85.93 L510.91,85.54 L511.44,85.55 L511.96,85.71 L512.49,85.7 L513.01,85.67 L513.54,85.8 L514.06,85.76 L514.59,85.63 L515.11,85.56 L515.64,85.69 L516.16,85.97 L516.69,85.59 L517.21,85.99 L517.74,85.46 L518.27,85.54 L518.79,85.8 L519.32,85.49 L519.84,85.49 L520.37,85.69 L520.89,85.85 L521.42,85.42 L521.94,85.56 L522.47,85.66 L522.99,85.43 L523.52,85.68 L524.04,85.38 L524.57,85.28 L525.09,85.65 L525.62,85.63 L526.15,85.4 L526.67,85.5 L527.2,85.82 L527.72,85.31 L528.25,85.57 L528.77,85.29 L529.3,85.71 L529.82,85.41 L530.35,85.39 L530.87,85.37 L531.4,85.61 L531.92,85.71 L532.45,85.33 L532.97,85.26 L533.5,85.41 L534.03,85.35 L534.55,85.56 L535.08,85.63 L535.6,85.24 L536.13,85.19 L536.65,85.13 L537.18,85.4 L537.7,85.62 L538.23,85.93 L538.75,85.43 L539.28,85.3 L539.8,85.38 L540.33,85.39 L540.85,85.7 L541.38,85.32 L541.91,85.28 L542.43,85.09 L542.96,85.31 L543.48,85.27 L544.01,85.86 L544.53,85.8 L545.06,85.79 L545.58,85.43 L546.11,85.58 L546.63,85.76 L547.16,85.75 L547.68,85.52 L548.21,85.89 L548.73,85.56 L549.26,85.56 L549.79,85.31 L550.31,85.64 L550.84,85.95 L551.36,85.44 L551.89,85.64 L552.41,85.7 L552.94,85.8 L553.46,85.66 L553.99,85.82 L554.51,85.79 L555.04,85.8 L555.56,85.55 L556.09,85.62 L556.61,85.94 L557.14,85.75 L557.67,85.84 L558.19,85.73 L558.72,85.69 L559.24,85.82 L559.77,85.6 L560.29,85.61 L560.82,85.95 L561.34,85.8 L561.87,85.97 L562.39,86.05 L562.92,86.04 L563.44,86.01 L563.97,86 L564.49,85.78 L565.02,85.8 L565.55,85.96 L566.07,86.01 L566.6,85.84 L567.12,85.8 L567.65,85.68 L568.17,85.85 L568.7,85.82 L569.22,86.11 L569.75,85.95 L570.27,85.83 L570.8,86.01 L571.32,86.02 L571.85,85.59 L572.37,85.77 L572.9,85.92 L573.43,85.78 L573.95,85.88 L574.48,86.02 L575,85.95 L575.53,85.97 L576.05,85.8 L576.58,85.97 L577.1,85.96 L577.63,86.12 L578.15,86.11 L578.68,85.98 L579.2,85.98 L579.73,85.88 L580.25,85.89 L580.78,85.93 L581.31,86.11 L581.83,85.9 L582.36,86.18 L582.88,85.94 L583.41,85.9 L583.93,85.77 L584.46,86.04 L584.98,85.96 L585.51,85.98 L586.03,86.19 L586.56,85.86 L587.08,86.05 L587.61,85.89 L588.13,86.15 L588.66,85.92 L589.19,85.89 L589.71,85.98 L590.24,85.7 L590.76,85.95 L591.29,85.87 L591.81,86.2 L592.34,85.88 L592.86,86.2 L593.39,86.15 L593.91,86.11 L594.44,86.06 L594.96,85.76 L595.49,86.03 L596.01,85.99 L596.54,86.09 L597.07,86.02 L597.59,86.2 L598.12,85.96 L598.64,85.97 L599.17,86.2 L599.69,86.2 L600.22,86.12 L600.74,86 L601.27,86.15 L601.79,86.2 L602.32,85.96 L602.84,86.2 L603.37,85.92 L603.89,85.85 L604.42,86.2 L604.95,85.94 L605.47,85.93 L606,85.93 L606.52,85.81 L607.05,85.78 L607.57,85.96 L608.1,85.96 L608.62,86 L609.15,86.03 L609.67,85.83 L610.2,85.87 L610.72,85.97 L611.25,85.76 L611.77,85.78 L612.3,85.81 L612.3,86.2 L454.7,86.2 Z" fill="#7dc832" fill-opacity="0.3"/>
<path d="M454.7,86.07 L455.23,85.87 L455.75,85.85 L456.28,85.75 L456.8,86.12 L457.33,85.92 L457.85,86.01 L458.38,85.84 L458.9,85.43 L459.43,85.81 L459.95,85.66 L460.48,85.82 L461,85.98 L461.53,85.87 L462.05,85.92 L462.58,85.94 L463.11,85.77 L463.63,85.82 L464.16,86.06 L464.68,86.2 L465.21,86 L465.73,85.83 L466.26,85.66 L466.78,85.87 L467.31,85.8 L467.83,85.71 L468.36,85.69 L468.88,86.02 L469.41,85.92 L469.93,85.76 L470.46,85.97 L470.99,86.03 L471.51,85.92 L472.04,85.86 L472.56,85.67 L473.09,85.94 L473.61,86 L474.14,85.91 L474.66,85.69 L475.19,86.16 L475.71,85.77 L476.24,85.64 L476.76,85.89 L477.29,85.92 L477.81,86.02 L478.34,85.97 L478.87,85.82 L479.39,85.55 L479.92,85.68 L480.44,85.85 L480.97,86.04 L481.49,85.99 L482.02,85.55 L482.54,86.02 L483.07,85.55 L483.59,85.7 L484.12,85.53 L484.64,85.64 L485.17,85.82 L485.69,85.7 L486.22,85.77 L486.75,85.93 L487.27,85.72 L487.8,85.68 L488.32,85.88 L488.85,85.7 L489.37,85.49 L489.9,85.63 L490.42,85.84 L490.95,85.29 L491.47,85.74 L492,85.34 L492.52,85.49 L493.05,85.31 L493.57,85.48 L494.1,85.75 L494.63,85.24 L495.15,85.63 L495.68,85.77 L496.2,85.76 L496.73,85.33 L497.25,85.51 L497.78,85.47 L498.3,85.68 L498.83,84.88 L499.35,85.12 L499.88,85 L500.4,85.15 L500.93,84.88 L501.45,85.23 L501.98,84.73 L502.51,85.01 L503.03,85.05 L503.56,84.67 L504.08,84.68 L504.61,84.62 L505.13,85.05 L505.66,84.79 L506.18,84.78 L506.71,84.53 L507.23,84.14 L507.76,84.33 L508.28,83.87 L508.81,84.04 L509.33,83.63 L509.86,83.13 L510.39,82.71 L510.91,82.21 L511.44,82.53 L511.96,82.22 L512.49,81.47 L513.01,82.34 L513.54,81.81 L514.06,80.64 L514.59,80.19 L515.11,79.4 L515.64,79.01 L516.16,78.6 L516.69,78.47 L517.21,78.34 L517.74,77.25 L518.27,78.25 L518.79,76.85 L519.32,77 L519.84,75.73 L520.37,76.59 L520.89,74.13 L521.42,73.79 L521.94,72.47 L522.47,73.46 L522.99,72.07 L523.52,70.64 L524.04,71.7 L524.57,70.07 L525.09,70.79 L525.62,67.44 L526.15,68.8 L526.67,67.55 L527.2,66.82 L527.72,67.84 L528.25,66.49 L528.77,66.83 L529.3,64.81 L529.82,63.77 L530.35,66.24 L530.87,64.29 L531.4,65.1 L531.92,63.55 L532.45,63.27 L532.97,62.92 L533.5,63.11 L534.03,64.86 L534.55,64.7 L535.08,63.9 L535.6,63.51 L536.13,64.86 L536.65,64.84 L537.18,64.52 L537.7,65.13 L538.23,64.85 L538.75,66.88 L539.28,66.2 L539.8,67 L540.33,67.54 L540.85,68.3 L541.38,69.14 L541.91,68.47 L542.43,70.41 L542.96,70.37 L543.48,71.2 L544.01,72.32 L544.53,72.38 L545.06,73 L545.58,72.89 L546.11,74.9 L546.63,74.73 L547.16,75.37 L547.68,75.75 L548.21,77.19 L548.73,77.24 L549.26,78.55 L549.79,78.28 L550.31,78.4 L550.84,78.71 L551.36,80.84 L551.89,80.46 L552.41,80.52 L552.94,81.8 L553.46,80.42 L553.99,81.63 L554.51,82.72 L555.04,81.21 L555.56,82.47 L556.09,83.57 L556.61,83.43 L557.14,83.58 L557.67,83.57 L558.19,83.2 L558.72,84.1 L559.24,84.2 L559.77,84.18 L560.29,84.15 L560.82,84.35 L561.34,84.91 L561.87,84.4 L562.39,84.96 L562.92,85.02 L563.44,84.25 L563.97,85.4 L564.49,85.02 L565.02,85.32 L565.55,84.95 L566.07,85.07 L566.6,85.42 L567.12,85.35 L567.65,85.4 L568.17,85.19 L568.7,85.73 L569.22,85.29 L569.75,85.33 L570.27,85.41 L570.8,85.53 L571.32,85.31 L571.85,85.35 L572.37,85.44 L572.9,85.49 L573.43,85.38 L573.95,85.4 L574.48,85.79 L575,85.82 L575.53,85.67 L576.05,85.75 L576.58,85.73 L577.1,85.66 L577.63,85.35 L578.15,85.63 L578.68,85.61 L579.2,85.5 L579.73,85.8 L580.25,85.75 L580.78,86.06 L581.31,85.87 L581.83,85.59 L582.36,85.8 L582.88,85.8 L583.41,85.44 L583.93,85.42 L584.46,85.72 L584.98,85.92 L585.51,86 L586.03,85.78 L586.56,85.99 L587.08,85.8 L587.61,85.9 L588.13,85.84 L588.66,85.88 L589.19,85.6 L589.71,85.86 L590.24,85.53 L590.76,85.91 L591.29,85.55 L591.81,86.02 L592.34,85.8 L592.86,85.91 L593.39,86.04 L593.91,85.5 L594.44,85.84 L594.96,86.04 L595.49,86.15 L596.01,85.78 L596.54,85.76 L597.07,85.86 L597.59,86 L598.12,85.98 L598.64,86.12 L599.17,86 L599.69,85.97 L600.22,85.8 L600.74,85.78 L601.27,86.11 L601.79,86.2 L602.32,85.61 L602.84,85.91 L603.37,86.06 L603.89,85.89 L604.42,86.07 L604.95,86.02 L605.47,86.2 L606,86.02 L606.52,85.68 L607.05,85.82 L607.57,86 L608.1,85.94 L608.62,85.84 L609.15,85.78 L609.67,86.1 L610.2,86 L610.72,85.93 L611.25,85.81 L611.77,86.02 L612.3,85.88" fill="none" stroke="#1f77b4" stroke-width="1.5" stroke-linejoin="round"/>
<path d="M454.7,85.97 L455.23,86.04 L455.75,85.98 L456.28,86.2 L456.8,85.95 L457.33,86.18 L457.85,85.88 L458.38,86.02 L458.9,86.2 L459.43,86.07 L459.95,85.92 L460.48,86.12 L461,86.2 L461.53,86.04 L462.05,86.01 L462.58,86.02 L463.11,85.98 L463.63,85.85 L464.16,85.87 L464.68,85.85 L465.21,86.03 L465.73,85.77 L466.26,86.2 L466.78,86.19 L467.31,86.16 L467.83,86.04 L468.36,85.98 L468.88,86.14 L469.41,86.01 L469.93,85.89 L470.46,85.95 L470.99,85.96 L471.51,85.87 L472.04,85.82 L472.56,86.11 L473.09,86.03 L473.61,86.2 L474.14,86.12 L474.66,86.12 L475.19,86.06 L475.71,86.2 L476.24,86.04 L476.76,86 L477.29,86.16 L477.81,86.08 L478.34,85.9 L478.87,85.91 L479.39,86.12 L479.92,86.07 L480.44,86.02 L480.97,85.92 L481.49,85.87 L482.02,86.05 L482.54,86.05 L483.07,85.96 L483.59,86.06 L484.12,85.94 L484.64,86.17 L485.17,86.09 L485.69,85.75 L486.22,85.96 L486.75,86.12 L487.27,85.83 L487.8,85.96 L488.32,85.97 L488.85,85.94 L489.37,85.68 L489.9,86.02 L490.42,86.09 L490.95,85.87 L491.47,85.85 L492,86.07 L492.52,86 L493.05,85.71 L493.57,85.83 L494.1,85.72 L494.63,85.97 L495.15,85.91 L495.68,86.08 L496.2,86.2 L496.73,85.78 L497.25,86.07 L497.78,85.92 L498.3,86.03 L498.83,85.91 L499.35,85.99 L499.88,85.64 L500.4,85.88 L500.93,85.97 L501.45,85.88 L501.98,86.2 L502.51,85.79 L503.03,85.98 L503.56,85.7 L504.08,86.03 L504.61,85.65 L505.13,86.2 L505.66,85.95 L506.18,85.68 L506.71,85.74 L507.23,85.9 L507.76,85.68 L508.28,85.94 L508.81,85.65 L509.33,85.56 L509.86,85.53 L510.39,85.93 L510.91,85.54 L511.44,85.55 L511.96,85.71 L512.49,85.7 L513.01,85.67 L513.54,85.8 L514.06,85.76 L514.59,85.63 L515.11,85.56 L515.64,85.69 L516.16,85.97 L516.69,85.59 L517.21,85.99 L517.74,85.46 L518.27,85.54 L518.79,85.8 L519.32,85.49 L519.84,85.49 L520.37,85.69 L520.89,85.85 L521.42,85.42 L521.94,85.56 L522.47,85.66 L522.99,85.43 L523.52,85.68 L524.04,85.38 L524.57,85.28 L525.09,85.65 L525.62,85.63 L526.15,85.4 L526.67,85.5 L527.2,85.82 L527.72,85.31 L528.25,85.57 L528.77,85.29 L529.3,85.71 L529.82,85.41 L530.35,85.39 L530.87,85.37 L531.4,85.61 L531.92,85.71 L532.45,85.33 L532.97,85.26 L533.5,85.41 L534.03,85.35 L534.55,85.56 L535.08,85.63 L535.6,85.24 L536.13,85.19 L536.65,85.13 L537.18,85.4 L537.7,85.62 L538.23,85.93 L538.75,85.43 L539.28,85.3 L539.8,85.38 L540.33,85.39 L540.85,85.7 L541.38,85.32 L541.91,85.28 L542.43,85.09 L542.96,85.31 L543.48,85.27 L544.01,85.86 L544.53,85.8 L545.06,85.79 L545.58,85.43 L546.11,85.58 L546.63,85.76 L547.16,85.75 L547.68,85.52 L548.21,85.89 L548.73,85.56 L549.26,85.56 L549.79,85.31 L550.31,85.64 L550.84,85.95 L551.36,85.44 L551.89,85.64 L552.41,85.7 L552.94,85.8 L553.46,85.66 L553.99,85.82 L554.51,85.79 L555.04,85.8 L555.56,85.55 L556.09,85.62 L556.61,85.94 L557.14,85.75 L557.67,85.84 L558.19,85.73 L558.72,85.69 L559.24,85.82 L559.77,85.6 L560.29,85.61 L560.82,85.95 L561.34,85.8 L561.87,85.97 L562.39,86.05 L562.92,86.04 L563.44,86.01 L563.97,86 L564.49,85.78 L565.02,85.8 L565.55,85.96 L566.07,86.01 L566.6,85.84 L567.12,85.8 L567.65,85.68 L568.17,85.85 L568.7,85.82 L569.22,86.11 L569.75,85.95 L570.27,85.83 L570.8,86.01 L571.32,86.02 L571.85,85.59 L572.37,85.77 L572.9,85.92 L573.43,85.78 L573.95,85.88 L574.48,86.02 L575,85.95 L575.53,85.97 L576.05,85.8 L576.58,85.97 L577.1,85.96 L577.63,86.12 L578.15,86.11 L578.68,85.98 L579.2,85.98 L579.73,85.88 L580.25,85.89 L580.78,85.93 L581.31,86.11 L581.83,85.9 L582.36,86.18 L582.88,85.94 L583.41,85.9 L583.93,85.77 L584.46,86.04 L584.98,85.96 L585.51,85.98 L586.03,86.19 L586.56,85.86 L587.08,86.05 L587.61,85.89 L588.13,86.15 L588.66,85.92 L589.19,85.89 L589.71,85.98 L590.24,85.7 L590.76,85.95 L591.29,85.87 L591.81,86.2 L592.34,85.88 L592.86,86.2 L593.39,86.15 L593.91,86.11 L594.44,86.06 L594.96,85.76 L595.49,86.03 L596.01,85.99 L596.54,86.09 L597.07,86.02 L597.59,86.2 L598.12,85.96 L598.64,85.97 L599.17,86.2 L599.69,86.2 L600.22,86.12 L600.74,86 L601.27,86.15 L601.79,86.2 L602.32,85.96 L602.84,86.2 L603.37,85.92 L603.89,85.85 L604.42,86.2 L604.95,85.94 L605.47,85.93 L606,85.93 L606.52,85.81 L607.05,85.78 L607.57,85.96 L608.1,85.96 L608.62,86 L609.15,86.03 L609.67,85.83 L610.2,85.87 L610.72,85.97 L611.25,85.76 L611.77,85.78 L612.3,85.81" fill="none" stroke="#2ca02c" stroke-width="1.6" stroke-linejoin="round"/>
</g>
<rect x="454.7" y="59.6" width="157.6" height="26.6" fill="none" stroke="#333" stroke-width="0.85"/>
<path d="M480.97,86.2v3.5M533.5,86.2v3.5M586.03,86.2v3.5M454.7,74.11h-3.5M454.7,62.02h-3.5" stroke="#333" stroke-width="0.85" fill="none"/>
<text x="473.59" y="98.80" font-size="10.4" font-weight="normal" font-style="normal" textLength="14.76" lengthAdjust="spacingAndGlyphs" >−1</text>
<text x="530.19" y="98.80" font-size="10.4" font-weight="normal" font-style="normal" textLength="6.62" lengthAdjust="spacingAndGlyphs" >0</text>
<text x="582.66" y="98.80" font-size="10.4" font-weight="normal" font-style="normal" textLength="6.43" lengthAdjust="spacingAndGlyphs" >1</text>
<text x="427.11" y="78.16" font-size="10.4" font-weight="normal" font-style="normal" textLength="22.48" lengthAdjust="spacingAndGlyphs" >0.25</text>
<text x="426.90" y="66.07" font-size="10.4" font-weight="normal" font-style="normal" textLength="22.66" lengthAdjust="spacingAndGlyphs" >0.50</text>
<clipPath id="clipc"><rect x="34.2" y="228.6" width="302.0" height="108.7"/></clipPath>
<path d="M73.35,228.6V337.3M129.27,228.6V337.3M185.2,228.6V337.3M241.13,228.6V337.3M297.05,228.6V337.3M34.2,315.56H336.2M34.2,293.82H336.2M34.2,272.08H336.2M34.2,250.34H336.2" stroke="#b0b0b0" stroke-width="0.8" fill="none"/>
<g clip-path="url(#clipc)">
<path d="M176.81,335.61 L176.87,335.28 L176.92,336.73 L176.98,334.89 L177.03,335.28 L177.09,335.82 L177.15,334.84 L177.2,335.63 L177.26,336.11 L177.31,336 L177.37,335.43 L177.43,335.54 L177.48,335.31 L177.54,335.53 L177.59,334.95 L177.65,334.76 L177.71,335.7 L177.76,334.43 L177.82,335.61 L177.87,334.63 L177.93,334.51 L177.99,335.02 L178.04,335.25 L178.1,335.55 L178.15,333.72 L178.21,335.77 L178.27,334.9 L178.32,334.83 L178.38,334.08 L178.43,334.26 L178.49,334.79 L178.54,335.05 L178.6,333.32 L178.66,334.68 L178.71,335 L178.77,333.47 L178.82,334.6 L178.88,335.08 L178.94,334 L178.99,334.54 L179.05,335.64 L179.1,334.43 L179.16,333.95 L179.22,335.1 L179.27,334.17 L179.33,333.26 L179.38,334.22 L179.44,334.64 L179.5,334.41 L179.55,333.3 L179.61,334.1 L179.66,333.4 L179.72,333.72 L179.78,334.13 L179.83,332.91 L179.89,332.28 L179.94,334.11 L180,333.11 L180.05,333 L180.11,332.98 L180.17,333 L180.22,331.91 L180.28,331.19 L180.33,332.66 L180.39,332.81 L180.45,332.06 L180.5,333.07 L180.56,332.99 L180.61,332.02 L180.67,331.61 L180.73,332.06 L180.78,331.77 L180.84,333.64 L180.89,332.67 L180.95,331.98 L181.01,331.26 L181.06,332.47 L181.12,331.23 L181.17,331.49 L181.23,330.98 L181.29,331.41 L181.34,330.28 L181.4,331.43 L181.45,329.65 L181.51,330.96 L181.56,330.06 L181.62,331.17 L181.68,330.66 L181.73,329.63 L181.79,331.48 L181.84,329.43 L181.9,329.22 L181.96,326.34 L182.01,328.74 L182.07,326.97 L182.12,328.17 L182.18,328.27 L182.24,326.37 L182.29,326.62 L182.35,325.21 L182.4,327.3 L182.46,327.12 L182.52,324.32 L182.57,323.63 L182.63,323.19 L182.68,323.79 L182.74,322 L182.8,322.44 L182.85,322.36 L182.91,321.17 L182.96,322.16 L183.02,318.7 L183.07,317.92 L183.13,318.82 L183.19,318.74 L183.24,315.73 L183.3,313.89 L183.35,316.83 L183.41,313.55 L183.47,312.89 L183.52,309.36 L183.58,308.11 L183.63,310.57 L183.69,308.62 L183.75,309 L183.8,305.48 L183.86,303.93 L183.91,301.55 L183.97,304.56 L184.03,303.2 L184.08,299.25 L184.14,298.14 L184.19,298.35 L184.25,296.26 L184.31,294.45 L184.36,294.33 L184.42,290.57 L184.47,289.4 L184.53,290.37 L184.58,290.49 L184.64,291.22 L184.7,289.16 L184.75,288.57 L184.81,292.04 L184.86,286.95 L184.92,285.77 L184.98,285.95 L185.03,288.04 L185.09,287.67 L185.14,284.42 L185.2,283.78 L185.26,286.58 L185.31,287.71 L185.37,286.62 L185.42,285.83 L185.48,283.29 L185.54,285.49 L185.59,286.71 L185.65,288.84 L185.7,288.75 L185.76,291.03 L185.82,288.94 L185.87,290.94 L185.93,293.47 L185.98,292.92 L186.04,291.61 L186.09,296.14 L186.15,297.8 L186.21,297.8 L186.26,298.59 L186.32,299.21 L186.37,300.96 L186.43,300.96 L186.49,303.18 L186.54,303.89 L186.6,303.32 L186.65,308.3 L186.71,309.19 L186.77,308.84 L186.82,311.35 L186.88,312.01 L186.93,309.41 L186.99,314.5 L187.05,315.35 L187.1,314.74 L187.16,316.2 L187.21,319.08 L187.27,317.73 L187.33,317.41 L187.38,319.88 L187.44,319.98 L187.49,321.32 L187.55,322.88 L187.6,323.46 L187.66,322.57 L187.72,323.38 L187.77,325.96 L187.83,324.03 L187.88,325.09 L187.94,325.34 L188,325.42 L188.05,328.24 L188.11,327.48 L188.16,328.1 L188.22,328.54 L188.28,328.28 L188.33,328.08 L188.39,328.94 L188.44,327.33 L188.5,330.16 L188.56,327.21 L188.61,329.54 L188.67,328.42 L188.72,329.74 L188.78,330.93 L188.84,330.6 L188.89,331.05 L188.95,330.22 L189,330.72 L189.06,331.98 L189.11,329.44 L189.17,330.56 L189.23,332.69 L189.28,332.21 L189.34,331.99 L189.39,331.71 L189.45,331.78 L189.51,332.31 L189.56,330.86 L189.62,333.27 L189.67,331.92 L189.73,332.26 L189.79,331.54 L189.84,332.82 L189.9,332.69 L189.95,331.31 L190.01,332.59 L190.07,332.88 L190.12,333.06 L190.18,333.27 L190.23,334 L190.29,334.07 L190.35,333.56 L190.4,333.28 L190.46,332.79 L190.51,333.68 L190.57,333.76 L190.62,333.53 L190.68,334 L190.74,333.69 L190.79,332.98 L190.85,334.33 L190.9,334.67 L190.96,334.25 L191.02,333.95 L191.07,334.67 L191.13,333.6 L191.18,332.78 L191.24,333.49 L191.3,333.29 L191.35,333.22 L191.41,333.73 L191.46,334.2 L191.52,334.22 L191.58,335.35 L191.63,335.24 L191.69,334.89 L191.74,335.21 L191.8,335.03 L191.86,334.33 L191.91,334.71 L191.97,334.87 L192.02,333.53 L192.08,335.06 L192.13,334.88 L192.19,334.23 L192.25,335.02 L192.3,334.22 L192.36,335.39 L192.41,334.11 L192.47,334.76 L192.53,336.04 L192.58,335.15 L192.64,334.76 L192.69,335.35 L192.75,334.9 L192.81,335.43 L192.86,334.87 L192.92,335.34 L192.97,334.6 L193.03,334.95 L193.09,334.68 L193.14,334.77 L193.2,335.56 L193.25,335.48 L193.31,335.14 L193.37,334.7 L193.42,335.09 L193.48,336.12 L193.53,334.74 L193.59,335.23 L193.59,337.3 L176.81,337.3 Z" fill="#d62728" fill-opacity="0.3"/>
<path d="M176.81,336.11 L176.87,335.84 L176.92,335.44 L176.98,335.45 L177.03,334.64 L177.09,334.94 L177.15,335.35 L177.2,335.08 L177.26,335.4 L177.31,335.73 L177.37,335.16 L177.43,335.78 L177.48,334.98 L177.54,335.46 L177.59,335.36 L177.65,334.81 L177.71,335.26 L177.76,335.81 L177.82,335.73 L177.87,334.36 L177.93,335.01 L177.99,335 L178.04,335.13 L178.1,335.66 L178.15,335.02 L178.21,334.55 L178.27,335.08 L178.32,334.77 L178.38,335.08 L178.43,334.79 L178.49,333.87 L178.54,334.49 L178.6,333.55 L178.66,335.25 L178.71,335.98 L178.77,334.32 L178.82,334.91 L178.88,334.79 L178.94,334.41 L178.99,334.17 L179.05,334.59 L179.1,334.3 L179.16,333.36 L179.22,332.98 L179.27,334.23 L179.33,335.35 L179.38,335.25 L179.44,334.39 L179.5,333.86 L179.55,334.54 L179.61,333.81 L179.66,333.12 L179.72,333.55 L179.78,332.61 L179.83,333.73 L179.89,333.48 L179.94,334.08 L180,333.22 L180.05,332.87 L180.11,333.52 L180.17,333.46 L180.22,332.85 L180.28,333.16 L180.33,333.79 L180.39,331.72 L180.45,333.11 L180.5,333.06 L180.56,333.08 L180.61,332.8 L180.67,333.42 L180.73,333.39 L180.78,333.27 L180.84,331.55 L180.89,332.01 L180.95,332.01 L181.01,331.67 L181.06,332.15 L181.12,331.2 L181.17,331.66 L181.23,332.52 L181.29,333.72 L181.34,331.68 L181.4,331.53 L181.45,331.5 L181.51,330.64 L181.56,331.68 L181.62,330.99 L181.68,331.09 L181.73,330.48 L181.79,330.59 L181.84,331.25 L181.9,331.03 L181.96,329.96 L182.01,330.6 L182.07,331.39 L182.12,329.92 L182.18,330.8 L182.24,330.88 L182.29,329.88 L182.35,329.83 L182.4,328.91 L182.46,330.46 L182.52,329.99 L182.57,328.56 L182.63,327.43 L182.68,329.02 L182.74,329.03 L182.8,328.88 L182.85,329.22 L182.91,329.13 L182.96,327.84 L183.02,327.99 L183.07,329.33 L183.13,327.28 L183.19,328.2 L183.24,328.9 L183.3,327.97 L183.35,326.18 L183.41,327.68 L183.47,327.12 L183.52,326.33 L183.58,327.25 L183.63,328.1 L183.69,326.62 L183.75,326.5 L183.8,326.91 L183.86,326.59 L183.91,327.56 L183.97,326.96 L184.03,326.24 L184.08,328.08 L184.14,323.14 L184.19,325.7 L184.25,326.47 L184.31,326.68 L184.36,326.37 L184.42,326.14 L184.47,325.1 L184.53,325.17 L184.58,324.67 L184.64,325.05 L184.7,325.57 L184.75,325.35 L184.81,326.67 L184.86,323.86 L184.92,324.81 L184.98,325.79 L185.03,324.39 L185.09,323.13 L185.14,324.91 L185.2,324.06 L185.26,323.81 L185.31,322.88 L185.37,324.04 L185.42,323.73 L185.48,324.83 L185.54,324.01 L185.59,325.15 L185.65,324.82 L185.7,326.45 L185.76,324.99 L185.82,325.75 L185.87,325.67 L185.93,325.66 L185.98,326.1 L186.04,324.98 L186.09,326.56 L186.15,324.24 L186.21,325.11 L186.26,327.19 L186.32,328.25 L186.37,325.67 L186.43,327.05 L186.49,326.93 L186.54,325.22 L186.6,326.13 L186.65,327.96 L186.71,326.67 L186.77,328.09 L186.82,326.14 L186.88,328.79 L186.93,328.86 L186.99,327.51 L187.05,327.22 L187.1,328.96 L187.16,327.51 L187.21,327.38 L187.27,328.01 L187.33,328.48 L187.38,328.02 L187.44,329.19 L187.49,328.17 L187.55,327.56 L187.6,328.4 L187.66,329.77 L187.72,329.58 L187.77,329.81 L187.83,329.81 L187.88,327.37 L187.94,329.07 L188,329.77 L188.05,330.11 L188.11,330.55 L188.16,330.67 L188.22,329.53 L188.28,331.03 L188.33,329.9 L188.39,330.03 L188.44,331.41 L188.5,330.88 L188.56,329.76 L188.61,330.96 L188.67,330.89 L188.72,330.04 L188.78,330.53 L188.84,330.79 L188.89,331.59 L188.95,332.74 L189,331.97 L189.06,331.59 L189.11,332.75 L189.17,330.74 L189.23,332.28 L189.28,332.65 L189.34,332.95 L189.39,331.19 L189.45,331.7 L189.51,332.86 L189.56,331.81 L189.62,332.47 L189.67,332.27 L189.73,332.56 L189.79,332.59 L189.84,333.24 L189.9,332.57 L189.95,332.58 L190.01,333.67 L190.07,332.12 L190.12,332.82 L190.18,332.4 L190.23,332.9 L190.29,333.69 L190.35,333.79 L190.4,333.09 L190.46,333.4 L190.51,333.12 L190.57,333.38 L190.62,333.51 L190.68,333.33 L190.74,333.49 L190.79,335.9 L190.85,332.21 L190.9,334.67 L190.96,334.29 L191.02,334.03 L191.07,334.29 L191.13,335.16 L191.18,334.16 L191.24,333.9 L191.3,333.67 L191.35,334.44 L191.41,333.88 L191.46,333.91 L191.52,334.4 L191.58,334.83 L191.63,332.81 L191.69,334.94 L191.74,333.96 L191.8,333.33 L191.86,334.91 L191.91,335.1 L191.97,334.59 L192.02,334.2 L192.08,335.2 L192.13,334.59 L192.19,335.07 L192.25,335.29 L192.3,334.93 L192.36,335.85 L192.41,334.31 L192.47,335.8 L192.53,334.55 L192.58,335.16 L192.64,335.17 L192.69,334.81 L192.75,336.24 L192.81,335.44 L192.86,335.59 L192.92,335.21 L192.97,335.54 L193.03,334.5 L193.09,335.65 L193.14,335.84 L193.2,335.5 L193.25,336.32 L193.31,335.87 L193.37,335.28 L193.42,334.75 L193.48,335.33 L193.53,336.08 L193.59,336.45 L193.59,337.3 L176.81,337.3 Z" fill="#7dc832" fill-opacity="0.3"/>
<path d="M34.2,334.5 L34.4,335.0 L35.1,333.1 L35.2,334.2 L35.2,334.1 L35.9,332.9 L35.9,334.1 L36.2,333.3 L36.2,333.6 L36.4,331.4 L36.4,333.9 L37.2,333.1 L37.2,333.6 L38.2,331.3 L38.2,331.2 L38.3,332.7 L39.2,329.7 L39.2,329.6 L39.6,330.2 L40.2,327.2 L40.2,327.0 L40.3,327.2 L41.2,322.9 L41.2,323.3 L41.4,323.4 L42.2,315.1 L42.3,314.5 L42.4,314.9 L43.1,301.7 L43.2,299.2 L44.2,271.0 L44.2,268.8 L45.2,229.7 L45.2,230.6 L45.3,227.6 L46.2,250.3 L46.2,252.7 L47.2,291.6 L47.2,290.7 L48.1,311.1 L48.2,310.7 L48.2,311.3 L49.0,320.7 L49.2,320.4 L49.2,322.6 L49.3,321.2 L50.1,326.6 L50.2,325.8 L50.3,326.4 L50.3,326.2 L51.1,328.8 L51.2,329.0 L51.5,331.4 L52.2,331.1 L52.2,331.7 L52.3,330.9 L53.2,333.6 L53.2,332.9 L53.8,331.2 L54.1,334.5 L54.2,332.2 L54.2,332.7 L54.4,331.4 L54.8,334.4 L55.2,333.4 L55.2,334.5 L55.8,335.0 L55.9,333.3 L56.2,334.4 L56.2,333.1 L56.5,335.2 L57.2,334.5 L57.2,334.5 L57.4,333.6 L58.0,335.2 L58.2,334.7 L58.2,334.6 L58.4,333.4 L59.0,336.2 L59.2,334.5 L59.3,335.1 L59.5,333.9 L59.6,336.0 L60.1,335.1 L60.2,335.2 L60.5,336.3 L60.5,333.7 L61.2,336.1 L61.2,335.7 L61.3,334.9 L61.5,336.4 L62.2,336.1 L62.2,335.0 L62.6,334.6 L62.8,336.0 L63.2,335.8 L63.2,335.9 L63.3,336.4 L63.6,334.6 L64.2,335.7 L64.2,336.1 L64.3,334.6 L64.6,336.2 L65.2,334.9 L65.2,335.2 L65.6,334.8 L65.6,336.4 L66.2,336.1 L66.2,336.0 L66.7,334.4 L67.0,336.5 L67.2,335.9 L67.3,335.5 L67.6,334.5 L67.9,337.0 L68.1,336.5 L68.2,335.0 L68.3,334.7 L68.4,336.4 L69.2,335.5 L69.2,336.1 L69.4,336.6 L69.8,334.8 L70.2,336.4 L70.2,335.8 L70.3,334.5 L70.9,336.6 L71.2,336.0 L71.2,336.2 L71.7,337.0 L72.1,335.4 L72.2,335.9 L72.2,335.6 L72.4,335.3 L72.5,336.8 L73.2,336.1 L73.2,335.8 L73.3,335.1 L73.7,336.9 L74.2,336.8 L74.2,336.5 L75.0,336.9 L75.1,334.8 L75.2,336.2 L75.2,336.3 L75.5,336.6 L76.0,335.4 L76.1,336.0 L76.2,335.0 L77.2,336.9 L77.2,336.2 L77.4,335.2 L77.7,336.5 L78.2,335.6 L78.2,335.7 L78.3,337.0 L78.7,334.9 L79.2,335.7 L79.2,336.8 L79.4,334.9 L80.2,335.3 L80.2,336.1 L80.4,336.9 L80.7,335.5 L81.2,335.9 L81.2,335.4 L81.6,334.8 L82.1,337.1 L82.2,336.0 L82.2,335.8 L82.4,335.3 L82.6,336.9 L83.2,336.2 L83.2,336.2 L83.8,336.8 L83.9,335.0 L84.2,336.5 L84.3,336.2 L85.1,334.7 L85.1,336.8 L85.2,336.2 L85.5,337.3 L85.8,335.5 L86.2,335.9 L86.2,336.9 L86.4,337.3 L87.0,335.4 L87.2,336.2 L87.2,335.7 L87.5,335.2 L87.9,337.3 L88.2,336.5 L88.2,336.3 L88.7,337.3 L88.8,334.8 L89.2,336.1 L89.2,335.5 L89.4,335.4 L89.8,337.1 L90.2,336.2 L90.2,336.7 L90.7,336.8 L90.9,335.3 L91.2,336.0 L91.2,335.9 L91.7,337.2 L92.2,335.7 L92.3,336.5 L92.5,336.8 L92.8,335.4 L93.1,336.2 L93.2,336.1 L93.3,337.0 L93.6,335.5 L94.2,335.8 L94.2,336.4 L94.5,335.2 L94.7,337.3 L95.2,336.6 L95.2,336.7 L95.6,337.2 L96.2,335.2 L96.2,336.5 L97.0,335.2 L97.1,337.0 L97.2,336.1 L97.2,336.1 L97.3,337.2 L97.6,335.2 L98.2,335.9 L98.2,335.8 L98.5,335.5 L98.8,337.0 L99.2,336.6 L99.2,335.4 L99.4,335.4 L99.9,336.7 L100.2,336.6 L100.2,336.1 L100.5,335.2 L101.2,336.9 L101.3,335.6 L101.8,335.6 L101.8,337.3 L102.2,336.4 L102.2,336.1 L102.5,335.5 L102.9,337.3 L103.2,336.6 L103.2,336.2 L103.4,336.8 L103.8,335.1 L104.2,336.6 L104.2,336.6 L104.6,336.7 L104.9,334.6 L105.2,336.1 L105.2,336.6 L105.7,336.8 L105.8,335.6 L106.2,336.7 L106.2,336.8 L106.9,335.7 L107.1,337.2 L107.2,335.9 L107.2,334.6 L107.9,336.8 L108.2,336.7 L108.2,335.2 L108.3,337.3 L109.2,336.7 L109.3,337.0 L109.5,335.4 L109.9,337.0 L110.1,336.0 L110.2,336.5 L110.3,337.0 L110.3,335.7 L111.2,336.5 L111.2,336.3 L111.8,337.3 L111.9,335.4 L112.2,336.0 L112.2,336.4 L112.9,337.2 L113.2,335.4 L113.2,335.2 L113.3,337.0 L113.7,334.8 L114.2,336.0 L114.2,335.9 L114.8,336.5 L115.0,334.6 L115.2,334.7 L115.2,336.2 L115.3,334.8 L115.9,336.5 L116.2,335.0 L116.2,336.4 L116.6,335.4 L117.1,336.9 L117.2,336.1 L117.3,335.7 L117.6,336.5 L117.8,335.1 L118.1,336.4 L118.2,337.1 L118.3,335.4 L119.2,335.8 L119.2,336.6 L119.8,337.2 L119.9,335.2 L120.2,336.1 L120.2,336.2 L120.7,335.5 L121.0,337.0 L121.2,335.8 L121.2,336.3 L121.3,335.5 L121.4,337.3 L122.2,336.7 L122.2,336.3 L122.3,337.2 L122.7,335.2 L123.2,336.2 L123.2,337.0 L123.7,335.2 L124.2,337.2 L124.2,337.1 L124.9,335.4 L125.2,336.0 L125.2,335.6 L125.6,337.0 L126.1,335.1 L126.2,336.6 L126.3,336.2 L127.1,337.1 L127.1,335.7 L127.2,336.6 L127.4,335.3 L127.5,336.7 L128.2,336.2 L128.2,335.3 L129.0,337.0 L129.2,336.7 L129.2,335.2 L129.7,337.3 L129.9,335.1 L130.2,336.4 L130.2,336.3 L130.7,336.9 L130.9,335.7 L131.2,336.2 L131.2,336.4 L131.3,335.5 L131.7,337.3 L132.2,336.5 L132.2,336.7 L132.3,335.6 L133.1,336.9 L133.2,336.6 L133.2,335.8 L133.7,337.1 L134.1,335.2 L134.2,336.3 L134.3,336.6 L134.6,335.1 L135.1,337.0 L135.1,336.5 L135.2,336.5 L135.6,336.9 L135.7,335.5 L136.2,336.7 L136.2,337.0 L136.4,335.4 L137.2,336.3 L137.2,336.7 L137.6,335.4 L138.1,337.2 L138.2,336.6 L138.2,337.3 L139.0,335.4 L139.2,336.2 L139.2,336.3 L139.5,337.0 L140.0,335.8 L140.2,336.3 L140.2,336.8 L140.4,335.5 L140.6,337.1 L141.2,336.3 L141.2,336.1 L141.5,337.2 L142.1,335.8 L142.2,336.8 L142.2,336.8 L142.6,337.2 L143.0,335.1 L143.2,335.8 L143.3,336.3 L143.6,337.1 L144.0,335.7 L144.2,336.6 L144.2,335.5 L144.8,337.1 L145.2,336.5 L145.2,336.1 L145.7,337.3 L146.1,335.4 L146.2,335.6 L146.2,336.4 L146.3,336.9 L146.9,335.6 L147.2,336.5 L147.2,336.3 L147.4,335.4 L147.8,336.9 L148.2,336.8 L148.2,336.7 L148.6,337.1 L149.2,335.2 L149.2,336.7 L149.7,335.2 L150.1,337.3 L150.2,336.0 L150.2,336.0 L150.3,335.8 L150.7,337.3 L151.2,336.4 L151.3,336.4 L151.5,336.9 L152.0,334.9 L152.1,336.2 L152.2,336.1 L153.0,335.6 L153.0,337.0 L153.2,335.7 L153.2,335.8 L153.7,335.6 L154.2,337.1 L154.2,335.8 L154.3,336.8 L154.6,335.1 L155.2,335.5 L155.2,334.8 L155.3,337.2 L156.2,336.5 L156.2,336.9 L156.5,337.2 L156.8,335.6 L157.2,335.8 L157.2,336.7 L158.0,335.3 L158.1,336.9 L158.2,336.1 L158.2,336.0 L158.5,337.3 L159.1,335.3 L159.2,336.3 L159.3,336.3 L159.6,335.6 L159.6,337.1 L160.1,336.5 L160.2,336.4 L160.4,337.0 L161.2,335.7 L161.2,336.5 L161.3,335.8 L162.1,337.3 L162.2,336.0 L162.2,335.8 L162.8,335.5 L163.2,337.1 L163.2,336.9 L164.1,335.2 L164.2,336.4 L164.2,335.6 L164.8,337.0 L165.0,335.5 L165.2,335.9 L165.2,336.8 L165.6,337.1 L165.7,335.1 L166.2,336.4 L166.2,336.9 L166.5,337.2 L166.6,335.3 L167.2,336.7 L167.2,335.8 L167.5,337.1 L167.8,335.3 L168.2,336.3 L168.3,336.1 L168.9,335.6 L169.1,336.8 L169.1,336.3 L169.2,336.1 L169.3,336.9 L170.1,335.7 L170.2,335.9 L170.2,336.4 L170.8,335.6 L171.1,336.9 L171.2,336.3 L171.2,336.8 L171.9,335.9 L172.1,336.9 L172.2,336.4 L172.2,336.8 L172.8,337.3 L173.1,335.1 L173.2,335.9 L173.2,336.6 L174.0,335.3 L174.2,335.9 L174.2,336.8 L174.4,335.2 L175.0,337.0 L175.2,335.9 L175.2,335.8 L175.4,336.5 L175.5,335.0 L176.2,336.5 L176.3,336.2 L176.8,336.5 L177.0,334.6 L177.1,335.3 L177.2,335.1 L177.8,335.8 L177.9,334.4 L178.2,335.0 L178.2,334.5 L178.7,336.0 L179.2,333.4 L179.2,333.0 L179.3,335.3 L179.8,332.6 L180.2,333.5 L180.2,332.8 L180.3,333.8 L181.1,331.2 L181.2,331.7 L181.2,332.5 L181.3,333.7 L182.1,329.9 L182.2,330.8 L182.2,330.9 L183.1,327.3 L183.2,328.2 L183.2,328.9 L184.1,323.1 L184.2,325.7 L184.2,326.5 L184.3,326.7 L185.1,323.1 L185.1,324.9 L185.2,324.1 L185.3,322.9 L186.1,326.6 L186.2,324.2 L186.2,325.1 L187.1,329.0 L187.2,327.5 L187.2,327.4 L187.9,327.4 L188.2,330.7 L188.2,329.5 L189.1,332.7 L189.2,330.7 L189.2,332.3 L189.4,331.2 L190.0,333.7 L190.2,332.4 L190.2,332.9 L190.8,335.9 L190.8,332.2 L191.2,334.2 L191.2,333.9 L191.6,332.8 L192.1,335.2 L192.2,335.1 L192.2,335.3 L192.4,334.3 L192.8,336.2 L193.2,335.5 L193.3,336.3 L193.6,336.4 L193.7,334.7 L194.1,335.2 L194.2,334.9 L194.3,336.6 L194.4,334.8 L195.2,335.5 L195.2,336.0 L195.9,336.6 L196.0,334.8 L196.2,336.0 L196.2,336.0 L196.8,335.2 L197.1,336.9 L197.2,336.5 L197.2,335.9 L197.6,334.8 L198.0,337.3 L198.2,336.4 L198.2,335.4 L198.8,337.3 L199.2,336.2 L199.2,336.3 L199.4,335.5 L200.1,337.2 L200.2,335.8 L200.2,336.8 L200.3,335.2 L201.2,337.1 L201.3,336.7 L201.4,336.9 L201.5,335.2 L202.1,335.3 L202.2,336.0 L202.5,335.4 L202.9,336.8 L203.2,336.8 L203.2,336.8 L203.3,335.9 L203.8,337.1 L204.2,336.3 L204.2,335.5 L204.8,336.9 L204.8,335.3 L205.2,336.1 L205.2,336.2 L205.3,335.8 L205.3,336.9 L206.2,336.5 L206.2,336.0 L207.1,335.3 L207.1,337.1 L207.2,335.9 L207.2,336.7 L207.7,335.4 L208.1,337.1 L208.2,336.4 L208.2,336.6 L208.3,337.3 L208.7,335.5 L209.2,335.8 L209.2,335.8 L209.6,337.3 L210.2,336.3 L210.3,336.2 L210.3,336.9 L210.9,335.5 L211.1,336.4 L211.2,336.0 L211.4,335.0 L211.8,336.9 L212.2,336.3 L212.2,336.2 L212.3,337.1 L212.7,335.4 L213.2,335.4 L213.2,336.3 L213.5,335.4 L213.8,337.0 L214.2,336.3 L214.2,337.0 L214.5,335.5 L215.0,337.2 L215.2,336.1 L215.2,336.6 L215.5,335.4 L215.8,337.3 L216.2,337.0 L216.2,336.3 L216.4,336.9 L217.2,335.5 L217.2,336.6 L217.7,337.3 L217.9,335.4 L218.2,337.1 L218.3,336.8 L218.4,335.4 L218.5,337.2 L219.1,336.5 L219.2,336.8 L219.7,335.3 L219.7,337.2 L220.2,336.5 L220.2,336.0 L220.3,336.9 L220.5,335.2 L221.2,335.8 L221.2,336.0 L221.3,335.6 L221.8,336.9 L222.2,336.2 L222.2,336.4 L222.4,335.4 L223.0,336.8 L223.2,335.8 L223.2,336.5 L223.7,337.0 L223.8,335.0 L224.2,336.5 L224.2,336.2 L224.5,335.8 L225.1,337.0 L225.2,336.3 L225.2,336.0 L225.6,337.3 L226.2,335.4 L226.2,336.5 L226.4,335.2 L226.8,337.3 L227.1,336.5 L227.2,335.8 L227.6,337.0 L228.1,335.4 L228.2,336.6 L228.2,337.0 L228.5,335.5 L229.2,336.4 L229.2,336.4 L229.8,337.2 L229.9,335.3 L230.2,336.6 L230.2,337.3 L230.4,335.4 L231.2,335.8 L231.2,336.3 L231.3,335.5 L231.5,336.8 L232.2,336.8 L232.2,336.6 L232.6,337.1 L233.2,335.1 L233.2,336.2 L233.4,336.9 L233.5,335.3 L234.2,336.3 L234.2,336.3 L234.3,335.8 L234.5,337.1 L235.2,336.0 L235.3,336.7 L235.5,337.3 L235.6,335.4 L236.1,337.3 L236.2,336.1 L236.6,336.9 L236.7,334.9 L237.2,335.7 L237.2,336.5 L238.1,337.3 L238.1,335.7 L238.2,336.7 L238.2,336.0 L238.5,335.4 L238.9,337.1 L239.2,336.3 L239.2,336.1 L239.8,335.6 L240.0,337.3 L240.2,336.4 L240.2,336.5 L240.3,335.4 L240.6,337.3 L241.2,336.1 L241.2,337.2 L241.9,337.3 L242.1,335.1 L242.2,336.3 L242.2,336.6 L243.0,335.5 L243.0,337.3 L243.2,336.0 L243.3,336.3 L243.7,337.1 L244.0,335.3 L244.1,335.7 L244.2,336.8 L244.6,336.9 L245.0,335.4 L245.2,336.3 L245.2,337.3 L245.6,335.6 L246.2,336.8 L246.2,337.3 L246.4,335.5 L246.9,337.3 L247.2,335.5 L247.2,336.4 L247.4,337.0 L248.1,335.4 L248.2,336.2 L248.2,335.6 L248.7,335.2 L249.0,337.2 L249.2,336.0 L249.2,335.7 L249.7,337.3 L249.9,335.4 L250.2,336.1 L250.2,336.4 L250.4,335.3 L251.1,337.3 L251.2,336.0 L251.2,335.9 L251.3,335.4 L251.6,336.9 L252.2,336.1 L252.3,336.0 L252.8,335.3 L253.0,336.5 L253.2,336.2 L253.2,335.4 L253.3,334.8 L253.7,336.7 L254.2,335.4 L254.2,335.6 L254.5,334.8 L254.8,336.7 L255.2,336.2 L255.2,335.6 L255.9,336.3 L256.2,335.4 L256.2,336.3 L256.5,336.9 L256.6,335.0 L257.2,336.6 L257.2,336.0 L257.3,335.2 L257.8,337.1 L258.2,336.4 L258.2,337.2 L258.5,337.3 L258.7,335.3 L259.2,336.3 L259.2,335.4 L259.5,336.7 L259.8,334.3 L260.2,336.3 L260.3,335.8 L260.3,337.2 L260.5,335.5 L261.1,336.4 L261.2,336.7 L261.3,335.2 L261.5,337.3 L262.2,336.0 L262.2,336.1 L262.7,336.9 L262.9,335.6 L263.2,336.2 L263.2,335.0 L263.9,336.8 L264.2,336.7 L264.2,336.3 L264.9,336.9 L265.0,335.1 L265.2,336.3 L265.2,335.5 L266.1,336.8 L266.2,335.7 L266.2,335.8 L266.9,335.4 L267.1,336.9 L267.2,336.5 L267.2,336.3 L267.5,336.7 L268.1,335.1 L268.2,336.1 L268.3,336.6 L268.8,337.3 L268.8,335.6 L269.1,336.7 L269.2,335.5 L269.3,337.1 L269.6,335.5 L270.2,336.7 L270.2,335.8 L270.7,335.1 L270.9,337.0 L271.2,336.2 L271.2,337.3 L272.1,335.4 L272.2,336.0 L272.2,335.9 L272.4,335.4 L272.6,337.0 L273.2,336.9 L273.2,336.0 L273.7,335.1 L274.1,337.3 L274.2,336.3 L274.2,335.5 L274.9,337.2 L275.2,336.8 L275.2,335.9 L276.0,335.6 L276.0,337.2 L276.2,336.6 L276.2,336.7 L277.0,335.2 L277.0,337.0 L277.2,336.6 L277.3,336.8 L277.3,335.6 L278.0,337.1 L278.1,336.4 L278.2,337.2 L278.3,334.9 L279.2,336.1 L279.2,335.4 L279.8,337.3 L280.2,335.1 L280.2,336.6 L280.6,336.7 L281.2,335.4 L281.2,335.8 L282.0,337.3 L282.2,335.5 L282.2,336.1 L282.4,335.1 L283.1,336.8 L283.2,336.1 L283.2,337.0 L283.6,335.1 L284.2,336.4 L284.2,336.3 L284.7,335.0 L284.8,337.3 L285.2,335.7 L285.3,336.1 L285.9,335.2 L286.1,336.7 L286.1,335.6 L286.2,335.8 L286.8,337.0 L287.0,334.8 L287.2,335.9 L287.2,335.7 L287.4,337.3 L288.2,334.9 L288.2,336.0 L288.4,335.3 L288.9,336.9 L289.2,336.3 L289.2,336.2 L289.9,337.2 L290.2,335.7 L290.2,335.4 L291.1,335.1 L291.2,336.7 L291.2,336.9 L291.3,335.3 L292.2,336.1 L292.2,335.8 L292.5,335.0 L292.9,337.0 L293.2,336.0 L293.2,335.2 L293.6,336.8 L294.2,336.0 L294.3,335.9 L294.4,336.6 L294.9,335.2 L295.2,335.8 L295.2,336.6 L295.8,335.2 L296.2,335.6 L296.2,336.0 L296.3,336.8 L296.8,334.7 L297.2,335.0 L297.2,334.4 L298.1,336.6 L298.2,336.4 L298.2,335.6 L298.6,337.1 L298.7,334.8 L299.2,335.8 L299.2,335.2 L299.8,335.2 L300.2,337.3 L300.2,335.6 L300.7,337.1 L301.0,334.8 L301.2,335.7 L301.2,335.9 L301.4,335.2 L302.1,336.8 L302.2,336.3 L302.3,335.7 L302.8,335.5 L302.9,336.6 L303.1,336.1 L303.2,335.6 L304.0,336.8 L304.2,335.8 L304.2,335.1 L304.3,336.8 L304.3,334.5 L305.2,335.8 L305.2,335.1 L305.4,336.2 L305.6,334.4 L306.2,335.4 L306.2,335.1 L307.1,334.5 L307.2,336.5 L307.2,335.0 L307.7,334.2 L307.7,336.4 L308.2,335.0 L308.2,335.4 L308.9,336.4 L309.1,333.8 L309.2,334.3 L309.2,334.2 L309.7,336.1 L310.2,334.4 L310.3,334.2 L310.3,333.9 L310.7,336.1 L311.1,334.7 L311.2,335.4 L311.9,334.0 L312.2,334.7 L312.2,335.1 L312.4,333.7 L312.5,335.8 L313.2,334.4 L313.2,334.9 L313.6,335.2 L313.7,333.4 L314.2,333.9 L314.2,334.2 L314.4,335.2 L314.6,332.4 L315.2,333.3 L315.2,333.9 L315.4,332.5 L316.1,334.2 L316.2,332.8 L316.2,332.8 L317.1,334.0 L317.2,332.0 L317.2,332.0 L317.4,332.5 L318.1,330.8 L318.2,332.0 L318.2,330.7 L318.4,331.3 L319.2,329.2 L319.3,329.5 L320.1,326.2 L320.1,326.6 L320.2,325.8 L320.3,326.0 L321.1,321.2 L321.2,321.7 L321.2,320.4 L321.4,320.7 L322.1,311.8 L322.2,311.9 L322.2,310.4 L323.2,290.7 L323.2,290.0 L324.2,251.7 L324.2,249.9 L325.1,227.6 L325.2,230.2 L325.2,231.5 L325.3,230.9 L326.2,266.8 L326.2,271.6 L327.1,299.3 L327.2,299.2 L327.3,301.6 L328.1,314.5 L328.2,315.1 L329.2,322.9 L329.2,323.9 L329.3,323.2 L330.0,327.2 L330.2,327.2 L330.2,327.2 L331.1,330.5 L331.2,329.9 L331.2,329.9 L331.3,329.8 L331.9,332.2 L332.2,331.2 L332.2,331.3 L332.8,333.2 L333.2,333.0 L333.2,332.4 L333.9,334.1 L334.0,332.0 L334.2,332.9 L334.2,332.7 L334.3,331.9 L334.7,334.5 L335.2,334.1 L335.2,333.9 L335.6,332.9 L336.0,334.8 L336.1,333.9 L336.2,334.0" fill="none" stroke="#2ca02c" stroke-width="1.2" stroke-linejoin="round"/>
<path d="M34.2,335.2 L34.6,332.9 L35.2,333.3 L35.2,333.0 L35.5,334.8 L35.9,332.1 L36.2,333.0 L36.2,333.1 L36.3,335.3 L36.8,331.7 L37.2,333.0 L37.2,332.8 L37.8,330.2 L38.2,331.7 L38.2,332.3 L39.1,328.6 L39.2,330.4 L39.2,330.2 L39.3,330.9 L40.1,326.3 L40.2,326.6 L40.2,325.8 L40.4,327.0 L41.1,322.4 L41.2,324.5 L41.2,320.5 L41.3,323.1 L42.2,314.8 L42.3,313.7 L43.1,298.6 L43.2,299.9 L44.2,267.9 L44.2,267.2 L45.2,229.6 L45.2,224.1 L46.2,248.5 L46.2,252.7 L47.2,288.9 L47.2,292.6 L48.2,310.1 L48.2,311.3 L48.3,311.0 L49.2,321.1 L49.2,319.9 L50.2,325.8 L50.3,325.8 L50.3,325.4 L51.1,329.4 L51.2,330.6 L51.3,327.5 L52.2,330.9 L52.2,330.8 L52.4,329.6 L52.9,332.8 L53.2,331.0 L53.2,330.9 L53.5,330.7 L54.2,334.3 L54.2,333.4 L54.4,331.7 L55.0,334.5 L55.2,333.7 L55.2,334.0 L55.7,334.7 L55.8,333.0 L56.2,333.1 L56.2,333.2 L57.0,335.0 L57.2,333.0 L57.2,334.2 L57.4,333.5 L58.0,335.3 L58.2,334.5 L58.2,334.1 L58.3,334.0 L59.2,335.8 L59.3,334.6 L59.9,334.2 L60.1,335.9 L60.2,335.2 L60.5,334.0 L61.0,336.4 L61.2,335.2 L61.2,334.9 L61.3,334.3 L61.4,336.2 L62.2,334.4 L62.2,334.7 L62.8,336.4 L63.2,334.8 L63.2,334.4 L63.4,334.3 L63.8,336.9 L64.2,335.7 L64.2,336.4 L64.6,336.7 L65.2,334.9 L65.2,335.9 L65.5,334.8 L66.0,336.3 L66.2,335.3 L66.2,335.5 L66.8,336.5 L67.1,334.8 L67.2,335.5 L67.3,335.3 L67.7,336.7 L67.9,334.4 L68.1,335.3 L68.2,335.9 L68.7,335.1 L69.2,336.7 L69.2,335.1 L69.3,337.1 L69.5,334.8 L70.2,334.9 L70.2,335.8 L70.8,336.7 L71.1,335.2 L71.2,336.3 L71.2,335.9 L71.9,334.9 L72.0,336.8 L72.2,335.6 L72.2,336.4 L72.6,335.4 L73.0,336.6 L73.2,335.4 L73.2,335.8 L73.6,336.9 L73.6,334.8 L74.2,336.1 L74.2,335.9 L74.5,336.9 L74.9,334.9 L75.2,336.5 L75.2,336.3 L75.7,336.8 L76.0,334.7 L76.1,336.3 L76.2,336.0 L76.6,337.0 L77.0,334.9 L77.2,336.1 L77.2,335.4 L77.3,336.6 L77.5,334.8 L78.2,335.5 L78.2,336.3 L78.8,335.3 L79.0,336.6 L79.2,335.4 L79.2,336.2 L79.7,334.7 L80.1,336.9 L80.2,336.2 L80.2,335.7 L80.6,337.1 L81.0,335.0 L81.2,336.6 L81.2,335.7 L81.3,335.0 L82.1,336.7 L82.2,336.2 L82.2,336.2 L82.7,335.1 L82.9,336.7 L83.2,336.3 L83.2,336.3 L84.0,336.5 L84.2,335.3 L84.3,336.2 L84.4,335.3 L85.1,337.0 L85.2,336.6 L85.4,337.0 L86.0,335.7 L86.2,335.7 L86.2,336.0 L86.7,334.8 L86.8,336.5 L87.2,335.5 L87.2,336.5 L87.7,335.3 L87.8,336.9 L88.2,335.4 L88.2,336.4 L88.4,336.7 L89.0,335.0 L89.2,336.5 L89.2,336.5 L89.3,335.3 L90.1,336.9 L90.2,336.4 L90.2,335.1 L90.5,337.1 L91.2,336.0 L91.2,336.4 L91.4,336.5 L92.1,335.2 L92.2,336.2 L92.3,336.7 L92.8,337.1 L92.9,335.4 L93.1,336.4 L93.2,335.9 L93.7,335.6 L93.9,337.3 L94.2,336.3 L94.2,336.1 L94.5,336.8 L94.9,335.2 L95.2,336.1 L95.2,336.1 L95.6,334.9 L96.0,336.8 L96.2,335.7 L96.2,335.9 L97.0,337.3 L97.2,335.3 L97.2,335.7 L97.8,335.0 L98.2,336.9 L98.2,335.9 L98.6,335.1 L99.1,337.0 L99.2,335.8 L99.2,335.6 L99.4,337.0 L99.5,335.2 L100.2,335.8 L100.2,335.6 L100.5,334.6 L100.6,336.7 L101.2,336.0 L101.3,336.0 L101.4,335.2 L102.0,337.0 L102.2,336.5 L102.2,336.4 L102.6,335.5 L102.8,337.1 L103.2,336.2 L103.2,335.5 L103.5,337.1 L104.2,335.3 L104.2,335.2 L104.9,336.8 L105.2,335.4 L105.2,336.3 L105.7,337.0 L105.8,335.4 L106.2,335.8 L106.2,335.9 L106.5,335.3 L107.0,337.3 L107.2,337.2 L107.2,335.6 L107.6,336.8 L108.1,335.2 L108.2,335.8 L108.2,335.6 L108.6,337.3 L108.8,335.2 L109.2,337.1 L109.3,336.2 L109.8,336.7 L109.9,335.1 L110.1,335.8 L110.2,336.1 L110.4,335.4 L110.8,337.1 L111.2,336.6 L111.2,336.5 L111.5,335.1 L111.7,337.2 L112.2,335.9 L112.2,335.3 L112.7,336.6 L112.7,334.8 L113.2,335.4 L113.2,335.6 L113.8,336.4 L114.2,334.2 L114.2,335.7 L115.0,333.9 L115.2,335.4 L115.2,335.8 L115.7,335.9 L116.1,333.7 L116.2,334.5 L116.2,334.5 L116.4,336.6 L116.5,334.1 L117.2,335.4 L117.3,335.3 L117.7,334.4 L118.1,336.6 L118.2,336.5 L118.3,335.3 L118.8,336.9 L119.2,336.3 L119.2,335.8 L119.8,337.0 L120.2,335.6 L120.2,335.8 L120.5,335.3 L120.9,337.3 L121.2,335.7 L121.2,336.3 L121.3,337.3 L121.9,335.3 L122.2,337.3 L122.2,335.6 L122.5,337.2 L123.1,335.5 L123.2,337.1 L123.2,336.6 L124.0,335.2 L124.2,336.4 L124.2,336.3 L124.8,335.6 L125.0,337.0 L125.2,335.7 L125.2,336.4 L125.8,337.2 L125.9,335.3 L126.2,336.1 L126.3,336.2 L126.7,335.3 L126.8,336.8 L127.1,336.3 L127.2,336.4 L127.6,336.9 L128.1,335.2 L128.2,335.6 L128.2,336.1 L128.3,336.9 L128.4,335.3 L129.2,336.5 L129.2,336.1 L129.6,337.3 L129.7,335.2 L130.2,336.7 L130.2,335.6 L130.6,335.0 L131.1,337.2 L131.2,336.4 L131.2,336.6 L131.5,335.2 L132.1,336.8 L132.2,336.5 L132.2,336.1 L132.7,337.0 L132.8,335.1 L133.2,335.8 L133.2,335.8 L133.8,335.5 L134.1,336.8 L134.2,335.8 L134.3,335.8 L134.5,336.6 L135.0,335.7 L135.1,336.3 L135.2,336.7 L135.5,335.2 L135.8,337.0 L136.2,336.4 L136.2,336.2 L136.8,335.5 L137.1,337.0 L137.2,335.9 L137.2,336.5 L137.3,337.3 L137.8,335.0 L138.2,336.7 L138.2,337.2 L138.4,335.0 L139.2,335.1 L139.2,336.6 L139.7,335.1 L140.0,336.8 L140.2,335.7 L140.2,336.7 L140.5,335.4 L141.2,337.1 L141.2,336.0 L141.4,337.2 L142.1,335.3 L142.2,336.6 L142.2,336.0 L142.5,337.2 L143.0,335.2 L143.2,335.6 L143.3,336.4 L143.8,335.2 L143.9,337.0 L144.2,336.1 L144.2,335.6 L144.4,337.1 L145.0,335.0 L145.2,336.4 L145.2,336.0 L145.4,335.4 L146.2,336.8 L146.2,335.3 L147.1,334.9 L147.2,337.1 L147.2,335.1 L147.9,336.8 L148.2,336.2 L148.2,335.3 L148.7,337.1 L149.2,335.4 L149.2,336.2 L150.1,336.9 L150.2,335.0 L150.2,336.0 L150.4,335.5 L150.7,337.3 L151.2,335.8 L151.3,337.3 L151.6,335.9 L152.1,336.6 L152.2,336.5 L152.3,335.0 L152.5,336.8 L153.2,335.7 L153.2,336.5 L153.4,335.5 L153.7,337.0 L154.2,336.1 L154.2,336.6 L154.8,337.0 L155.1,335.5 L155.2,336.1 L155.2,335.7 L155.4,337.3 L156.1,335.2 L156.2,337.0 L156.2,336.0 L156.3,335.4 L156.5,337.3 L157.2,335.6 L157.2,336.2 L157.7,337.1 L157.8,335.6 L158.2,336.6 L158.2,336.9 L158.8,335.0 L159.1,337.3 L159.2,336.4 L159.3,337.3 L159.6,335.2 L160.1,335.6 L160.2,336.6 L160.4,334.9 L161.0,337.0 L161.2,335.5 L161.2,335.8 L161.3,337.3 L161.5,335.0 L162.2,336.7 L162.2,335.8 L162.7,336.9 L163.1,335.6 L163.2,335.9 L163.2,336.3 L163.3,337.0 L163.7,335.2 L164.2,336.7 L164.2,336.8 L164.5,335.2 L164.9,337.3 L165.2,336.3 L165.2,336.6 L165.3,335.7 L165.7,337.2 L166.2,336.5 L166.2,336.0 L166.4,335.0 L167.0,337.1 L167.2,336.3 L167.2,336.7 L167.5,335.2 L168.0,337.3 L168.2,336.5 L168.3,336.1 L168.4,336.8 L169.1,335.3 L169.1,336.2 L169.2,335.4 L169.3,336.9 L169.8,335.2 L170.2,336.3 L170.2,336.5 L170.8,337.2 L170.9,335.3 L171.2,336.3 L171.2,336.3 L171.3,335.8 L171.6,337.1 L172.2,336.3 L172.2,336.1 L172.3,335.2 L172.6,337.1 L173.2,336.1 L173.2,335.8 L173.3,335.2 L173.4,337.1 L174.2,336.0 L174.2,336.1 L174.7,336.6 L174.7,334.9 L175.2,335.8 L175.2,336.0 L175.5,336.9 L176.1,335.1 L176.2,335.6 L176.3,335.1 L176.5,334.5 L176.9,336.7 L177.1,334.8 L177.2,335.6 L177.3,336.1 L178.2,333.7 L178.2,335.8 L178.6,333.3 L179.2,334.0 L179.2,335.1 L179.9,332.3 L180.2,333.0 L180.2,331.9 L180.3,331.2 L180.8,333.6 L181.2,331.5 L181.2,331.0 L181.8,331.5 L182.0,326.3 L182.2,328.3 L182.2,326.4 L182.4,327.3 L183.1,317.9 L183.2,318.7 L183.2,315.7 L183.4,316.8 L184.1,298.1 L184.2,298.3 L184.2,296.3 L185.1,284.4 L185.2,283.8 L185.5,283.3 L186.2,297.8 L186.2,297.8 L187.2,316.2 L187.2,319.1 L187.3,317.4 L188.1,328.2 L188.2,328.1 L188.2,328.5 L188.6,327.2 L189.1,332.0 L189.2,330.6 L189.2,332.7 L189.6,330.9 L189.6,333.3 L190.2,333.3 L190.2,334.0 L191.1,334.7 L191.2,332.8 L191.2,333.5 L191.4,333.2 L191.6,335.3 L192.2,334.2 L192.2,335.0 L192.4,334.1 L192.5,336.0 L193.2,335.6 L193.3,335.5 L193.4,334.7 L194.1,336.4 L194.1,336.0 L194.2,335.2 L194.3,335.0 L194.5,336.7 L195.2,335.0 L195.2,336.4 L195.6,337.3 L195.8,334.7 L196.2,336.3 L196.2,336.8 L197.1,335.2 L197.1,337.3 L197.2,335.4 L197.2,336.2 L197.5,335.3 L198.0,337.3 L198.2,336.4 L198.2,336.5 L198.3,334.8 L198.7,337.2 L199.2,335.7 L199.2,335.9 L199.6,334.7 L199.7,337.2 L200.2,335.3 L200.2,336.2 L200.9,336.7 L201.2,335.1 L201.3,336.3 L201.5,337.0 L202.1,335.2 L202.1,336.1 L202.2,336.4 L202.4,337.1 L202.5,335.3 L203.2,335.6 L203.2,336.6 L203.3,336.9 L203.7,334.9 L204.2,335.8 L204.2,335.9 L204.6,335.0 L205.0,337.0 L205.2,336.8 L205.2,335.6 L205.4,335.1 L206.0,337.0 L206.2,336.1 L206.2,336.8 L206.8,335.0 L207.2,336.6 L207.2,336.6 L207.4,335.2 L207.9,337.2 L208.2,335.5 L208.2,336.5 L208.5,336.7 L208.7,335.1 L209.2,335.6 L209.2,336.4 L209.8,335.4 L210.0,337.3 L210.2,335.9 L210.3,336.4 L210.9,335.5 L211.1,336.9 L211.2,335.9 L211.4,336.9 L211.5,335.0 L212.2,335.9 L212.2,335.8 L212.5,334.7 L212.5,337.1 L213.2,336.6 L213.2,337.3 L213.6,335.5 L214.2,336.3 L214.2,336.3 L214.4,335.2 L215.1,337.0 L215.2,335.9 L215.2,335.5 L215.5,335.0 L216.0,337.2 L216.2,336.3 L216.2,335.8 L216.9,335.5 L217.0,336.8 L217.2,336.0 L217.2,335.9 L217.7,337.0 L217.9,335.6 L218.2,336.1 L218.3,336.3 L219.0,335.5 L219.1,336.9 L219.2,336.2 L219.7,335.1 L219.9,336.7 L220.2,336.3 L220.2,336.6 L220.8,336.9 L221.1,335.1 L221.2,336.0 L221.2,335.8 L221.7,335.4 L221.8,337.0 L222.2,336.1 L222.2,336.8 L222.4,335.4 L222.7,336.9 L223.2,336.1 L223.2,336.3 L223.5,335.3 L224.1,337.3 L224.2,336.8 L224.2,336.5 L224.3,335.7 L224.7,336.7 L225.2,335.8 L225.2,335.9 L225.3,337.2 L226.0,335.4 L226.2,335.8 L226.2,335.8 L226.8,336.7 L226.9,334.9 L227.1,335.7 L227.2,335.6 L227.4,337.3 L228.2,335.0 L228.2,336.5 L228.6,337.3 L228.9,335.0 L229.2,335.6 L229.2,336.6 L229.4,336.9 L229.8,335.4 L230.2,336.4 L230.2,336.2 L230.8,336.9 L231.1,335.4 L231.2,336.0 L231.2,336.4 L231.8,336.8 L232.0,335.7 L232.2,336.6 L232.2,336.5 L232.3,337.3 L233.0,335.3 L233.2,336.5 L233.2,335.8 L233.4,335.1 L233.6,336.9 L234.2,336.3 L234.2,335.4 L234.3,337.3 L235.0,335.1 L235.2,335.9 L235.3,335.4 L235.6,337.3 L235.7,335.4 L236.1,335.6 L236.2,335.1 L236.8,335.0 L237.0,336.5 L237.2,336.1 L237.2,336.5 L237.8,337.2 L238.0,335.4 L238.2,336.1 L238.2,336.3 L238.4,337.1 L239.0,335.4 L239.2,336.4 L239.2,335.7 L239.4,335.3 L239.6,336.8 L240.2,336.0 L240.2,335.7 L240.7,335.4 L241.2,336.8 L241.2,336.4 L241.3,335.1 L241.9,337.1 L242.2,335.8 L242.2,336.4 L242.5,335.5 L242.7,337.3 L243.2,336.6 L243.3,336.7 L244.1,337.0 L244.1,335.3 L244.2,336.4 L244.3,337.1 L244.9,335.4 L245.2,337.0 L245.2,336.2 L245.3,335.8 L245.7,336.8 L246.2,336.4 L246.2,335.7 L246.6,336.8 L246.9,335.4 L247.2,336.7 L247.2,335.9 L247.7,335.4 L247.9,337.2 L248.2,336.6 L248.2,335.5 L248.9,337.0 L249.1,335.1 L249.2,335.9 L249.2,335.4 L249.3,337.1 L249.6,335.0 L250.2,335.8 L250.2,337.0 L250.5,335.1 L251.2,336.8 L251.2,336.7 L252.2,335.3 L252.3,336.2 L252.6,334.7 L253.2,335.7 L253.2,335.0 L253.8,336.0 L254.2,334.5 L254.2,335.1 L254.7,336.0 L255.0,334.3 L255.2,334.7 L255.2,335.3 L255.8,333.8 L255.9,335.5 L256.2,335.2 L256.2,335.0 L256.6,334.3 L257.0,336.6 L257.2,336.4 L257.2,334.8 L257.3,334.8 L257.8,336.6 L258.2,336.3 L258.2,335.5 L258.4,334.7 L259.0,336.7 L259.2,335.3 L259.2,336.6 L259.4,337.0 L259.5,334.3 L260.2,336.1 L260.3,335.7 L260.5,337.3 L260.5,335.0 L261.1,336.6 L261.2,336.2 L262.0,337.2 L262.0,335.6 L262.2,335.9 L262.2,337.0 L262.7,335.5 L263.2,336.1 L263.2,336.5 L263.9,335.3 L264.2,337.0 L264.2,335.7 L264.6,337.1 L265.1,334.9 L265.2,336.7 L265.2,336.6 L266.0,337.2 L266.1,335.3 L266.2,335.9 L266.2,335.4 L266.6,335.3 L266.8,337.0 L267.2,336.4 L267.2,336.5 L267.6,336.9 L268.1,335.5 L268.2,336.0 L268.3,336.7 L268.5,337.3 L268.6,335.3 L269.1,336.2 L269.2,336.1 L269.3,337.3 L269.6,335.4 L270.2,336.2 L270.2,335.8 L270.9,336.6 L271.0,335.2 L271.2,336.2 L271.2,336.8 L271.4,337.2 L271.8,335.2 L272.2,336.7 L272.2,335.8 L272.6,335.1 L273.1,337.1 L273.2,335.7 L273.2,335.6 L273.6,335.3 L274.1,337.0 L274.2,335.9 L274.2,336.0 L274.7,335.0 L275.1,336.6 L275.2,336.0 L275.2,335.6 L275.4,337.1 L275.7,335.1 L276.2,336.6 L276.2,336.5 L276.6,337.0 L277.1,335.5 L277.2,336.0 L277.3,336.2 L277.4,335.1 L277.7,336.9 L278.1,336.6 L278.2,336.0 L278.5,335.6 L279.0,337.2 L279.2,335.9 L279.2,336.1 L279.9,335.0 L280.2,336.9 L280.2,336.7 L280.5,336.9 L280.6,335.5 L281.2,336.4 L281.2,335.9 L281.3,335.4 L282.0,336.6 L282.2,336.4 L282.2,336.3 L282.3,335.2 L282.9,337.2 L283.2,335.5 L283.2,336.9 L283.7,337.0 L283.8,334.8 L284.2,336.5 L284.2,336.9 L284.6,335.3 L285.2,335.8 L285.3,335.8 L285.6,336.5 L286.0,334.9 L286.1,336.2 L286.2,336.1 L286.7,335.2 L287.1,337.0 L287.2,335.6 L287.2,336.0 L287.4,336.9 L287.5,334.9 L288.2,335.6 L288.2,336.0 L288.3,334.9 L289.0,336.8 L289.2,336.8 L289.2,335.7 L289.3,337.3 L289.9,335.5 L290.2,336.4 L290.2,336.0 L290.8,335.4 L290.8,337.1 L291.2,335.9 L291.2,336.6 L291.3,334.9 L292.1,336.9 L292.2,336.5 L292.2,335.6 L292.3,334.9 L293.0,336.4 L293.2,335.5 L293.2,335.5 L293.5,337.3 L294.2,335.3 L294.3,336.2 L294.3,336.5 L294.6,335.0 L295.2,335.8 L295.2,336.5 L295.3,334.9 L295.5,336.6 L296.2,336.3 L296.2,335.8 L296.5,337.0 L296.6,335.3 L297.2,335.7 L297.2,335.9 L297.4,336.8 L297.6,334.9 L298.2,334.9 L298.2,335.7 L298.4,336.7 L299.0,335.3 L299.2,335.5 L299.2,336.0 L299.7,335.0 L299.8,336.8 L300.2,335.8 L300.2,335.2 L300.9,334.9 L301.2,336.7 L301.2,335.2 L301.4,336.9 L301.5,335.1 L302.2,335.2 L302.3,336.4 L302.5,336.8 L302.8,334.0 L303.1,335.9 L303.2,335.9 L303.5,336.4 L303.9,334.3 L304.2,334.6 L304.2,335.8 L304.3,335.0 L304.9,336.4 L305.2,335.3 L305.2,336.0 L305.6,336.8 L305.7,333.8 L306.2,334.3 L306.2,335.0 L307.0,336.3 L307.2,334.2 L307.2,335.0 L308.0,336.4 L308.1,334.6 L308.2,336.3 L308.2,336.1 L308.6,336.6 L309.1,334.2 L309.2,335.2 L309.2,335.3 L309.3,334.5 L310.2,335.9 L310.3,335.2 L310.5,334.1 L311.1,336.0 L311.2,335.3 L311.4,335.5 L311.7,333.5 L312.2,334.7 L312.2,335.3 L312.8,335.3 L312.9,332.9 L313.2,333.5 L313.2,334.1 L313.7,333.4 L314.1,335.0 L314.2,334.4 L314.2,333.7 L314.4,335.2 L315.1,333.1 L315.2,333.1 L315.2,332.6 L315.5,335.3 L316.0,332.3 L316.2,332.6 L316.2,333.9 L316.3,331.1 L316.8,334.1 L317.2,332.3 L317.2,332.4 L317.7,332.5 L317.8,329.9 L318.2,330.4 L318.2,330.5 L318.3,331.8 L319.1,328.2 L319.2,328.9 L319.3,329.0 L319.4,329.7 L320.0,325.2 L320.1,326.6 L320.2,327.4 L321.1,318.8 L321.2,321.1 L321.2,319.9 L321.3,320.5 L322.2,310.0 L322.2,309.9 L322.3,312.0 L323.2,289.4 L323.2,289.9 L324.1,252.2 L324.2,253.6 L324.2,246.2 L324.3,247.6 L325.1,224.4 L325.2,227.8 L325.2,233.5 L325.3,231.2 L326.2,269.9 L326.2,268.3 L327.2,300.1 L327.3,300.4 L328.1,314.1 L328.2,314.9 L328.5,314.9 L329.2,323.0 L329.2,323.0 L329.3,322.5 L330.0,328.6 L330.2,327.3 L330.2,328.1 L330.4,326.8 L331.0,330.4 L331.2,328.4 L331.2,329.3 L331.3,328.8 L331.4,331.7 L332.2,331.3 L332.2,332.2 L332.5,330.5 L332.8,333.4 L333.2,332.2 L333.2,332.8 L333.3,331.0 L334.0,334.3 L334.2,333.1 L334.2,334.3 L335.0,332.5 L335.2,334.5 L335.2,334.3 L335.4,332.8 L336.1,334.5 L336.1,333.2 L336.2,334.0" fill="none" stroke="#1f77b4" stroke-width="1.5" stroke-linejoin="round"/>
<path d="M38.67,331.81 L38.73,331.15 L38.79,329.64 L38.84,330.7 L38.9,330.54 L38.95,329.88 L39.01,330.3 L39.07,329.43 L39.12,329.07 L39.18,329.48 L39.23,329.19 L39.29,329.55 L39.35,329.66 L39.4,330.15 L39.46,328.03 L39.51,328.48 L39.57,330.19 L39.62,328.4 L39.68,328.52 L39.74,327.57 L39.79,327.86 L39.85,328.01 L39.9,328.21 L39.96,328.41 L40.02,326.84 L40.07,327.19 L40.13,326.82 L40.18,326.93 L40.24,326.61 L40.3,327.24 L40.35,327.21 L40.41,326.63 L40.46,326.13 L40.52,325.89 L40.58,326.13 L40.63,325.66 L40.69,324.05 L40.74,327.07 L40.8,326.02 L40.86,323.87 L40.91,325.73 L40.97,322.86 L41.02,322.6 L41.08,324.27 L41.13,323.55 L41.19,322.76 L41.25,323.29 L41.3,321.45 L41.36,321.59 L41.41,323.37 L41.47,322.61 L41.53,319.89 L41.58,321.5 L41.64,320.05 L41.69,319.9 L41.75,319.19 L41.81,319.39 L41.86,317.92 L41.92,316.27 L41.97,317.33 L42.03,316.58 L42.09,316.22 L42.14,315.54 L42.2,315.05 L42.25,313.61 L42.31,314.6 L42.37,314.86 L42.42,310.83 L42.48,311.83 L42.53,310.54 L42.59,309.62 L42.64,308.27 L42.7,310.38 L42.76,308.7 L42.81,306.7 L42.87,305.6 L42.92,305.52 L42.98,302.97 L43.04,304.44 L43.09,303.46 L43.15,301.67 L43.2,298.97 L43.26,294.67 L43.32,297.08 L43.37,295.68 L43.43,295.57 L43.48,290.24 L43.54,291.58 L43.6,288.75 L43.65,285.34 L43.71,287.28 L43.76,285.4 L43.82,281.15 L43.88,279.57 L43.93,278.59 L43.99,274.58 L44.04,274.49 L44.1,272.49 L44.15,271.04 L44.21,268.75 L44.27,265.63 L44.32,260.45 L44.38,259.19 L44.43,257.54 L44.49,255.24 L44.55,254.28 L44.6,249.32 L44.66,246.48 L44.71,242.56 L44.77,244.33 L44.83,237.24 L44.88,237.59 L44.94,235.59 L44.99,234 L45.05,235.62 L45.11,229.75 L45.16,228.99 L45.22,230.62 L45.27,230.61 L45.33,227.17 L45.39,228.33 L45.44,230.8 L45.5,229.09 L45.55,229.2 L45.61,232.65 L45.66,230.61 L45.72,230.42 L45.78,234.98 L45.83,235.84 L45.89,239.25 L45.94,241.69 L46,240.19 L46.06,246.36 L46.11,243.97 L46.17,250.34 L46.22,252.73 L46.28,257.32 L46.34,258.13 L46.39,258.42 L46.45,261.94 L46.5,263.8 L46.56,265.05 L46.62,269.87 L46.67,271.05 L46.73,269.92 L46.78,276.94 L46.84,276.27 L46.9,282.13 L46.95,281.8 L47.01,282.37 L47.06,287.76 L47.12,288.08 L47.17,291.65 L47.23,290.64 L47.29,293.67 L47.34,293.41 L47.4,293.84 L47.45,297.34 L47.51,299.26 L47.57,298.63 L47.62,303.25 L47.68,302.28 L47.73,304.05 L47.79,306.36 L47.85,304.07 L47.9,306.5 L47.96,307.86 L48.01,308.2 L48.07,309.79 L48.13,311.1 L48.18,310.65 L48.24,311.31 L48.29,311.8 L48.35,312.62 L48.41,314.08 L48.46,312.3 L48.52,314.14 L48.57,314.38 L48.63,317.51 L48.68,316.95 L48.74,317.51 L48.8,316.52 L48.85,318.48 L48.91,319.3 L48.96,319.37 L49.02,320.69 L49.08,320.54 L49.13,320.18 L49.19,319.71 L49.24,322.56 L49.3,318.9 L49.36,321.77 L49.41,321.53 L49.47,323.26 L49.52,322.77 L49.58,322.93 L49.64,322.92 L49.69,324.09 L49.75,324.7 L49.8,324.52 L49.86,324.1 L49.92,322.63 L49.97,325.86 L50.03,326.02 L50.08,326.54 L50.14,326.65 L50.19,325.01 L50.25,326.38 L50.31,326.25 L50.36,325.12 L50.42,326.08 L50.47,326.29 L50.53,327.02 L50.59,326.97 L50.64,327.32 L50.7,326.91 L50.75,326.68 L50.81,327.88 L50.87,328.02 L50.92,327.85 L50.98,328 L51.03,327.51 L51.09,327.6 L51.15,328.76 L51.2,328.98 L51.26,329.6 L51.31,329.51 L51.37,328.63 L51.43,328.8 L51.48,331.43 L51.54,329.62 L51.59,330.17 L51.65,329.7 L51.7,329.24 L51.76,330.7 L51.82,331.2 L51.87,330.21 L51.93,330.47 L51.98,329.7 L52.04,330.95" fill="none" stroke="#2ca02c" stroke-width="1.1" stroke-dasharray="1.4,1.8,0.8,2.6,2,1.5,1,3" stroke-opacity="0.9"/>
<path d="M318.3,329.85 L318.36,331.27 L318.42,329.62 L318.47,330.58 L318.53,331.02 L318.58,329.24 L318.64,330.75 L318.7,329.24 L318.75,328.96 L318.81,330.39 L318.86,330.75 L318.92,329.99 L318.97,330.75 L319.03,329.72 L319.09,329.18 L319.14,329.22 L319.2,329.18 L319.25,329.53 L319.31,328.93 L319.37,328 L319.42,327.97 L319.48,327.99 L319.53,329.4 L319.59,327.47 L319.65,329.13 L319.7,327.11 L319.76,327.47 L319.81,327.8 L319.87,328.05 L319.93,326.34 L319.98,327.6 L320.04,326.94 L320.09,326.02 L320.15,326.57 L320.21,325.4 L320.26,325.99 L320.32,324.97 L320.37,324.81 L320.43,324.98 L320.48,324.75 L320.54,323 L320.6,324.79 L320.65,325.1 L320.71,322.75 L320.76,323.9 L320.82,324.15 L320.88,322.58 L320.93,321.49 L320.99,321.08 L321.04,321.22 L321.1,320.75 L321.16,321.74 L321.21,320.14 L321.27,319.89 L321.32,319.74 L321.38,318.67 L321.44,320.69 L321.49,319.5 L321.55,319.82 L321.6,315.82 L321.66,316.28 L321.72,316.34 L321.77,315.22 L321.83,315.76 L321.88,314.92 L321.94,315.33 L321.99,313.55 L322.05,313.4 L322.11,311.21 L322.16,311.89 L322.22,310.43 L322.27,310.04 L322.33,308.76 L322.39,308.58 L322.44,308.81 L322.5,305.04 L322.55,304.57 L322.61,302.74 L322.67,302.1 L322.72,300.41 L322.78,299.45 L322.83,299.26 L322.89,296.09 L322.95,296.76 L323,297.28 L323.06,295.52 L323.11,292.06 L323.17,289.88 L323.23,290.02 L323.28,289.02 L323.34,286.08 L323.39,282.9 L323.45,282.62 L323.5,281.35 L323.56,277.18 L323.62,275 L323.67,271.99 L323.73,272.94 L323.78,267.26 L323.84,264.93 L323.9,262.7 L323.95,262.12 L324.01,259.02 L324.06,259.05 L324.12,252.98 L324.18,249.33 L324.23,249.93 L324.29,249.54 L324.34,241.89 L324.4,241.78 L324.46,238.72 L324.51,236.68 L324.57,237.4 L324.62,233.81 L324.68,233.61 L324.74,231.93 L324.79,227.21 L324.85,230.97 L324.9,226.6 L324.96,228 L325.01,227.84 L325.07,226.54 L325.13,229.27 L325.18,230.23 L325.24,231.51 L325.29,230.43 L325.35,231.65 L325.41,235.31 L325.46,236.27 L325.52,235.94 L325.57,241.83 L325.63,242.39 L325.69,246.28 L325.74,248.14 L325.8,250.45 L325.85,251.9 L325.91,254.15 L325.97,257.9 L326.02,257.81 L326.08,262.17 L326.13,265.28 L326.19,266.81 L326.25,271.61 L326.3,272.96 L326.36,273.42 L326.41,273.56 L326.47,274.6 L326.52,279.24 L326.58,282.36 L326.64,283.56 L326.69,285.18 L326.75,286.7 L326.8,286.78 L326.86,293.24 L326.92,293.15 L326.97,293.89 L327.03,296.93 L327.08,296.18 L327.14,299.32 L327.2,298.64 L327.25,301.56 L327.31,304.82 L327.36,302.24 L327.42,304.29 L327.48,305.25 L327.53,306.74 L327.59,306.01 L327.64,307.43 L327.7,308.32 L327.76,308.59 L327.81,312.81 L327.87,309.95 L327.92,314.2 L327.98,312.26 L328.03,312.75 L328.09,312.88 L328.15,313.27 L328.2,315.09 L328.26,316.76 L328.31,315.03 L328.37,315.86 L328.43,316.62 L328.48,319.06 L328.54,317.27 L328.59,318.71 L328.65,318.96 L328.71,319.9 L328.76,320.46 L328.82,320.03 L328.87,320.73 L328.93,321.92 L328.99,321.64 L329.04,321.69 L329.1,321.98 L329.15,322.87 L329.21,323.89 L329.27,322.98 L329.32,324.2 L329.38,324.02 L329.43,323.81 L329.49,324.24 L329.54,324.67 L329.6,325.29 L329.66,324.05 L329.71,325.37 L329.77,324.97 L329.82,326.36 L329.88,325.71 L329.94,326.68 L329.99,326.03 L330.05,327.2 L330.1,326.65 L330.16,327.18 L330.22,325.75 L330.27,326 L330.33,327.26 L330.38,326.95 L330.44,328.31 L330.5,329.9 L330.55,328.58 L330.61,328.72 L330.66,328.33 L330.72,328.76 L330.78,328.67 L330.83,329.15 L330.89,327.74 L330.94,328.29 L331,328.7 L331.05,329.58 L331.11,330.5 L331.17,329.86 L331.22,329.87 L331.28,329.59 L331.33,329.65 L331.39,328.75 L331.45,329.79 L331.5,330.3 L331.56,330.79 L331.61,330.83 L331.67,330.91" fill="none" stroke="#2ca02c" stroke-width="1.1" stroke-dasharray="1.4,1.8,0.8,2.6,2,1.5,1,3" stroke-opacity="0.9"/>
</g>
<rect x="34.2" y="228.6" width="302.0" height="108.7" fill="none" stroke="#333" stroke-width="0.85"/>
<path d="M73.35,337.3v3.5M129.27,337.3v3.5M185.2,337.3v3.5M241.13,337.3v3.5M297.05,337.3v3.5M34.2,315.56h-3.5M34.2,293.82h-3.5M34.2,272.08h-3.5M34.2,250.34h-3.5M34.2,228.6h-3.5" stroke="#333" stroke-width="0.85" fill="none"/>
<text x="62.65" y="350.70" font-size="10.4" font-weight="normal" font-style="normal" textLength="21.28" lengthAdjust="spacingAndGlyphs" >−20</text>
<text x="118.57" y="350.70" font-size="10.4" font-weight="normal" font-style="normal" textLength="21.28" lengthAdjust="spacingAndGlyphs" >−10</text>
<text x="181.89" y="350.70" font-size="10.4" font-weight="normal" font-style="normal" textLength="6.62" lengthAdjust="spacingAndGlyphs" >0</text>
<text x="234.40" y="350.70" font-size="10.4" font-weight="normal" font-style="normal" textLength="13.02" lengthAdjust="spacingAndGlyphs" >10</text>
<text x="290.44" y="350.70" font-size="10.4" font-weight="normal" font-style="normal" textLength="13.09" lengthAdjust="spacingAndGlyphs" >20</text>
<text x="13.37" y="319.61" font-size="10.4" font-weight="normal" font-style="normal" textLength="16.01" lengthAdjust="spacingAndGlyphs" >0.2</text>
<text x="12.92" y="297.87" font-size="10.4" font-weight="normal" font-style="normal" textLength="16.22" lengthAdjust="spacingAndGlyphs" >0.4</text>
<text x="12.99" y="276.13" font-size="10.4" font-weight="normal" font-style="normal" textLength="16.33" lengthAdjust="spacingAndGlyphs" >0.6</text>
<text x="13.04" y="254.39" font-size="10.4" font-weight="normal" font-style="normal" textLength="16.27" lengthAdjust="spacingAndGlyphs" >0.8</text>
<text x="13.03" y="232.65" font-size="10.4" font-weight="normal" font-style="normal" textLength="16.23" lengthAdjust="spacingAndGlyphs" >1.0</text>
<text x="159.01" y="362.80" font-size="10.4" font-weight="normal" font-style="normal" textLength="52.26" lengthAdjust="spacingAndGlyphs" >Delay [ns]</text>
<g transform="translate(7.9,0) rotate(-90)">
<text x="-345.98" y="0.00" font-size="10.4" font-weight="normal" font-style="normal" textLength="126.53" lengthAdjust="spacingAndGlyphs" >Coincidences [arb. units]</text>
</g>
<text x="136.54" y="209.70" font-size="12.4" font-weight="bold" font-style="normal" textLength="96.77" lengthAdjust="spacingAndGlyphs" >Resonance #1</text>
<text x="124.95" y="223.80" font-size="12.4" font-weight="normal" font-style="italic" textLength="8.78" lengthAdjust="spacingAndGlyphs" >V</text>
<text x="132.91" y="225.60" font-size="8.7" font-weight="normal" font-style="italic" textLength="13.69" lengthAdjust="spacingAndGlyphs" >TPI</text>
<text x="147.17" y="223.80" font-size="12.4" font-weight="normal" font-style="normal" textLength="9.84" lengthAdjust="spacingAndGlyphs" >=</text>
<text x="161.75" y="223.80" font-size="12.4" font-weight="normal" font-style="normal" textLength="86.78" lengthAdjust="spacingAndGlyphs" >0.581 ± 0.003</text>
<text x="19.61" y="217.50" font-size="14.5" font-weight="normal" font-style="normal" textLength="13.60" lengthAdjust="spacingAndGlyphs" >c)</text>
<rect x="176.81" y="277.51" width="16.78" height="59.79" fill="none" stroke="#000" stroke-opacity="0.5" stroke-width="1"/>
<path d="M176.81,337.3L106.7,260.1M193.59,337.3L264.3,260.1" stroke="#000" stroke-opacity="0.85" stroke-width="1" fill="none"/>
<clipPath id="iclipc"><rect x="106.7" y="233.5" width="157.6" height="26.6"/></clipPath>
<rect x="106.7" y="233.5" width="157.6" height="26.6" fill="#fff"/>
<path d="M132.97,233.5V260.1M185.5,233.5V260.1M238.03,233.5V260.1M106.7,248.01H264.3M106.7,235.92H264.3" stroke="#b0b0b0" stroke-width="0.8" fill="none"/>
<g clip-path="url(#iclipc)">
<path d="M106.7,259.35 L107.23,259.2 L107.75,259.85 L108.28,259.03 L108.8,259.2 L109.33,259.44 L109.85,259.01 L110.38,259.36 L110.9,259.57 L111.43,259.52 L111.95,259.27 L112.48,259.32 L113,259.21 L113.53,259.31 L114.05,259.05 L114.58,258.97 L115.11,259.39 L115.63,258.82 L116.16,259.35 L116.68,258.91 L117.21,258.86 L117.73,259.09 L118.26,259.19 L118.78,259.32 L119.31,258.51 L119.83,259.42 L120.36,259.03 L120.88,259 L121.41,258.67 L121.93,258.75 L122.46,258.98 L122.99,259.1 L123.51,258.33 L124.04,258.93 L124.56,259.08 L125.09,258.4 L125.61,258.9 L126.14,259.11 L126.66,258.63 L127.19,258.87 L127.71,259.36 L128.24,258.82 L128.76,258.61 L129.29,259.12 L129.81,258.71 L130.34,258.3 L130.87,258.73 L131.39,258.92 L131.92,258.82 L132.44,258.32 L132.97,258.68 L133.49,258.37 L134.02,258.51 L134.54,258.69 L135.07,258.15 L135.59,257.87 L136.12,258.68 L136.64,258.23 L137.17,258.19 L137.69,258.18 L138.22,258.19 L138.75,257.7 L139.27,257.38 L139.8,258.04 L140.32,258.1 L140.85,257.77 L141.37,258.22 L141.9,258.18 L142.42,257.75 L142.95,257.57 L143.47,257.77 L144,257.64 L144.52,258.47 L145.05,258.04 L145.57,257.73 L146.1,257.41 L146.63,257.95 L147.15,257.4 L147.68,257.52 L148.2,257.29 L148.73,257.48 L149.25,256.98 L149.78,257.49 L150.3,256.7 L150.83,257.28 L151.35,256.88 L151.88,257.37 L152.4,257.15 L152.93,256.69 L153.45,257.51 L153.98,256.6 L154.51,256.5 L155.03,255.22 L155.56,256.29 L156.08,255.5 L156.61,256.04 L157.13,256.08 L157.66,255.24 L158.18,255.35 L158.71,254.72 L159.23,255.65 L159.76,255.57 L160.28,254.32 L160.81,254.02 L161.33,253.82 L161.86,254.09 L162.39,253.29 L162.91,253.49 L163.44,253.45 L163.96,252.92 L164.49,253.36 L165.01,251.82 L165.54,251.48 L166.06,251.88 L166.59,251.84 L167.11,250.5 L167.64,249.68 L168.16,250.99 L168.69,249.53 L169.21,249.24 L169.74,247.67 L170.27,247.11 L170.79,248.21 L171.32,247.34 L171.84,247.51 L172.37,245.94 L172.89,245.25 L173.42,244.19 L173.94,245.53 L174.47,244.93 L174.99,243.17 L175.52,242.68 L176.04,242.77 L176.57,241.84 L177.09,241.03 L177.62,240.98 L178.15,239.31 L178.67,238.79 L179.2,239.22 L179.72,239.27 L180.25,239.6 L180.77,238.68 L181.3,238.42 L181.82,239.96 L182.35,237.7 L182.87,237.17 L183.4,237.25 L183.92,238.18 L184.45,238.02 L184.97,236.57 L185.5,236.29 L186.03,237.53 L186.55,238.03 L187.08,237.55 L187.6,237.2 L188.13,236.07 L188.65,237.05 L189.18,237.59 L189.7,238.54 L190.23,238.5 L190.75,239.51 L191.28,238.58 L191.8,239.47 L192.33,240.6 L192.85,240.35 L193.38,239.77 L193.91,241.79 L194.43,242.53 L194.96,242.53 L195.48,242.88 L196.01,243.15 L196.53,243.93 L197.06,243.93 L197.58,244.92 L198.11,245.24 L198.63,244.98 L199.16,247.2 L199.68,247.59 L200.21,247.44 L200.73,248.56 L201.26,248.85 L201.79,247.69 L202.31,249.95 L202.84,250.34 L203.36,250.06 L203.89,250.71 L204.41,252 L204.94,251.39 L205.46,251.25 L205.99,252.35 L206.51,252.39 L207.04,252.99 L207.56,253.68 L208.09,253.94 L208.61,253.55 L209.14,253.91 L209.67,255.06 L210.19,254.19 L210.72,254.67 L211.24,254.78 L211.77,254.81 L212.29,256.07 L212.82,255.73 L213.34,256.01 L213.87,256.2 L214.39,256.08 L214.92,256 L215.44,256.38 L215.97,255.66 L216.49,256.92 L217.02,255.61 L217.55,256.65 L218.07,256.15 L218.6,256.74 L219.12,257.27 L219.65,257.12 L220.17,257.32 L220.7,256.95 L221.22,257.17 L221.75,257.73 L222.27,256.6 L222.8,257.1 L223.32,258.05 L223.85,257.84 L224.37,257.74 L224.9,257.61 L225.43,257.64 L225.95,257.88 L226.48,257.24 L227,258.31 L227.53,257.7 L228.05,257.86 L228.58,257.54 L229.1,258.11 L229.63,258.05 L230.15,257.44 L230.68,258 L231.2,258.13 L231.73,258.21 L232.25,258.31 L232.78,258.63 L233.31,258.66 L233.83,258.44 L234.36,258.31 L234.88,258.09 L235.41,258.49 L235.93,258.53 L236.46,258.42 L236.98,258.63 L237.51,258.49 L238.03,258.18 L238.56,258.78 L239.08,258.93 L239.61,258.74 L240.13,258.61 L240.66,258.93 L241.19,258.45 L241.71,258.09 L242.24,258.4 L242.76,258.32 L243.29,258.29 L243.81,258.51 L244.34,258.72 L244.86,258.73 L245.39,259.23 L245.91,259.18 L246.44,259.03 L246.96,259.17 L247.49,259.09 L248.01,258.78 L248.54,258.95 L249.07,259.02 L249.59,258.42 L250.12,259.1 L250.64,259.02 L251.17,258.74 L251.69,259.08 L252.22,258.73 L252.74,259.25 L253.27,258.68 L253.79,258.97 L254.32,259.54 L254.84,259.14 L255.37,258.97 L255.89,259.23 L256.42,259.03 L256.95,259.27 L257.47,259.02 L258,259.23 L258.52,258.9 L259.05,259.05 L259.57,258.94 L260.1,258.97 L260.62,259.32 L261.15,259.29 L261.67,259.14 L262.2,258.94 L262.72,259.12 L263.25,259.58 L263.77,258.96 L264.3,259.18 L264.3,260.1 L106.7,260.1 Z" fill="#d62728" fill-opacity="0.3"/>
<path d="M106.7,259.57 L107.23,259.45 L107.75,259.27 L108.28,259.28 L108.8,258.92 L109.33,259.05 L109.85,259.23 L110.38,259.11 L110.9,259.25 L111.43,259.4 L111.95,259.15 L112.48,259.42 L113,259.07 L113.53,259.28 L114.05,259.24 L114.58,258.99 L115.11,259.19 L115.63,259.43 L116.16,259.4 L116.68,258.79 L117.21,259.08 L117.73,259.08 L118.26,259.13 L118.78,259.37 L119.31,259.09 L119.83,258.88 L120.36,259.11 L120.88,258.97 L121.41,259.11 L121.93,258.98 L122.46,258.57 L122.99,258.85 L123.51,258.43 L124.04,259.19 L124.56,259.51 L125.09,258.77 L125.61,259.04 L126.14,258.98 L126.66,258.82 L127.19,258.71 L127.71,258.9 L128.24,258.77 L128.76,258.35 L129.29,258.18 L129.81,258.73 L130.34,259.23 L130.87,259.19 L131.39,258.8 L131.92,258.57 L132.44,258.87 L132.97,258.55 L133.49,258.24 L134.02,258.43 L134.54,258.01 L135.07,258.51 L135.59,258.4 L136.12,258.67 L136.64,258.28 L137.17,258.13 L137.69,258.42 L138.22,258.39 L138.75,258.12 L139.27,258.26 L139.8,258.54 L140.32,257.62 L140.85,258.23 L141.37,258.21 L141.9,258.22 L142.42,258.1 L142.95,258.37 L143.47,258.36 L144,258.3 L144.52,257.54 L145.05,257.74 L145.57,257.75 L146.1,257.6 L146.63,257.81 L147.15,257.38 L147.68,257.59 L148.2,257.97 L148.73,258.51 L149.25,257.6 L149.78,257.53 L150.3,257.52 L150.83,257.14 L151.35,257.6 L151.88,257.29 L152.4,257.34 L152.93,257.07 L153.45,257.11 L153.98,257.41 L154.51,257.31 L155.03,256.84 L155.56,257.12 L156.08,257.47 L156.61,256.82 L157.13,257.21 L157.66,257.25 L158.18,256.8 L158.71,256.78 L159.23,256.37 L159.76,257.06 L160.28,256.85 L160.81,256.21 L161.33,255.71 L161.86,256.42 L162.39,256.42 L162.91,256.36 L163.44,256.5 L163.96,256.47 L164.49,255.89 L165.01,255.96 L165.54,256.55 L166.06,255.64 L166.59,256.05 L167.11,256.36 L167.64,255.95 L168.16,255.15 L168.69,255.82 L169.21,255.57 L169.74,255.22 L170.27,255.63 L170.79,256 L171.32,255.35 L171.84,255.29 L172.37,255.48 L172.89,255.33 L173.42,255.77 L173.94,255.5 L174.47,255.18 L174.99,256 L175.52,253.8 L176.04,254.94 L176.57,255.28 L177.09,255.38 L177.62,255.24 L178.15,255.14 L178.67,254.67 L179.2,254.7 L179.72,254.48 L180.25,254.65 L180.77,254.88 L181.3,254.78 L181.82,255.37 L182.35,254.12 L182.87,254.54 L183.4,254.98 L183.92,254.36 L184.45,253.79 L184.97,254.59 L185.5,254.21 L186.03,254.1 L186.55,253.68 L187.08,254.2 L187.6,254.06 L188.13,254.55 L188.65,254.19 L189.18,254.69 L189.7,254.55 L190.23,255.27 L190.75,254.62 L191.28,254.96 L191.8,254.92 L192.33,254.92 L192.85,255.11 L193.38,254.62 L193.91,255.32 L194.43,254.29 L194.96,254.68 L195.48,255.6 L196.01,256.07 L196.53,254.93 L197.06,255.54 L197.58,255.49 L198.11,254.73 L198.63,255.13 L199.16,255.95 L199.68,255.37 L200.21,256 L200.73,255.13 L201.26,256.31 L201.79,256.35 L202.31,255.74 L202.84,255.61 L203.36,256.39 L203.89,255.75 L204.41,255.69 L204.94,255.97 L205.46,256.17 L205.99,255.97 L206.51,256.49 L207.04,256.04 L207.56,255.77 L208.09,256.14 L208.61,256.75 L209.14,256.67 L209.67,256.77 L210.19,256.77 L210.72,255.68 L211.24,256.44 L211.77,256.75 L212.29,256.9 L212.82,257.1 L213.34,257.15 L213.87,256.64 L214.39,257.31 L214.92,256.81 L215.44,256.87 L215.97,257.48 L216.49,257.25 L217.02,256.75 L217.55,257.28 L218.07,257.25 L218.6,256.87 L219.12,257.09 L219.65,257.2 L220.17,257.56 L220.7,258.07 L221.22,257.73 L221.75,257.56 L222.27,258.08 L222.8,257.18 L223.32,257.86 L223.85,258.03 L224.37,258.16 L224.9,257.38 L225.43,257.61 L225.95,258.12 L226.48,257.66 L227,257.95 L227.53,257.86 L228.05,257.99 L228.58,258 L229.1,258.29 L229.63,257.99 L230.15,258 L230.68,258.48 L231.2,257.8 L231.73,258.1 L232.25,257.92 L232.78,258.14 L233.31,258.49 L233.83,258.54 L234.36,258.22 L234.88,258.37 L235.41,258.24 L235.93,258.36 L236.46,258.41 L236.98,258.33 L237.51,258.4 L238.03,259.48 L238.56,257.84 L239.08,258.93 L239.61,258.76 L240.13,258.64 L240.66,258.76 L241.19,259.15 L241.71,258.7 L242.24,258.59 L242.76,258.49 L243.29,258.83 L243.81,258.58 L244.34,258.59 L244.86,258.81 L245.39,259 L245.91,258.1 L246.44,259.05 L246.96,258.61 L247.49,258.33 L248.01,259.04 L248.54,259.12 L249.07,258.89 L249.59,258.72 L250.12,259.17 L250.64,258.89 L251.17,259.11 L251.69,259.21 L252.22,259.05 L252.74,259.45 L253.27,258.77 L253.79,259.43 L254.32,258.88 L254.84,259.15 L255.37,259.15 L255.89,258.99 L256.42,259.63 L256.95,259.27 L257.47,259.34 L258,259.17 L258.52,259.32 L259.05,258.85 L259.57,259.37 L260.1,259.45 L260.62,259.3 L261.15,259.66 L261.67,259.46 L262.2,259.2 L262.72,258.97 L263.25,259.22 L263.77,259.56 L264.3,259.72 L264.3,260.1 L106.7,260.1 Z" fill="#7dc832" fill-opacity="0.3"/>
<path d="M106.7,259.35 L107.23,259.2 L107.75,259.85 L108.28,259.03 L108.8,259.2 L109.33,259.44 L109.85,259.01 L110.38,259.36 L110.9,259.57 L111.43,259.52 L111.95,259.27 L112.48,259.32 L113,259.21 L113.53,259.31 L114.05,259.05 L114.58,258.97 L115.11,259.39 L115.63,258.82 L116.16,259.35 L116.68,258.91 L117.21,258.86 L117.73,259.09 L118.26,259.19 L118.78,259.32 L119.31,258.51 L119.83,259.42 L120.36,259.03 L120.88,259 L121.41,258.67 L121.93,258.75 L122.46,258.98 L122.99,259.1 L123.51,258.33 L124.04,258.93 L124.56,259.08 L125.09,258.4 L125.61,258.9 L126.14,259.11 L126.66,258.63 L127.19,258.87 L127.71,259.36 L128.24,258.82 L128.76,258.61 L129.29,259.12 L129.81,258.71 L130.34,258.3 L130.87,258.73 L131.39,258.92 L131.92,258.82 L132.44,258.32 L132.97,258.68 L133.49,258.37 L134.02,258.51 L134.54,258.69 L135.07,258.15 L135.59,257.87 L136.12,258.68 L136.64,258.23 L137.17,258.19 L137.69,258.18 L138.22,258.19 L138.75,257.7 L139.27,257.38 L139.8,258.04 L140.32,258.1 L140.85,257.77 L141.37,258.22 L141.9,258.18 L142.42,257.75 L142.95,257.57 L143.47,257.77 L144,257.64 L144.52,258.47 L145.05,258.04 L145.57,257.73 L146.1,257.41 L146.63,257.95 L147.15,257.4 L147.68,257.52 L148.2,257.29 L148.73,257.48 L149.25,256.98 L149.78,257.49 L150.3,256.7 L150.83,257.28 L151.35,256.88 L151.88,257.37 L152.4,257.15 L152.93,256.69 L153.45,257.51 L153.98,256.6 L154.51,256.5 L155.03,255.22 L155.56,256.29 L156.08,255.5 L156.61,256.04 L157.13,256.08 L157.66,255.24 L158.18,255.35 L158.71,254.72 L159.23,255.65 L159.76,255.57 L160.28,254.32 L160.81,254.02 L161.33,253.82 L161.86,254.09 L162.39,253.29 L162.91,253.49 L163.44,253.45 L163.96,252.92 L164.49,253.36 L165.01,251.82 L165.54,251.48 L166.06,251.88 L166.59,251.84 L167.11,250.5 L167.64,249.68 L168.16,250.99 L168.69,249.53 L169.21,249.24 L169.74,247.67 L170.27,247.11 L170.79,248.21 L171.32,247.34 L171.84,247.51 L172.37,245.94 L172.89,245.25 L173.42,244.19 L173.94,245.53 L174.47,244.93 L174.99,243.17 L175.52,242.68 L176.04,242.77 L176.57,241.84 L177.09,241.03 L177.62,240.98 L178.15,239.31 L178.67,238.79 L179.2,239.22 L179.72,239.27 L180.25,239.6 L180.77,238.68 L181.3,238.42 L181.82,239.96 L182.35,237.7 L182.87,237.17 L183.4,237.25 L183.92,238.18 L184.45,238.02 L184.97,236.57 L185.5,236.29 L186.03,237.53 L186.55,238.03 L187.08,237.55 L187.6,237.2 L188.13,236.07 L188.65,237.05 L189.18,237.59 L189.7,238.54 L190.23,238.5 L190.75,239.51 L191.28,238.58 L191.8,239.47 L192.33,240.6 L192.85,240.35 L193.38,239.77 L193.91,241.79 L194.43,242.53 L194.96,242.53 L195.48,242.88 L196.01,243.15 L196.53,243.93 L197.06,243.93 L197.58,244.92 L198.11,245.24 L198.63,244.98 L199.16,247.2 L199.68,247.59 L200.21,247.44 L200.73,248.56 L201.26,248.85 L201.79,247.69 L202.31,249.95 L202.84,250.34 L203.36,250.06 L203.89,250.71 L204.41,252 L204.94,251.39 L205.46,251.25 L205.99,252.35 L206.51,252.39 L207.04,252.99 L207.56,253.68 L208.09,253.94 L208.61,253.55 L209.14,253.91 L209.67,255.06 L210.19,254.19 L210.72,254.67 L211.24,254.78 L211.77,254.81 L212.29,256.07 L212.82,255.73 L213.34,256.01 L213.87,256.2 L214.39,256.08 L214.92,256 L215.44,256.38 L215.97,255.66 L216.49,256.92 L217.02,255.61 L217.55,256.65 L218.07,256.15 L218.6,256.74 L219.12,257.27 L219.65,257.12 L220.17,257.32 L220.7,256.95 L221.22,257.17 L221.75,257.73 L222.27,256.6 L222.8,257.1 L223.32,258.05 L223.85,257.84 L224.37,257.74 L224.9,257.61 L225.43,257.64 L225.95,257.88 L226.48,257.24 L227,258.31 L227.53,257.7 L228.05,257.86 L228.58,257.54 L229.1,258.11 L229.63,258.05 L230.15,257.44 L230.68,258 L231.2,258.13 L231.73,258.21 L232.25,258.31 L232.78,258.63 L233.31,258.66 L233.83,258.44 L234.36,258.31 L234.88,258.09 L235.41,258.49 L235.93,258.53 L236.46,258.42 L236.98,258.63 L237.51,258.49 L238.03,258.18 L238.56,258.78 L239.08,258.93 L239.61,258.74 L240.13,258.61 L240.66,258.93 L241.19,258.45 L241.71,258.09 L242.24,258.4 L242.76,258.32 L243.29,258.29 L243.81,258.51 L244.34,258.72 L244.86,258.73 L245.39,259.23 L245.91,259.18 L246.44,259.03 L246.96,259.17 L247.49,259.09 L248.01,258.78 L248.54,258.95 L249.07,259.02 L249.59,258.42 L250.12,259.1 L250.64,259.02 L251.17,258.74 L251.69,259.08 L252.22,258.73 L252.74,259.25 L253.27,258.68 L253.79,258.97 L254.32,259.54 L254.84,259.14 L255.37,258.97 L255.89,259.23 L256.42,259.03 L256.95,259.27 L257.47,259.02 L258,259.23 L258.52,258.9 L259.05,259.05 L259.57,258.94 L260.1,258.97 L260.62,259.32 L261.15,259.29 L261.67,259.14 L262.2,258.94 L262.72,259.12 L263.25,259.58 L263.77,258.96 L264.3,259.18" fill="none" stroke="#1f77b4" stroke-width="1.5" stroke-linejoin="round"/>
<path d="M106.7,259.57 L107.23,259.45 L107.75,259.27 L108.28,259.28 L108.8,258.92 L109.33,259.05 L109.85,259.23 L110.38,259.11 L110.9,259.25 L111.43,259.4 L111.95,259.15 L112.48,259.42 L113,259.07 L113.53,259.28 L114.05,259.24 L114.58,258.99 L115.11,259.19 L115.63,259.43 L116.16,259.4 L116.68,258.79 L117.21,259.08 L117.73,259.08 L118.26,259.13 L118.78,259.37 L119.31,259.09 L119.83,258.88 L120.36,259.11 L120.88,258.97 L121.41,259.11 L121.93,258.98 L122.46,258.57 L122.99,258.85 L123.51,258.43 L124.04,259.19 L124.56,259.51 L125.09,258.77 L125.61,259.04 L126.14,258.98 L126.66,258.82 L127.19,258.71 L127.71,258.9 L128.24,258.77 L128.76,258.35 L129.29,258.18 L129.81,258.73 L130.34,259.23 L130.87,259.19 L131.39,258.8 L131.92,258.57 L132.44,258.87 L132.97,258.55 L133.49,258.24 L134.02,258.43 L134.54,258.01 L135.07,258.51 L135.59,258.4 L136.12,258.67 L136.64,258.28 L137.17,258.13 L137.69,258.42 L138.22,258.39 L138.75,258.12 L139.27,258.26 L139.8,258.54 L140.32,257.62 L140.85,258.23 L141.37,258.21 L141.9,258.22 L142.42,258.1 L142.95,258.37 L143.47,258.36 L144,258.3 L144.52,257.54 L145.05,257.74 L145.57,257.75 L146.1,257.6 L146.63,257.81 L147.15,257.38 L147.68,257.59 L148.2,257.97 L148.73,258.51 L149.25,257.6 L149.78,257.53 L150.3,257.52 L150.83,257.14 L151.35,257.6 L151.88,257.29 L152.4,257.34 L152.93,257.07 L153.45,257.11 L153.98,257.41 L154.51,257.31 L155.03,256.84 L155.56,257.12 L156.08,257.47 L156.61,256.82 L157.13,257.21 L157.66,257.25 L158.18,256.8 L158.71,256.78 L159.23,256.37 L159.76,257.06 L160.28,256.85 L160.81,256.21 L161.33,255.71 L161.86,256.42 L162.39,256.42 L162.91,256.36 L163.44,256.5 L163.96,256.47 L164.49,255.89 L165.01,255.96 L165.54,256.55 L166.06,255.64 L166.59,256.05 L167.11,256.36 L167.64,255.95 L168.16,255.15 L168.69,255.82 L169.21,255.57 L169.74,255.22 L170.27,255.63 L170.79,256 L171.32,255.35 L171.84,255.29 L172.37,255.48 L172.89,255.33 L173.42,255.77 L173.94,255.5 L174.47,255.18 L174.99,256 L175.52,253.8 L176.04,254.94 L176.57,255.28 L177.09,255.38 L177.62,255.24 L178.15,255.14 L178.67,254.67 L179.2,254.7 L179.72,254.48 L180.25,254.65 L180.77,254.88 L181.3,254.78 L181.82,255.37 L182.35,254.12 L182.87,254.54 L183.4,254.98 L183.92,254.36 L184.45,253.79 L184.97,254.59 L185.5,254.21 L186.03,254.1 L186.55,253.68 L187.08,254.2 L187.6,254.06 L188.13,254.55 L188.65,254.19 L189.18,254.69 L189.7,254.55 L190.23,255.27 L190.75,254.62 L191.28,254.96 L191.8,254.92 L192.33,254.92 L192.85,255.11 L193.38,254.62 L193.91,255.32 L194.43,254.29 L194.96,254.68 L195.48,255.6 L196.01,256.07 L196.53,254.93 L197.06,255.54 L197.58,255.49 L198.11,254.73 L198.63,255.13 L199.16,255.95 L199.68,255.37 L200.21,256 L200.73,255.13 L201.26,256.31 L201.79,256.35 L202.31,255.74 L202.84,255.61 L203.36,256.39 L203.89,255.75 L204.41,255.69 L204.94,255.97 L205.46,256.17 L205.99,255.97 L206.51,256.49 L207.04,256.04 L207.56,255.77 L208.09,256.14 L208.61,256.75 L209.14,256.67 L209.67,256.77 L210.19,256.77 L210.72,255.68 L211.24,256.44 L211.77,256.75 L212.29,256.9 L212.82,257.1 L213.34,257.15 L213.87,256.64 L214.39,257.31 L214.92,256.81 L215.44,256.87 L215.97,257.48 L216.49,257.25 L217.02,256.75 L217.55,257.28 L218.07,257.25 L218.6,256.87 L219.12,257.09 L219.65,257.2 L220.17,257.56 L220.7,258.07 L221.22,257.73 L221.75,257.56 L222.27,258.08 L222.8,257.18 L223.32,257.86 L223.85,258.03 L224.37,258.16 L224.9,257.38 L225.43,257.61 L225.95,258.12 L226.48,257.66 L227,257.95 L227.53,257.86 L228.05,257.99 L228.58,258 L229.1,258.29 L229.63,257.99 L230.15,258 L230.68,258.48 L231.2,257.8 L231.73,258.1 L232.25,257.92 L232.78,258.14 L233.31,258.49 L233.83,258.54 L234.36,258.22 L234.88,258.37 L235.41,258.24 L235.93,258.36 L236.46,258.41 L236.98,258.33 L237.51,258.4 L238.03,259.48 L238.56,257.84 L239.08,258.93 L239.61,258.76 L240.13,258.64 L240.66,258.76 L241.19,259.15 L241.71,258.7 L242.24,258.59 L242.76,258.49 L243.29,258.83 L243.81,258.58 L244.34,258.59 L244.86,258.81 L245.39,259 L245.91,258.1 L246.44,259.05 L246.96,258.61 L247.49,258.33 L248.01,259.04 L248.54,259.12 L249.07,258.89 L249.59,258.72 L250.12,259.17 L250.64,258.89 L251.17,259.11 L251.69,259.21 L252.22,259.05 L252.74,259.45 L253.27,258.77 L253.79,259.43 L254.32,258.88 L254.84,259.15 L255.37,259.15 L255.89,258.99 L256.42,259.63 L256.95,259.27 L257.47,259.34 L258,259.17 L258.52,259.32 L259.05,258.85 L259.57,259.37 L260.1,259.45 L260.62,259.3 L261.15,259.66 L261.67,259.46 L262.2,259.2 L262.72,258.97 L263.25,259.22 L263.77,259.56 L264.3,259.72" fill="none" stroke="#2ca02c" stroke-width="1.6" stroke-linejoin="round"/>
</g>
<rect x="106.7" y="233.5" width="157.6" height="26.6" fill="none" stroke="#333" stroke-width="0.85"/>
<path d="M132.97,260.1v3.5M185.5,260.1v3.5M238.03,260.1v3.5M106.7,248.01h-3.5M106.7,235.92h-3.5" stroke="#333" stroke-width="0.85" fill="none"/>
<text x="125.59" y="272.70" font-size="10.4" font-weight="normal" font-style="normal" textLength="14.76" lengthAdjust="spacingAndGlyphs" >−1</text>
<text x="182.19" y="272.70" font-size="10.4" font-weight="normal" font-style="normal" textLength="6.62" lengthAdjust="spacingAndGlyphs" >0</text>
<text x="234.66" y="272.70" font-size="10.4" font-weight="normal" font-style="normal" textLength="6.43" lengthAdjust="spacingAndGlyphs" >1</text>
<text x="79.11" y="252.06" font-size="10.4" font-weight="normal" font-style="normal" textLength="22.48" lengthAdjust="spacingAndGlyphs" >0.25</text>
<text x="78.90" y="239.97" font-size="10.4" font-weight="normal" font-style="normal" textLength="22.66" lengthAdjust="spacingAndGlyphs" >0.50</text>
<clipPath id="clipd"><rect x="382.2" y="228.6" width="302.0" height="108.7"/></clipPath>
<path d="M421.35,228.6V337.3M477.27,228.6V337.3M533.2,228.6V337.3M589.13,228.6V337.3M645.05,228.6V337.3M382.2,315.56H684.2M382.2,293.82H684.2M382.2,272.08H684.2M382.2,250.34H684.2" stroke="#b0b0b0" stroke-width="0.8" fill="none"/>
<g clip-path="url(#clipd)">
<path d="M524.81,337.12 L524.87,335.37 L524.92,335.45 L524.98,337.17 L525.03,336.33 L525.09,336.71 L525.15,336.48 L525.2,336.52 L525.26,336.25 L525.31,336.2 L525.37,336.15 L525.43,335.63 L525.48,336.58 L525.54,337.21 L525.59,335.9 L525.65,336.19 L525.71,335.92 L525.76,336.66 L525.82,336.49 L525.87,335.7 L525.93,336.67 L525.99,336.19 L526.04,335.65 L526.1,336.4 L526.15,336.61 L526.21,335.04 L526.27,336.32 L526.32,335.99 L526.38,336.23 L526.43,336.46 L526.49,335.73 L526.54,336.12 L526.6,336.53 L526.66,335.5 L526.71,336.73 L526.77,336.42 L526.82,336.14 L526.88,334.92 L526.94,335.38 L526.99,335.45 L527.05,335.42 L527.1,335.6 L527.16,336.06 L527.22,336.17 L527.27,336.92 L527.33,336.57 L527.38,335.89 L527.44,335.9 L527.5,335.19 L527.55,336.01 L527.61,336.7 L527.66,334.52 L527.72,335.79 L527.78,336.88 L527.83,334.22 L527.89,336.15 L527.94,334.85 L528,336.64 L528.05,335.68 L528.11,335.61 L528.17,335.38 L528.22,336.71 L528.28,334.48 L528.33,334.99 L528.39,335.46 L528.45,335.36 L528.5,335.9 L528.56,335.75 L528.61,335.03 L528.67,334.53 L528.73,335.02 L528.78,335.11 L528.84,333.69 L528.89,336.31 L528.95,336.7 L529.01,334.45 L529.06,334.52 L529.12,335.31 L529.17,334.03 L529.23,333.71 L529.29,333.29 L529.34,334.26 L529.4,333.02 L529.45,333.37 L529.51,333.93 L529.56,333.65 L529.62,335.15 L529.68,331.91 L529.73,332.69 L529.79,334.11 L529.84,331.65 L529.9,334.86 L529.96,331.27 L530.01,332.15 L530.07,332.79 L530.12,333.46 L530.18,331.09 L530.24,330.53 L530.29,332.03 L530.35,330.67 L530.4,328.61 L530.46,332.5 L530.52,328.92 L530.57,331.27 L530.63,328.3 L530.68,327.31 L530.74,328.78 L530.8,326.57 L530.85,323.53 L530.91,329.55 L530.96,322.95 L531.02,325.47 L531.07,325.77 L531.13,324.69 L531.19,322.05 L531.24,318.71 L531.3,320.7 L531.35,319.52 L531.41,320.81 L531.47,321.26 L531.52,315.44 L531.58,317.16 L531.63,321.42 L531.69,313.65 L531.75,314.37 L531.8,314.02 L531.86,312.92 L531.91,306.31 L531.97,310.61 L532.03,305.13 L532.08,307.1 L532.14,307.86 L532.19,298.56 L532.25,299.48 L532.31,295.56 L532.36,298.96 L532.42,295.55 L532.47,289.8 L532.53,297.25 L532.58,291.41 L532.64,293 L532.7,290.56 L532.75,295.4 L532.81,292.41 L532.86,297.23 L532.92,288.91 L532.98,288.1 L533.03,291.49 L533.09,283.21 L533.14,286.69 L533.2,287.59 L533.26,292.58 L533.31,288.92 L533.37,285.36 L533.42,292.42 L533.48,292.88 L533.54,291.29 L533.59,291.67 L533.65,289.96 L533.7,292.14 L533.76,297.66 L533.82,292.28 L533.87,295.31 L533.93,295.13 L533.98,301.88 L534.04,300.48 L534.09,300.6 L534.15,300.46 L534.21,302.59 L534.26,308.36 L534.32,301.58 L534.37,307.88 L534.43,308.62 L534.49,305.67 L534.54,311.8 L534.6,312.32 L534.65,311.61 L534.71,313.24 L534.77,318.8 L534.82,316.8 L534.88,314.49 L534.93,310.3 L534.99,321.49 L535.05,317.67 L535.1,319.81 L535.16,321.5 L535.21,320.98 L535.27,325.75 L535.33,325.15 L535.38,326.69 L535.44,325.02 L535.49,324.76 L535.55,327.6 L535.6,327.23 L535.66,326.7 L535.72,329.34 L535.77,330.13 L535.83,333.63 L535.88,331.48 L535.94,330.08 L536,331.58 L536.05,332.21 L536.11,329.29 L536.16,331.11 L536.22,330.63 L536.28,330.65 L536.33,331.78 L536.39,331.21 L536.44,333.78 L536.5,331.47 L536.56,333.21 L536.61,334.24 L536.67,335.56 L536.72,331.9 L536.78,334.9 L536.84,332.48 L536.89,334.52 L536.95,333.46 L537,332.64 L537.06,333.81 L537.11,334.95 L537.17,334.22 L537.23,334.31 L537.28,335.22 L537.34,334.57 L537.39,335.31 L537.45,334.67 L537.51,334.02 L537.56,333.6 L537.62,335.35 L537.67,334.81 L537.73,334.03 L537.79,333.77 L537.84,334.37 L537.9,333.72 L537.95,334.31 L538.01,335.99 L538.07,335.59 L538.12,333.53 L538.18,335.38 L538.23,335.07 L538.29,335.94 L538.35,335.61 L538.4,335.25 L538.46,335.85 L538.51,333.7 L538.57,335.73 L538.62,334.36 L538.68,336.19 L538.74,336.24 L538.79,336.74 L538.85,335.9 L538.9,335.68 L538.96,336.6 L539.02,336.44 L539.07,334.36 L539.13,335.55 L539.18,335.74 L539.24,335.94 L539.3,335.39 L539.35,336.52 L539.41,336.38 L539.46,336.44 L539.52,336.74 L539.58,336.35 L539.63,335.23 L539.69,336.03 L539.74,335.5 L539.8,336.62 L539.86,335.37 L539.91,335.82 L539.97,335.94 L540.02,336.58 L540.08,337.21 L540.13,336 L540.19,336.5 L540.25,336.57 L540.3,336.26 L540.36,336.61 L540.41,335.18 L540.47,336.19 L540.53,336.39 L540.58,336.01 L540.64,335.74 L540.69,336.72 L540.75,336.35 L540.81,336.35 L540.86,335.77 L540.92,336.33 L540.97,336.71 L541.03,336.04 L541.09,336.2 L541.14,336.21 L541.2,336.32 L541.25,337.03 L541.31,336.45 L541.37,336.56 L541.42,336.64 L541.48,336.39 L541.53,336.78 L541.59,336.54 L541.59,337.3 L524.81,337.3 Z" fill="#d62728" fill-opacity="0.3"/>
<path d="M524.81,336.25 L524.87,337.3 L524.92,336.54 L524.98,336.08 L525.03,336.13 L525.09,337.3 L525.15,336.2 L525.2,336.16 L525.26,336.1 L525.31,335.48 L525.37,335.85 L525.43,336.09 L525.48,335.43 L525.54,335.68 L525.59,336.19 L525.65,337.17 L525.71,336.44 L525.76,336.17 L525.82,336.15 L525.87,336.26 L525.93,336.65 L525.99,335.88 L526.04,335.87 L526.1,336.52 L526.15,336.16 L526.21,336.4 L526.27,336.72 L526.32,335.78 L526.38,336.01 L526.43,336.39 L526.49,336.49 L526.54,336.12 L526.6,336.25 L526.66,336.14 L526.71,336.1 L526.77,336.46 L526.82,336.11 L526.88,336.38 L526.94,336.3 L526.99,336.3 L527.05,336.65 L527.1,337.18 L527.16,336.42 L527.22,336.06 L527.27,336 L527.33,336.26 L527.38,336.13 L527.44,336.51 L527.5,335.83 L527.55,335.95 L527.61,336.57 L527.66,336.28 L527.72,335.86 L527.78,336.03 L527.83,336.43 L527.89,336.52 L527.94,335.66 L528,336.3 L528.05,336.01 L528.11,335.77 L528.17,336.4 L528.22,335.51 L528.28,336.83 L528.33,336.06 L528.39,336.3 L528.45,336.1 L528.5,336.55 L528.56,336.28 L528.61,336.15 L528.67,335.69 L528.73,335.21 L528.78,335.64 L528.84,335.9 L528.89,336.11 L528.95,334.76 L529.01,336.65 L529.06,335.3 L529.12,335.69 L529.17,335.47 L529.23,335.59 L529.29,335.6 L529.34,336.06 L529.4,336.64 L529.45,335.81 L529.51,335.95 L529.56,334.7 L529.62,335.98 L529.68,335.25 L529.73,335.65 L529.79,335.38 L529.84,335.08 L529.9,334.96 L529.96,334.8 L530.01,335.36 L530.07,334.65 L530.12,333.97 L530.18,335.07 L530.24,335.41 L530.29,334.71 L530.35,334.17 L530.4,335.77 L530.46,334.1 L530.52,334.83 L530.57,335.36 L530.63,335.37 L530.68,333.91 L530.74,335.58 L530.8,334.23 L530.85,334.9 L530.91,335.02 L530.96,334.16 L531.02,333.73 L531.07,334.16 L531.13,334.69 L531.19,334.63 L531.24,334.87 L531.3,334.39 L531.35,334.31 L531.41,334.18 L531.47,334.23 L531.52,333.93 L531.58,334.1 L531.63,333.74 L531.69,333.61 L531.75,333.31 L531.8,334.39 L531.86,334.54 L531.91,333.22 L531.97,334.5 L532.03,333.81 L532.08,332.94 L532.14,333.32 L532.19,334.15 L532.25,333.42 L532.31,333.42 L532.36,333.09 L532.42,333.87 L532.47,332.74 L532.53,331.59 L532.58,332.26 L532.64,334.39 L532.7,333.41 L532.75,332.96 L532.81,331.88 L532.86,332.24 L532.92,333.25 L532.98,332.78 L533.03,332.8 L533.09,333 L533.14,332.6 L533.2,333.53 L533.26,332.97 L533.31,331.49 L533.37,333.4 L533.42,332.7 L533.48,333.2 L533.54,332.05 L533.59,332.55 L533.65,333.08 L533.7,333.56 L533.76,332.31 L533.82,332.34 L533.87,334.38 L533.93,334.11 L533.98,333.15 L534.04,332.59 L534.09,331.73 L534.15,332.74 L534.21,334.16 L534.26,331.99 L534.32,333.47 L534.37,333.36 L534.43,333.59 L534.49,333.9 L534.54,333.44 L534.6,334.29 L534.65,332.64 L534.71,334.26 L534.77,333.15 L534.82,333.71 L534.88,333.27 L534.93,333.53 L534.99,333.53 L535.05,334.1 L535.1,332.43 L535.16,333.63 L535.21,333.65 L535.27,335.02 L535.33,334.21 L535.38,335.33 L535.44,334.72 L535.49,334.6 L535.55,334.73 L535.6,335.01 L535.66,335.1 L535.72,334.35 L535.77,334.35 L535.83,335.7 L535.88,335.76 L535.94,335.27 L536,334.76 L536.05,334.64 L536.11,333.63 L536.16,334.97 L536.22,335.15 L536.28,335.17 L536.33,335.48 L536.39,335.48 L536.44,334.95 L536.5,335.14 L536.56,336.1 L536.61,335.2 L536.67,335.14 L536.72,336.55 L536.78,334.97 L536.84,335.12 L536.89,335.07 L536.95,336.28 L537,334.25 L537.06,335.51 L537.11,336.16 L537.17,335.47 L537.23,335.75 L537.28,335.88 L537.34,336.37 L537.39,335.43 L537.45,336.47 L537.51,335.05 L537.56,335.36 L537.62,336.46 L537.67,335.72 L537.73,336.29 L537.79,335.83 L537.84,336.17 L537.9,334.93 L537.95,335.14 L538.01,335.34 L538.07,336.14 L538.12,336.5 L538.18,335.87 L538.23,336.24 L538.29,337.24 L538.35,335.68 L538.4,336.69 L538.46,336.33 L538.51,336.2 L538.57,336.13 L538.62,336.62 L538.68,335.52 L538.74,336.33 L538.79,335.89 L538.85,336.35 L538.9,336.03 L538.96,336.23 L539.02,336.03 L539.07,335.33 L539.13,336.08 L539.18,336.2 L539.24,336.39 L539.3,335.77 L539.35,336.42 L539.41,336.25 L539.46,335.8 L539.52,336.12 L539.58,335.83 L539.63,336.63 L539.69,336.1 L539.74,335.4 L539.8,336.75 L539.86,335.85 L539.91,336.49 L539.97,336.01 L540.02,335.5 L540.08,335.71 L540.13,336.79 L540.19,336.52 L540.25,336.52 L540.3,335.69 L540.36,336.22 L540.41,336.29 L540.47,336.5 L540.53,336.17 L540.58,336.29 L540.64,336.27 L540.69,337.08 L540.75,336.42 L540.81,336.67 L540.86,336.6 L540.92,335.74 L540.97,335.86 L541.03,336.46 L541.09,336.26 L541.14,336.05 L541.2,335.82 L541.25,336.4 L541.31,336.73 L541.37,336.23 L541.42,336.54 L541.48,336.85 L541.53,336.9 L541.59,336.65 L541.59,337.3 L524.81,337.3 Z" fill="#7dc832" fill-opacity="0.3"/>
<path d="M382.2,336.7 L383.0,337.0 L383.0,335.7 L383.2,336.4 L383.2,336.2 L383.6,335.8 L383.7,336.9 L384.2,336.8 L384.2,336.6 L384.4,335.6 L385.1,337.1 L385.2,336.7 L385.2,336.4 L385.7,336.9 L386.2,336.4 L386.2,336.4 L386.3,337.1 L387.2,336.3 L387.2,336.3 L387.3,336.5 L388.2,335.7 L388.2,335.7 L388.4,335.7 L389.2,333.4 L389.2,333.2 L389.3,333.8 L390.2,325.6 L390.3,324.9 L391.1,307.5 L391.2,307.1 L392.2,270.7 L392.2,268.8 L393.2,231.7 L393.2,231.3 L393.4,227.7 L394.2,254.7 L394.2,259.2 L394.3,258.4 L395.2,294.1 L395.2,294.9 L396.2,319.7 L396.2,324.4 L396.3,323.1 L397.2,331.3 L397.2,331.7 L398.0,336.4 L398.2,335.3 L398.3,335.3 L399.1,336.7 L399.1,336.4 L399.2,337.0 L399.3,336.2 L400.2,336.6 L400.2,336.4 L400.5,337.2 L401.2,336.4 L401.2,336.4 L401.8,336.2 L402.1,337.2 L402.2,336.4 L402.2,336.1 L403.0,335.4 L403.1,337.1 L403.2,336.4 L403.2,336.3 L403.5,336.7 L403.5,335.8 L404.2,336.0 L404.2,336.5 L404.6,335.8 L405.0,337.2 L405.2,336.2 L405.2,336.7 L405.5,337.0 L406.0,335.8 L406.2,336.4 L406.2,336.7 L406.8,336.8 L406.9,335.4 L407.2,336.4 L407.3,336.8 L407.4,336.8 L407.8,335.6 L408.1,336.0 L408.2,336.8 L408.3,335.7 L408.3,337.0 L409.2,336.6 L409.2,336.4 L409.7,335.5 L409.9,336.8 L410.2,336.3 L410.2,336.3 L410.4,336.8 L410.7,335.7 L411.2,336.3 L411.2,336.3 L411.6,336.8 L411.9,335.7 L412.2,336.2 L412.2,336.2 L412.5,336.9 L412.8,335.7 L413.2,336.2 L413.2,336.6 L413.4,337.3 L414.2,335.8 L414.2,336.4 L414.5,336.8 L415.0,335.5 L415.2,336.4 L415.3,336.3 L415.4,335.7 L415.5,337.0 L416.1,335.8 L416.2,335.9 L416.8,336.7 L417.2,336.6 L417.2,336.1 L417.7,335.8 L418.0,336.9 L418.2,336.3 L418.2,336.5 L418.9,335.8 L419.0,336.9 L419.2,336.8 L419.2,336.0 L419.6,337.1 L419.6,335.6 L420.2,336.2 L420.2,336.5 L420.3,335.6 L420.8,337.3 L421.2,336.8 L421.2,335.9 L421.3,335.8 L421.9,337.1 L422.2,336.6 L422.2,336.0 L422.4,335.3 L422.8,336.6 L423.2,336.6 L423.2,335.5 L423.9,337.0 L424.1,336.5 L424.2,336.3 L424.8,337.1 L424.8,335.5 L425.2,336.7 L425.2,336.7 L425.5,335.6 L426.1,336.9 L426.2,336.4 L426.2,336.1 L426.6,335.6 L427.0,336.9 L427.2,336.4 L427.2,335.8 L427.6,335.7 L427.8,336.5 L428.2,336.3 L428.2,336.4 L428.7,336.8 L429.1,335.2 L429.2,336.2 L429.2,336.4 L429.3,335.7 L429.5,336.8 L430.2,335.9 L430.2,336.3 L430.4,336.8 L431.0,335.8 L431.2,336.6 L431.2,335.8 L431.9,336.9 L432.2,335.5 L432.3,337.2 L433.1,335.6 L433.2,335.8 L433.7,335.8 L434.2,336.9 L434.2,336.1 L434.4,335.8 L434.9,336.7 L435.2,336.7 L435.2,335.4 L436.1,336.8 L436.2,336.1 L436.2,335.9 L436.4,337.1 L436.8,335.7 L437.2,336.4 L437.2,336.1 L437.3,335.9 L438.0,337.3 L438.2,337.3 L438.2,337.0 L438.3,335.7 L439.2,336.2 L439.2,336.5 L439.6,335.4 L440.1,337.1 L440.2,335.7 L440.3,336.1 L440.8,336.9 L441.0,335.9 L441.1,336.8 L441.2,336.3 L441.4,337.3 L441.4,335.6 L442.2,336.4 L442.2,336.5 L442.4,335.5 L442.6,336.7 L443.2,336.3 L443.2,336.2 L443.8,335.7 L444.2,336.9 L444.2,336.3 L444.8,337.0 L444.9,335.7 L445.2,336.4 L445.2,336.6 L445.3,336.7 L445.8,335.5 L446.2,336.4 L446.2,336.1 L446.5,337.3 L447.1,335.3 L447.2,336.3 L447.2,336.3 L447.4,335.8 L448.1,337.1 L448.2,336.2 L448.2,336.8 L448.6,335.8 L449.2,336.4 L449.3,336.4 L449.5,336.8 L449.6,335.9 L450.2,336.6 L450.2,336.2 L450.4,335.6 L450.9,336.9 L451.2,336.5 L451.2,336.1 L451.7,335.7 L451.7,336.9 L452.2,336.3 L452.2,336.1 L452.3,336.9 L452.8,335.8 L453.2,336.7 L453.2,336.0 L454.1,335.6 L454.2,337.2 L454.2,336.4 L454.6,336.7 L455.1,335.5 L455.2,336.3 L455.2,336.2 L455.6,336.8 L456.0,335.9 L456.2,336.3 L456.2,336.1 L456.3,336.9 L456.8,335.8 L457.2,336.6 L457.3,336.3 L458.0,335.7 L458.1,337.0 L458.2,336.3 L458.5,335.6 L458.8,336.8 L459.2,336.5 L459.2,336.1 L459.3,337.0 L459.8,335.1 L460.2,336.4 L460.2,336.2 L460.6,336.9 L460.7,335.7 L461.2,336.4 L461.2,336.3 L461.7,336.8 L462.1,335.5 L462.2,336.5 L462.2,335.9 L462.6,335.3 L463.1,336.8 L463.2,335.7 L463.2,335.0 L463.6,336.5 L464.2,335.8 L464.2,335.5 L464.4,335.3 L465.1,336.6 L465.2,336.2 L465.3,336.2 L465.7,335.3 L465.9,337.0 L466.1,336.3 L466.2,336.3 L466.5,337.2 L467.2,335.7 L467.2,336.5 L467.3,336.9 L468.1,335.5 L468.2,336.8 L468.2,337.0 L468.9,335.7 L468.9,337.0 L469.2,336.2 L469.2,336.1 L469.8,335.5 L470.1,336.8 L470.2,336.1 L470.2,336.1 L470.3,336.8 L470.7,335.7 L471.2,336.2 L471.2,336.5 L471.8,335.7 L472.1,336.8 L472.2,336.1 L472.2,336.2 L472.4,335.4 L472.7,337.0 L473.2,336.1 L473.2,335.9 L473.8,336.9 L474.1,335.7 L474.2,336.6 L474.3,335.9 L474.7,336.9 L474.8,335.6 L475.1,336.6 L475.2,336.8 L475.6,335.5 L475.8,336.9 L476.2,336.6 L476.2,336.3 L476.4,337.2 L476.7,335.2 L477.2,336.8 L477.2,336.6 L477.3,335.5 L477.5,336.6 L478.2,335.8 L478.2,336.0 L478.7,336.9 L479.2,335.8 L479.2,335.4 L480.2,336.9 L480.2,336.4 L480.9,337.3 L481.0,335.6 L481.2,336.5 L481.2,336.3 L481.8,335.6 L482.0,337.1 L482.2,336.9 L482.3,336.8 L482.4,336.0 L483.1,336.9 L483.1,336.4 L483.2,335.9 L483.4,335.9 L483.9,336.9 L484.2,336.0 L484.2,336.1 L484.9,335.7 L485.0,337.1 L485.2,335.8 L485.2,336.5 L485.3,335.7 L485.6,337.3 L486.2,336.0 L486.2,336.5 L486.9,336.8 L487.1,335.4 L487.2,336.0 L487.2,336.3 L487.8,337.0 L488.2,335.4 L488.2,336.5 L488.6,337.1 L489.1,335.8 L489.2,336.0 L489.2,336.2 L490.0,336.7 L490.2,335.8 L490.2,337.1 L490.6,335.5 L491.2,336.0 L491.3,336.4 L491.3,335.8 L492.0,337.1 L492.2,336.4 L492.2,336.7 L492.3,335.8 L492.4,337.0 L493.2,335.9 L493.2,336.2 L493.3,335.8 L493.8,337.1 L494.2,336.0 L494.2,336.2 L494.8,335.6 L494.9,336.9 L495.2,336.7 L495.2,336.1 L495.8,336.9 L496.2,335.8 L496.2,336.8 L496.9,337.0 L497.0,335.9 L497.2,336.4 L497.2,336.4 L497.5,336.6 L498.2,335.6 L498.2,336.0 L498.4,335.8 L498.7,337.1 L499.2,336.1 L499.3,336.7 L499.9,335.7 L500.0,336.8 L500.1,336.6 L500.2,336.4 L500.4,336.9 L500.8,335.9 L501.2,336.5 L501.2,336.2 L501.4,337.0 L501.7,335.9 L502.2,336.2 L502.2,336.5 L502.3,337.0 L502.9,335.6 L503.2,336.0 L503.2,336.2 L503.8,337.0 L504.0,335.8 L504.2,336.6 L504.2,336.2 L504.4,335.7 L504.8,337.3 L505.2,336.5 L505.2,336.1 L505.3,337.0 L506.0,335.7 L506.2,336.1 L506.2,336.6 L506.3,335.8 L506.6,336.8 L507.2,336.1 L507.3,336.3 L507.6,335.8 L507.9,336.9 L508.1,336.5 L508.2,335.7 L509.2,337.0 L509.2,336.5 L509.6,336.8 L510.1,335.6 L510.2,335.6 L510.2,336.2 L510.8,336.8 L510.9,335.7 L511.2,336.3 L511.2,336.6 L511.4,335.9 L512.1,337.3 L512.2,336.5 L512.2,336.2 L512.3,335.7 L512.9,337.3 L513.2,336.9 L513.2,336.5 L513.3,335.9 L513.4,336.9 L514.2,336.6 L514.2,336.3 L514.7,336.9 L515.0,335.7 L515.2,336.5 L515.2,336.3 L515.5,337.1 L516.2,335.8 L516.3,336.3 L517.0,336.8 L517.1,335.8 L517.1,336.3 L517.2,336.6 L517.5,335.6 L518.0,336.9 L518.2,336.0 L518.2,335.8 L519.0,337.1 L519.1,335.6 L519.2,336.1 L519.2,336.7 L519.7,337.3 L520.2,335.7 L520.2,335.8 L520.4,336.9 L521.2,336.2 L521.2,336.0 L521.8,337.3 L522.2,336.9 L522.2,336.4 L522.5,337.1 L522.6,335.7 L523.2,336.0 L523.2,336.3 L523.3,335.6 L523.7,336.9 L524.2,336.6 L524.3,335.9 L524.8,335.8 L524.9,337.3 L525.1,336.2 L525.2,336.2 L525.5,335.4 L525.7,337.2 L526.2,336.2 L526.2,336.4 L526.3,335.8 L527.1,337.2 L527.2,336.4 L527.2,336.1 L527.6,336.6 L527.9,335.7 L528.2,336.4 L528.2,335.5 L528.3,336.8 L528.9,334.8 L529.2,335.5 L529.2,335.6 L529.4,336.6 L530.1,334.0 L530.2,335.1 L530.2,335.4 L530.4,335.8 L531.0,333.7 L531.2,334.6 L531.2,334.9 L532.1,332.9 L532.2,334.2 L532.2,333.4 L532.5,331.6 L532.6,334.4 L533.1,332.6 L533.2,333.5 L533.3,331.5 L533.9,334.4 L534.2,332.7 L534.2,334.2 L534.3,332.0 L534.6,334.3 L535.2,333.6 L535.2,333.7 L535.9,335.8 L536.1,333.6 L536.2,335.0 L536.2,335.2 L536.7,336.5 L537.0,334.3 L537.2,335.5 L537.2,335.8 L537.9,334.9 L538.1,336.5 L538.2,335.9 L538.2,336.2 L538.3,337.2 L539.1,335.3 L539.2,336.2 L539.2,336.4 L539.7,335.4 L540.1,336.8 L540.2,336.5 L540.2,336.5 L540.3,335.7 L540.7,337.1 L541.2,335.8 L541.3,336.4 L541.7,335.8 L541.9,337.3 L542.1,336.6 L542.2,336.4 L542.3,335.7 L542.8,337.1 L543.2,336.6 L543.2,335.7 L543.9,337.3 L544.2,336.7 L544.2,336.5 L544.7,336.7 L544.8,335.9 L545.2,335.9 L545.2,336.1 L545.3,337.3 L546.1,335.6 L546.2,336.6 L546.2,336.5 L546.6,335.9 L546.7,336.8 L547.2,336.5 L547.2,336.4 L547.7,336.7 L548.2,335.6 L548.2,336.3 L548.6,335.2 L549.1,336.9 L549.2,335.8 L549.3,336.2 L549.4,335.7 L549.9,337.0 L550.1,336.5 L550.2,336.5 L550.4,335.7 L550.9,336.8 L551.2,336.5 L551.2,336.9 L551.9,337.3 L552.1,335.5 L552.2,336.1 L552.2,336.2 L552.4,336.9 L553.2,335.6 L553.2,336.3 L553.4,336.0 L553.9,337.2 L554.2,336.5 L554.2,336.6 L554.3,335.9 L554.7,336.7 L555.2,336.4 L555.2,336.3 L555.5,337.1 L555.9,335.9 L556.2,336.7 L556.2,336.5 L556.7,335.8 L556.8,336.8 L557.2,336.2 L557.2,336.8 L558.0,337.1 L558.2,335.8 L558.3,336.3 L558.5,335.5 L559.0,336.8 L559.1,335.9 L559.2,336.2 L560.0,335.9 L560.2,336.8 L560.2,336.1 L560.4,335.7 L560.9,337.1 L561.2,336.0 L561.2,335.8 L561.3,336.8 L562.2,336.4 L562.2,336.7 L562.3,335.6 L562.5,337.2 L563.2,337.1 L563.2,336.5 L563.7,335.8 L564.2,336.9 L564.2,336.3 L564.4,336.8 L565.0,336.1 L565.2,336.3 L565.2,336.2 L566.0,335.6 L566.1,337.0 L566.2,336.3 L566.3,336.3 L566.6,335.6 L567.1,337.2 L567.1,336.4 L567.2,336.6 L567.7,335.8 L567.9,336.9 L568.2,336.7 L568.2,336.3 L568.3,335.7 L569.0,337.0 L569.2,336.7 L569.2,336.3 L570.1,335.7 L570.2,336.8 L570.2,337.0 L571.1,335.4 L571.2,335.6 L571.2,335.9 L571.8,337.3 L572.0,335.7 L572.2,336.0 L572.2,337.0 L572.5,335.7 L573.2,336.7 L573.2,336.4 L574.0,336.9 L574.2,335.5 L574.2,336.3 L574.6,335.7 L575.0,337.3 L575.1,336.2 L575.2,336.0 L575.3,337.3 L576.0,335.6 L576.2,336.3 L576.2,335.9 L576.4,337.0 L576.9,335.7 L577.2,336.7 L577.2,337.0 L577.5,335.6 L578.2,336.5 L578.2,336.8 L578.4,335.9 L578.9,337.0 L579.2,336.4 L579.2,336.2 L579.6,337.3 L580.0,335.6 L580.2,336.1 L580.2,335.8 L580.5,335.7 L580.7,337.0 L581.2,336.2 L581.2,336.1 L581.5,335.5 L581.9,337.2 L582.2,336.4 L582.2,336.4 L582.9,336.7 L582.9,335.7 L583.2,336.4 L583.3,336.6 L583.4,336.9 L583.6,335.5 L584.1,336.1 L584.2,336.1 L584.7,337.2 L585.0,335.6 L585.2,336.6 L585.2,336.0 L585.3,336.8 L586.2,335.8 L586.2,336.6 L586.8,335.7 L587.1,337.1 L587.2,336.7 L587.2,336.7 L587.4,335.9 L587.7,336.9 L588.2,336.5 L588.2,336.3 L588.6,335.9 L588.8,336.9 L589.2,336.0 L589.2,336.4 L589.6,336.9 L589.9,335.9 L590.2,336.3 L590.2,336.2 L590.5,335.1 L590.7,336.9 L591.2,336.5 L591.3,336.4 L591.8,335.9 L592.1,337.2 L592.2,336.0 L592.8,335.5 L592.9,336.8 L593.2,336.3 L593.2,336.0 L593.3,337.2 L594.0,335.6 L594.2,336.2 L594.2,336.9 L594.3,335.6 L594.8,337.1 L595.2,336.2 L595.2,335.7 L595.6,337.2 L596.2,336.4 L596.2,335.9 L596.3,335.4 L597.2,337.1 L597.2,336.3 L597.4,335.7 L598.1,336.8 L598.2,336.3 L598.2,336.1 L598.6,335.9 L598.8,336.9 L599.2,336.1 L599.2,336.3 L599.8,335.5 L599.9,336.9 L600.2,336.1 L600.3,336.3 L601.1,336.8 L601.2,335.5 L601.2,336.1 L601.4,336.5 L601.6,335.1 L602.2,335.9 L602.2,336.0 L602.3,335.2 L602.7,336.3 L603.2,335.9 L603.2,336.1 L603.6,336.6 L604.1,335.3 L604.2,335.5 L604.2,336.0 L605.0,336.3 L605.2,335.0 L605.2,336.4 L605.6,335.5 L605.9,337.1 L606.2,335.9 L606.2,336.3 L607.0,335.6 L607.2,337.0 L607.2,336.0 L607.4,335.4 L608.1,336.7 L608.2,336.3 L608.3,336.5 L608.8,336.9 L608.9,335.9 L609.1,336.1 L609.2,335.9 L609.7,337.2 L610.2,336.3 L610.2,336.4 L610.5,335.8 L610.8,337.2 L611.2,336.6 L611.2,336.4 L611.4,335.7 L611.8,337.1 L612.2,336.8 L612.2,336.2 L612.5,336.9 L613.1,335.7 L613.2,336.5 L613.2,337.0 L614.2,335.5 L614.2,337.0 L614.6,337.0 L615.0,335.9 L615.2,336.1 L615.2,336.3 L615.3,335.3 L616.2,337.0 L616.3,336.4 L616.5,335.8 L616.7,337.2 L617.1,336.5 L617.2,336.0 L617.4,336.8 L617.6,335.6 L618.2,336.5 L618.2,336.5 L618.4,335.6 L618.7,336.8 L619.2,336.7 L619.2,336.2 L619.5,337.0 L620.1,335.7 L620.2,336.4 L620.2,335.8 L620.3,337.0 L620.9,335.4 L621.2,336.3 L621.2,336.5 L621.4,337.1 L622.2,335.9 L622.2,336.4 L623.1,337.0 L623.1,335.8 L623.2,336.1 L623.2,336.5 L623.7,337.1 L624.0,335.8 L624.2,336.0 L624.2,336.0 L624.7,335.7 L624.9,336.8 L625.2,336.2 L625.3,336.6 L625.5,335.8 L626.1,336.8 L626.2,335.6 L626.3,337.0 L627.2,336.4 L627.2,336.6 L627.3,335.6 L628.2,336.8 L628.2,336.0 L628.4,337.0 L628.9,335.6 L629.2,336.1 L629.2,336.1 L629.8,335.8 L629.9,336.7 L630.2,336.2 L630.2,336.2 L630.4,335.7 L630.6,336.8 L631.2,336.5 L631.2,336.5 L631.5,336.9 L632.0,335.2 L632.2,336.3 L632.2,335.9 L632.5,335.9 L633.1,337.0 L633.2,336.8 L633.3,336.1 L633.4,336.9 L634.1,335.9 L634.2,336.3 L634.5,335.5 L634.7,336.8 L635.2,336.2 L635.2,336.9 L635.9,337.0 L636.0,335.6 L636.2,336.4 L636.2,335.8 L636.9,336.8 L637.0,335.8 L637.2,335.9 L637.2,336.5 L637.8,335.6 L638.2,336.8 L638.2,335.9 L638.5,337.3 L639.2,335.7 L639.2,336.5 L639.7,335.9 L639.9,337.0 L640.2,336.6 L640.2,336.3 L640.4,335.4 L640.8,336.9 L641.2,336.0 L641.2,336.1 L641.4,335.5 L641.9,336.9 L642.2,336.4 L642.3,335.7 L642.5,336.7 L643.2,336.6 L643.2,336.2 L643.4,335.6 L643.7,336.6 L644.2,336.2 L644.2,336.8 L644.4,337.3 L645.1,335.9 L645.2,336.0 L645.2,335.9 L645.8,335.5 L646.1,336.6 L646.2,336.2 L646.2,336.6 L646.4,336.8 L646.6,335.8 L647.2,336.2 L647.2,336.2 L647.7,335.6 L648.2,336.7 L648.2,336.9 L648.5,335.4 L648.6,337.3 L649.2,336.1 L649.2,336.1 L649.3,337.2 L649.9,335.9 L650.2,336.3 L650.3,336.5 L650.4,337.0 L650.9,335.7 L651.1,336.8 L651.2,336.6 L651.5,335.7 L652.1,337.1 L652.2,336.5 L652.2,336.2 L653.0,337.0 L653.2,335.5 L653.2,336.3 L653.6,335.8 L653.8,336.9 L654.2,336.2 L654.2,335.9 L654.7,335.6 L654.7,337.2 L655.2,336.4 L655.2,336.0 L655.4,335.2 L655.9,337.3 L656.2,336.4 L656.2,336.4 L656.5,337.1 L656.7,335.8 L657.2,336.7 L657.2,335.9 L657.5,335.8 L657.6,337.0 L658.2,336.3 L658.3,336.2 L659.0,335.8 L659.0,337.0 L659.1,336.1 L659.2,336.4 L659.3,335.8 L659.8,337.0 L660.2,336.3 L660.2,336.1 L660.3,335.5 L660.4,336.8 L661.2,336.2 L661.2,336.9 L661.9,335.5 L662.2,336.3 L662.2,336.8 L662.9,336.8 L663.0,335.6 L663.2,336.4 L663.2,336.5 L663.5,337.3 L664.0,335.6 L664.2,336.4 L664.2,336.2 L664.3,336.0 L664.8,336.6 L665.2,336.4 L665.2,336.4 L666.0,337.0 L666.1,336.4 L666.2,336.9 L666.2,336.4 L667.0,336.2 L667.1,336.9 L667.2,336.9 L667.3,336.1 L667.4,336.2 L668.1,335.3 L668.2,335.2 L669.1,332.0 L669.2,332.8 L669.2,331.3 L669.3,332.2 L670.2,320.7 L670.2,319.7 L671.2,296.0 L671.2,293.9 L672.2,254.0 L672.2,251.3 L673.1,229.0 L673.2,230.9 L673.2,232.1 L674.2,273.3 L674.2,270.7 L675.2,305.5 L675.3,307.1 L676.1,325.3 L676.2,325.6 L677.1,333.4 L677.2,333.2 L677.2,333.4 L678.2,336.2 L678.2,335.8 L678.3,335.8 L678.6,337.3 L679.2,336.3 L679.2,336.3 L679.6,336.7 L680.2,336.4 L680.2,336.8 L680.3,336.4 L680.9,336.9 L681.2,336.4 L681.2,336.4 L681.4,336.9 L681.5,335.8 L682.2,336.2 L682.2,336.2 L682.4,335.7 L682.7,336.8 L683.2,336.8 L683.2,335.7 L683.8,337.0 L684.1,336.7 L684.2,336.5" fill="none" stroke="#2ca02c" stroke-width="1.2" stroke-linejoin="round"/>
<path d="M382.2,337.3 L383.2,335.5 L383.2,336.2 L383.7,335.4 L384.0,337.3 L384.2,337.1 L384.2,336.4 L384.7,337.2 L384.8,335.4 L385.2,336.0 L385.2,336.5 L385.3,337.3 L385.4,335.7 L386.2,336.8 L386.2,336.3 L386.9,335.4 L387.1,336.9 L387.2,336.5 L387.2,337.0 L388.1,335.0 L388.2,335.8 L388.2,336.0 L389.1,333.2 L389.2,334.9 L389.2,333.0 L389.5,333.7 L390.1,324.7 L390.2,325.3 L390.3,320.8 L390.4,325.8 L391.1,304.8 L391.2,304.9 L391.3,305.6 L392.2,263.5 L392.2,265.1 L392.3,269.1 L393.2,230.0 L393.2,227.2 L393.5,219.8 L394.2,249.0 L394.2,252.1 L395.2,296.6 L395.2,297.4 L396.1,320.2 L396.2,318.7 L396.2,320.3 L397.2,333.2 L397.2,331.2 L398.2,335.5 L398.3,335.4 L398.4,334.3 L398.8,337.3 L399.1,336.9 L399.2,336.0 L399.4,337.3 L399.8,335.2 L400.2,336.9 L400.2,336.4 L400.3,335.5 L400.4,337.3 L401.2,336.1 L401.2,336.2 L401.7,335.8 L401.7,337.3 L402.2,336.2 L402.2,336.9 L403.1,335.6 L403.2,336.3 L403.2,336.5 L403.5,337.2 L403.7,335.5 L404.2,335.7 L404.2,337.1 L405.1,337.3 L405.2,335.4 L405.2,336.8 L406.0,335.7 L406.2,336.1 L406.2,335.6 L406.6,337.3 L406.7,335.4 L407.2,337.0 L407.3,336.7 L407.4,335.6 L407.4,337.3 L408.1,336.2 L408.2,336.1 L408.9,337.3 L409.0,336.0 L409.2,336.7 L409.2,336.3 L409.4,337.3 L410.1,335.5 L410.2,337.2 L410.2,336.9 L410.5,337.2 L410.6,335.3 L411.2,336.5 L411.2,336.9 L411.4,335.7 L412.0,337.3 L412.2,336.4 L412.2,337.3 L413.1,335.3 L413.2,336.0 L413.2,336.9 L413.9,335.9 L414.2,336.3 L414.2,336.4 L414.9,335.6 L414.9,336.9 L415.2,336.0 L415.3,337.0 L415.4,335.9 L415.5,337.2 L416.1,337.0 L416.2,336.0 L416.7,335.8 L416.9,337.3 L417.2,336.6 L417.2,337.3 L417.9,335.2 L418.2,336.8 L418.2,336.5 L418.6,335.5 L418.7,337.3 L419.2,336.7 L419.2,336.3 L419.4,337.3 L419.8,335.1 L420.2,336.8 L420.2,336.3 L420.7,337.3 L421.0,335.5 L421.2,336.5 L421.2,335.5 L421.6,337.3 L422.2,336.5 L422.2,335.3 L422.3,337.3 L423.2,336.7 L423.2,335.5 L423.3,337.1 L423.4,335.5 L424.1,335.7 L424.2,336.8 L424.3,335.9 L424.4,337.3 L425.2,336.7 L425.2,337.0 L425.7,337.3 L426.1,335.5 L426.2,336.3 L426.2,336.7 L426.4,337.0 L426.5,335.3 L427.2,336.1 L427.2,336.4 L427.4,337.3 L427.6,335.7 L428.2,336.2 L428.2,336.1 L428.6,335.3 L429.0,337.3 L429.2,337.1 L429.2,336.6 L429.5,337.3 L429.8,335.9 L430.2,336.9 L430.2,336.2 L430.5,337.3 L431.0,335.5 L431.2,337.3 L431.2,336.3 L431.5,337.3 L431.8,335.6 L432.2,336.2 L432.3,336.0 L432.8,337.2 L433.1,335.7 L433.2,336.1 L433.7,337.3 L434.2,335.3 L434.2,337.0 L434.5,337.3 L434.8,335.6 L435.2,336.3 L435.2,337.3 L436.0,335.8 L436.2,337.0 L436.2,336.1 L436.6,337.3 L436.8,335.5 L437.2,336.2 L437.2,336.3 L437.8,336.1 L438.1,337.3 L438.2,336.7 L438.2,336.9 L438.5,335.6 L438.8,337.3 L439.2,336.5 L439.2,337.3 L439.6,335.7 L440.2,336.7 L440.3,335.6 L440.8,337.3 L441.0,335.3 L441.1,336.3 L441.2,336.4 L441.3,337.3 L441.9,335.5 L442.2,336.5 L442.2,336.5 L442.8,336.9 L442.9,335.5 L443.2,336.4 L443.2,336.3 L443.7,337.1 L443.9,335.6 L444.2,336.6 L444.2,336.2 L444.4,336.9 L444.5,335.5 L445.2,335.8 L445.2,336.3 L446.1,335.6 L446.2,337.3 L446.2,336.2 L446.3,335.9 L447.0,337.3 L447.2,336.6 L447.2,336.6 L447.3,335.7 L447.5,337.2 L448.2,336.6 L448.2,336.9 L448.8,337.0 L449.0,335.8 L449.2,336.7 L449.3,336.0 L449.7,337.3 L449.9,335.3 L450.2,336.8 L450.2,337.0 L451.0,337.1 L451.1,335.5 L451.2,336.6 L451.2,336.7 L451.5,337.3 L451.8,335.7 L452.2,336.8 L452.2,336.9 L452.6,335.4 L452.9,337.3 L453.2,335.9 L453.2,336.1 L453.9,335.9 L454.0,337.2 L454.2,336.4 L454.2,336.5 L454.8,337.3 L454.9,335.8 L455.2,336.1 L455.2,336.2 L456.0,335.4 L456.1,337.2 L456.2,336.0 L456.2,336.5 L456.6,335.3 L456.7,337.3 L457.2,336.2 L457.3,336.1 L457.4,335.9 L457.7,337.3 L458.1,336.3 L458.2,336.0 L458.5,335.4 L459.0,337.3 L459.2,337.1 L459.2,336.0 L459.5,337.2 L459.7,334.9 L460.2,336.0 L460.2,335.9 L460.3,334.9 L460.4,337.0 L461.2,336.3 L461.2,335.5 L461.7,336.7 L461.7,335.1 L462.2,336.3 L462.2,335.7 L462.8,337.3 L463.1,334.7 L463.2,336.8 L463.2,336.7 L463.6,334.4 L464.2,335.7 L464.2,336.1 L464.4,334.6 L465.1,337.3 L465.2,335.7 L465.3,335.4 L465.9,336.9 L466.1,334.3 L466.2,336.1 L466.4,335.4 L466.6,337.2 L467.2,335.8 L467.2,335.6 L467.4,337.3 L468.2,335.6 L468.2,336.1 L468.6,337.3 L469.1,335.1 L469.2,336.6 L469.2,336.6 L469.4,337.3 L470.0,335.3 L470.2,335.8 L470.2,337.0 L470.5,335.1 L471.2,337.2 L471.2,336.0 L471.4,335.7 L472.1,337.0 L472.2,336.0 L472.2,336.9 L472.8,337.0 L472.9,335.4 L473.2,336.3 L473.2,336.5 L473.3,335.5 L474.0,337.1 L474.2,336.0 L474.3,336.4 L474.5,337.3 L474.7,335.5 L475.1,336.0 L475.2,335.9 L475.4,337.3 L476.2,336.5 L476.2,336.6 L476.3,337.2 L476.9,335.7 L477.2,336.5 L477.2,337.2 L477.5,335.9 L477.7,337.3 L478.2,335.9 L478.2,335.6 L478.3,337.3 L478.6,335.3 L479.2,336.8 L479.2,335.9 L479.9,335.8 L480.0,337.3 L480.2,336.3 L480.2,336.3 L480.4,337.3 L480.7,335.5 L481.2,336.0 L481.2,336.1 L481.8,335.6 L482.0,337.2 L482.2,336.6 L482.3,336.5 L482.4,335.6 L483.1,337.0 L483.1,335.7 L483.2,336.5 L483.4,335.8 L484.1,337.2 L484.2,336.4 L484.2,335.9 L484.4,337.1 L485.2,336.7 L485.2,336.1 L485.4,335.6 L485.7,337.3 L486.2,335.8 L486.2,336.3 L486.7,337.2 L487.1,335.9 L487.2,336.3 L487.2,336.9 L488.1,337.2 L488.2,335.7 L488.2,335.9 L488.3,337.3 L489.1,335.5 L489.2,336.3 L489.2,335.6 L489.3,335.4 L489.8,337.3 L490.2,336.0 L490.2,336.5 L490.9,335.5 L491.0,337.0 L491.2,335.9 L491.3,336.3 L491.9,335.6 L491.9,337.2 L492.2,336.7 L492.2,336.1 L492.8,335.6 L493.0,337.3 L493.2,336.9 L493.2,336.4 L493.6,337.2 L493.7,335.4 L494.2,336.4 L494.2,336.4 L494.5,335.5 L495.2,337.2 L495.2,336.9 L495.5,337.0 L495.8,335.9 L496.2,336.4 L496.2,337.3 L496.4,335.7 L497.2,336.6 L497.2,336.9 L497.3,335.7 L497.7,337.2 L498.2,335.9 L498.2,336.1 L498.5,337.0 L498.6,335.6 L499.2,335.8 L499.3,336.1 L499.4,335.8 L499.6,337.3 L500.1,336.2 L500.2,335.9 L500.7,337.3 L500.8,335.5 L501.2,336.9 L501.2,335.6 L501.4,335.6 L502.0,337.3 L502.2,336.4 L502.2,336.7 L502.3,337.1 L502.5,335.7 L503.2,336.4 L503.2,335.9 L504.1,335.6 L504.2,337.3 L504.2,336.7 L504.3,335.6 L504.3,337.3 L505.2,336.0 L505.2,335.6 L505.4,337.3 L505.8,335.6 L506.2,336.8 L506.2,337.2 L507.1,335.7 L507.2,337.0 L507.3,336.8 L507.4,337.3 L508.1,335.6 L508.2,337.2 L508.4,335.7 L508.5,337.2 L509.2,335.9 L509.2,336.6 L509.3,335.3 L509.4,337.1 L510.2,336.6 L510.2,336.8 L510.3,335.3 L511.1,337.1 L511.2,335.4 L511.2,337.3 L511.4,335.6 L512.2,336.3 L512.2,336.4 L512.4,335.4 L513.0,337.0 L513.2,336.5 L513.2,336.3 L513.5,337.3 L514.2,335.2 L514.2,336.2 L514.4,337.2 L515.0,335.7 L515.2,335.9 L515.2,336.0 L515.4,337.3 L516.1,335.5 L516.2,336.9 L516.3,335.8 L516.5,337.3 L517.1,336.9 L517.2,336.5 L517.4,335.4 L517.9,336.9 L518.2,336.5 L518.2,336.2 L518.8,336.0 L518.9,337.0 L519.2,336.6 L519.2,336.6 L519.7,335.6 L520.1,337.3 L520.2,335.8 L520.2,336.7 L520.3,335.9 L521.2,337.0 L521.2,337.3 L521.7,335.0 L522.2,336.6 L522.2,336.3 L522.5,335.5 L522.7,337.1 L523.2,336.3 L523.2,336.6 L523.5,337.3 L523.8,335.5 L524.2,336.3 L524.3,336.5 L524.4,335.0 L524.5,337.3 L525.1,336.5 L525.2,336.5 L525.4,335.6 L525.5,337.2 L526.2,336.6 L526.2,335.0 L526.7,336.7 L526.9,334.9 L527.2,336.1 L527.2,336.2 L527.3,336.9 L527.8,334.2 L528.2,335.4 L528.2,336.7 L528.8,333.7 L529.2,334.0 L529.2,333.7 L529.6,335.1 L530.2,331.1 L530.2,330.5 L530.5,332.5 L531.2,322.0 L531.2,318.7 L531.6,321.4 L532.2,298.6 L532.2,299.5 L533.1,283.2 L533.1,286.7 L533.2,287.6 L533.4,285.4 L534.0,301.9 L534.2,300.5 L534.2,302.6 L534.3,301.6 L535.2,321.5 L535.2,321.0 L535.8,333.6 L536.2,331.1 L536.2,330.6 L536.7,335.6 L537.2,334.2 L537.2,334.3 L538.0,336.0 L538.1,333.5 L538.2,335.4 L538.2,335.1 L538.5,333.7 L538.8,336.7 L539.2,335.7 L539.2,335.9 L539.6,335.2 L540.1,337.2 L540.2,336.5 L540.2,336.6 L540.4,335.2 L540.7,336.7 L541.2,336.3 L541.3,337.0 L541.7,335.9 L542.1,337.0 L542.2,336.4 L542.7,335.3 L542.8,336.8 L543.2,336.6 L543.2,337.3 L543.6,335.2 L544.2,336.2 L544.2,336.1 L544.6,337.2 L545.1,335.7 L545.2,336.9 L545.2,336.5 L545.4,337.2 L546.2,335.7 L546.2,336.0 L546.5,335.5 L547.0,337.2 L547.2,335.7 L547.2,336.0 L547.6,336.8 L548.0,335.5 L548.2,336.5 L548.2,336.5 L548.6,335.5 L548.9,337.3 L549.2,336.8 L549.3,335.3 L550.0,337.0 L550.1,336.6 L550.2,336.5 L550.8,335.7 L551.2,336.9 L551.2,337.3 L552.1,335.7 L552.2,336.2 L552.2,336.8 L552.3,335.3 L552.4,337.2 L553.2,336.4 L553.2,336.0 L553.3,337.0 L554.1,335.9 L554.2,336.8 L554.2,336.5 L555.0,337.1 L555.2,335.2 L555.2,336.7 L555.7,337.3 L556.0,335.4 L556.2,336.4 L556.2,336.5 L556.6,337.2 L556.9,335.2 L557.2,336.3 L557.2,336.9 L557.9,335.6 L558.2,335.9 L558.3,335.8 L558.8,335.6 L559.0,337.2 L559.1,336.9 L559.2,336.3 L559.4,335.4 L559.5,337.3 L560.2,337.0 L560.2,336.1 L560.8,337.0 L560.9,335.7 L561.2,336.4 L561.2,335.9 L562.1,335.6 L562.1,337.3 L562.2,336.9 L562.2,337.1 L562.9,335.9 L563.2,335.9 L563.2,337.1 L563.6,337.3 L563.6,336.0 L564.2,336.4 L564.2,337.3 L564.7,335.5 L565.2,336.1 L565.2,336.0 L565.4,335.6 L565.6,337.1 L566.2,336.4 L566.3,335.6 L566.6,337.3 L566.8,335.4 L567.1,336.5 L567.2,336.6 L567.4,335.2 L568.1,337.1 L568.2,336.6 L568.2,335.6 L568.6,335.2 L569.2,337.1 L569.2,336.1 L569.8,335.4 L569.8,337.3 L570.2,336.0 L570.2,336.1 L570.8,337.2 L571.1,335.5 L571.2,336.2 L571.2,336.2 L571.6,335.4 L571.9,337.3 L572.2,337.1 L572.2,336.0 L572.3,335.9 L572.5,337.0 L573.2,336.1 L573.2,335.9 L573.9,337.3 L574.1,335.6 L574.2,336.5 L574.2,336.5 L574.3,337.3 L574.5,335.5 L575.1,337.1 L575.2,335.2 L575.4,337.0 L576.2,336.6 L576.2,335.5 L577.1,337.0 L577.2,336.7 L577.2,336.8 L577.3,337.3 L577.8,335.5 L578.2,335.6 L578.2,335.9 L578.3,337.3 L578.6,335.7 L579.2,336.1 L579.2,336.4 L579.3,337.3 L579.3,335.5 L580.2,335.9 L580.2,336.8 L580.6,337.0 L580.9,335.1 L581.2,336.4 L581.2,336.3 L581.6,337.3 L581.9,335.7 L582.2,336.4 L582.2,336.4 L582.5,335.9 L583.0,336.9 L583.2,335.9 L583.3,335.6 L583.8,337.3 L584.1,335.4 L584.1,337.1 L584.2,336.1 L584.6,334.9 L585.1,337.3 L585.2,337.1 L585.2,336.3 L585.5,335.0 L585.8,337.3 L586.2,336.3 L586.2,335.8 L586.7,337.2 L586.8,335.6 L587.2,336.5 L587.2,336.8 L587.6,335.5 L587.8,337.3 L588.2,335.6 L588.2,336.3 L588.7,335.6 L588.8,337.3 L589.2,336.7 L589.2,336.8 L589.3,335.5 L590.1,337.3 L590.2,336.7 L590.2,336.7 L590.3,336.9 L590.4,335.6 L591.2,336.7 L591.3,336.9 L591.5,335.7 L592.0,337.3 L592.1,335.9 L592.2,336.4 L592.3,337.3 L592.8,335.5 L593.2,336.3 L593.2,335.5 L594.0,337.3 L594.2,336.6 L594.2,336.3 L594.3,335.6 L594.8,337.0 L595.2,336.8 L595.2,336.6 L595.8,335.8 L595.9,337.3 L596.2,336.3 L596.2,335.8 L596.6,335.7 L596.7,337.3 L597.2,336.6 L597.2,336.2 L597.6,337.1 L597.9,335.7 L598.2,336.5 L598.2,336.9 L598.4,337.3 L598.7,335.5 L599.2,335.9 L599.2,337.0 L599.5,337.3 L599.7,335.2 L600.2,335.6 L600.3,337.2 L600.5,335.2 L601.2,335.5 L601.2,336.7 L601.4,334.7 L602.0,337.3 L602.2,336.7 L602.2,334.8 L602.9,333.4 L603.2,337.2 L603.2,335.2 L603.8,334.7 L604.0,337.3 L604.2,335.7 L604.2,336.2 L604.5,334.8 L604.8,337.3 L605.2,336.0 L605.2,335.8 L605.9,335.3 L606.1,337.1 L606.2,335.3 L606.2,337.3 L606.3,335.5 L607.2,336.4 L607.2,336.6 L607.4,337.3 L607.9,335.3 L608.2,336.4 L608.3,336.5 L608.6,336.7 L608.7,335.3 L609.1,336.1 L609.2,336.7 L609.4,335.7 L610.0,337.2 L610.2,336.8 L610.2,336.7 L611.0,337.1 L611.2,336.1 L611.2,336.2 L611.9,337.3 L612.1,335.6 L612.2,336.3 L612.2,336.6 L612.3,337.3 L613.2,335.2 L613.2,337.1 L613.3,335.8 L613.3,337.3 L614.2,336.4 L614.2,336.6 L614.6,335.6 L615.0,337.1 L615.2,336.9 L615.2,336.4 L615.8,337.0 L615.9,335.7 L616.2,335.9 L616.3,335.9 L616.8,337.3 L617.1,336.4 L617.2,336.7 L617.5,337.1 L617.6,336.0 L618.2,336.7 L618.2,336.4 L618.3,337.0 L619.1,335.8 L619.2,336.2 L619.2,335.7 L619.3,335.6 L619.4,337.1 L620.2,336.3 L620.2,337.0 L620.4,337.3 L621.1,335.9 L621.2,336.4 L621.2,336.6 L621.5,337.2 L621.8,335.3 L622.2,336.0 L622.2,336.8 L623.0,335.9 L623.2,337.3 L623.2,336.1 L623.4,334.8 L623.5,337.3 L624.2,336.5 L624.2,337.2 L624.4,335.6 L625.0,337.3 L625.2,336.2 L625.3,336.8 L625.7,337.0 L625.9,335.5 L626.1,336.7 L626.2,336.9 L626.5,335.2 L627.2,336.9 L627.2,336.1 L627.6,335.6 L627.8,337.3 L628.2,336.7 L628.2,335.4 L628.4,337.3 L629.2,336.6 L629.2,336.2 L629.4,335.6 L629.8,337.3 L630.2,336.0 L630.2,336.1 L630.8,335.6 L631.1,337.2 L631.2,336.0 L631.2,337.1 L631.5,337.3 L631.9,335.8 L632.2,336.6 L632.2,336.0 L632.7,335.6 L633.2,337.2 L633.3,336.0 L633.3,337.0 L633.6,335.6 L634.1,336.6 L634.2,336.2 L634.6,335.5 L634.6,337.0 L635.2,336.0 L635.2,336.4 L635.5,336.0 L636.1,337.3 L636.2,336.8 L636.2,336.1 L636.7,337.2 L636.9,335.2 L637.2,336.7 L637.2,336.9 L637.5,337.3 L638.2,335.7 L638.2,337.3 L638.4,335.5 L639.2,337.1 L639.2,336.7 L639.5,337.1 L639.5,334.9 L640.2,335.2 L640.2,336.5 L640.5,335.5 L640.8,337.3 L641.2,336.4 L641.2,336.8 L641.4,335.6 L641.5,337.0 L642.2,336.4 L642.3,336.5 L642.6,335.5 L642.9,336.9 L643.2,336.3 L643.2,337.0 L643.7,337.2 L644.1,335.5 L644.2,336.8 L644.2,336.0 L644.3,337.3 L644.4,335.8 L645.2,336.6 L645.2,336.2 L645.8,335.4 L646.1,337.0 L646.2,336.3 L646.2,336.4 L646.3,337.0 L646.9,335.7 L647.2,335.8 L647.2,336.1 L647.9,337.3 L648.1,336.0 L648.2,337.2 L648.2,336.8 L648.9,337.3 L648.9,335.7 L649.2,336.4 L649.2,337.1 L649.7,335.7 L650.0,337.2 L650.2,336.6 L650.3,336.0 L650.5,337.2 L650.9,335.7 L651.1,337.0 L651.2,336.5 L651.9,335.3 L652.1,337.1 L652.2,336.3 L652.2,336.9 L652.6,337.3 L653.0,335.8 L653.2,336.8 L653.2,336.1 L653.3,336.9 L653.5,335.8 L654.2,336.3 L654.2,336.9 L654.3,335.5 L655.0,337.3 L655.2,335.8 L655.2,337.3 L655.4,335.2 L656.2,337.0 L656.2,336.1 L656.6,337.3 L656.9,335.5 L657.2,337.3 L657.2,336.3 L657.4,336.3 L658.2,337.2 L658.3,337.2 L658.3,335.8 L658.4,337.3 L659.1,336.3 L659.2,336.7 L660.1,335.2 L660.2,337.0 L660.2,336.7 L661.0,337.0 L661.1,335.9 L661.2,336.7 L661.2,336.4 L661.5,335.4 L661.6,337.3 L662.2,337.0 L662.2,336.5 L662.3,337.3 L662.3,335.8 L663.2,337.2 L663.2,337.1 L663.8,335.9 L664.2,336.4 L664.2,336.7 L664.6,336.0 L665.0,336.9 L665.2,336.7 L665.2,336.9 L665.6,335.7 L666.1,337.2 L666.2,336.9 L666.2,336.6 L666.5,337.3 L666.9,335.3 L667.2,336.7 L667.3,337.3 L667.8,334.8 L668.1,335.4 L668.2,335.5 L668.5,335.7 L669.2,330.3 L669.2,330.6 L669.3,331.6 L670.1,320.6 L670.2,323.5 L670.2,321.4 L671.1,293.4 L671.2,294.4 L671.2,286.2 L671.3,292.2 L672.1,245.3 L672.2,253.1 L672.2,250.3 L673.2,222.5 L673.2,228.8 L674.0,268.1 L674.2,265.6 L674.2,265.7 L675.2,308.9 L675.3,299.9 L676.1,324.1 L676.2,325.2 L677.0,334.6 L677.2,332.6 L677.2,332.9 L677.8,336.3 L678.2,334.6 L678.2,336.8 L678.3,334.7 L679.1,336.9 L679.2,336.3 L679.2,336.8 L679.6,335.8 L680.2,337.2 L680.2,337.1 L680.3,337.3 L681.2,335.7 L681.2,336.5 L681.9,335.3 L682.1,336.9 L682.2,336.6 L682.2,336.7 L682.5,336.9 L682.8,335.7 L683.2,336.6 L683.2,337.3 L683.4,335.6 L684.1,336.8 L684.2,336.9" fill="none" stroke="#1f77b4" stroke-width="1.5" stroke-linejoin="round"/>
<path d="M386.67,336.18 L386.73,336.43 L386.79,335.87 L386.84,336.43 L386.9,335.68 L386.95,336.44 L387.01,336.56 L387.07,336.28 L387.12,335.4 L387.18,335.75 L387.23,336.1 L387.29,336.49 L387.35,335.9 L387.4,336.36 L387.46,335.98 L387.51,336.07 L387.57,335.92 L387.62,335.61 L387.68,335.81 L387.74,335.89 L387.79,335.99 L387.85,336.12 L387.9,335.47 L387.96,335.94 L388.02,335.78 L388.07,335.29 L388.13,335.19 L388.18,334.93 L388.24,335.23 L388.3,335.04 L388.35,335.37 L388.41,335.7 L388.46,335 L388.52,334.08 L388.58,334.71 L388.63,334.02 L388.69,335.01 L388.74,335.16 L388.8,333.81 L388.86,334.11 L388.91,334.71 L388.97,334.92 L389.02,334.16 L389.08,334.79 L389.13,333.39 L389.19,332.13 L389.25,332.51 L389.3,333.83 L389.36,332.18 L389.41,331.5 L389.47,331.71 L389.53,330.89 L389.58,330.68 L389.64,330.49 L389.69,328.4 L389.75,330.52 L389.81,329.86 L389.86,329.54 L389.92,325.44 L389.97,330.04 L390.03,326.87 L390.09,327.14 L390.14,326.26 L390.2,325.24 L390.25,323.51 L390.31,323.58 L390.37,323.99 L390.42,321.66 L390.48,321.07 L390.53,320.26 L390.59,321.75 L390.64,316.79 L390.7,316.71 L390.76,316.33 L390.81,314.06 L390.87,314.89 L390.92,314.34 L390.98,311.2 L391.04,312.11 L391.09,308.88 L391.15,307.46 L391.2,307.08 L391.26,304.54 L391.32,305.34 L391.37,297.88 L391.43,302.04 L391.48,296.68 L391.54,293.16 L391.6,290.66 L391.65,294.68 L391.71,287.69 L391.76,285.14 L391.82,284.79 L391.88,281.05 L391.93,278.54 L391.99,283.84 L392.04,275.6 L392.1,269.77 L392.15,265.55 L392.21,268.82 L392.27,267.79 L392.32,262.93 L392.38,257.58 L392.43,257.56 L392.49,249.36 L392.55,256.21 L392.6,252.39 L392.66,248.93 L392.71,247.36 L392.77,242.49 L392.83,241.1 L392.88,245.35 L392.94,236.21 L392.99,239.52 L393.05,235.77 L393.11,235.92 L393.16,231.66 L393.22,231.34 L393.27,227.04 L393.33,228.23 L393.39,226.47 L393.44,221.92 L393.5,224.82 L393.55,233.73 L393.61,230.29 L393.66,227.32 L393.72,240.93 L393.78,235.33 L393.83,240.31 L393.89,235.78 L393.94,240.64 L394,239.92 L394.06,244.26 L394.11,249.26 L394.17,254.69 L394.22,259.21 L394.28,258.42 L394.34,254.28 L394.39,261.43 L394.45,258.99 L394.5,268.25 L394.56,270.53 L394.62,271.71 L394.67,271.14 L394.73,276.42 L394.78,275.55 L394.84,283.16 L394.9,281.87 L394.95,281.35 L395.01,282.19 L395.06,282.96 L395.12,289.52 L395.17,294.12 L395.23,291.74 L395.29,300.2 L395.34,297.75 L395.4,299.57 L395.45,303.94 L395.51,305.25 L395.57,307.33 L395.62,307.04 L395.68,305.85 L395.73,305.85 L395.79,309.25 L395.85,312.87 L395.9,314.44 L395.96,312.01 L396.01,313.74 L396.07,318.09 L396.13,318.85 L396.18,319.03 L396.24,324.37 L396.29,323.36 L396.35,323.13 L396.41,323.24 L396.46,323.86 L396.52,324.78 L396.57,324.79 L396.63,325.83 L396.68,325.33 L396.74,326.56 L396.8,328.05 L396.85,327.78 L396.91,329.85 L396.96,328.91 L397.02,331.2 L397.08,328.97 L397.13,330.73 L397.19,329.62 L397.24,330.78 L397.3,332.08 L397.36,332.17 L397.41,332.37 L397.47,331.65 L397.52,333.61 L397.58,332.8 L397.64,332.34 L397.69,332.4 L397.75,333.53 L397.8,334.06 L397.86,334.97 L397.92,333.75 L397.97,334.04 L398.03,336.38 L398.08,335.64 L398.14,334.72 L398.19,335.35 L398.25,334.74 L398.31,335.07 L398.36,335.31 L398.42,335.54 L398.47,334.84 L398.53,335.02 L398.59,335.72 L398.64,334.99 L398.7,335.62 L398.75,336.25 L398.81,335.96 L398.87,336.52 L398.92,335.71 L398.98,335.68 L399.03,335.84 L399.09,336.69 L399.15,336.35 L399.2,336.97 L399.26,336.27 L399.31,335.83 L399.37,336.18 L399.43,336.04 L399.48,336.19 L399.54,336.63 L399.59,336.44 L399.65,336.54 L399.7,336.06 L399.76,336.02 L399.82,336.68 L399.87,336.62 L399.93,336.05 L399.98,336.13 L400.04,336.45" fill="none" stroke="#2ca02c" stroke-width="1.1" stroke-dasharray="1.4,1.8,0.8,2.6,2,1.5,1,3" stroke-opacity="0.9"/>
<path d="M666.3,335.88 L666.36,336.04 L666.42,335.66 L666.47,336.22 L666.53,335.68 L666.58,336.86 L666.64,336.05 L666.7,336.57 L666.75,336.1 L666.81,335.8 L666.86,336.29 L666.92,336.37 L666.97,335.49 L667.03,336.06 L667.09,336.28 L667.14,336.87 L667.2,336.86 L667.25,335.65 L667.31,335.99 L667.37,336.15 L667.42,336.19 L667.48,336.11 L667.53,336.04 L667.59,336.05 L667.65,335.74 L667.7,335.09 L667.76,335.97 L667.81,335.2 L667.87,336.07 L667.93,335.27 L667.98,335.66 L668.04,335.9 L668.09,335.26 L668.15,335.27 L668.21,333.92 L668.26,334.6 L668.32,335.16 L668.37,334.21 L668.43,335.12 L668.48,334.25 L668.54,333.92 L668.6,333.81 L668.65,334.79 L668.71,334.82 L668.76,333.22 L668.82,332.01 L668.88,332.46 L668.93,332.41 L668.99,332.2 L669.04,332.4 L669.1,331.17 L669.16,332.83 L669.21,331.12 L669.27,332.19 L669.32,331.54 L669.38,329.82 L669.44,328.55 L669.49,329.45 L669.55,328.22 L669.6,327.22 L669.66,325.92 L669.72,325.38 L669.77,326.47 L669.83,326 L669.88,324.9 L669.94,324.17 L669.99,323.94 L670.05,321.95 L670.11,322.29 L670.16,320.16 L670.22,317.7 L670.27,318.09 L670.33,318.02 L670.39,317.34 L670.44,315.75 L670.5,312.91 L670.55,312.55 L670.61,311.45 L670.67,310.78 L670.72,314.02 L670.78,310.81 L670.83,306.72 L670.89,307.87 L670.95,302.46 L671,297.48 L671.06,300.37 L671.11,299.64 L671.17,295.96 L671.23,293.94 L671.28,289.85 L671.34,289.5 L671.39,285.41 L671.45,282.72 L671.5,278.07 L671.56,283.89 L671.62,278.8 L671.67,280.6 L671.73,273.89 L671.78,271.98 L671.84,265.35 L671.9,267.39 L671.95,261.95 L672.01,262.95 L672.06,264.37 L672.12,258.21 L672.18,254.04 L672.23,249.15 L672.29,248.74 L672.34,241.04 L672.4,242.59 L672.46,239.44 L672.51,235 L672.57,234.1 L672.62,238.56 L672.68,231.23 L672.74,240.39 L672.79,227.03 L672.85,233.71 L672.9,229.58 L672.96,230.33 L673.01,230.28 L673.07,231.54 L673.13,228.98 L673.18,230.92 L673.24,232.13 L673.29,229.65 L673.35,232.48 L673.41,233.44 L673.46,239.41 L673.52,241.55 L673.57,239.11 L673.63,244.94 L673.69,243.05 L673.74,257.74 L673.8,248.7 L673.85,252.62 L673.91,255.45 L673.97,254.09 L674.02,267.35 L674.08,262.46 L674.13,269.13 L674.19,273.31 L674.25,270.44 L674.3,274.52 L674.36,272.84 L674.41,280.35 L674.47,281.68 L674.52,280.92 L674.58,288.27 L674.64,288.41 L674.69,288.92 L674.75,290.33 L674.8,292.47 L674.86,297.23 L674.92,296.67 L674.97,297.96 L675.03,300.69 L675.08,303.5 L675.14,303.86 L675.2,305.13 L675.25,306.86 L675.31,306.6 L675.36,309.91 L675.42,311.56 L675.48,314.94 L675.53,312.66 L675.59,313.72 L675.64,315.64 L675.7,318.52 L675.76,320.74 L675.81,322.17 L675.87,320.65 L675.92,320.3 L675.98,321.73 L676.03,323.95 L676.09,325.1 L676.15,325.27 L676.2,323.26 L676.26,326.58 L676.31,325.15 L676.37,326.82 L676.43,329.02 L676.48,328.58 L676.54,329.85 L676.59,330.14 L676.65,330.75 L676.71,330.39 L676.76,328.98 L676.82,332.15 L676.87,331.8 L676.93,333.06 L676.99,332.01 L677.04,332.26 L677.1,333.35 L677.15,332.83 L677.21,333.42 L677.27,333.45 L677.32,333.39 L677.38,334.69 L677.43,334.75 L677.49,333.95 L677.54,334.35 L677.6,334.79 L677.66,333.56 L677.71,334.39 L677.77,335.9 L677.82,334.87 L677.88,335.54 L677.94,336.15 L677.99,335.08 L678.05,335.35 L678.1,334.91 L678.16,336.17 L678.22,335.85 L678.27,335.6 L678.33,336.26 L678.38,336 L678.44,335.56 L678.5,336.38 L678.55,335.27 L678.61,337.3 L678.66,335.87 L678.72,336.01 L678.78,335.3 L678.83,335.7 L678.89,336.74 L678.94,335.69 L679,336.4 L679.05,335.98 L679.11,336.65 L679.17,335.82 L679.22,336.25 L679.28,336.19 L679.33,335.85 L679.39,336.36 L679.45,335.93 L679.5,336.51 L679.56,336.72 L679.61,336.03 L679.67,336.16" fill="none" stroke="#2ca02c" stroke-width="1.1" stroke-dasharray="1.4,1.8,0.8,2.6,2,1.5,1,3" stroke-opacity="0.9"/>
</g>
<rect x="382.2" y="228.6" width="302.0" height="108.7" fill="none" stroke="#333" stroke-width="0.85"/>
<path d="M421.35,337.3v3.5M477.27,337.3v3.5M533.2,337.3v3.5M589.13,337.3v3.5M645.05,337.3v3.5M382.2,315.56h-3.5M382.2,293.82h-3.5M382.2,272.08h-3.5M382.2,250.34h-3.5M382.2,228.6h-3.5" stroke="#333" stroke-width="0.85" fill="none"/>
<text x="410.65" y="350.70" font-size="10.4" font-weight="normal" font-style="normal" textLength="21.28" lengthAdjust="spacingAndGlyphs" >−20</text>
<text x="466.57" y="350.70" font-size="10.4" font-weight="normal" font-style="normal" textLength="21.28" lengthAdjust="spacingAndGlyphs" >−10</text>
<text x="529.89" y="350.70" font-size="10.4" font-weight="normal" font-style="normal" textLength="6.62" lengthAdjust="spacingAndGlyphs" >0</text>
<text x="582.40" y="350.70" font-size="10.4" font-weight="normal" font-style="normal" textLength="13.02" lengthAdjust="spacingAndGlyphs" >10</text>
<text x="638.44" y="350.70" font-size="10.4" font-weight="normal" font-style="normal" textLength="13.09" lengthAdjust="spacingAndGlyphs" >20</text>
<text x="361.37" y="319.61" font-size="10.4" font-weight="normal" font-style="normal" textLength="16.01" lengthAdjust="spacingAndGlyphs" >0.2</text>
<text x="360.92" y="297.87" font-size="10.4" font-weight="normal" font-style="normal" textLength="16.22" lengthAdjust="spacingAndGlyphs" >0.4</text>
<text x="360.99" y="276.13" font-size="10.4" font-weight="normal" font-style="normal" textLength="16.33" lengthAdjust="spacingAndGlyphs" >0.6</text>
<text x="361.04" y="254.39" font-size="10.4" font-weight="normal" font-style="normal" textLength="16.27" lengthAdjust="spacingAndGlyphs" >0.8</text>
<text x="361.03" y="232.65" font-size="10.4" font-weight="normal" font-style="normal" textLength="16.23" lengthAdjust="spacingAndGlyphs" >1.0</text>
<text x="507.01" y="362.80" font-size="10.4" font-weight="normal" font-style="normal" textLength="52.26" lengthAdjust="spacingAndGlyphs" >Delay [ns]</text>
<g transform="translate(355.9,0) rotate(-90)">
<text x="-345.98" y="0.00" font-size="10.4" font-weight="normal" font-style="normal" textLength="126.53" lengthAdjust="spacingAndGlyphs" >Coincidences [arb. units]</text>
</g>
<text x="484.65" y="209.70" font-size="12.4" font-weight="bold" font-style="normal" textLength="96.72" lengthAdjust="spacingAndGlyphs" >Resonance #2</text>
<text x="472.95" y="223.80" font-size="12.4" font-weight="normal" font-style="italic" textLength="8.78" lengthAdjust="spacingAndGlyphs" >V</text>
<text x="480.91" y="225.60" font-size="8.7" font-weight="normal" font-style="italic" textLength="13.69" lengthAdjust="spacingAndGlyphs" >TPI</text>
<text x="495.17" y="223.80" font-size="12.4" font-weight="normal" font-style="normal" textLength="9.84" lengthAdjust="spacingAndGlyphs" >=</text>
<text x="509.75" y="223.80" font-size="12.4" font-weight="normal" font-style="normal" textLength="86.76" lengthAdjust="spacingAndGlyphs" >0.845 ± 0.005</text>
<text x="367.60" y="217.50" font-size="14.5" font-weight="normal" font-style="normal" textLength="14.84" lengthAdjust="spacingAndGlyphs" >d)</text>
<rect x="524.81" y="277.51" width="16.78" height="59.79" fill="none" stroke="#000" stroke-opacity="0.5" stroke-width="1"/>
<path d="M524.81,337.3L454.7,260.1M541.59,337.3L612.3,260.1" stroke="#000" stroke-opacity="0.85" stroke-width="1" fill="none"/>
<clipPath id="iclipd"><rect x="454.7" y="233.5" width="157.6" height="26.6"/></clipPath>
<rect x="454.7" y="233.5" width="157.6" height="26.6" fill="#fff"/>
<path d="M480.97,233.5V260.1M533.5,233.5V260.1M586.03,233.5V260.1M454.7,248.01H612.3M454.7,235.92H612.3" stroke="#b0b0b0" stroke-width="0.8" fill="none"/>
<g clip-path="url(#iclipd)">
<path d="M454.7,260.02 L455.23,259.24 L455.75,259.28 L456.28,260.04 L456.8,259.67 L457.33,259.84 L457.85,259.73 L458.38,259.75 L458.9,259.63 L459.43,259.61 L459.95,259.59 L460.48,259.36 L461,259.78 L461.53,260.06 L462.05,259.48 L462.58,259.61 L463.11,259.49 L463.63,259.81 L464.16,259.74 L464.68,259.39 L465.21,259.82 L465.73,259.6 L466.26,259.37 L466.78,259.7 L467.31,259.79 L467.83,259.1 L468.36,259.66 L468.88,259.52 L469.41,259.62 L469.93,259.72 L470.46,259.4 L470.99,259.57 L471.51,259.76 L472.04,259.3 L472.56,259.85 L473.09,259.71 L473.61,259.58 L474.14,259.04 L474.66,259.25 L475.19,259.28 L475.71,259.26 L476.24,259.34 L476.76,259.55 L477.29,259.6 L477.81,259.93 L478.34,259.77 L478.87,259.47 L479.39,259.47 L479.92,259.16 L480.44,259.52 L480.97,259.83 L481.49,258.86 L482.02,259.43 L482.54,259.91 L483.07,258.73 L483.59,259.59 L484.12,259.01 L484.64,259.8 L485.17,259.38 L485.69,259.35 L486.22,259.24 L486.75,259.84 L487.27,258.85 L487.8,259.07 L488.32,259.28 L488.85,259.24 L489.37,259.48 L489.9,259.41 L490.42,259.09 L490.95,258.87 L491.47,259.09 L492,259.13 L492.52,258.49 L493.05,259.66 L493.57,259.83 L494.1,258.83 L494.63,258.87 L495.15,259.21 L495.68,258.64 L496.2,258.5 L496.73,258.32 L497.25,258.75 L497.78,258.19 L498.3,258.35 L498.83,258.6 L499.35,258.47 L499.88,259.14 L500.4,257.7 L500.93,258.05 L501.45,258.68 L501.98,257.59 L502.51,259.01 L503.03,257.42 L503.56,257.81 L504.08,258.09 L504.61,258.39 L505.13,257.34 L505.66,257.09 L506.18,257.76 L506.71,257.15 L507.23,256.23 L507.76,257.96 L508.28,256.37 L508.81,257.42 L509.33,256.1 L509.86,255.65 L510.39,256.31 L510.91,255.33 L511.44,253.97 L511.96,256.65 L512.49,253.72 L513.01,254.84 L513.54,254.97 L514.06,254.49 L514.59,253.31 L515.11,251.83 L515.64,252.71 L516.16,252.19 L516.69,252.76 L517.21,252.96 L517.74,250.38 L518.27,251.14 L518.79,253.03 L519.32,249.58 L519.84,249.9 L520.37,249.74 L520.89,249.25 L521.42,246.31 L521.94,248.23 L522.47,245.79 L522.99,246.66 L523.52,247 L524.04,242.86 L524.57,243.27 L525.09,241.53 L525.62,243.04 L526.15,241.52 L526.67,238.97 L527.2,242.28 L527.72,239.68 L528.25,240.39 L528.77,239.3 L529.3,241.46 L529.82,240.13 L530.35,242.27 L530.87,238.57 L531.4,238.21 L531.92,239.72 L532.45,236.03 L532.97,237.58 L533.5,237.98 L534.03,240.2 L534.55,238.57 L535.08,236.99 L535.6,240.13 L536.13,240.33 L536.65,239.63 L537.18,239.8 L537.7,239.04 L538.23,240.01 L538.75,242.46 L539.28,240.07 L539.8,241.42 L540.33,241.34 L540.85,244.34 L541.38,243.72 L541.91,243.77 L542.43,243.71 L542.96,244.66 L543.48,247.23 L544.01,244.21 L544.53,247.01 L545.06,247.34 L545.58,246.03 L546.11,248.76 L546.63,248.99 L547.16,248.67 L547.68,249.39 L548.21,251.87 L548.73,250.98 L549.26,249.95 L549.79,248.09 L550.31,253.07 L550.84,251.37 L551.36,252.32 L551.89,253.07 L552.41,252.84 L552.94,254.96 L553.46,254.69 L553.99,255.38 L554.51,254.64 L555.04,254.52 L555.56,255.79 L556.09,255.62 L556.61,255.38 L557.14,256.56 L557.67,256.91 L558.19,258.47 L558.72,257.51 L559.24,256.89 L559.77,257.55 L560.29,257.84 L560.82,256.54 L561.34,257.35 L561.87,257.13 L562.39,257.14 L562.92,257.64 L563.44,257.39 L563.97,258.53 L564.49,257.51 L565.02,258.28 L565.55,258.74 L566.07,259.33 L566.6,257.7 L567.12,259.03 L567.65,257.96 L568.17,258.86 L568.7,258.39 L569.22,258.02 L569.75,258.55 L570.27,259.05 L570.8,258.73 L571.32,258.77 L571.85,259.18 L572.37,258.89 L572.9,259.22 L573.43,258.93 L573.95,258.64 L574.48,258.45 L575,259.23 L575.53,258.99 L576.05,258.65 L576.58,258.53 L577.1,258.8 L577.63,258.51 L578.15,258.77 L578.68,259.52 L579.2,259.34 L579.73,258.42 L580.25,259.25 L580.78,259.11 L581.31,259.49 L581.83,259.35 L582.36,259.19 L582.88,259.45 L583.41,258.5 L583.93,259.4 L584.46,258.79 L584.98,259.6 L585.51,259.63 L586.03,259.85 L586.56,259.48 L587.08,259.38 L587.61,259.79 L588.13,259.72 L588.66,258.79 L589.19,259.32 L589.71,259.41 L590.24,259.5 L590.76,259.25 L591.29,259.75 L591.81,259.69 L592.34,259.72 L592.86,259.85 L593.39,259.68 L593.91,259.18 L594.44,259.54 L594.96,259.3 L595.49,259.8 L596.01,259.24 L596.54,259.44 L597.07,259.5 L597.59,259.78 L598.12,260.06 L598.64,259.52 L599.17,259.74 L599.69,259.78 L600.22,259.64 L600.74,259.79 L601.27,259.16 L601.79,259.61 L602.32,259.7 L602.84,259.53 L603.37,259.41 L603.89,259.84 L604.42,259.68 L604.95,259.68 L605.47,259.42 L606,259.67 L606.52,259.84 L607.05,259.54 L607.57,259.61 L608.1,259.62 L608.62,259.66 L609.15,259.98 L609.67,259.72 L610.2,259.77 L610.72,259.81 L611.25,259.7 L611.77,259.87 L612.3,259.76 L612.3,260.1 L454.7,260.1 Z" fill="#d62728" fill-opacity="0.3"/>
<path d="M454.7,259.63 L455.23,260.1 L455.75,259.76 L456.28,259.56 L456.8,259.58 L457.33,260.1 L457.85,259.61 L458.38,259.59 L458.9,259.57 L459.43,259.29 L459.95,259.46 L460.48,259.56 L461,259.27 L461.53,259.38 L462.05,259.61 L462.58,260.04 L463.11,259.72 L463.63,259.6 L464.16,259.59 L464.68,259.64 L465.21,259.81 L465.73,259.47 L466.26,259.46 L466.78,259.75 L467.31,259.59 L467.83,259.7 L468.36,259.84 L468.88,259.42 L469.41,259.53 L469.93,259.69 L470.46,259.74 L470.99,259.58 L471.51,259.63 L472.04,259.59 L472.56,259.57 L473.09,259.73 L473.61,259.57 L474.14,259.69 L474.66,259.66 L475.19,259.65 L475.71,259.81 L476.24,260.05 L476.76,259.71 L477.29,259.55 L477.81,259.52 L478.34,259.64 L478.87,259.58 L479.39,259.75 L479.92,259.44 L480.44,259.5 L480.97,259.77 L481.49,259.65 L482.02,259.46 L482.54,259.54 L483.07,259.71 L483.59,259.75 L484.12,259.37 L484.64,259.66 L485.17,259.53 L485.69,259.42 L486.22,259.7 L486.75,259.31 L487.27,259.89 L487.8,259.55 L488.32,259.65 L488.85,259.56 L489.37,259.77 L489.9,259.65 L490.42,259.59 L490.95,259.38 L491.47,259.17 L492,259.36 L492.52,259.48 L493.05,259.57 L493.57,258.97 L494.1,259.81 L494.63,259.21 L495.15,259.38 L495.68,259.29 L496.2,259.34 L496.73,259.34 L497.25,259.55 L497.78,259.81 L498.3,259.44 L498.83,259.5 L499.35,258.94 L499.88,259.51 L500.4,259.19 L500.93,259.37 L501.45,259.24 L501.98,259.11 L502.51,259.06 L503.03,258.99 L503.56,259.23 L504.08,258.92 L504.61,258.62 L505.13,259.11 L505.66,259.26 L506.18,258.95 L506.71,258.71 L507.23,259.42 L507.76,258.68 L508.28,259 L508.81,259.23 L509.33,259.24 L509.86,258.59 L510.39,259.33 L510.91,258.73 L511.44,259.03 L511.96,259.09 L512.49,258.7 L513.01,258.51 L513.54,258.7 L514.06,258.94 L514.59,258.91 L515.11,259.02 L515.64,258.81 L516.16,258.77 L516.69,258.71 L517.21,258.73 L517.74,258.6 L518.27,258.68 L518.79,258.52 L519.32,258.46 L519.84,258.32 L520.37,258.81 L520.89,258.87 L521.42,258.28 L521.94,258.86 L522.47,258.55 L522.99,258.16 L523.52,258.33 L524.04,258.7 L524.57,258.37 L525.09,258.37 L525.62,258.23 L526.15,258.58 L526.67,258.07 L527.2,257.56 L527.72,257.86 L528.25,258.8 L528.77,258.37 L529.3,258.17 L529.82,257.69 L530.35,257.85 L530.87,258.3 L531.4,258.09 L531.92,258.1 L532.45,258.19 L532.97,258.01 L533.5,258.42 L534.03,258.17 L534.55,257.51 L535.08,258.37 L535.6,258.05 L536.13,258.27 L536.65,257.77 L537.18,257.98 L537.7,258.22 L538.23,258.44 L538.75,257.88 L539.28,257.89 L539.8,258.8 L540.33,258.68 L540.85,258.26 L541.38,258.01 L541.91,257.62 L542.43,258.07 L542.96,258.7 L543.48,257.74 L544.01,258.4 L544.53,258.34 L545.06,258.45 L545.58,258.59 L546.11,258.38 L546.63,258.76 L547.16,258.03 L547.68,258.75 L548.21,258.25 L548.73,258.5 L549.26,258.31 L549.79,258.42 L550.31,258.42 L550.84,258.68 L551.36,257.93 L551.89,258.47 L552.41,258.48 L552.94,259.08 L553.46,258.73 L553.99,259.22 L554.51,258.95 L555.04,258.9 L555.56,258.96 L556.09,259.08 L556.61,259.12 L557.14,258.79 L557.67,258.79 L558.19,259.39 L558.72,259.42 L559.24,259.2 L559.77,258.97 L560.29,258.92 L560.82,258.47 L561.34,259.06 L561.87,259.14 L562.39,259.15 L562.92,259.29 L563.44,259.29 L563.97,259.06 L564.49,259.14 L565.02,259.57 L565.55,259.16 L566.07,259.14 L566.6,259.77 L567.12,259.06 L567.65,259.13 L568.17,259.11 L568.7,259.65 L569.22,258.74 L569.75,259.3 L570.27,259.59 L570.8,259.29 L571.32,259.41 L571.85,259.47 L572.37,259.69 L572.9,259.27 L573.43,259.73 L573.95,259.1 L574.48,259.24 L575,259.73 L575.53,259.4 L576.05,259.65 L576.58,259.45 L577.1,259.6 L577.63,259.04 L578.15,259.14 L578.68,259.23 L579.2,259.58 L579.73,259.74 L580.25,259.46 L580.78,259.63 L581.31,260.07 L581.83,259.38 L582.36,259.83 L582.88,259.67 L583.41,259.61 L583.93,259.58 L584.46,259.8 L584.98,259.31 L585.51,259.67 L586.03,259.47 L586.56,259.68 L587.08,259.54 L587.61,259.62 L588.13,259.53 L588.66,259.22 L589.19,259.56 L589.71,259.61 L590.24,259.69 L590.76,259.42 L591.29,259.71 L591.81,259.63 L592.34,259.43 L592.86,259.58 L593.39,259.45 L593.91,259.8 L594.44,259.56 L594.96,259.25 L595.49,259.85 L596.01,259.45 L596.54,259.74 L597.07,259.52 L597.59,259.3 L598.12,259.39 L598.64,259.87 L599.17,259.75 L599.69,259.75 L600.22,259.38 L600.74,259.62 L601.27,259.65 L601.79,259.75 L602.32,259.6 L602.84,259.65 L603.37,259.64 L603.89,260 L604.42,259.71 L604.95,259.82 L605.47,259.79 L606,259.41 L606.52,259.46 L607.05,259.73 L607.57,259.64 L608.1,259.54 L608.62,259.44 L609.15,259.7 L609.67,259.85 L610.2,259.63 L610.72,259.76 L611.25,259.9 L611.77,259.92 L612.3,259.81 L612.3,260.1 L454.7,260.1 Z" fill="#7dc832" fill-opacity="0.3"/>
<path d="M454.7,260.02 L455.23,259.24 L455.75,259.28 L456.28,260.04 L456.8,259.67 L457.33,259.84 L457.85,259.73 L458.38,259.75 L458.9,259.63 L459.43,259.61 L459.95,259.59 L460.48,259.36 L461,259.78 L461.53,260.06 L462.05,259.48 L462.58,259.61 L463.11,259.49 L463.63,259.81 L464.16,259.74 L464.68,259.39 L465.21,259.82 L465.73,259.6 L466.26,259.37 L466.78,259.7 L467.31,259.79 L467.83,259.1 L468.36,259.66 L468.88,259.52 L469.41,259.62 L469.93,259.72 L470.46,259.4 L470.99,259.57 L471.51,259.76 L472.04,259.3 L472.56,259.85 L473.09,259.71 L473.61,259.58 L474.14,259.04 L474.66,259.25 L475.19,259.28 L475.71,259.26 L476.24,259.34 L476.76,259.55 L477.29,259.6 L477.81,259.93 L478.34,259.77 L478.87,259.47 L479.39,259.47 L479.92,259.16 L480.44,259.52 L480.97,259.83 L481.49,258.86 L482.02,259.43 L482.54,259.91 L483.07,258.73 L483.59,259.59 L484.12,259.01 L484.64,259.8 L485.17,259.38 L485.69,259.35 L486.22,259.24 L486.75,259.84 L487.27,258.85 L487.8,259.07 L488.32,259.28 L488.85,259.24 L489.37,259.48 L489.9,259.41 L490.42,259.09 L490.95,258.87 L491.47,259.09 L492,259.13 L492.52,258.49 L493.05,259.66 L493.57,259.83 L494.1,258.83 L494.63,258.87 L495.15,259.21 L495.68,258.64 L496.2,258.5 L496.73,258.32 L497.25,258.75 L497.78,258.19 L498.3,258.35 L498.83,258.6 L499.35,258.47 L499.88,259.14 L500.4,257.7 L500.93,258.05 L501.45,258.68 L501.98,257.59 L502.51,259.01 L503.03,257.42 L503.56,257.81 L504.08,258.09 L504.61,258.39 L505.13,257.34 L505.66,257.09 L506.18,257.76 L506.71,257.15 L507.23,256.23 L507.76,257.96 L508.28,256.37 L508.81,257.42 L509.33,256.1 L509.86,255.65 L510.39,256.31 L510.91,255.33 L511.44,253.97 L511.96,256.65 L512.49,253.72 L513.01,254.84 L513.54,254.97 L514.06,254.49 L514.59,253.31 L515.11,251.83 L515.64,252.71 L516.16,252.19 L516.69,252.76 L517.21,252.96 L517.74,250.38 L518.27,251.14 L518.79,253.03 L519.32,249.58 L519.84,249.9 L520.37,249.74 L520.89,249.25 L521.42,246.31 L521.94,248.23 L522.47,245.79 L522.99,246.66 L523.52,247 L524.04,242.86 L524.57,243.27 L525.09,241.53 L525.62,243.04 L526.15,241.52 L526.67,238.97 L527.2,242.28 L527.72,239.68 L528.25,240.39 L528.77,239.3 L529.3,241.46 L529.82,240.13 L530.35,242.27 L530.87,238.57 L531.4,238.21 L531.92,239.72 L532.45,236.03 L532.97,237.58 L533.5,237.98 L534.03,240.2 L534.55,238.57 L535.08,236.99 L535.6,240.13 L536.13,240.33 L536.65,239.63 L537.18,239.8 L537.7,239.04 L538.23,240.01 L538.75,242.46 L539.28,240.07 L539.8,241.42 L540.33,241.34 L540.85,244.34 L541.38,243.72 L541.91,243.77 L542.43,243.71 L542.96,244.66 L543.48,247.23 L544.01,244.21 L544.53,247.01 L545.06,247.34 L545.58,246.03 L546.11,248.76 L546.63,248.99 L547.16,248.67 L547.68,249.39 L548.21,251.87 L548.73,250.98 L549.26,249.95 L549.79,248.09 L550.31,253.07 L550.84,251.37 L551.36,252.32 L551.89,253.07 L552.41,252.84 L552.94,254.96 L553.46,254.69 L553.99,255.38 L554.51,254.64 L555.04,254.52 L555.56,255.79 L556.09,255.62 L556.61,255.38 L557.14,256.56 L557.67,256.91 L558.19,258.47 L558.72,257.51 L559.24,256.89 L559.77,257.55 L560.29,257.84 L560.82,256.54 L561.34,257.35 L561.87,257.13 L562.39,257.14 L562.92,257.64 L563.44,257.39 L563.97,258.53 L564.49,257.51 L565.02,258.28 L565.55,258.74 L566.07,259.33 L566.6,257.7 L567.12,259.03 L567.65,257.96 L568.17,258.86 L568.7,258.39 L569.22,258.02 L569.75,258.55 L570.27,259.05 L570.8,258.73 L571.32,258.77 L571.85,259.18 L572.37,258.89 L572.9,259.22 L573.43,258.93 L573.95,258.64 L574.48,258.45 L575,259.23 L575.53,258.99 L576.05,258.65 L576.58,258.53 L577.1,258.8 L577.63,258.51 L578.15,258.77 L578.68,259.52 L579.2,259.34 L579.73,258.42 L580.25,259.25 L580.78,259.11 L581.31,259.49 L581.83,259.35 L582.36,259.19 L582.88,259.45 L583.41,258.5 L583.93,259.4 L584.46,258.79 L584.98,259.6 L585.51,259.63 L586.03,259.85 L586.56,259.48 L587.08,259.38 L587.61,259.79 L588.13,259.72 L588.66,258.79 L589.19,259.32 L589.71,259.41 L590.24,259.5 L590.76,259.25 L591.29,259.75 L591.81,259.69 L592.34,259.72 L592.86,259.85 L593.39,259.68 L593.91,259.18 L594.44,259.54 L594.96,259.3 L595.49,259.8 L596.01,259.24 L596.54,259.44 L597.07,259.5 L597.59,259.78 L598.12,260.06 L598.64,259.52 L599.17,259.74 L599.69,259.78 L600.22,259.64 L600.74,259.79 L601.27,259.16 L601.79,259.61 L602.32,259.7 L602.84,259.53 L603.37,259.41 L603.89,259.84 L604.42,259.68 L604.95,259.68 L605.47,259.42 L606,259.67 L606.52,259.84 L607.05,259.54 L607.57,259.61 L608.1,259.62 L608.62,259.66 L609.15,259.98 L609.67,259.72 L610.2,259.77 L610.72,259.81 L611.25,259.7 L611.77,259.87 L612.3,259.76" fill="none" stroke="#1f77b4" stroke-width="1.25" stroke-linejoin="round"/>
<path d="M454.7,259.63 L455.23,260.1 L455.75,259.76 L456.28,259.56 L456.8,259.58 L457.33,260.1 L457.85,259.61 L458.38,259.59 L458.9,259.57 L459.43,259.29 L459.95,259.46 L460.48,259.56 L461,259.27 L461.53,259.38 L462.05,259.61 L462.58,260.04 L463.11,259.72 L463.63,259.6 L464.16,259.59 L464.68,259.64 L465.21,259.81 L465.73,259.47 L466.26,259.46 L466.78,259.75 L467.31,259.59 L467.83,259.7 L468.36,259.84 L468.88,259.42 L469.41,259.53 L469.93,259.69 L470.46,259.74 L470.99,259.58 L471.51,259.63 L472.04,259.59 L472.56,259.57 L473.09,259.73 L473.61,259.57 L474.14,259.69 L474.66,259.66 L475.19,259.65 L475.71,259.81 L476.24,260.05 L476.76,259.71 L477.29,259.55 L477.81,259.52 L478.34,259.64 L478.87,259.58 L479.39,259.75 L479.92,259.44 L480.44,259.5 L480.97,259.77 L481.49,259.65 L482.02,259.46 L482.54,259.54 L483.07,259.71 L483.59,259.75 L484.12,259.37 L484.64,259.66 L485.17,259.53 L485.69,259.42 L486.22,259.7 L486.75,259.31 L487.27,259.89 L487.8,259.55 L488.32,259.65 L488.85,259.56 L489.37,259.77 L489.9,259.65 L490.42,259.59 L490.95,259.38 L491.47,259.17 L492,259.36 L492.52,259.48 L493.05,259.57 L493.57,258.97 L494.1,259.81 L494.63,259.21 L495.15,259.38 L495.68,259.29 L496.2,259.34 L496.73,259.34 L497.25,259.55 L497.78,259.81 L498.3,259.44 L498.83,259.5 L499.35,258.94 L499.88,259.51 L500.4,259.19 L500.93,259.37 L501.45,259.24 L501.98,259.11 L502.51,259.06 L503.03,258.99 L503.56,259.23 L504.08,258.92 L504.61,258.62 L505.13,259.11 L505.66,259.26 L506.18,258.95 L506.71,258.71 L507.23,259.42 L507.76,258.68 L508.28,259 L508.81,259.23 L509.33,259.24 L509.86,258.59 L510.39,259.33 L510.91,258.73 L511.44,259.03 L511.96,259.09 L512.49,258.7 L513.01,258.51 L513.54,258.7 L514.06,258.94 L514.59,258.91 L515.11,259.02 L515.64,258.81 L516.16,258.77 L516.69,258.71 L517.21,258.73 L517.74,258.6 L518.27,258.68 L518.79,258.52 L519.32,258.46 L519.84,258.32 L520.37,258.81 L520.89,258.87 L521.42,258.28 L521.94,258.86 L522.47,258.55 L522.99,258.16 L523.52,258.33 L524.04,258.7 L524.57,258.37 L525.09,258.37 L525.62,258.23 L526.15,258.58 L526.67,258.07 L527.2,257.56 L527.72,257.86 L528.25,258.8 L528.77,258.37 L529.3,258.17 L529.82,257.69 L530.35,257.85 L530.87,258.3 L531.4,258.09 L531.92,258.1 L532.45,258.19 L532.97,258.01 L533.5,258.42 L534.03,258.17 L534.55,257.51 L535.08,258.37 L535.6,258.05 L536.13,258.27 L536.65,257.77 L537.18,257.98 L537.7,258.22 L538.23,258.44 L538.75,257.88 L539.28,257.89 L539.8,258.8 L540.33,258.68 L540.85,258.26 L541.38,258.01 L541.91,257.62 L542.43,258.07 L542.96,258.7 L543.48,257.74 L544.01,258.4 L544.53,258.34 L545.06,258.45 L545.58,258.59 L546.11,258.38 L546.63,258.76 L547.16,258.03 L547.68,258.75 L548.21,258.25 L548.73,258.5 L549.26,258.31 L549.79,258.42 L550.31,258.42 L550.84,258.68 L551.36,257.93 L551.89,258.47 L552.41,258.48 L552.94,259.08 L553.46,258.73 L553.99,259.22 L554.51,258.95 L555.04,258.9 L555.56,258.96 L556.09,259.08 L556.61,259.12 L557.14,258.79 L557.67,258.79 L558.19,259.39 L558.72,259.42 L559.24,259.2 L559.77,258.97 L560.29,258.92 L560.82,258.47 L561.34,259.06 L561.87,259.14 L562.39,259.15 L562.92,259.29 L563.44,259.29 L563.97,259.06 L564.49,259.14 L565.02,259.57 L565.55,259.16 L566.07,259.14 L566.6,259.77 L567.12,259.06 L567.65,259.13 L568.17,259.11 L568.7,259.65 L569.22,258.74 L569.75,259.3 L570.27,259.59 L570.8,259.29 L571.32,259.41 L571.85,259.47 L572.37,259.69 L572.9,259.27 L573.43,259.73 L573.95,259.1 L574.48,259.24 L575,259.73 L575.53,259.4 L576.05,259.65 L576.58,259.45 L577.1,259.6 L577.63,259.04 L578.15,259.14 L578.68,259.23 L579.2,259.58 L579.73,259.74 L580.25,259.46 L580.78,259.63 L581.31,260.07 L581.83,259.38 L582.36,259.83 L582.88,259.67 L583.41,259.61 L583.93,259.58 L584.46,259.8 L584.98,259.31 L585.51,259.67 L586.03,259.47 L586.56,259.68 L587.08,259.54 L587.61,259.62 L588.13,259.53 L588.66,259.22 L589.19,259.56 L589.71,259.61 L590.24,259.69 L590.76,259.42 L591.29,259.71 L591.81,259.63 L592.34,259.43 L592.86,259.58 L593.39,259.45 L593.91,259.8 L594.44,259.56 L594.96,259.25 L595.49,259.85 L596.01,259.45 L596.54,259.74 L597.07,259.52 L597.59,259.3 L598.12,259.39 L598.64,259.87 L599.17,259.75 L599.69,259.75 L600.22,259.38 L600.74,259.62 L601.27,259.65 L601.79,259.75 L602.32,259.6 L602.84,259.65 L603.37,259.64 L603.89,260 L604.42,259.71 L604.95,259.82 L605.47,259.79 L606,259.41 L606.52,259.46 L607.05,259.73 L607.57,259.64 L608.1,259.54 L608.62,259.44 L609.15,259.7 L609.67,259.85 L610.2,259.63 L610.72,259.76 L611.25,259.9 L611.77,259.92 L612.3,259.81" fill="none" stroke="#2ca02c" stroke-width="1.6" stroke-linejoin="round"/>
</g>
<rect x="454.7" y="233.5" width="157.6" height="26.6" fill="none" stroke="#333" stroke-width="0.85"/>
<path d="M480.97,260.1v3.5M533.5,260.1v3.5M586.03,260.1v3.5M454.7,248.01h-3.5M454.7,235.92h-3.5" stroke="#333" stroke-width="0.85" fill="none"/>
<text x="473.59" y="272.70" font-size="10.4" font-weight="normal" font-style="normal" textLength="14.76" lengthAdjust="spacingAndGlyphs" >−1</text>
<text x="530.19" y="272.70" font-size="10.4" font-weight="normal" font-style="normal" textLength="6.62" lengthAdjust="spacingAndGlyphs" >0</text>
<text x="582.66" y="272.70" font-size="10.4" font-weight="normal" font-style="normal" textLength="6.43" lengthAdjust="spacingAndGlyphs" >1</text>
<text x="427.11" y="252.06" font-size="10.4" font-weight="normal" font-style="normal" textLength="22.48" lengthAdjust="spacingAndGlyphs" >0.25</text>
<text x="426.90" y="239.97" font-size="10.4" font-weight="normal" font-style="normal" textLength="22.66" lengthAdjust="spacingAndGlyphs" >0.50</text>
<rect x="215.8" y="0.5" width="304.5" height="17.7" rx="3" fill="#fff" fill-opacity="0.8" stroke="#cccccc" stroke-width="0.8"/>
<circle cx="229.8" cy="8.4" r="4.0" fill="#1f77b4"/>
<circle cx="398.5" cy="8.4" r="4.0" fill="#2ca02c"/>
<text x="248.66" y="12.20" font-size="10.4" font-weight="normal" font-style="normal" textLength="118.99" lengthAdjust="spacingAndGlyphs" >Orthogonal Polarization</text>
<text x="416.88" y="12.20" font-size="10.4" font-weight="normal" font-style="normal" textLength="99.12" lengthAdjust="spacingAndGlyphs" >Parallel Polarization</text>
</g></svg>
</body></html>
